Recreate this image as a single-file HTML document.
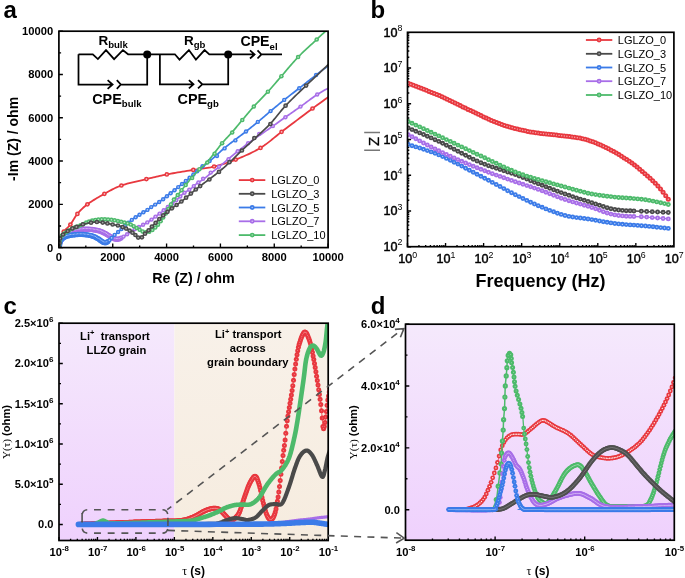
<!DOCTYPE html>
<html><head><meta charset="utf-8"><style>
html,body{margin:0;padding:0;background:#fff;width:685px;height:578px;overflow:hidden}
svg{display:block;will-change:transform}
text{font-family:"Liberation Sans",sans-serif}
</style></head><body><svg width="685" height="578" viewBox="0 0 685 578"><defs><clipPath id="clipA"><rect x="58.9" y="31.2" width="269.2" height="216.4"/></clipPath></defs><text x="3.60" y="17.80" font-family="Liberation Sans" font-size="24.00" font-weight="bold" text-anchor="start" >a</text><path d="M58.9 247.60 H62.9 M58.90 247.6 V243.6 M58.9 225.96 H61.1 M85.82 247.6 V245.4 M58.9 204.32 H62.9 M112.74 247.6 V243.6 M58.9 182.68 H61.1 M139.66 247.6 V245.4 M58.9 161.04 H62.9 M166.58 247.6 V243.6 M58.9 139.40 H61.1 M193.50 247.6 V245.4 M58.9 117.76 H62.9 M220.42 247.6 V243.6 M58.9 96.12 H61.1 M247.34 247.6 V245.4 M58.9 74.48 H62.9 M274.26 247.6 V243.6 M58.9 52.84 H61.1 M301.18 247.6 V245.4 M58.9 31.20 H62.9 M328.10 247.6 V243.6" stroke="#000" stroke-width="1.35" fill="none"/><text x="53.20" y="251.50" font-family="Liberation Sans" font-size="11.20" font-weight="bold" text-anchor="end" >0</text><text x="58.90" y="261.40" font-family="Liberation Sans" font-size="11.20" font-weight="bold" text-anchor="middle" >0</text><text x="53.20" y="208.22" font-family="Liberation Sans" font-size="11.20" font-weight="bold" text-anchor="end" >2000</text><text x="112.74" y="261.40" font-family="Liberation Sans" font-size="11.20" font-weight="bold" text-anchor="middle" >2000</text><text x="53.20" y="164.94" font-family="Liberation Sans" font-size="11.20" font-weight="bold" text-anchor="end" >4000</text><text x="166.58" y="261.40" font-family="Liberation Sans" font-size="11.20" font-weight="bold" text-anchor="middle" >4000</text><text x="53.20" y="121.66" font-family="Liberation Sans" font-size="11.20" font-weight="bold" text-anchor="end" >6000</text><text x="220.42" y="261.40" font-family="Liberation Sans" font-size="11.20" font-weight="bold" text-anchor="middle" >6000</text><text x="53.20" y="78.38" font-family="Liberation Sans" font-size="11.20" font-weight="bold" text-anchor="end" >8000</text><text x="274.26" y="261.40" font-family="Liberation Sans" font-size="11.20" font-weight="bold" text-anchor="middle" >8000</text><text x="53.20" y="35.10" font-family="Liberation Sans" font-size="11.20" font-weight="bold" text-anchor="end" >10000</text><text x="328.10" y="261.40" font-family="Liberation Sans" font-size="11.20" font-weight="bold" text-anchor="middle" >10000</text><text x="193.50" y="283.20" font-family="Liberation Sans" font-size="14.30" font-weight="bold" text-anchor="middle" >Re (Z) / ohm</text><text transform="translate(18,138.9) rotate(-90)" font-family="Liberation Sans" font-size="14" font-weight="bold" text-anchor="middle">-Im (Z) / ohm</text><g clip-path="url(#clipA)"><path d="M59.30 246.80 L59.35 246.52 L59.40 246.16 L59.47 245.73 L59.54 245.26 L59.62 244.74 L59.71 244.20 L59.80 243.64 L59.89 243.07 L59.99 242.52 L60.09 241.98 L60.20 241.47 L60.30 241.00 L60.41 240.56 L60.52 240.14 L60.63 239.73 L60.74 239.32 L60.86 238.92 L60.99 238.53 L61.11 238.14 L61.24 237.76 L61.38 237.37 L61.52 236.98 L61.66 236.59 L61.80 236.20 L61.93 235.81 L62.05 235.44 L62.16 235.07 L62.26 234.71 L62.36 234.35 L62.48 233.99 L62.62 233.62 L62.77 233.23 L62.96 232.83 L63.19 232.42 L63.47 231.97 L63.80 231.50 L64.19 231.01 L64.63 230.51 L65.12 230.00 L65.64 229.47 L66.20 228.93 L66.79 228.37 L67.39 227.79 L68.00 227.19 L68.61 226.56 L69.22 225.90 L69.82 225.22 L70.40 224.50 L70.96 223.74 L71.51 222.93 L72.05 222.08 L72.59 221.20 L73.14 220.29 L73.69 219.36 L74.25 218.43 L74.83 217.49 L75.43 216.56 L76.06 215.65 L76.71 214.76 L77.40 213.90 L78.11 213.07 L78.81 212.25 L79.53 211.45 L80.25 210.66 L81.00 209.87 L81.78 209.09 L82.59 208.31 L83.44 207.53 L84.34 206.74 L85.29 205.94 L86.31 205.13 L87.40 204.30 L88.57 203.45 L89.83 202.58 L91.16 201.69 L92.55 200.79 L93.99 199.88 L95.46 198.97 L96.96 198.06 L98.47 197.17 L99.99 196.29 L101.49 195.43 L102.96 194.60 L104.40 193.80 L105.79 193.03 L107.14 192.27 L108.46 191.53 L109.77 190.80 L111.08 190.09 L112.40 189.39 L113.75 188.71 L115.14 188.04 L116.59 187.39 L118.10 186.75 L119.70 186.12 L121.40 185.50 L123.22 184.89 L125.16 184.30 L127.20 183.73 L129.31 183.16 L131.48 182.61 L133.69 182.07 L135.90 181.55 L138.11 181.04 L140.29 180.54 L142.41 180.05 L144.45 179.57 L146.40 179.10 L148.24 178.65 L150.00 178.22 L151.68 177.80 L153.31 177.40 L154.92 177.01 L156.51 176.63 L158.10 176.26 L159.72 175.89 L161.38 175.52 L163.10 175.15 L164.90 174.78 L166.80 174.40 L168.81 174.01 L170.93 173.63 L173.13 173.24 L175.39 172.84 L177.70 172.46 L180.03 172.07 L182.35 171.69 L184.66 171.31 L186.93 170.94 L189.14 170.58 L191.27 170.24 L193.30 169.90 L195.23 169.59 L197.09 169.31 L198.88 169.05 L200.63 168.81 L202.33 168.58 L204.01 168.35 L205.67 168.11 L207.32 167.85 L208.98 167.57 L210.65 167.26 L212.36 166.90 L214.10 166.50 L215.86 166.06 L217.62 165.61 L219.37 165.13 L221.12 164.64 L222.88 164.12 L224.65 163.57 L226.43 162.99 L228.23 162.39 L230.06 161.74 L231.91 161.07 L233.79 160.35 L235.70 159.60 L237.67 158.81 L239.69 157.98 L241.76 157.12 L243.87 156.22 L245.99 155.29 L248.13 154.32 L250.27 153.33 L252.39 152.30 L254.49 151.25 L256.54 150.16 L258.55 149.04 L260.50 147.90 L262.36 146.74 L264.12 145.55 L265.81 144.35 L267.44 143.13 L269.06 141.87 L270.67 140.58 L272.30 139.24 L273.98 137.86 L275.72 136.43 L277.56 134.95 L279.51 133.41 L281.60 131.80 L283.86 130.09 L286.29 128.24 L288.86 126.30 L291.52 124.28 L294.26 122.21 L297.03 120.11 L299.80 118.02 L302.53 115.96 L305.21 113.95 L307.78 112.02 L310.22 110.19 L312.50 108.50 L314.69 106.89 L316.88 105.29 L319.04 103.71 L321.16 102.18 L323.21 100.70 L325.18 99.29 L327.04 97.96 L328.77 96.73 L330.36 95.60 L331.77 94.60 L332.99 93.72 L334.00 93.00" stroke="#e8383f" stroke-width="1.8" fill="none"/><g fill="#e8383f"><circle cx="59.3" cy="246.8" r="2.35"/><circle cx="60.3" cy="241.0" r="2.35"/><circle cx="61.8" cy="236.2" r="2.35"/><circle cx="63.8" cy="231.5" r="2.35"/><circle cx="70.4" cy="224.5" r="2.35"/><circle cx="77.4" cy="213.9" r="2.35"/><circle cx="87.4" cy="204.3" r="2.35"/><circle cx="104.4" cy="193.8" r="2.35"/><circle cx="121.4" cy="185.5" r="2.35"/><circle cx="146.4" cy="179.1" r="2.35"/><circle cx="166.8" cy="174.4" r="2.35"/><circle cx="193.3" cy="169.9" r="2.35"/><circle cx="214.1" cy="166.5" r="2.35"/><circle cx="235.7" cy="159.6" r="2.35"/><circle cx="260.5" cy="147.9" r="2.35"/><circle cx="281.6" cy="131.8" r="2.35"/><circle cx="312.5" cy="108.5" r="2.35"/></g><g fill="#f8c3c5"><circle cx="59.3" cy="246.8" r="0.85"/><circle cx="60.3" cy="241.0" r="0.85"/><circle cx="61.8" cy="236.2" r="0.85"/><circle cx="63.8" cy="231.5" r="0.85"/><circle cx="70.4" cy="224.5" r="0.85"/><circle cx="77.4" cy="213.9" r="0.85"/><circle cx="87.4" cy="204.3" r="0.85"/><circle cx="104.4" cy="193.8" r="0.85"/><circle cx="121.4" cy="185.5" r="0.85"/><circle cx="146.4" cy="179.1" r="0.85"/><circle cx="166.8" cy="174.4" r="0.85"/><circle cx="193.3" cy="169.9" r="0.85"/><circle cx="214.1" cy="166.5" r="0.85"/><circle cx="235.7" cy="159.6" r="0.85"/><circle cx="260.5" cy="147.9" r="0.85"/><circle cx="281.6" cy="131.8" r="0.85"/><circle cx="312.5" cy="108.5" r="0.85"/></g><g clip-path="url(#clipA)"><path d="M59.20 247.00 L59.23 246.76 L59.27 246.44 L59.32 246.08 L59.36 245.67 L59.42 245.22 L59.48 244.75 L59.54 244.27 L59.61 243.78 L59.70 243.30 L59.79 242.83 L59.89 242.40 L60.00 242.00 L60.12 241.63 L60.25 241.27 L60.38 240.92 L60.52 240.57 L60.67 240.24 L60.83 239.91 L61.00 239.58 L61.18 239.26 L61.37 238.94 L61.57 238.63 L61.78 238.31 L62.00 238.00 L62.24 237.69 L62.48 237.38 L62.75 237.07 L63.02 236.76 L63.30 236.46 L63.59 236.16 L63.89 235.86 L64.20 235.57 L64.52 235.29 L64.84 235.02 L65.17 234.76 L65.50 234.50 L65.84 234.25 L66.17 234.02 L66.52 233.79 L66.87 233.56 L67.23 233.35 L67.59 233.14 L67.97 232.93 L68.35 232.74 L68.75 232.55 L69.15 232.36 L69.57 232.18 L70.00 232.00 L70.45 231.83 L70.91 231.66 L71.39 231.50 L71.89 231.34 L72.39 231.19 L72.91 231.05 L73.42 230.91 L73.94 230.78 L74.46 230.65 L74.98 230.53 L75.50 230.41 L76.00 230.30 L76.50 230.19 L77.00 230.10 L77.50 230.00 L78.00 229.91 L78.50 229.83 L79.00 229.76 L79.50 229.68 L80.00 229.62 L80.50 229.56 L81.00 229.50 L81.50 229.45 L82.00 229.40 L82.50 229.36 L83.00 229.32 L83.50 229.28 L84.00 229.25 L84.50 229.23 L85.00 229.21 L85.50 229.19 L86.00 229.18 L86.50 229.18 L87.00 229.18 L87.50 229.19 L88.00 229.20 L88.50 229.22 L89.00 229.24 L89.50 229.28 L90.00 229.31 L90.50 229.35 L91.00 229.40 L91.50 229.45 L92.00 229.51 L92.50 229.57 L93.00 229.64 L93.50 229.72 L94.00 229.80 L94.50 229.89 L95.01 229.98 L95.52 230.08 L96.04 230.18 L96.55 230.29 L97.06 230.40 L97.57 230.52 L98.07 230.64 L98.57 230.78 L99.06 230.91 L99.54 231.05 L100.00 231.20 L100.45 231.35 L100.90 231.52 L101.33 231.68 L101.76 231.86 L102.18 232.04 L102.59 232.22 L103.00 232.41 L103.41 232.61 L103.81 232.80 L104.21 233.00 L104.60 233.20 L105.00 233.40 L105.40 233.60 L105.79 233.81 L106.18 234.03 L106.57 234.25 L106.96 234.47 L107.34 234.69 L107.72 234.92 L108.09 235.14 L108.46 235.36 L108.81 235.58 L109.16 235.79 L109.50 236.00 L109.83 236.21 L110.14 236.42 L110.45 236.63 L110.74 236.84 L111.03 237.05 L111.31 237.26 L111.59 237.46 L111.87 237.65 L112.15 237.83 L112.43 238.00 L112.71 238.16 L113.00 238.30 L113.29 238.43 L113.58 238.55 L113.88 238.66 L114.17 238.76 L114.46 238.85 L114.75 238.93 L115.04 239.00 L115.33 239.06 L115.62 239.11 L115.92 239.15 L116.21 239.18 L116.50 239.20 L116.78 239.21 L117.05 239.22 L117.31 239.23 L117.57 239.23 L117.82 239.21 L118.08 239.19 L118.35 239.15 L118.63 239.09 L118.94 239.00 L119.26 238.90 L119.61 238.76 L120.00 238.60 L120.42 238.40 L120.89 238.17 L121.38 237.90 L121.89 237.60 L122.43 237.29 L122.97 236.96 L123.53 236.61 L124.09 236.26 L124.64 235.91 L125.18 235.56 L125.70 235.23 L126.20 234.90 L126.68 234.58 L127.16 234.25 L127.63 233.92 L128.09 233.59 L128.55 233.25 L129.00 232.91 L129.45 232.58 L129.90 232.25 L130.35 231.92 L130.80 231.61 L131.25 231.30 L131.70 231.00 L132.15 230.71 L132.60 230.44 L133.04 230.17 L133.47 229.91 L133.91 229.66 L134.35 229.41 L134.79 229.16 L135.24 228.91 L135.69 228.66 L136.15 228.41 L136.62 228.16 L137.10 227.90 L137.59 227.64 L138.10 227.38 L138.61 227.12 L139.14 226.86 L139.67 226.60 L140.20 226.34 L140.74 226.08 L141.27 225.81 L141.81 225.54 L142.35 225.27 L142.88 224.99 L143.40 224.70 L143.92 224.40 L144.45 224.10 L144.98 223.79 L145.50 223.48 L146.03 223.16 L146.56 222.84 L147.08 222.52 L147.60 222.20 L148.11 221.87 L148.61 221.55 L149.11 221.22 L149.60 220.90 L150.08 220.58 L150.54 220.27 L150.99 219.95 L151.43 219.64 L151.86 219.32 L152.29 219.01 L152.73 218.69 L153.16 218.36 L153.61 218.03 L154.06 217.70 L154.52 217.35 L155.00 217.00 L155.50 216.64 L156.01 216.26 L156.53 215.87 L157.07 215.48 L157.61 215.08 L158.15 214.68 L158.69 214.28 L159.23 213.87 L159.77 213.47 L160.29 213.08 L160.80 212.68 L161.30 212.30 L161.78 211.92 L162.25 211.55 L162.71 211.17 L163.16 210.80 L163.61 210.44 L164.05 210.07 L164.49 209.70 L164.93 209.34 L165.36 208.98 L165.80 208.62 L166.25 208.26 L166.70 207.90 L167.16 207.54 L167.61 207.19 L168.07 206.85 L168.53 206.50 L168.99 206.16 L169.45 205.82 L169.91 205.48 L170.37 205.13 L170.83 204.78 L171.29 204.43 L171.74 204.07 L172.20 203.70 L172.65 203.33 L173.10 202.96 L173.54 202.58 L173.98 202.21 L174.42 201.83 L174.86 201.44 L175.30 201.05 L175.74 200.66 L176.20 200.26 L176.65 199.85 L177.12 199.43 L177.60 199.00 L178.09 198.56 L178.58 198.10 L179.07 197.62 L179.57 197.14 L180.08 196.65 L180.59 196.15 L181.11 195.65 L181.64 195.16 L182.17 194.68 L182.71 194.20 L183.25 193.74 L183.80 193.30 L184.37 192.87 L184.95 192.46 L185.55 192.05 L186.16 191.66 L186.78 191.27 L187.40 190.89 L188.02 190.51 L188.63 190.13 L189.22 189.75 L189.80 189.37 L190.36 188.99 L190.90 188.60 L191.40 188.21 L191.88 187.82 L192.33 187.42 L192.76 187.03 L193.18 186.64 L193.60 186.25 L194.02 185.86 L194.44 185.47 L194.87 185.07 L195.32 184.68 L195.80 184.29 L196.30 183.90 L196.83 183.51 L197.38 183.13 L197.95 182.76 L198.53 182.38 L199.12 182.01 L199.72 181.63 L200.33 181.25 L200.94 180.86 L201.56 180.47 L202.17 180.06 L202.79 179.64 L203.40 179.20 L204.01 178.75 L204.61 178.28 L205.22 177.81 L205.83 177.32 L206.44 176.83 L207.05 176.32 L207.67 175.82 L208.30 175.30 L208.93 174.78 L209.58 174.26 L210.23 173.73 L210.90 173.20 L211.58 172.67 L212.28 172.13 L212.99 171.59 L213.71 171.04 L214.44 170.49 L215.17 169.94 L215.91 169.38 L216.66 168.81 L217.40 168.24 L218.14 167.67 L218.87 167.09 L219.60 166.50 L220.32 165.91 L221.05 165.31 L221.77 164.70 L222.49 164.09 L223.20 163.47 L223.92 162.85 L224.65 162.23 L225.37 161.60 L226.10 160.97 L226.83 160.35 L227.56 159.72 L228.30 159.10 L229.04 158.48 L229.78 157.86 L230.51 157.25 L231.24 156.63 L231.98 156.02 L232.72 155.40 L233.47 154.78 L234.23 154.16 L235.00 153.53 L235.79 152.89 L236.58 152.25 L237.40 151.60 L238.23 150.94 L239.07 150.28 L239.92 149.61 L240.79 148.94 L241.66 148.26 L242.54 147.57 L243.44 146.89 L244.35 146.20 L245.27 145.50 L246.20 144.80 L247.14 144.10 L248.10 143.40 L249.07 142.69 L250.07 141.98 L251.08 141.26 L252.11 140.53 L253.15 139.81 L254.19 139.07 L255.25 138.34 L256.30 137.61 L257.36 136.88 L258.41 136.15 L259.46 135.42 L260.50 134.70 L261.53 133.98 L262.57 133.26 L263.60 132.55 L264.63 131.84 L265.66 131.12 L266.69 130.41 L267.73 129.70 L268.76 128.99 L269.79 128.27 L270.83 127.55 L271.86 126.83 L272.90 126.10 L273.93 125.37 L274.95 124.65 L275.96 123.94 L276.96 123.22 L277.97 122.50 L278.98 121.77 L280.00 121.04 L281.04 120.30 L282.09 119.55 L283.17 118.79 L284.27 118.00 L285.40 117.20 L286.56 116.38 L287.75 115.55 L288.95 114.70 L290.18 113.85 L291.43 112.98 L292.69 112.10 L293.96 111.21 L295.25 110.31 L296.55 109.40 L297.86 108.47 L299.18 107.54 L300.50 106.60 L301.85 105.63 L303.24 104.61 L304.65 103.57 L306.09 102.50 L307.54 101.42 L308.99 100.34 L310.44 99.28 L311.86 98.23 L313.26 97.22 L314.62 96.26 L315.94 95.35 L317.20 94.50 L318.44 93.70 L319.71 92.92 L320.97 92.17 L322.23 91.44 L323.46 90.75 L324.64 90.09 L325.77 89.48 L326.83 88.91 L327.79 88.40 L328.65 87.94 L329.39 87.54 L330.00 87.20" stroke="#a86ee8" stroke-width="1.70" fill="none" stroke-linejoin="round"/><g fill="#a86ee8"><circle cx="59.2" cy="247.0" r="2.70"/><circle cx="59.4" cy="245.6" r="2.70"/><circle cx="59.5" cy="244.2" r="2.70"/><circle cx="59.8" cy="242.8" r="2.70"/><circle cx="60.2" cy="241.5" r="2.70"/><circle cx="60.7" cy="240.2" r="2.70"/><circle cx="61.4" cy="239.0" r="2.70"/><circle cx="62.1" cy="237.8" r="2.70"/><circle cx="63.0" cy="236.7" r="2.70"/><circle cx="64.0" cy="235.7" r="2.70"/><circle cx="65.1" cy="234.8" r="2.70"/><circle cx="66.2" cy="234.0" r="2.70"/><circle cx="67.4" cy="233.3" r="2.70"/><circle cx="68.6" cy="232.6" r="2.70"/><circle cx="69.9" cy="232.0" r="2.70"/><circle cx="71.2" cy="231.6" r="2.70"/><circle cx="72.6" cy="231.1" r="2.70"/><circle cx="73.9" cy="230.8" r="2.70"/><circle cx="75.3" cy="230.5" r="2.70"/><circle cx="76.7" cy="230.2" r="2.70"/><circle cx="78.0" cy="229.9" r="2.70"/><circle cx="79.4" cy="229.7" r="2.70"/><circle cx="80.8" cy="229.5" r="2.70"/><circle cx="82.2" cy="229.4" r="2.70"/><circle cx="83.6" cy="229.3" r="2.70"/><circle cx="85.0" cy="229.2" r="2.70"/><circle cx="86.4" cy="229.2" r="2.70"/><circle cx="87.8" cy="229.2" r="2.70"/><circle cx="89.2" cy="229.3" r="2.70"/><circle cx="90.6" cy="229.4" r="2.70"/><circle cx="92.0" cy="229.5" r="2.70"/><circle cx="93.4" cy="229.7" r="2.70"/><circle cx="94.7" cy="229.9" r="2.70"/><circle cx="96.1" cy="230.2" r="2.70"/><circle cx="97.5" cy="230.5" r="2.70"/><circle cx="98.8" cy="230.8" r="2.70"/><circle cx="100.2" cy="231.3" r="2.70"/><circle cx="101.5" cy="231.7" r="2.70"/><circle cx="102.8" cy="232.3" r="2.70"/><circle cx="104.0" cy="232.9" r="2.70"/><circle cx="105.3" cy="233.5" r="2.70"/><circle cx="106.5" cy="234.2" r="2.70"/><circle cx="107.7" cy="234.9" r="2.70"/><circle cx="108.9" cy="235.6" r="2.70"/><circle cx="110.1" cy="236.4" r="2.70"/><circle cx="111.2" cy="237.2" r="2.70"/><circle cx="112.4" cy="238.0" r="2.70"/><circle cx="113.7" cy="238.6" r="2.70"/><circle cx="115.0" cy="239.0" r="2.70"/><circle cx="116.4" cy="239.2" r="2.70"/><circle cx="117.8" cy="239.2" r="2.70"/><circle cx="119.2" cy="238.9" r="2.70"/><circle cx="121.0" cy="238.1" r="2.70"/></g><g fill="#e0ccf6"><circle cx="59.2" cy="246.3" r="0.50"/><circle cx="59.4" cy="244.9" r="0.50"/><circle cx="59.5" cy="243.5" r="0.50"/><circle cx="59.8" cy="242.1" r="0.50"/><circle cx="60.2" cy="240.8" r="0.50"/><circle cx="60.7" cy="239.5" r="0.50"/><circle cx="61.4" cy="238.3" r="0.50"/><circle cx="62.1" cy="237.1" r="0.50"/><circle cx="63.0" cy="236.0" r="0.50"/><circle cx="64.0" cy="235.0" r="0.50"/><circle cx="65.1" cy="234.1" r="0.50"/><circle cx="66.2" cy="233.3" r="0.50"/><circle cx="67.4" cy="232.6" r="0.50"/><circle cx="68.6" cy="231.9" r="0.50"/><circle cx="69.9" cy="231.3" r="0.50"/><circle cx="71.2" cy="230.9" r="0.50"/><circle cx="72.6" cy="230.4" r="0.50"/><circle cx="73.9" cy="230.1" r="0.50"/><circle cx="75.3" cy="229.8" r="0.50"/><circle cx="76.7" cy="229.5" r="0.50"/><circle cx="78.0" cy="229.2" r="0.50"/><circle cx="79.4" cy="229.0" r="0.50"/><circle cx="80.8" cy="228.8" r="0.50"/><circle cx="82.2" cy="228.7" r="0.50"/><circle cx="83.6" cy="228.6" r="0.50"/><circle cx="85.0" cy="228.5" r="0.50"/><circle cx="86.4" cy="228.5" r="0.50"/><circle cx="87.8" cy="228.5" r="0.50"/><circle cx="89.2" cy="228.6" r="0.50"/><circle cx="90.6" cy="228.7" r="0.50"/><circle cx="92.0" cy="228.8" r="0.50"/><circle cx="93.4" cy="229.0" r="0.50"/><circle cx="94.7" cy="229.2" r="0.50"/><circle cx="96.1" cy="229.5" r="0.50"/><circle cx="97.5" cy="229.8" r="0.50"/><circle cx="98.8" cy="230.1" r="0.50"/><circle cx="100.2" cy="230.6" r="0.50"/><circle cx="101.5" cy="231.0" r="0.50"/><circle cx="102.8" cy="231.6" r="0.50"/><circle cx="104.0" cy="232.2" r="0.50"/><circle cx="105.3" cy="232.8" r="0.50"/><circle cx="106.5" cy="233.5" r="0.50"/><circle cx="107.7" cy="234.2" r="0.50"/><circle cx="108.9" cy="234.9" r="0.50"/><circle cx="110.1" cy="235.7" r="0.50"/><circle cx="111.2" cy="236.5" r="0.50"/><circle cx="112.4" cy="237.3" r="0.50"/><circle cx="113.7" cy="237.9" r="0.50"/><circle cx="115.0" cy="238.3" r="0.50"/><circle cx="116.4" cy="238.5" r="0.50"/><circle cx="117.8" cy="238.5" r="0.50"/><circle cx="119.2" cy="238.2" r="0.50"/><circle cx="121.0" cy="237.4" r="0.50"/></g><g fill="#a86ee8"><circle cx="123.5" cy="236.6" r="2.20"/><circle cx="127.1" cy="234.3" r="2.20"/><circle cx="130.8" cy="231.6" r="2.20"/><circle cx="134.7" cy="229.2" r="2.20"/><circle cx="138.9" cy="227.0" r="2.20"/><circle cx="143.1" cy="224.8" r="2.20"/><circle cx="147.3" cy="222.4" r="2.20"/><circle cx="151.5" cy="219.6" r="2.20"/><circle cx="155.5" cy="216.6" r="2.20"/><circle cx="159.6" cy="213.6" r="2.20"/><circle cx="163.7" cy="210.3" r="2.20"/><circle cx="167.8" cy="207.0" r="2.20"/><circle cx="172.1" cy="203.8" r="2.20"/><circle cx="176.2" cy="200.2" r="2.20"/><circle cx="180.3" cy="196.5" r="2.20"/><circle cx="184.5" cy="192.8" r="2.20"/><circle cx="189.3" cy="189.7" r="2.20"/><circle cx="193.8" cy="186.1" r="2.20"/><circle cx="198.4" cy="182.5" r="2.20"/><circle cx="203.1" cy="178.8" r="2.20"/><circle cx="210.7" cy="172.6" r="2.20"/><circle cx="219.0" cy="166.7" r="2.20"/><circle cx="228.5" cy="159.2" r="2.20"/><circle cx="237.7" cy="151.2" r="2.20"/><circle cx="248.1" cy="143.2" r="2.20"/><circle cx="259.2" cy="133.9" r="2.20"/><circle cx="272.9" cy="126.1" r="2.20"/><circle cx="285.4" cy="117.2" r="2.20"/><circle cx="300.5" cy="106.6" r="2.20"/><circle cx="317.2" cy="94.5" r="2.20"/></g><g fill="#e0ccf6"><circle cx="123.5" cy="236.6" r="0.80"/><circle cx="127.1" cy="234.3" r="0.80"/><circle cx="130.8" cy="231.6" r="0.80"/><circle cx="134.7" cy="229.2" r="0.80"/><circle cx="138.9" cy="227.0" r="0.80"/><circle cx="143.1" cy="224.8" r="0.80"/><circle cx="147.3" cy="222.4" r="0.80"/><circle cx="151.5" cy="219.6" r="0.80"/><circle cx="155.5" cy="216.6" r="0.80"/><circle cx="159.6" cy="213.6" r="0.80"/><circle cx="163.7" cy="210.3" r="0.80"/><circle cx="167.8" cy="207.0" r="0.80"/><circle cx="172.1" cy="203.8" r="0.80"/><circle cx="176.2" cy="200.2" r="0.80"/><circle cx="180.3" cy="196.5" r="0.80"/><circle cx="184.5" cy="192.8" r="0.80"/><circle cx="189.3" cy="189.7" r="0.80"/><circle cx="193.8" cy="186.1" r="0.80"/><circle cx="198.4" cy="182.5" r="0.80"/><circle cx="203.1" cy="178.8" r="0.80"/><circle cx="210.7" cy="172.6" r="0.80"/><circle cx="219.0" cy="166.7" r="0.80"/><circle cx="228.5" cy="159.2" r="0.80"/><circle cx="237.7" cy="151.2" r="0.80"/><circle cx="248.1" cy="143.2" r="0.80"/><circle cx="259.2" cy="133.9" r="0.80"/><circle cx="272.9" cy="126.1" r="0.80"/><circle cx="285.4" cy="117.2" r="0.80"/><circle cx="300.5" cy="106.6" r="0.80"/><circle cx="317.2" cy="94.5" r="0.80"/></g></g><g clip-path="url(#clipA)"><path d="M59.20 247.00 L59.23 246.81 L59.25 246.56 L59.28 246.27 L59.31 245.94 L59.35 245.59 L59.39 245.22 L59.44 244.83 L59.50 244.44 L59.56 244.06 L59.63 243.68 L59.71 243.33 L59.80 243.00 L59.90 242.69 L60.00 242.37 L60.12 242.06 L60.24 241.75 L60.36 241.45 L60.50 241.14 L60.64 240.85 L60.80 240.56 L60.96 240.28 L61.13 240.01 L61.31 239.75 L61.50 239.50 L61.70 239.26 L61.91 239.04 L62.12 238.82 L62.35 238.62 L62.58 238.42 L62.83 238.23 L63.08 238.05 L63.34 237.87 L63.61 237.70 L63.90 237.53 L64.19 237.36 L64.50 237.20 L64.82 237.04 L65.15 236.88 L65.48 236.73 L65.83 236.59 L66.19 236.45 L66.56 236.31 L66.94 236.18 L67.33 236.06 L67.73 235.93 L68.15 235.82 L68.57 235.71 L69.00 235.60 L69.45 235.50 L69.91 235.40 L70.38 235.31 L70.86 235.23 L71.36 235.14 L71.86 235.07 L72.37 235.00 L72.89 234.93 L73.42 234.87 L73.94 234.81 L74.47 234.75 L75.00 234.70 L75.54 234.65 L76.08 234.60 L76.64 234.56 L77.20 234.52 L77.76 234.49 L78.33 234.46 L78.90 234.43 L79.47 234.41 L80.04 234.40 L80.60 234.39 L81.15 234.39 L81.70 234.40 L82.24 234.42 L82.78 234.44 L83.31 234.46 L83.84 234.50 L84.37 234.54 L84.89 234.58 L85.42 234.63 L85.94 234.69 L86.46 234.76 L86.97 234.83 L87.49 234.91 L88.00 235.00 L88.52 235.10 L89.03 235.20 L89.56 235.31 L90.08 235.43 L90.60 235.56 L91.11 235.69 L91.62 235.83 L92.12 235.97 L92.61 236.12 L93.09 236.28 L93.55 236.44 L94.00 236.60 L94.43 236.77 L94.85 236.95 L95.25 237.14 L95.65 237.34 L96.03 237.54 L96.41 237.74 L96.77 237.95 L97.13 238.16 L97.48 238.37 L97.83 238.58 L98.16 238.79 L98.50 239.00 L98.83 239.21 L99.15 239.42 L99.46 239.65 L99.76 239.87 L100.05 240.10 L100.34 240.32 L100.63 240.54 L100.91 240.75 L101.18 240.96 L101.46 241.15 L101.73 241.33 L102.00 241.50 L102.27 241.66 L102.53 241.82 L102.79 241.97 L103.04 242.11 L103.30 242.25 L103.54 242.38 L103.79 242.50 L104.03 242.60 L104.28 242.68 L104.52 242.74 L104.76 242.78 L105.00 242.80 L105.24 242.79 L105.47 242.77 L105.70 242.72 L105.93 242.66 L106.16 242.57 L106.39 242.48 L106.62 242.36 L106.84 242.23 L107.08 242.09 L107.31 241.94 L107.55 241.77 L107.80 241.60 L108.05 241.41 L108.30 241.20 L108.55 240.98 L108.81 240.74 L109.06 240.48 L109.32 240.22 L109.59 239.94 L109.86 239.66 L110.13 239.38 L110.42 239.08 L110.70 238.79 L111.00 238.50 L111.30 238.20 L111.61 237.90 L111.92 237.59 L112.24 237.27 L112.56 236.95 L112.89 236.62 L113.22 236.29 L113.56 235.95 L113.91 235.61 L114.27 235.28 L114.63 234.94 L115.00 234.60 L115.38 234.27 L115.76 233.94 L116.15 233.61 L116.55 233.28 L116.95 232.95 L117.36 232.62 L117.78 232.28 L118.21 231.93 L118.64 231.57 L119.09 231.20 L119.54 230.81 L120.00 230.40 L120.48 229.97 L120.98 229.51 L121.50 229.02 L122.03 228.52 L122.57 228.01 L123.12 227.49 L123.66 226.97 L124.20 226.46 L124.73 225.96 L125.24 225.48 L125.73 225.03 L126.20 224.60 L126.64 224.20 L127.07 223.82 L127.48 223.46 L127.88 223.11 L128.26 222.77 L128.64 222.44 L129.02 222.13 L129.39 221.81 L129.76 221.51 L130.13 221.21 L130.51 220.90 L130.90 220.60 L131.29 220.30 L131.68 220.01 L132.06 219.73 L132.44 219.46 L132.82 219.19 L133.21 218.92 L133.59 218.65 L133.98 218.39 L134.38 218.12 L134.78 217.85 L135.18 217.58 L135.60 217.30 L136.02 217.02 L136.45 216.73 L136.88 216.45 L137.31 216.16 L137.75 215.87 L138.20 215.58 L138.65 215.29 L139.11 215.00 L139.57 214.70 L140.04 214.40 L140.52 214.10 L141.00 213.80 L141.50 213.49 L142.02 213.18 L142.55 212.86 L143.10 212.54 L143.65 212.22 L144.20 211.89 L144.75 211.57 L145.29 211.25 L145.82 210.93 L146.34 210.61 L146.83 210.30 L147.30 210.00 L147.74 209.70 L148.17 209.40 L148.58 209.10 L148.97 208.81 L149.36 208.51 L149.73 208.22 L150.10 207.94 L150.46 207.66 L150.82 207.38 L151.18 207.12 L151.54 206.85 L151.90 206.60 L152.26 206.36 L152.62 206.13 L152.97 205.91 L153.31 205.69 L153.65 205.49 L153.99 205.28 L154.33 205.08 L154.68 204.87 L155.02 204.67 L155.38 204.45 L155.73 204.23 L156.10 204.00 L156.48 203.76 L156.86 203.52 L157.25 203.27 L157.64 203.01 L158.04 202.76 L158.44 202.50 L158.84 202.24 L159.24 201.97 L159.63 201.71 L160.03 201.44 L160.42 201.17 L160.80 200.90 L161.18 200.63 L161.55 200.35 L161.92 200.07 L162.29 199.79 L162.66 199.50 L163.03 199.22 L163.39 198.93 L163.75 198.64 L164.11 198.36 L164.48 198.07 L164.84 197.78 L165.20 197.50 L165.56 197.22 L165.91 196.94 L166.27 196.66 L166.61 196.39 L166.96 196.11 L167.31 195.83 L167.66 195.55 L168.02 195.27 L168.38 194.99 L168.74 194.70 L169.12 194.40 L169.50 194.10 L169.89 193.79 L170.30 193.48 L170.71 193.16 L171.13 192.84 L171.55 192.52 L171.97 192.19 L172.40 191.86 L172.83 191.53 L173.25 191.19 L173.68 190.86 L174.09 190.53 L174.50 190.20 L174.90 189.87 L175.30 189.53 L175.70 189.20 L176.09 188.86 L176.48 188.52 L176.88 188.18 L177.26 187.84 L177.65 187.51 L178.04 187.17 L178.43 186.84 L178.81 186.52 L179.20 186.20 L179.59 185.89 L179.97 185.58 L180.36 185.27 L180.75 184.97 L181.13 184.67 L181.52 184.37 L181.90 184.08 L182.29 183.79 L182.67 183.49 L183.05 183.20 L183.42 182.90 L183.80 182.60 L184.17 182.30 L184.55 182.00 L184.92 181.70 L185.29 181.40 L185.66 181.10 L186.03 180.80 L186.39 180.50 L186.76 180.20 L187.12 179.90 L187.48 179.60 L187.84 179.30 L188.20 179.00 L188.56 178.70 L188.92 178.40 L189.27 178.10 L189.63 177.79 L189.98 177.49 L190.33 177.19 L190.68 176.89 L191.03 176.59 L191.38 176.29 L191.72 175.99 L192.06 175.69 L192.40 175.40 L192.71 175.13 L192.99 174.88 L193.24 174.66 L193.47 174.44 L193.70 174.23 L193.94 174.01 L194.21 173.77 L194.51 173.50 L194.85 173.20 L195.26 172.86 L195.74 172.46 L196.30 172.00 L196.96 171.47 L197.71 170.87 L198.54 170.22 L199.43 169.52 L200.36 168.79 L201.33 168.03 L202.32 167.26 L203.31 166.48 L204.29 165.70 L205.24 164.94 L206.15 164.20 L207.00 163.50 L207.81 162.82 L208.61 162.14 L209.39 161.47 L210.16 160.80 L210.92 160.13 L211.67 159.47 L212.41 158.81 L213.14 158.16 L213.86 157.51 L214.58 156.87 L215.29 156.23 L216.00 155.60 L216.69 154.98 L217.36 154.37 L218.01 153.77 L218.65 153.19 L219.28 152.60 L219.91 152.02 L220.54 151.44 L221.19 150.85 L221.85 150.25 L222.53 149.65 L223.25 149.03 L224.00 148.40 L224.79 147.75 L225.60 147.09 L226.44 146.42 L227.29 145.75 L228.17 145.06 L229.06 144.38 L229.96 143.68 L230.86 142.99 L231.77 142.29 L232.69 141.59 L233.60 140.89 L234.50 140.20 L235.40 139.51 L236.30 138.83 L237.20 138.15 L238.11 137.47 L239.02 136.80 L239.93 136.11 L240.85 135.42 L241.78 134.73 L242.72 134.02 L243.67 133.29 L244.63 132.56 L245.60 131.80 L246.59 131.02 L247.59 130.23 L248.60 129.43 L249.63 128.61 L250.66 127.78 L251.71 126.94 L252.75 126.10 L253.80 125.24 L254.86 124.39 L255.91 123.53 L256.96 122.66 L258.00 121.80 L259.04 120.93 L260.08 120.06 L261.11 119.19 L262.15 118.30 L263.19 117.42 L264.23 116.53 L265.27 115.63 L266.32 114.73 L267.38 113.83 L268.44 112.92 L269.51 112.01 L270.60 111.10 L271.69 110.19 L272.79 109.27 L273.90 108.35 L275.01 107.42 L276.12 106.49 L277.25 105.56 L278.38 104.63 L279.53 103.69 L280.68 102.75 L281.84 101.80 L283.01 100.85 L284.20 99.90 L285.39 98.95 L286.60 98.00 L287.81 97.05 L289.03 96.09 L290.25 95.14 L291.49 94.18 L292.74 93.21 L294.01 92.23 L295.28 91.24 L296.57 90.24 L297.88 89.23 L299.20 88.20 L300.55 87.14 L301.94 86.06 L303.36 84.94 L304.80 83.81 L306.26 82.67 L307.72 81.52 L309.17 80.38 L310.62 79.26 L312.04 78.15 L313.43 77.06 L314.79 76.01 L316.10 75.00 L317.41 74.00 L318.75 72.97 L320.11 71.94 L321.47 70.91 L322.81 69.90 L324.11 68.92 L325.35 67.99 L326.51 67.12 L327.57 66.32 L328.52 65.61 L329.34 65.00 L330.00 64.50" stroke="#3b7be8" stroke-width="1.70" fill="none" stroke-linejoin="round"/><g fill="#3b7be8"><circle cx="59.2" cy="247.0" r="2.70"/><circle cx="59.4" cy="245.6" r="2.70"/><circle cx="59.5" cy="244.2" r="2.70"/><circle cx="59.8" cy="242.9" r="2.70"/><circle cx="60.3" cy="241.5" r="2.70"/><circle cx="61.0" cy="240.3" r="2.70"/><circle cx="61.8" cy="239.2" r="2.70"/><circle cx="62.8" cy="238.2" r="2.70"/><circle cx="64.0" cy="237.5" r="2.70"/><circle cx="65.2" cy="236.8" r="2.70"/><circle cx="66.5" cy="236.3" r="2.70"/><circle cx="67.9" cy="235.9" r="2.70"/><circle cx="69.2" cy="235.5" r="2.70"/><circle cx="70.6" cy="235.3" r="2.70"/><circle cx="72.0" cy="235.1" r="2.70"/><circle cx="73.4" cy="234.9" r="2.70"/><circle cx="74.8" cy="234.7" r="2.70"/><circle cx="76.2" cy="234.6" r="2.70"/><circle cx="77.6" cy="234.5" r="2.70"/><circle cx="79.0" cy="234.4" r="2.70"/><circle cx="80.4" cy="234.4" r="2.70"/><circle cx="81.8" cy="234.4" r="2.70"/><circle cx="83.2" cy="234.5" r="2.70"/><circle cx="84.6" cy="234.6" r="2.70"/><circle cx="85.9" cy="234.7" r="2.70"/><circle cx="87.3" cy="234.9" r="2.70"/><circle cx="88.7" cy="235.1" r="2.70"/><circle cx="90.1" cy="235.4" r="2.70"/><circle cx="91.4" cy="235.8" r="2.70"/><circle cx="92.8" cy="236.2" r="2.70"/><circle cx="94.1" cy="236.6" r="2.70"/><circle cx="95.4" cy="237.2" r="2.70"/><circle cx="96.6" cy="237.9" r="2.70"/><circle cx="97.8" cy="238.6" r="2.70"/><circle cx="99.0" cy="239.3" r="2.70"/><circle cx="100.1" cy="240.2" r="2.70"/><circle cx="101.2" cy="241.0" r="2.70"/><circle cx="102.4" cy="241.8" r="2.70"/><circle cx="103.6" cy="242.4" r="2.70"/><circle cx="105.0" cy="242.8" r="2.70"/><circle cx="106.3" cy="242.5" r="2.70"/><circle cx="107.7" cy="241.7" r="2.70"/></g><g fill="#bad0f6"><circle cx="59.2" cy="246.3" r="0.50"/><circle cx="59.4" cy="244.9" r="0.50"/><circle cx="59.5" cy="243.5" r="0.50"/><circle cx="59.8" cy="242.2" r="0.50"/><circle cx="60.3" cy="240.8" r="0.50"/><circle cx="61.0" cy="239.6" r="0.50"/><circle cx="61.8" cy="238.5" r="0.50"/><circle cx="62.8" cy="237.5" r="0.50"/><circle cx="64.0" cy="236.8" r="0.50"/><circle cx="65.2" cy="236.1" r="0.50"/><circle cx="66.5" cy="235.6" r="0.50"/><circle cx="67.9" cy="235.2" r="0.50"/><circle cx="69.2" cy="234.8" r="0.50"/><circle cx="70.6" cy="234.6" r="0.50"/><circle cx="72.0" cy="234.4" r="0.50"/><circle cx="73.4" cy="234.2" r="0.50"/><circle cx="74.8" cy="234.0" r="0.50"/><circle cx="76.2" cy="233.9" r="0.50"/><circle cx="77.6" cy="233.8" r="0.50"/><circle cx="79.0" cy="233.7" r="0.50"/><circle cx="80.4" cy="233.7" r="0.50"/><circle cx="81.8" cy="233.7" r="0.50"/><circle cx="83.2" cy="233.8" r="0.50"/><circle cx="84.6" cy="233.9" r="0.50"/><circle cx="85.9" cy="234.0" r="0.50"/><circle cx="87.3" cy="234.2" r="0.50"/><circle cx="88.7" cy="234.4" r="0.50"/><circle cx="90.1" cy="234.7" r="0.50"/><circle cx="91.4" cy="235.1" r="0.50"/><circle cx="92.8" cy="235.5" r="0.50"/><circle cx="94.1" cy="235.9" r="0.50"/><circle cx="95.4" cy="236.5" r="0.50"/><circle cx="96.6" cy="237.2" r="0.50"/><circle cx="97.8" cy="237.9" r="0.50"/><circle cx="99.0" cy="238.6" r="0.50"/><circle cx="100.1" cy="239.5" r="0.50"/><circle cx="101.2" cy="240.3" r="0.50"/><circle cx="102.4" cy="241.1" r="0.50"/><circle cx="103.6" cy="241.7" r="0.50"/><circle cx="105.0" cy="242.1" r="0.50"/><circle cx="106.3" cy="241.8" r="0.50"/><circle cx="107.7" cy="241.0" r="0.50"/></g><g fill="#3b7be8"><circle cx="109.4" cy="240.2" r="2.20"/><circle cx="111.6" cy="237.9" r="2.20"/><circle cx="114.6" cy="234.9" r="2.20"/><circle cx="118.1" cy="232.0" r="2.20"/><circle cx="121.5" cy="229.0" r="2.20"/><circle cx="124.8" cy="225.9" r="2.20"/><circle cx="128.2" cy="222.8" r="2.20"/><circle cx="131.8" cy="219.9" r="2.20"/><circle cx="135.6" cy="217.3" r="2.20"/><circle cx="139.5" cy="214.8" r="2.20"/><circle cx="143.4" cy="212.3" r="2.20"/><circle cx="147.4" cy="209.9" r="2.20"/><circle cx="151.2" cy="207.1" r="2.20"/><circle cx="155.2" cy="204.6" r="2.20"/><circle cx="159.2" cy="202.0" r="2.20"/><circle cx="163.1" cy="199.2" r="2.20"/><circle cx="166.9" cy="196.2" r="2.20"/><circle cx="170.6" cy="193.2" r="2.20"/><circle cx="174.5" cy="190.2" r="2.20"/><circle cx="178.2" cy="187.1" r="2.20"/><circle cx="182.0" cy="184.0" r="2.20"/><circle cx="185.8" cy="180.9" r="2.20"/><circle cx="189.6" cy="177.8" r="2.20"/><circle cx="193.4" cy="174.5" r="2.20"/><circle cx="197.2" cy="171.3" r="2.20"/><circle cx="202.5" cy="166.2" r="2.20"/><circle cx="209.6" cy="161.0" r="2.20"/><circle cx="217.0" cy="156.0" r="2.20"/><circle cx="224.6" cy="148.4" r="2.20"/><circle cx="235.4" cy="140.4" r="2.20"/><circle cx="246.0" cy="131.5" r="2.20"/><circle cx="257.8" cy="121.9" r="2.20"/><circle cx="270.6" cy="111.1" r="2.20"/><circle cx="284.2" cy="99.9" r="2.20"/><circle cx="299.2" cy="88.2" r="2.20"/><circle cx="316.1" cy="75.0" r="2.20"/></g><g fill="#bad0f6"><circle cx="109.4" cy="240.2" r="0.80"/><circle cx="111.6" cy="237.9" r="0.80"/><circle cx="114.6" cy="234.9" r="0.80"/><circle cx="118.1" cy="232.0" r="0.80"/><circle cx="121.5" cy="229.0" r="0.80"/><circle cx="124.8" cy="225.9" r="0.80"/><circle cx="128.2" cy="222.8" r="0.80"/><circle cx="131.8" cy="219.9" r="0.80"/><circle cx="135.6" cy="217.3" r="0.80"/><circle cx="139.5" cy="214.8" r="0.80"/><circle cx="143.4" cy="212.3" r="0.80"/><circle cx="147.4" cy="209.9" r="0.80"/><circle cx="151.2" cy="207.1" r="0.80"/><circle cx="155.2" cy="204.6" r="0.80"/><circle cx="159.2" cy="202.0" r="0.80"/><circle cx="163.1" cy="199.2" r="0.80"/><circle cx="166.9" cy="196.2" r="0.80"/><circle cx="170.6" cy="193.2" r="0.80"/><circle cx="174.5" cy="190.2" r="0.80"/><circle cx="178.2" cy="187.1" r="0.80"/><circle cx="182.0" cy="184.0" r="0.80"/><circle cx="185.8" cy="180.9" r="0.80"/><circle cx="189.6" cy="177.8" r="0.80"/><circle cx="193.4" cy="174.5" r="0.80"/><circle cx="197.2" cy="171.3" r="0.80"/><circle cx="202.5" cy="166.2" r="0.80"/><circle cx="209.6" cy="161.0" r="0.80"/><circle cx="217.0" cy="156.0" r="0.80"/><circle cx="224.6" cy="148.4" r="0.80"/><circle cx="235.4" cy="140.4" r="0.80"/><circle cx="246.0" cy="131.5" r="0.80"/><circle cx="257.8" cy="121.9" r="0.80"/><circle cx="270.6" cy="111.1" r="0.80"/><circle cx="284.2" cy="99.9" r="0.80"/><circle cx="299.2" cy="88.2" r="0.80"/><circle cx="316.1" cy="75.0" r="0.80"/></g></g><g clip-path="url(#clipA)"><path d="M59.20 247.00 L59.21 246.81 L59.23 246.57 L59.25 246.29 L59.27 245.98 L59.29 245.64 L59.31 245.28 L59.34 244.90 L59.37 244.51 L59.40 244.12 L59.43 243.74 L59.46 243.36 L59.50 243.00 L59.53 242.65 L59.56 242.29 L59.57 241.92 L59.59 241.55 L59.61 241.17 L59.64 240.80 L59.67 240.43 L59.72 240.05 L59.78 239.68 L59.86 239.31 L59.97 238.95 L60.10 238.60 L60.26 238.25 L60.43 237.90 L60.62 237.56 L60.83 237.21 L61.05 236.87 L61.29 236.54 L61.55 236.20 L61.81 235.87 L62.09 235.55 L62.39 235.23 L62.69 234.91 L63.00 234.60 L63.33 234.29 L63.68 233.99 L64.05 233.69 L64.43 233.39 L64.83 233.10 L65.24 232.81 L65.65 232.53 L66.07 232.25 L66.48 231.98 L66.90 231.71 L67.30 231.45 L67.70 231.20 L68.09 230.95 L68.49 230.71 L68.89 230.47 L69.29 230.24 L69.69 230.01 L70.09 229.79 L70.49 229.57 L70.89 229.36 L71.27 229.16 L71.66 228.97 L72.03 228.78 L72.40 228.60 L72.75 228.43 L73.09 228.28 L73.41 228.15 L73.73 228.02 L74.04 227.90 L74.34 227.79 L74.66 227.67 L74.97 227.56 L75.30 227.43 L75.65 227.30 L76.01 227.16 L76.40 227.00 L76.81 226.83 L77.25 226.65 L77.70 226.46 L78.17 226.26 L78.65 226.06 L79.14 225.85 L79.63 225.64 L80.12 225.43 L80.60 225.22 L81.08 225.01 L81.55 224.80 L82.00 224.60 L82.43 224.40 L82.86 224.19 L83.27 223.99 L83.67 223.78 L84.08 223.57 L84.47 223.36 L84.88 223.16 L85.28 222.96 L85.69 222.76 L86.12 222.57 L86.55 222.38 L87.00 222.20 L87.46 222.03 L87.93 221.86 L88.41 221.69 L88.89 221.53 L89.38 221.37 L89.88 221.21 L90.38 221.06 L90.89 220.92 L91.41 220.78 L91.93 220.65 L92.46 220.52 L93.00 220.40 L93.55 220.29 L94.11 220.18 L94.68 220.07 L95.26 219.97 L95.85 219.88 L96.44 219.79 L97.03 219.71 L97.63 219.63 L98.23 219.56 L98.82 219.50 L99.41 219.45 L100.00 219.40 L100.58 219.36 L101.17 219.33 L101.75 219.31 L102.33 219.30 L102.92 219.29 L103.50 219.29 L104.08 219.29 L104.67 219.30 L105.25 219.32 L105.83 219.34 L106.42 219.37 L107.00 219.40 L107.58 219.44 L108.16 219.48 L108.74 219.52 L109.31 219.57 L109.89 219.63 L110.46 219.69 L111.04 219.76 L111.62 219.84 L112.21 219.92 L112.80 220.01 L113.40 220.10 L114.00 220.20 L114.62 220.31 L115.26 220.44 L115.91 220.57 L116.57 220.71 L117.24 220.86 L117.90 221.02 L118.56 221.17 L119.21 221.33 L119.84 221.48 L120.45 221.63 L121.04 221.77 L121.60 221.90 L122.13 222.02 L122.64 222.13 L123.12 222.24 L123.59 222.34 L124.04 222.44 L124.48 222.54 L124.91 222.64 L125.33 222.74 L125.75 222.84 L126.17 222.95 L126.58 223.07 L127.00 223.20 L127.42 223.33 L127.82 223.47 L128.22 223.61 L128.62 223.76 L129.01 223.90 L129.39 224.06 L129.78 224.21 L130.16 224.38 L130.54 224.55 L130.92 224.72 L131.31 224.91 L131.70 225.10 L132.09 225.30 L132.48 225.51 L132.86 225.73 L133.24 225.96 L133.62 226.19 L134.01 226.43 L134.39 226.67 L134.78 226.91 L135.18 227.16 L135.58 227.41 L135.98 227.65 L136.40 227.90 L136.83 228.15 L137.27 228.42 L137.72 228.70 L138.17 228.98 L138.64 229.26 L139.10 229.54 L139.56 229.82 L140.03 230.09 L140.48 230.34 L140.93 230.58 L141.37 230.80 L141.80 231.00 L142.22 231.18 L142.63 231.35 L143.03 231.52 L143.42 231.67 L143.81 231.81 L144.20 231.94 L144.58 232.05 L144.97 232.14 L145.35 232.21 L145.73 232.27 L146.11 232.30 L146.50 232.30 L146.88 232.28 L147.26 232.25 L147.64 232.19 L148.01 232.12 L148.38 232.03 L148.75 231.91 L149.12 231.78 L149.50 231.63 L149.89 231.45 L150.28 231.26 L150.69 231.04 L151.10 230.80 L151.53 230.54 L151.97 230.25 L152.41 229.94 L152.87 229.61 L153.33 229.26 L153.80 228.89 L154.27 228.50 L154.74 228.10 L155.21 227.67 L155.68 227.23 L156.14 226.77 L156.60 226.30 L157.05 225.81 L157.50 225.30 L157.95 224.77 L158.40 224.22 L158.85 223.65 L159.30 223.07 L159.75 222.47 L160.20 221.86 L160.65 221.24 L161.10 220.60 L161.55 219.95 L162.00 219.30 L162.46 218.63 L162.91 217.95 L163.37 217.24 L163.83 216.53 L164.29 215.80 L164.75 215.06 L165.21 214.31 L165.67 213.55 L166.13 212.79 L166.59 212.03 L167.04 211.26 L167.50 210.50 L167.96 209.72 L168.41 208.91 L168.87 208.09 L169.33 207.25 L169.79 206.40 L170.25 205.56 L170.70 204.73 L171.16 203.92 L171.60 203.13 L172.04 202.38 L172.47 201.66 L172.90 201.00 L173.32 200.39 L173.72 199.82 L174.12 199.29 L174.52 198.80 L174.91 198.33 L175.29 197.88 L175.68 197.44 L176.06 197.01 L176.44 196.58 L176.82 196.14 L177.21 195.68 L177.60 195.20 L177.99 194.71 L178.38 194.21 L178.78 193.71 L179.17 193.20 L179.56 192.70 L179.95 192.19 L180.34 191.69 L180.73 191.19 L181.12 190.68 L181.52 190.18 L181.91 189.69 L182.30 189.20 L182.69 188.71 L183.08 188.23 L183.48 187.76 L183.87 187.28 L184.26 186.81 L184.66 186.34 L185.05 185.87 L185.44 185.40 L185.83 184.92 L186.22 184.45 L186.61 183.98 L187.00 183.50 L187.38 183.03 L187.74 182.57 L188.08 182.11 L188.42 181.66 L188.76 181.21 L189.11 180.76 L189.46 180.29 L189.83 179.81 L190.23 179.32 L190.65 178.81 L191.10 178.27 L191.60 177.70 L192.14 177.10 L192.71 176.46 L193.32 175.80 L193.96 175.12 L194.62 174.42 L195.30 173.71 L195.99 172.99 L196.68 172.27 L197.38 171.56 L198.06 170.85 L198.74 170.17 L199.40 169.50 L200.05 168.85 L200.71 168.22 L201.37 167.60 L202.03 166.99 L202.70 166.38 L203.36 165.77 L204.01 165.17 L204.67 164.56 L205.31 163.94 L205.95 163.31 L206.58 162.66 L207.20 162.00 L207.80 161.33 L208.38 160.65 L208.95 159.98 L209.51 159.29 L210.06 158.60 L210.61 157.90 L211.16 157.19 L211.72 156.46 L212.29 155.72 L212.87 154.97 L213.48 154.19 L214.10 153.40 L214.74 152.58 L215.40 151.73 L216.07 150.87 L216.75 149.98 L217.44 149.08 L218.14 148.16 L218.85 147.24 L219.56 146.32 L220.29 145.40 L221.02 144.49 L221.76 143.59 L222.50 142.70 L223.25 141.83 L224.01 140.97 L224.78 140.13 L225.55 139.29 L226.33 138.45 L227.12 137.61 L227.92 136.76 L228.73 135.90 L229.54 135.03 L230.35 134.15 L231.17 133.24 L232.00 132.30 L232.83 131.34 L233.67 130.36 L234.51 129.37 L235.36 128.36 L236.21 127.34 L237.07 126.30 L237.94 125.25 L238.81 124.20 L239.69 123.13 L240.59 122.06 L241.49 120.98 L242.40 119.90 L243.32 118.81 L244.24 117.71 L245.16 116.61 L246.09 115.49 L247.03 114.37 L247.98 113.24 L248.94 112.10 L249.92 110.95 L250.91 109.80 L251.92 108.64 L252.95 107.47 L254.00 106.30 L255.08 105.12 L256.19 103.93 L257.32 102.74 L258.48 101.54 L259.65 100.33 L260.83 99.12 L262.02 97.90 L263.21 96.67 L264.40 95.44 L265.58 94.20 L266.75 92.95 L267.90 91.70 L269.03 90.45 L270.14 89.21 L271.23 87.97 L272.31 86.73 L273.39 85.49 L274.48 84.23 L275.57 82.96 L276.68 81.67 L277.81 80.35 L278.97 79.00 L280.16 77.62 L281.40 76.20 L282.67 74.73 L283.98 73.21 L285.31 71.64 L286.66 70.04 L288.04 68.42 L289.43 66.78 L290.84 65.13 L292.27 63.49 L293.72 61.85 L295.17 60.24 L296.63 58.65 L298.10 57.10 L299.60 55.56 L301.15 54.02 L302.74 52.48 L304.36 50.93 L305.98 49.40 L307.61 47.89 L309.23 46.40 L310.82 44.93 L312.38 43.51 L313.88 42.12 L315.33 40.78 L316.70 39.50 L318.04 38.24 L319.38 36.98 L320.71 35.72 L322.02 34.49 L323.29 33.30 L324.51 32.15 L325.67 31.06 L326.75 30.05 L327.73 29.13 L328.61 28.30 L329.37 27.59 L330.00 27.00" stroke="#4dba6b" stroke-width="1.70" fill="none" stroke-linejoin="round"/><g fill="#4dba6b"><circle cx="59.2" cy="247.0" r="2.27"/><circle cx="59.4" cy="244.0" r="2.27"/><circle cx="59.6" cy="241.0" r="2.27"/><circle cx="60.3" cy="238.1" r="2.27"/><circle cx="62.0" cy="235.6" r="2.27"/><circle cx="64.2" cy="233.6" r="2.27"/><circle cx="66.7" cy="231.8" r="2.27"/><circle cx="69.3" cy="230.2" r="2.27"/><circle cx="72.0" cy="228.8" r="2.27"/><circle cx="74.8" cy="227.6" r="2.27"/><circle cx="77.7" cy="226.5" r="2.27"/><circle cx="80.5" cy="225.3" r="2.27"/><circle cx="83.4" cy="223.9" r="2.27"/><circle cx="86.2" cy="222.5" r="2.27"/><circle cx="89.1" cy="221.5" r="2.27"/><circle cx="92.2" cy="220.6" r="2.27"/><circle cx="95.3" cy="220.0" r="2.27"/><circle cx="98.4" cy="219.5" r="2.27"/><circle cx="101.7" cy="219.3" r="2.27"/><circle cx="104.9" cy="219.3" r="2.27"/><circle cx="108.1" cy="219.5" r="2.27"/><circle cx="111.4" cy="219.8" r="2.27"/><circle cx="114.6" cy="220.3" r="2.27"/><circle cx="117.9" cy="221.0" r="2.27"/><circle cx="121.1" cy="221.8" r="2.27"/><circle cx="124.4" cy="222.5" r="2.27"/><circle cx="127.6" cy="223.4" r="2.27"/><circle cx="130.7" cy="224.6" r="2.27"/><circle cx="133.7" cy="226.2" r="2.27"/><circle cx="136.6" cy="228.0" r="2.27"/><circle cx="139.6" cy="229.8" r="2.27"/><circle cx="142.6" cy="231.4" r="2.27"/><circle cx="145.9" cy="232.3" r="2.27"/><circle cx="149.3" cy="231.7" r="2.27"/><circle cx="152.4" cy="230.0" r="2.27"/><circle cx="155.3" cy="227.6" r="2.27"/><circle cx="158.0" cy="224.7" r="2.27"/><circle cx="160.6" cy="221.3" r="2.27"/><circle cx="163.2" cy="217.5" r="2.27"/><circle cx="165.8" cy="213.4" r="2.27"/><circle cx="168.3" cy="209.0" r="2.27"/><circle cx="170.9" cy="204.4" r="2.27"/><circle cx="173.9" cy="199.6" r="2.27"/><circle cx="177.7" cy="195.1" r="2.27"/><circle cx="181.5" cy="190.2" r="2.27"/><circle cx="185.7" cy="185.1" r="2.27"/><circle cx="192.1" cy="178.1" r="2.27"/><circle cx="199.4" cy="169.2" r="2.27"/><circle cx="207.3" cy="162.5" r="2.27"/><circle cx="214.6" cy="153.7" r="2.27"/><circle cx="222.1" cy="143.2" r="2.27"/><circle cx="232.2" cy="132.5" r="2.27"/><circle cx="242.3" cy="120.1" r="2.27"/><circle cx="253.8" cy="106.5" r="2.27"/><circle cx="267.9" cy="91.7" r="2.27"/><circle cx="281.4" cy="76.2" r="2.27"/><circle cx="298.1" cy="57.1" r="2.27"/><circle cx="316.7" cy="39.5" r="2.27"/></g><g fill="#c0e6cb"><circle cx="59.2" cy="247.0" r="0.83"/><circle cx="59.4" cy="244.0" r="0.83"/><circle cx="59.6" cy="241.0" r="0.83"/><circle cx="60.3" cy="238.1" r="0.83"/><circle cx="62.0" cy="235.6" r="0.83"/><circle cx="64.2" cy="233.6" r="0.83"/><circle cx="66.7" cy="231.8" r="0.83"/><circle cx="69.3" cy="230.2" r="0.83"/><circle cx="72.0" cy="228.8" r="0.83"/><circle cx="74.8" cy="227.6" r="0.83"/><circle cx="77.7" cy="226.5" r="0.83"/><circle cx="80.5" cy="225.3" r="0.83"/><circle cx="83.4" cy="223.9" r="0.83"/><circle cx="86.2" cy="222.5" r="0.83"/><circle cx="89.1" cy="221.5" r="0.83"/><circle cx="92.2" cy="220.6" r="0.83"/><circle cx="95.3" cy="220.0" r="0.83"/><circle cx="98.4" cy="219.5" r="0.83"/><circle cx="101.7" cy="219.3" r="0.83"/><circle cx="104.9" cy="219.3" r="0.83"/><circle cx="108.1" cy="219.5" r="0.83"/><circle cx="111.4" cy="219.8" r="0.83"/><circle cx="114.6" cy="220.3" r="0.83"/><circle cx="117.9" cy="221.0" r="0.83"/><circle cx="121.1" cy="221.8" r="0.83"/><circle cx="124.4" cy="222.5" r="0.83"/><circle cx="127.6" cy="223.4" r="0.83"/><circle cx="130.7" cy="224.6" r="0.83"/><circle cx="133.7" cy="226.2" r="0.83"/><circle cx="136.6" cy="228.0" r="0.83"/><circle cx="139.6" cy="229.8" r="0.83"/><circle cx="142.6" cy="231.4" r="0.83"/><circle cx="145.9" cy="232.3" r="0.83"/><circle cx="149.3" cy="231.7" r="0.83"/><circle cx="152.4" cy="230.0" r="0.83"/><circle cx="155.3" cy="227.6" r="0.83"/><circle cx="158.0" cy="224.7" r="0.83"/><circle cx="160.6" cy="221.3" r="0.83"/><circle cx="163.2" cy="217.5" r="0.83"/><circle cx="165.8" cy="213.4" r="0.83"/><circle cx="168.3" cy="209.0" r="0.83"/><circle cx="170.9" cy="204.4" r="0.83"/><circle cx="173.9" cy="199.6" r="0.83"/><circle cx="177.7" cy="195.1" r="0.83"/><circle cx="181.5" cy="190.2" r="0.83"/><circle cx="185.7" cy="185.1" r="0.83"/><circle cx="192.1" cy="178.1" r="0.83"/><circle cx="199.4" cy="169.2" r="0.83"/><circle cx="207.3" cy="162.5" r="0.83"/><circle cx="214.6" cy="153.7" r="0.83"/><circle cx="222.1" cy="143.2" r="0.83"/><circle cx="232.2" cy="132.5" r="0.83"/><circle cx="242.3" cy="120.1" r="0.83"/><circle cx="253.8" cy="106.5" r="0.83"/><circle cx="267.9" cy="91.7" r="0.83"/><circle cx="281.4" cy="76.2" r="0.83"/><circle cx="298.1" cy="57.1" r="0.83"/><circle cx="316.7" cy="39.5" r="0.83"/></g></g><g clip-path="url(#clipA)"><path d="M59.20 247.00 L59.21 246.81 L59.23 246.57 L59.25 246.29 L59.27 245.98 L59.29 245.64 L59.31 245.28 L59.34 244.90 L59.37 244.52 L59.40 244.13 L59.43 243.74 L59.46 243.36 L59.50 243.00 L59.53 242.64 L59.56 242.27 L59.57 241.90 L59.59 241.52 L59.61 241.14 L59.64 240.75 L59.67 240.36 L59.72 239.98 L59.78 239.60 L59.86 239.23 L59.97 238.86 L60.10 238.50 L60.26 238.15 L60.43 237.80 L60.62 237.45 L60.83 237.11 L61.05 236.77 L61.29 236.44 L61.55 236.11 L61.81 235.78 L62.09 235.45 L62.39 235.13 L62.69 234.81 L63.00 234.50 L63.33 234.19 L63.68 233.88 L64.05 233.57 L64.43 233.26 L64.83 232.96 L65.24 232.66 L65.65 232.37 L66.07 232.08 L66.48 231.80 L66.90 231.53 L67.30 231.26 L67.70 231.00 L68.09 230.75 L68.49 230.50 L68.89 230.26 L69.29 230.03 L69.69 229.80 L70.09 229.57 L70.49 229.36 L70.89 229.15 L71.27 228.95 L71.66 228.76 L72.03 228.58 L72.40 228.40 L72.75 228.24 L73.08 228.10 L73.39 227.97 L73.69 227.86 L73.99 227.75 L74.29 227.65 L74.59 227.55 L74.91 227.44 L75.24 227.33 L75.60 227.20 L75.98 227.06 L76.40 226.90 L76.85 226.72 L77.32 226.52 L77.81 226.30 L78.32 226.08 L78.85 225.84 L79.39 225.61 L79.95 225.37 L80.52 225.13 L81.10 224.91 L81.70 224.69 L82.29 224.49 L82.90 224.30 L83.53 224.13 L84.18 223.97 L84.86 223.81 L85.56 223.66 L86.27 223.52 L86.99 223.38 L87.70 223.25 L88.40 223.13 L89.09 223.01 L89.76 222.90 L90.40 222.80 L91.00 222.70 L91.57 222.61 L92.11 222.52 L92.63 222.43 L93.13 222.35 L93.62 222.28 L94.09 222.21 L94.56 222.15 L95.02 222.10 L95.48 222.06 L95.95 222.03 L96.42 222.01 L96.90 222.00 L97.39 222.00 L97.89 222.02 L98.38 222.05 L98.88 222.10 L99.38 222.15 L99.88 222.21 L100.37 222.27 L100.85 222.34 L101.33 222.41 L101.80 222.47 L102.26 222.54 L102.70 222.60 L103.13 222.66 L103.54 222.72 L103.94 222.78 L104.33 222.84 L104.71 222.90 L105.09 222.97 L105.46 223.04 L105.84 223.10 L106.22 223.17 L106.60 223.25 L106.99 223.32 L107.40 223.40 L107.82 223.48 L108.24 223.57 L108.66 223.66 L109.09 223.75 L109.53 223.84 L109.96 223.94 L110.40 224.03 L110.84 224.13 L111.28 224.23 L111.72 224.32 L112.16 224.41 L112.60 224.50 L113.04 224.58 L113.48 224.67 L113.93 224.74 L114.38 224.82 L114.83 224.89 L115.28 224.97 L115.73 225.05 L116.17 225.13 L116.61 225.21 L117.05 225.30 L117.48 225.40 L117.90 225.50 L118.32 225.61 L118.73 225.73 L119.15 225.86 L119.56 225.99 L119.96 226.13 L120.36 226.27 L120.76 226.41 L121.14 226.55 L121.52 226.69 L121.89 226.83 L122.25 226.97 L122.60 227.10 L122.93 227.23 L123.25 227.35 L123.56 227.47 L123.86 227.59 L124.14 227.71 L124.42 227.82 L124.70 227.94 L124.98 228.07 L125.25 228.19 L125.53 228.32 L125.81 228.46 L126.10 228.60 L126.39 228.75 L126.69 228.90 L126.99 229.06 L127.29 229.23 L127.59 229.39 L127.89 229.56 L128.18 229.73 L128.48 229.91 L128.77 230.08 L129.05 230.26 L129.33 230.43 L129.60 230.60 L129.86 230.77 L130.12 230.94 L130.37 231.11 L130.61 231.29 L130.85 231.46 L131.09 231.63 L131.32 231.81 L131.56 231.98 L131.79 232.16 L132.02 232.34 L132.26 232.52 L132.50 232.70 L132.74 232.88 L132.98 233.07 L133.23 233.25 L133.47 233.44 L133.71 233.63 L133.96 233.82 L134.20 234.01 L134.44 234.20 L134.68 234.40 L134.92 234.60 L135.16 234.80 L135.40 235.00 L135.64 235.21 L135.87 235.45 L136.10 235.69 L136.32 235.94 L136.55 236.19 L136.77 236.44 L137.00 236.69 L137.23 236.91 L137.47 237.13 L137.71 237.31 L137.95 237.47 L138.20 237.60 L138.46 237.70 L138.73 237.78 L139.02 237.84 L139.31 237.89 L139.60 237.92 L139.89 237.93 L140.18 237.92 L140.47 237.89 L140.75 237.84 L141.01 237.78 L141.27 237.70 L141.50 237.60 L141.71 237.48 L141.89 237.33 L142.06 237.17 L142.20 236.98 L142.34 236.77 L142.48 236.55 L142.62 236.31 L142.77 236.07 L142.94 235.81 L143.13 235.54 L143.35 235.27 L143.60 235.00 L143.89 234.72 L144.21 234.42 L144.55 234.11 L144.91 233.79 L145.30 233.46 L145.69 233.12 L146.09 232.77 L146.49 232.42 L146.88 232.07 L147.27 231.71 L147.64 231.36 L148.00 231.00 L148.34 230.64 L148.67 230.28 L148.99 229.91 L149.31 229.54 L149.62 229.17 L149.93 228.79 L150.24 228.41 L150.56 228.03 L150.88 227.65 L151.21 227.27 L151.55 226.88 L151.90 226.50 L152.27 226.11 L152.64 225.72 L153.03 225.33 L153.43 224.93 L153.83 224.54 L154.23 224.14 L154.64 223.74 L155.04 223.34 L155.44 222.95 L155.84 222.56 L156.22 222.18 L156.60 221.80 L156.96 221.43 L157.32 221.06 L157.66 220.70 L158.00 220.34 L158.34 219.99 L158.68 219.63 L159.01 219.28 L159.35 218.93 L159.70 218.57 L160.05 218.22 L160.42 217.86 L160.80 217.50 L161.19 217.14 L161.59 216.77 L162.00 216.41 L162.42 216.04 L162.84 215.67 L163.27 215.31 L163.70 214.94 L164.14 214.57 L164.58 214.20 L165.02 213.83 L165.46 213.47 L165.90 213.10 L166.34 212.73 L166.79 212.37 L167.23 212.00 L167.68 211.63 L168.13 211.27 L168.58 210.90 L169.04 210.53 L169.50 210.17 L169.97 209.80 L170.44 209.43 L170.92 209.07 L171.40 208.70 L171.89 208.33 L172.39 207.97 L172.90 207.61 L173.41 207.24 L173.93 206.88 L174.46 206.52 L174.98 206.15 L175.51 205.79 L176.03 205.42 L176.56 205.05 L177.08 204.68 L177.60 204.30 L178.11 203.92 L178.61 203.56 L179.11 203.19 L179.61 202.83 L180.10 202.46 L180.60 202.09 L181.10 201.71 L181.61 201.32 L182.14 200.92 L182.67 200.50 L183.23 200.06 L183.80 199.60 L184.39 199.12 L185.00 198.61 L185.62 198.09 L186.25 197.56 L186.90 197.00 L187.55 196.44 L188.21 195.87 L188.88 195.30 L189.56 194.72 L190.24 194.15 L190.92 193.57 L191.60 193.00 L192.29 192.43 L192.98 191.85 L193.68 191.27 L194.39 190.69 L195.11 190.10 L195.82 189.51 L196.55 188.92 L197.27 188.33 L198.00 187.74 L198.73 187.15 L199.47 186.57 L200.20 186.00 L200.93 185.43 L201.67 184.88 L202.40 184.33 L203.14 183.78 L203.88 183.24 L204.62 182.69 L205.37 182.15 L206.12 181.60 L206.88 181.04 L207.64 180.47 L208.42 179.89 L209.20 179.30 L209.99 178.70 L210.79 178.09 L211.60 177.48 L212.41 176.86 L213.24 176.23 L214.06 175.60 L214.89 174.96 L215.73 174.31 L216.57 173.65 L217.41 172.98 L218.25 172.29 L219.10 171.60 L219.94 170.90 L220.79 170.19 L221.63 169.48 L222.47 168.76 L223.32 168.03 L224.18 167.29 L225.04 166.54 L225.90 165.77 L226.78 164.98 L227.67 164.18 L228.58 163.35 L229.50 162.50 L230.43 161.62 L231.38 160.72 L232.33 159.79 L233.30 158.85 L234.28 157.88 L235.26 156.91 L236.26 155.92 L237.27 154.92 L238.28 153.91 L239.31 152.91 L240.35 151.90 L241.40 150.90 L242.46 149.90 L243.52 148.91 L244.59 147.91 L245.67 146.92 L246.77 145.92 L247.87 144.91 L248.98 143.88 L250.11 142.85 L251.26 141.79 L252.42 140.72 L253.60 139.62 L254.80 138.50 L256.02 137.36 L257.28 136.20 L258.55 135.02 L259.85 133.83 L261.16 132.62 L262.49 131.39 L263.82 130.15 L265.15 128.88 L266.48 127.59 L267.80 126.29 L269.11 124.95 L270.40 123.60 L271.66 122.22 L272.90 120.82 L274.10 119.39 L275.30 117.94 L276.49 116.47 L277.69 114.97 L278.91 113.47 L280.16 111.94 L281.44 110.40 L282.76 108.85 L284.15 107.28 L285.60 105.70 L287.11 104.11 L288.67 102.51 L290.27 100.89 L291.91 99.26 L293.59 97.61 L295.31 95.94 L297.05 94.26 L298.82 92.57 L300.61 90.85 L302.43 89.12 L304.26 87.37 L306.10 85.60 L308.05 83.73 L310.16 81.72 L312.40 79.60 L314.70 77.41 L317.03 75.22 L319.33 73.04 L321.56 70.94 L323.68 68.95 L325.63 67.12 L327.36 65.49 L328.83 64.10 L330.00 63.00" stroke="#4a4a4a" stroke-width="1.70" fill="none" stroke-linejoin="round"/><g fill="#4a4a4a"><circle cx="59.2" cy="247.0" r="2.35"/><circle cx="59.5" cy="243.0" r="2.35"/><circle cx="60.1" cy="238.5" r="2.35"/><circle cx="63.0" cy="234.5" r="2.35"/><circle cx="67.7" cy="231.0" r="2.35"/><circle cx="72.4" cy="228.4" r="2.35"/><circle cx="76.4" cy="226.9" r="2.35"/><circle cx="82.9" cy="224.3" r="2.35"/><circle cx="91.0" cy="222.7" r="2.35"/><circle cx="96.9" cy="222.0" r="2.35"/><circle cx="102.7" cy="222.6" r="2.35"/><circle cx="107.4" cy="223.4" r="2.35"/><circle cx="112.6" cy="224.5" r="2.35"/><circle cx="117.9" cy="225.5" r="2.35"/><circle cx="122.6" cy="227.1" r="2.35"/><circle cx="126.1" cy="228.6" r="2.35"/><circle cx="129.6" cy="230.6" r="2.35"/><circle cx="132.5" cy="232.7" r="2.35"/><circle cx="135.4" cy="235.0" r="2.35"/><circle cx="138.2" cy="237.6" r="2.35"/><circle cx="141.9" cy="237.3" r="2.35"/><circle cx="145.0" cy="233.7" r="2.35"/><circle cx="148.6" cy="230.3" r="2.35"/><circle cx="151.9" cy="226.5" r="2.35"/><circle cx="155.6" cy="222.8" r="2.35"/><circle cx="159.3" cy="219.0" r="2.35"/><circle cx="163.2" cy="215.3" r="2.35"/><circle cx="167.5" cy="211.8" r="2.35"/><circle cx="171.9" cy="208.3" r="2.35"/><circle cx="176.6" cy="205.0" r="2.35"/><circle cx="181.4" cy="201.5" r="2.35"/><circle cx="186.1" cy="197.7" r="2.35"/><circle cx="190.9" cy="193.6" r="2.35"/><circle cx="195.8" cy="189.5" r="2.35"/><circle cx="200.2" cy="186.1" r="2.35"/><circle cx="209.4" cy="179.5" r="2.35"/><circle cx="219.0" cy="171.9" r="2.35"/><circle cx="229.4" cy="162.2" r="2.35"/><circle cx="241.9" cy="150.5" r="2.35"/><circle cx="254.3" cy="138.0" r="2.35"/><circle cx="270.4" cy="124.1" r="2.35"/><circle cx="285.6" cy="105.7" r="2.35"/><circle cx="306.1" cy="85.6" r="2.35"/></g><g fill="#a8a8a8"><circle cx="59.2" cy="247.0" r="0.85"/><circle cx="59.5" cy="243.0" r="0.85"/><circle cx="60.1" cy="238.5" r="0.85"/><circle cx="63.0" cy="234.5" r="0.85"/><circle cx="67.7" cy="231.0" r="0.85"/><circle cx="72.4" cy="228.4" r="0.85"/><circle cx="76.4" cy="226.9" r="0.85"/><circle cx="82.9" cy="224.3" r="0.85"/><circle cx="91.0" cy="222.7" r="0.85"/><circle cx="96.9" cy="222.0" r="0.85"/><circle cx="102.7" cy="222.6" r="0.85"/><circle cx="107.4" cy="223.4" r="0.85"/><circle cx="112.6" cy="224.5" r="0.85"/><circle cx="117.9" cy="225.5" r="0.85"/><circle cx="122.6" cy="227.1" r="0.85"/><circle cx="126.1" cy="228.6" r="0.85"/><circle cx="129.6" cy="230.6" r="0.85"/><circle cx="132.5" cy="232.7" r="0.85"/><circle cx="135.4" cy="235.0" r="0.85"/><circle cx="138.2" cy="237.6" r="0.85"/><circle cx="141.9" cy="237.3" r="0.85"/><circle cx="145.0" cy="233.7" r="0.85"/><circle cx="148.6" cy="230.3" r="0.85"/><circle cx="151.9" cy="226.5" r="0.85"/><circle cx="155.6" cy="222.8" r="0.85"/><circle cx="159.3" cy="219.0" r="0.85"/><circle cx="163.2" cy="215.3" r="0.85"/><circle cx="167.5" cy="211.8" r="0.85"/><circle cx="171.9" cy="208.3" r="0.85"/><circle cx="176.6" cy="205.0" r="0.85"/><circle cx="181.4" cy="201.5" r="0.85"/><circle cx="186.1" cy="197.7" r="0.85"/><circle cx="190.9" cy="193.6" r="0.85"/><circle cx="195.8" cy="189.5" r="0.85"/><circle cx="200.2" cy="186.1" r="0.85"/><circle cx="209.4" cy="179.5" r="0.85"/><circle cx="219.0" cy="171.9" r="0.85"/><circle cx="229.4" cy="162.2" r="0.85"/><circle cx="241.9" cy="150.5" r="0.85"/><circle cx="254.3" cy="138.0" r="0.85"/><circle cx="270.4" cy="124.1" r="0.85"/><circle cx="285.6" cy="105.7" r="0.85"/><circle cx="306.1" cy="85.6" r="0.85"/></g></g></g><rect x="58.9" y="31.2" width="269.2" height="216.4" fill="none" stroke="#000" stroke-width="1.7"/><path d="M78.5 54.3 H92.8 L97.9 59.1 L106 50.1 L114.1 59.1 L122.9 50.1 L128.1 54.3 H174.9 L179.5 59.6 L188.9 50.1 L195.9 59.6 L204.6 50.1 L209.3 54.3 H254.6 M78.5 54.3 V84.5 H112.6 M107.6 80.2 L112.6 84.5 L107.6 88.8 M116.8 80.2 L120.8 84.5 L116.8 88.8 M120.8 84.5 H147.2 V54.3 M159.9 54.3 V84.3 H193.5 M188.9 80.2 L193.5 84.3 L188.9 88.4 M198 80.2 L202.3 84.3 L198 88.4 M202.3 84.3 H228.2 V54.3 M250 50.3 L254.6 54.4 L250 58.5 M257.5 50.3 L261.4 54.4 L257.5 58.5 M261.4 54.4 H282" stroke="#000" stroke-width="1.75" fill="none" stroke-linejoin="miter"/><circle cx="147.2" cy="54.4" r="4" fill="#000"/><circle cx="228.2" cy="54.4" r="4" fill="#000"/><text x="98.4" y="44.6" font-family="Liberation Sans" font-weight="bold" font-size="13.5">R<tspan font-size="9.6" dy="3.2">bulk</tspan></text><text x="183.9" y="44.6" font-family="Liberation Sans" font-weight="bold" font-size="13.5">R<tspan font-size="9.6" dy="3.2">gb</tspan></text><text x="92.2" y="104.3" font-family="Liberation Sans" font-weight="bold" font-size="14.4">CPE<tspan font-size="9.6" dy="3.1">bulk</tspan></text><text x="177.5" y="104.3" font-family="Liberation Sans" font-weight="bold" font-size="14.4">CPE<tspan font-size="9.6" dy="3.1">gb</tspan></text><text x="240.4" y="46.4" font-family="Liberation Sans" font-weight="bold" font-size="14.2">CPE<tspan font-size="9.6" dy="3.3">el</tspan></text><path d="M238.8 180.1 H265.3" stroke="#e8383f" stroke-width="1.8"/><g fill="#e8383f"><circle cx="252.2" cy="180.1" r="2.45"/></g><g fill="#f5afb2"><circle cx="252.2" cy="180.1" r="0.75"/></g><text x="271.20" y="184.10" font-family="Liberation Sans" font-size="11.00" font-weight="normal" text-anchor="start" >LGLZO_0</text><path d="M238.8 193.8 H265.3" stroke="#4a4a4a" stroke-width="1.8"/><g fill="#4a4a4a"><circle cx="252.2" cy="193.8" r="2.45"/></g><g fill="#b6b6b6"><circle cx="252.2" cy="193.8" r="0.75"/></g><text x="271.20" y="197.80" font-family="Liberation Sans" font-size="11.00" font-weight="normal" text-anchor="start" >LGLZO_3</text><path d="M238.8 207.5 H265.3" stroke="#3b7be8" stroke-width="1.8"/><g fill="#3b7be8"><circle cx="252.2" cy="207.5" r="2.45"/></g><g fill="#b0caf5"><circle cx="252.2" cy="207.5" r="0.75"/></g><text x="271.20" y="211.50" font-family="Liberation Sans" font-size="11.00" font-weight="normal" text-anchor="start" >LGLZO_5</text><path d="M238.8 221.3 H265.3" stroke="#a86ee8" stroke-width="1.8"/><g fill="#a86ee8"><circle cx="252.2" cy="221.3" r="2.45"/></g><g fill="#dcc5f5"><circle cx="252.2" cy="221.3" r="0.75"/></g><text x="271.20" y="225.30" font-family="Liberation Sans" font-size="11.00" font-weight="normal" text-anchor="start" >LGLZO_7</text><path d="M238.8 235.1 H265.3" stroke="#4dba6b" stroke-width="1.8"/><g fill="#4dba6b"><circle cx="252.2" cy="235.1" r="2.45"/></g><g fill="#b7e3c3"><circle cx="252.2" cy="235.1" r="0.75"/></g><text x="271.20" y="239.10" font-family="Liberation Sans" font-size="11.00" font-weight="normal" text-anchor="start" >LGLZO_10</text><defs><clipPath id="clipB"><rect x="407.5" y="32.3" width="266.4" height="214.4"/></clipPath></defs><text x="370.60" y="18.20" font-family="Liberation Sans" font-size="24.00" font-weight="bold" text-anchor="start" >b</text><path d="M407.50 246.7 V243.1 M418.96 246.7 V244.9 M425.66 246.7 V244.9 M430.41 246.7 V244.9 M434.10 246.7 V244.9 M437.11 246.7 V244.9 M439.66 246.7 V244.9 M441.87 246.7 V244.9 M443.82 246.7 V244.9 M445.56 246.7 V243.1 M457.01 246.7 V244.9 M463.72 246.7 V244.9 M468.47 246.7 V244.9 M472.16 246.7 V244.9 M475.17 246.7 V244.9 M477.72 246.7 V244.9 M479.93 246.7 V244.9 M481.87 246.7 V244.9 M483.61 246.7 V243.1 M495.07 246.7 V244.9 M501.77 246.7 V244.9 M506.53 246.7 V244.9 M510.22 246.7 V244.9 M513.23 246.7 V244.9 M515.78 246.7 V244.9 M517.98 246.7 V244.9 M519.93 246.7 V244.9 M521.67 246.7 V243.1 M533.13 246.7 V244.9 M539.83 246.7 V244.9 M544.58 246.7 V244.9 M548.27 246.7 V244.9 M551.29 246.7 V244.9 M553.83 246.7 V244.9 M556.04 246.7 V244.9 M557.99 246.7 V244.9 M559.73 246.7 V243.1 M571.18 246.7 V244.9 M577.89 246.7 V244.9 M582.64 246.7 V244.9 M586.33 246.7 V244.9 M589.34 246.7 V244.9 M591.89 246.7 V244.9 M594.10 246.7 V244.9 M596.04 246.7 V244.9 M597.79 246.7 V243.1 M609.24 246.7 V244.9 M615.94 246.7 V244.9 M620.70 246.7 V244.9 M624.39 246.7 V244.9 M627.40 246.7 V244.9 M629.95 246.7 V244.9 M632.15 246.7 V244.9 M634.10 246.7 V244.9 M635.84 246.7 V243.1 M647.30 246.7 V244.9 M654.00 246.7 V244.9 M658.76 246.7 V244.9 M662.44 246.7 V244.9 M665.46 246.7 V244.9 M668.00 246.7 V244.9 M670.21 246.7 V244.9 M672.16 246.7 V244.9 M407.5 246.70 H411.1 M407.5 235.94 H409.3 M407.5 229.65 H409.3 M407.5 225.19 H409.3 M407.5 221.72 H409.3 M407.5 218.89 H409.3 M407.5 216.50 H409.3 M407.5 214.43 H409.3 M407.5 212.60 H409.3 M407.5 210.97 H411.1 M407.5 200.21 H409.3 M407.5 193.92 H409.3 M407.5 189.45 H409.3 M407.5 185.99 H409.3 M407.5 183.16 H409.3 M407.5 180.77 H409.3 M407.5 178.70 H409.3 M407.5 176.87 H409.3 M407.5 175.23 H411.1 M407.5 164.48 H409.3 M407.5 158.18 H409.3 M407.5 153.72 H409.3 M407.5 150.26 H409.3 M407.5 147.43 H409.3 M407.5 145.04 H409.3 M407.5 142.96 H409.3 M407.5 141.14 H409.3 M407.5 139.50 H411.1 M407.5 128.74 H409.3 M407.5 122.45 H409.3 M407.5 117.99 H409.3 M407.5 114.52 H409.3 M407.5 111.69 H409.3 M407.5 109.30 H409.3 M407.5 107.23 H409.3 M407.5 105.40 H409.3 M407.5 103.77 H411.1 M407.5 93.01 H409.3 M407.5 86.72 H409.3 M407.5 82.25 H409.3 M407.5 78.79 H409.3 M407.5 75.96 H409.3 M407.5 73.57 H409.3 M407.5 71.50 H409.3 M407.5 69.67 H409.3 M407.5 68.03 H411.1 M407.5 57.28 H409.3 M407.5 50.98 H409.3 M407.5 46.52 H409.3 M407.5 43.06 H409.3 M407.5 40.23 H409.3 M407.5 37.84 H409.3 M407.5 35.76 H409.3 M407.5 33.94 H409.3" stroke="#000" stroke-width="1.35" fill="none"/><text x="402.4" y="251.1" font-family="Liberation Sans" font-weight="normal" stroke="#000" stroke-width="0.45" font-size="12.6" text-anchor="end">10<tspan font-size="8.8" stroke-width="0" dy="-5.7">2</tspan></text><text x="402.4" y="215.4" font-family="Liberation Sans" font-weight="normal" stroke="#000" stroke-width="0.45" font-size="12.6" text-anchor="end">10<tspan font-size="8.8" stroke-width="0" dy="-5.7">3</tspan></text><text x="402.4" y="179.6" font-family="Liberation Sans" font-weight="normal" stroke="#000" stroke-width="0.45" font-size="12.6" text-anchor="end">10<tspan font-size="8.8" stroke-width="0" dy="-5.7">4</tspan></text><text x="402.4" y="143.9" font-family="Liberation Sans" font-weight="normal" stroke="#000" stroke-width="0.45" font-size="12.6" text-anchor="end">10<tspan font-size="8.8" stroke-width="0" dy="-5.7">5</tspan></text><text x="402.4" y="108.2" font-family="Liberation Sans" font-weight="normal" stroke="#000" stroke-width="0.45" font-size="12.6" text-anchor="end">10<tspan font-size="8.8" stroke-width="0" dy="-5.7">6</tspan></text><text x="402.4" y="72.4" font-family="Liberation Sans" font-weight="normal" stroke="#000" stroke-width="0.45" font-size="12.6" text-anchor="end">10<tspan font-size="8.8" stroke-width="0" dy="-5.7">7</tspan></text><text x="402.4" y="36.7" font-family="Liberation Sans" font-weight="normal" stroke="#000" stroke-width="0.45" font-size="12.6" text-anchor="end">10<tspan font-size="8.8" stroke-width="0" dy="-5.7">8</tspan></text><text x="407.8" y="263.4" font-family="Liberation Sans" font-weight="normal" stroke="#000" stroke-width="0.45" font-size="12.6" text-anchor="middle">10<tspan font-size="8.8" stroke-width="0" dy="-5.7">0</tspan></text><text x="445.9" y="263.4" font-family="Liberation Sans" font-weight="normal" stroke="#000" stroke-width="0.45" font-size="12.6" text-anchor="middle">10<tspan font-size="8.8" stroke-width="0" dy="-5.7">1</tspan></text><text x="483.9" y="263.4" font-family="Liberation Sans" font-weight="normal" stroke="#000" stroke-width="0.45" font-size="12.6" text-anchor="middle">10<tspan font-size="8.8" stroke-width="0" dy="-5.7">2</tspan></text><text x="522.0" y="263.4" font-family="Liberation Sans" font-weight="normal" stroke="#000" stroke-width="0.45" font-size="12.6" text-anchor="middle">10<tspan font-size="8.8" stroke-width="0" dy="-5.7">3</tspan></text><text x="560.0" y="263.4" font-family="Liberation Sans" font-weight="normal" stroke="#000" stroke-width="0.45" font-size="12.6" text-anchor="middle">10<tspan font-size="8.8" stroke-width="0" dy="-5.7">4</tspan></text><text x="598.1" y="263.4" font-family="Liberation Sans" font-weight="normal" stroke="#000" stroke-width="0.45" font-size="12.6" text-anchor="middle">10<tspan font-size="8.8" stroke-width="0" dy="-5.7">5</tspan></text><text x="636.1" y="263.4" font-family="Liberation Sans" font-weight="normal" stroke="#000" stroke-width="0.45" font-size="12.6" text-anchor="middle">10<tspan font-size="8.8" stroke-width="0" dy="-5.7">6</tspan></text><text x="674.2" y="263.4" font-family="Liberation Sans" font-weight="normal" stroke="#000" stroke-width="0.45" font-size="12.6" text-anchor="middle">10<tspan font-size="8.8" stroke-width="0" dy="-5.7">7</tspan></text><text x="540.60" y="286.60" font-family="Liberation Sans" font-size="18.00" font-weight="bold" text-anchor="middle" >Frequency (Hz)</text><text transform="translate(378.6,141.4) rotate(-90)" font-family="Liberation Sans" font-size="15" font-weight="normal" stroke="#000" stroke-width="0.3" text-anchor="middle">Z</text><path d="M364.2 132.6 H380 M364.2 150.2 H380" stroke="#777" stroke-width="1.5"/><g clip-path="url(#clipB)"><path d="M408.20 83.28 L410.80 84.29 L413.40 85.29 L416.00 86.29 L418.60 87.29 L421.20 88.29 L423.81 89.30 L426.41 90.32 L429.01 91.35 L431.61 92.40 L434.21 93.46 L436.81 94.54 L439.41 95.65 L442.01 96.79 L444.61 97.98 L447.21 99.20 L449.82 100.44 L452.42 101.71 L455.02 102.99 L457.62 104.28 L460.22 105.57 L462.82 106.85 L465.42 108.12 L468.02 109.37 L470.62 110.59 L473.22 111.83 L475.83 113.08 L478.43 114.34 L481.03 115.60 L483.63 116.85 L486.23 118.08 L488.83 119.29 L491.43 120.45 L494.03 121.57 L496.63 122.63 L499.23 123.62 L501.84 124.54 L504.44 125.41 L507.04 126.23 L509.64 127.01 L512.24 127.74 L514.84 128.43 L517.44 129.08 L520.04 129.70 L522.64 130.29 L525.25 130.84 L527.85 131.38 L530.45 131.88 L533.05 132.34 L535.65 132.75 L538.25 133.10 L540.85 133.42 L543.45 133.71 L546.05 133.98 L548.65 134.24 L551.25 134.50 L553.86 134.77 L556.46 135.06 L559.06 135.38 L561.66 135.72 L564.26 136.04 L566.86 136.34 L569.46 136.64 L572.06 136.96 L574.66 137.29 L577.26 137.68 L579.87 138.14 L582.47 138.68 L585.07 139.32 L587.67 140.07 L590.27 140.90 L592.87 141.82 L595.47 142.82 L598.07 143.89 L600.67 145.04 L603.27 146.24 L605.88 147.50 L608.48 148.80 L611.08 150.16 L613.68 151.59 L616.28 153.07 L618.88 154.61 L621.48 156.20 L624.08 157.85 L626.68 159.55 L629.28 161.31 L631.89 163.14 L634.49 165.08 L637.09 167.12 L639.69 169.23 L642.29 171.43 L644.89 173.67 L647.49 175.95 L650.09 178.27 L652.69 180.69 L655.29 183.26 L657.90 186.03 L660.50 189.00 L663.10 192.28 L665.70 195.73 L668.30 199.27" stroke="#e8383f" stroke-width="1.30" fill="none"/><g fill="#e8383f"><circle cx="408.2" cy="83.3" r="2.50"/><circle cx="410.8" cy="84.3" r="2.50"/><circle cx="413.4" cy="85.3" r="2.50"/><circle cx="416.0" cy="86.3" r="2.50"/><circle cx="418.6" cy="87.3" r="2.50"/><circle cx="421.2" cy="88.3" r="2.50"/><circle cx="423.8" cy="89.3" r="2.50"/><circle cx="426.4" cy="90.3" r="2.50"/><circle cx="429.0" cy="91.4" r="2.50"/><circle cx="431.6" cy="92.4" r="2.50"/><circle cx="434.2" cy="93.5" r="2.50"/><circle cx="436.8" cy="94.5" r="2.50"/><circle cx="439.4" cy="95.6" r="2.50"/><circle cx="442.0" cy="96.8" r="2.50"/><circle cx="444.6" cy="98.0" r="2.50"/><circle cx="447.2" cy="99.2" r="2.50"/><circle cx="449.8" cy="100.4" r="2.50"/><circle cx="452.4" cy="101.7" r="2.50"/><circle cx="455.0" cy="103.0" r="2.50"/><circle cx="457.6" cy="104.3" r="2.50"/><circle cx="460.2" cy="105.6" r="2.50"/><circle cx="462.8" cy="106.9" r="2.50"/><circle cx="465.4" cy="108.1" r="2.50"/><circle cx="468.0" cy="109.4" r="2.50"/><circle cx="470.6" cy="110.6" r="2.50"/><circle cx="473.2" cy="111.8" r="2.50"/><circle cx="475.8" cy="113.1" r="2.50"/><circle cx="478.4" cy="114.3" r="2.50"/><circle cx="481.0" cy="115.6" r="2.50"/><circle cx="483.6" cy="116.9" r="2.50"/><circle cx="486.2" cy="118.1" r="2.50"/><circle cx="488.8" cy="119.3" r="2.50"/><circle cx="491.4" cy="120.5" r="2.50"/><circle cx="494.0" cy="121.6" r="2.50"/><circle cx="496.6" cy="122.6" r="2.50"/><circle cx="499.2" cy="123.6" r="2.50"/><circle cx="501.8" cy="124.5" r="2.50"/><circle cx="504.4" cy="125.4" r="2.50"/><circle cx="507.0" cy="126.2" r="2.50"/><circle cx="509.6" cy="127.0" r="2.50"/><circle cx="512.2" cy="127.7" r="2.50"/><circle cx="514.8" cy="128.4" r="2.50"/><circle cx="517.4" cy="129.1" r="2.50"/><circle cx="520.0" cy="129.7" r="2.50"/><circle cx="522.6" cy="130.3" r="2.50"/><circle cx="525.2" cy="130.8" r="2.50"/><circle cx="527.8" cy="131.4" r="2.50"/><circle cx="530.4" cy="131.9" r="2.50"/><circle cx="533.0" cy="132.3" r="2.50"/><circle cx="535.6" cy="132.7" r="2.50"/><circle cx="538.2" cy="133.1" r="2.50"/><circle cx="540.9" cy="133.4" r="2.50"/><circle cx="543.5" cy="133.7" r="2.50"/><circle cx="546.1" cy="134.0" r="2.50"/><circle cx="548.7" cy="134.2" r="2.50"/><circle cx="551.3" cy="134.5" r="2.50"/><circle cx="553.9" cy="134.8" r="2.50"/><circle cx="556.5" cy="135.1" r="2.50"/><circle cx="559.1" cy="135.4" r="2.50"/><circle cx="561.7" cy="135.7" r="2.50"/><circle cx="564.3" cy="136.0" r="2.50"/><circle cx="566.9" cy="136.3" r="2.50"/><circle cx="569.5" cy="136.6" r="2.50"/><circle cx="572.1" cy="137.0" r="2.50"/><circle cx="574.7" cy="137.3" r="2.50"/><circle cx="577.3" cy="137.7" r="2.50"/><circle cx="579.9" cy="138.1" r="2.50"/><circle cx="582.5" cy="138.7" r="2.50"/><circle cx="585.1" cy="139.3" r="2.50"/><circle cx="587.7" cy="140.1" r="2.50"/><circle cx="590.3" cy="140.9" r="2.50"/><circle cx="592.9" cy="141.8" r="2.50"/><circle cx="595.5" cy="142.8" r="2.50"/><circle cx="598.1" cy="143.9" r="2.50"/><circle cx="600.7" cy="145.0" r="2.50"/><circle cx="603.3" cy="146.2" r="2.50"/><circle cx="605.9" cy="147.5" r="2.50"/><circle cx="608.5" cy="148.8" r="2.50"/><circle cx="611.1" cy="150.2" r="2.50"/><circle cx="613.7" cy="151.6" r="2.50"/><circle cx="616.3" cy="153.1" r="2.50"/><circle cx="618.9" cy="154.6" r="2.50"/><circle cx="621.5" cy="156.2" r="2.50"/><circle cx="624.1" cy="157.9" r="2.50"/><circle cx="626.7" cy="159.6" r="2.50"/><circle cx="629.3" cy="161.3" r="2.50"/><circle cx="631.9" cy="163.1" r="2.50"/><circle cx="634.5" cy="165.1" r="2.50"/><circle cx="637.1" cy="167.1" r="2.50"/><circle cx="639.7" cy="169.2" r="2.50"/><circle cx="642.3" cy="171.4" r="2.50"/><circle cx="644.9" cy="173.7" r="2.50"/><circle cx="647.5" cy="176.0" r="2.50"/><circle cx="650.1" cy="178.3" r="2.50"/><circle cx="652.7" cy="180.7" r="2.50"/><circle cx="655.3" cy="183.3" r="2.50"/><circle cx="657.9" cy="186.0" r="2.50"/><circle cx="660.5" cy="189.0" r="2.50"/><circle cx="663.1" cy="192.3" r="2.50"/><circle cx="665.7" cy="195.7" r="2.50"/><circle cx="668.3" cy="199.3" r="2.50"/></g><g fill="#f5afb2"><circle cx="408.2" cy="83.3" r="0.70"/><circle cx="410.8" cy="84.3" r="0.70"/><circle cx="413.4" cy="85.3" r="0.70"/><circle cx="416.0" cy="86.3" r="0.70"/><circle cx="418.6" cy="87.3" r="0.70"/><circle cx="421.2" cy="88.3" r="0.70"/><circle cx="423.8" cy="89.3" r="0.70"/><circle cx="426.4" cy="90.3" r="0.70"/><circle cx="429.0" cy="91.4" r="0.70"/><circle cx="431.6" cy="92.4" r="0.70"/><circle cx="434.2" cy="93.5" r="0.70"/><circle cx="436.8" cy="94.5" r="0.70"/><circle cx="439.4" cy="95.6" r="0.70"/><circle cx="442.0" cy="96.8" r="0.70"/><circle cx="444.6" cy="98.0" r="0.70"/><circle cx="447.2" cy="99.2" r="0.70"/><circle cx="449.8" cy="100.4" r="0.70"/><circle cx="452.4" cy="101.7" r="0.70"/><circle cx="455.0" cy="103.0" r="0.70"/><circle cx="457.6" cy="104.3" r="0.70"/><circle cx="460.2" cy="105.6" r="0.70"/><circle cx="462.8" cy="106.9" r="0.70"/><circle cx="465.4" cy="108.1" r="0.70"/><circle cx="468.0" cy="109.4" r="0.70"/><circle cx="470.6" cy="110.6" r="0.70"/><circle cx="473.2" cy="111.8" r="0.70"/><circle cx="475.8" cy="113.1" r="0.70"/><circle cx="478.4" cy="114.3" r="0.70"/><circle cx="481.0" cy="115.6" r="0.70"/><circle cx="483.6" cy="116.9" r="0.70"/><circle cx="486.2" cy="118.1" r="0.70"/><circle cx="488.8" cy="119.3" r="0.70"/><circle cx="491.4" cy="120.5" r="0.70"/><circle cx="494.0" cy="121.6" r="0.70"/><circle cx="496.6" cy="122.6" r="0.70"/><circle cx="499.2" cy="123.6" r="0.70"/><circle cx="501.8" cy="124.5" r="0.70"/><circle cx="504.4" cy="125.4" r="0.70"/><circle cx="507.0" cy="126.2" r="0.70"/><circle cx="509.6" cy="127.0" r="0.70"/><circle cx="512.2" cy="127.7" r="0.70"/><circle cx="514.8" cy="128.4" r="0.70"/><circle cx="517.4" cy="129.1" r="0.70"/><circle cx="520.0" cy="129.7" r="0.70"/><circle cx="522.6" cy="130.3" r="0.70"/><circle cx="525.2" cy="130.8" r="0.70"/><circle cx="527.8" cy="131.4" r="0.70"/><circle cx="530.4" cy="131.9" r="0.70"/><circle cx="533.0" cy="132.3" r="0.70"/><circle cx="535.6" cy="132.7" r="0.70"/><circle cx="538.2" cy="133.1" r="0.70"/><circle cx="540.9" cy="133.4" r="0.70"/><circle cx="543.5" cy="133.7" r="0.70"/><circle cx="546.1" cy="134.0" r="0.70"/><circle cx="548.7" cy="134.2" r="0.70"/><circle cx="551.3" cy="134.5" r="0.70"/><circle cx="553.9" cy="134.8" r="0.70"/><circle cx="556.5" cy="135.1" r="0.70"/><circle cx="559.1" cy="135.4" r="0.70"/><circle cx="561.7" cy="135.7" r="0.70"/><circle cx="564.3" cy="136.0" r="0.70"/><circle cx="566.9" cy="136.3" r="0.70"/><circle cx="569.5" cy="136.6" r="0.70"/><circle cx="572.1" cy="137.0" r="0.70"/><circle cx="574.7" cy="137.3" r="0.70"/><circle cx="577.3" cy="137.7" r="0.70"/><circle cx="579.9" cy="138.1" r="0.70"/><circle cx="582.5" cy="138.7" r="0.70"/><circle cx="585.1" cy="139.3" r="0.70"/><circle cx="587.7" cy="140.1" r="0.70"/><circle cx="590.3" cy="140.9" r="0.70"/><circle cx="592.9" cy="141.8" r="0.70"/><circle cx="595.5" cy="142.8" r="0.70"/><circle cx="598.1" cy="143.9" r="0.70"/><circle cx="600.7" cy="145.0" r="0.70"/><circle cx="603.3" cy="146.2" r="0.70"/><circle cx="605.9" cy="147.5" r="0.70"/><circle cx="608.5" cy="148.8" r="0.70"/><circle cx="611.1" cy="150.2" r="0.70"/><circle cx="613.7" cy="151.6" r="0.70"/><circle cx="616.3" cy="153.1" r="0.70"/><circle cx="618.9" cy="154.6" r="0.70"/><circle cx="621.5" cy="156.2" r="0.70"/><circle cx="624.1" cy="157.9" r="0.70"/><circle cx="626.7" cy="159.6" r="0.70"/><circle cx="629.3" cy="161.3" r="0.70"/><circle cx="631.9" cy="163.1" r="0.70"/><circle cx="634.5" cy="165.1" r="0.70"/><circle cx="637.1" cy="167.1" r="0.70"/><circle cx="639.7" cy="169.2" r="0.70"/><circle cx="642.3" cy="171.4" r="0.70"/><circle cx="644.9" cy="173.7" r="0.70"/><circle cx="647.5" cy="176.0" r="0.70"/><circle cx="650.1" cy="178.3" r="0.70"/><circle cx="652.7" cy="180.7" r="0.70"/><circle cx="655.3" cy="183.3" r="0.70"/><circle cx="657.9" cy="186.0" r="0.70"/><circle cx="660.5" cy="189.0" r="0.70"/><circle cx="663.1" cy="192.3" r="0.70"/><circle cx="665.7" cy="195.7" r="0.70"/><circle cx="668.3" cy="199.3" r="0.70"/></g></g><g clip-path="url(#clipB)"><path d="M408.20 127.99 L412.02 129.63 L415.85 131.26 L419.67 132.90 L423.50 134.55 L427.32 136.22 L431.15 137.92 L434.97 139.65 L438.80 141.43 L442.62 143.28 L446.45 145.22 L450.27 147.21 L454.10 149.23 L457.92 151.27 L461.75 153.29 L465.57 155.30 L469.40 157.26 L473.22 159.16 L477.05 160.98 L480.87 162.67 L484.70 164.23 L488.52 165.67 L492.35 167.03 L496.17 168.31 L500.00 169.54 L503.82 170.76 L507.65 171.98 L511.47 173.25 L515.30 174.61 L519.12 176.06 L522.95 177.56 L526.77 179.11 L530.60 180.69 L534.42 182.27 L538.25 183.81 L542.08 185.31 L545.90 186.81 L549.73 188.30 L553.55 189.77 L557.38 191.22 L561.20 192.64 L565.03 194.01 L568.85 195.33 L572.68 196.61 L576.50 197.86 L580.33 199.08 L584.15 200.28 L587.98 201.47 L591.80 202.67 L595.63 203.95 L599.45 205.27 L603.28 206.54 L607.10 207.69 L610.93 208.68 L614.75 209.45 L618.58 210.01 L622.40 210.39 L626.23 210.65 L630.05 210.84 L633.88 210.98 L641.30 211.23 L646.70 211.49 L652.20 211.78 L657.60 212.05 L663.10 212.30 L668.30 212.54" stroke="#4a4a4a" stroke-width="1.30" fill="none"/><g fill="#4a4a4a"><circle cx="408.2" cy="128.0" r="2.45"/><circle cx="412.0" cy="129.6" r="2.45"/><circle cx="415.8" cy="131.3" r="2.45"/><circle cx="419.7" cy="132.9" r="2.45"/><circle cx="423.5" cy="134.5" r="2.45"/><circle cx="427.3" cy="136.2" r="2.45"/><circle cx="431.1" cy="137.9" r="2.45"/><circle cx="435.0" cy="139.7" r="2.45"/><circle cx="438.8" cy="141.4" r="2.45"/><circle cx="442.6" cy="143.3" r="2.45"/><circle cx="446.4" cy="145.2" r="2.45"/><circle cx="450.3" cy="147.2" r="2.45"/><circle cx="454.1" cy="149.2" r="2.45"/><circle cx="457.9" cy="151.3" r="2.45"/><circle cx="461.7" cy="153.3" r="2.45"/><circle cx="465.6" cy="155.3" r="2.45"/><circle cx="469.4" cy="157.3" r="2.45"/><circle cx="473.2" cy="159.2" r="2.45"/><circle cx="477.0" cy="161.0" r="2.45"/><circle cx="480.9" cy="162.7" r="2.45"/><circle cx="484.7" cy="164.2" r="2.45"/><circle cx="488.5" cy="165.7" r="2.45"/><circle cx="492.3" cy="167.0" r="2.45"/><circle cx="496.2" cy="168.3" r="2.45"/><circle cx="500.0" cy="169.5" r="2.45"/><circle cx="503.8" cy="170.8" r="2.45"/><circle cx="507.6" cy="172.0" r="2.45"/><circle cx="511.5" cy="173.3" r="2.45"/><circle cx="515.3" cy="174.6" r="2.45"/><circle cx="519.1" cy="176.1" r="2.45"/><circle cx="522.9" cy="177.6" r="2.45"/><circle cx="526.8" cy="179.1" r="2.45"/><circle cx="530.6" cy="180.7" r="2.45"/><circle cx="534.4" cy="182.3" r="2.45"/><circle cx="538.2" cy="183.8" r="2.45"/><circle cx="542.1" cy="185.3" r="2.45"/><circle cx="545.9" cy="186.8" r="2.45"/><circle cx="549.7" cy="188.3" r="2.45"/><circle cx="553.6" cy="189.8" r="2.45"/><circle cx="557.4" cy="191.2" r="2.45"/><circle cx="561.2" cy="192.6" r="2.45"/><circle cx="565.0" cy="194.0" r="2.45"/><circle cx="568.9" cy="195.3" r="2.45"/><circle cx="572.7" cy="196.6" r="2.45"/><circle cx="576.5" cy="197.9" r="2.45"/><circle cx="580.3" cy="199.1" r="2.45"/><circle cx="584.2" cy="200.3" r="2.45"/><circle cx="588.0" cy="201.5" r="2.45"/><circle cx="591.8" cy="202.7" r="2.45"/><circle cx="595.6" cy="204.0" r="2.45"/><circle cx="599.5" cy="205.3" r="2.45"/><circle cx="603.3" cy="206.5" r="2.45"/><circle cx="607.1" cy="207.7" r="2.45"/><circle cx="610.9" cy="208.7" r="2.45"/><circle cx="614.8" cy="209.5" r="2.45"/><circle cx="618.6" cy="210.0" r="2.45"/><circle cx="622.4" cy="210.4" r="2.45"/><circle cx="626.2" cy="210.7" r="2.45"/><circle cx="630.1" cy="210.8" r="2.45"/><circle cx="633.9" cy="211.0" r="2.45"/><circle cx="641.3" cy="211.2" r="2.45"/><circle cx="646.7" cy="211.5" r="2.45"/><circle cx="652.2" cy="211.8" r="2.45"/><circle cx="657.6" cy="212.0" r="2.45"/><circle cx="663.1" cy="212.3" r="2.45"/><circle cx="668.3" cy="212.5" r="2.45"/></g><g fill="#c8c8c8"><circle cx="408.2" cy="128.0" r="0.65"/><circle cx="412.0" cy="129.6" r="0.65"/><circle cx="415.8" cy="131.3" r="0.65"/><circle cx="419.7" cy="132.9" r="0.65"/><circle cx="423.5" cy="134.5" r="0.65"/><circle cx="427.3" cy="136.2" r="0.65"/><circle cx="431.1" cy="137.9" r="0.65"/><circle cx="435.0" cy="139.7" r="0.65"/><circle cx="438.8" cy="141.4" r="0.65"/><circle cx="442.6" cy="143.3" r="0.65"/><circle cx="446.4" cy="145.2" r="0.65"/><circle cx="450.3" cy="147.2" r="0.65"/><circle cx="454.1" cy="149.2" r="0.65"/><circle cx="457.9" cy="151.3" r="0.65"/><circle cx="461.7" cy="153.3" r="0.65"/><circle cx="465.6" cy="155.3" r="0.65"/><circle cx="469.4" cy="157.3" r="0.65"/><circle cx="473.2" cy="159.2" r="0.65"/><circle cx="477.0" cy="161.0" r="0.65"/><circle cx="480.9" cy="162.7" r="0.65"/><circle cx="484.7" cy="164.2" r="0.65"/><circle cx="488.5" cy="165.7" r="0.65"/><circle cx="492.3" cy="167.0" r="0.65"/><circle cx="496.2" cy="168.3" r="0.65"/><circle cx="500.0" cy="169.5" r="0.65"/><circle cx="503.8" cy="170.8" r="0.65"/><circle cx="507.6" cy="172.0" r="0.65"/><circle cx="511.5" cy="173.3" r="0.65"/><circle cx="515.3" cy="174.6" r="0.65"/><circle cx="519.1" cy="176.1" r="0.65"/><circle cx="522.9" cy="177.6" r="0.65"/><circle cx="526.8" cy="179.1" r="0.65"/><circle cx="530.6" cy="180.7" r="0.65"/><circle cx="534.4" cy="182.3" r="0.65"/><circle cx="538.2" cy="183.8" r="0.65"/><circle cx="542.1" cy="185.3" r="0.65"/><circle cx="545.9" cy="186.8" r="0.65"/><circle cx="549.7" cy="188.3" r="0.65"/><circle cx="553.6" cy="189.8" r="0.65"/><circle cx="557.4" cy="191.2" r="0.65"/><circle cx="561.2" cy="192.6" r="0.65"/><circle cx="565.0" cy="194.0" r="0.65"/><circle cx="568.9" cy="195.3" r="0.65"/><circle cx="572.7" cy="196.6" r="0.65"/><circle cx="576.5" cy="197.9" r="0.65"/><circle cx="580.3" cy="199.1" r="0.65"/><circle cx="584.2" cy="200.3" r="0.65"/><circle cx="588.0" cy="201.5" r="0.65"/><circle cx="591.8" cy="202.7" r="0.65"/><circle cx="595.6" cy="204.0" r="0.65"/><circle cx="599.5" cy="205.3" r="0.65"/><circle cx="603.3" cy="206.5" r="0.65"/><circle cx="607.1" cy="207.7" r="0.65"/><circle cx="610.9" cy="208.7" r="0.65"/><circle cx="614.8" cy="209.5" r="0.65"/><circle cx="618.6" cy="210.0" r="0.65"/><circle cx="622.4" cy="210.4" r="0.65"/><circle cx="626.2" cy="210.7" r="0.65"/><circle cx="630.1" cy="210.8" r="0.65"/><circle cx="633.9" cy="211.0" r="0.65"/><circle cx="641.3" cy="211.2" r="0.65"/><circle cx="646.7" cy="211.5" r="0.65"/><circle cx="652.2" cy="211.8" r="0.65"/><circle cx="657.6" cy="212.0" r="0.65"/><circle cx="663.1" cy="212.3" r="0.65"/><circle cx="668.3" cy="212.5" r="0.65"/></g></g><g clip-path="url(#clipB)"><path d="M408.20 144.47 L412.02 145.68 L415.85 146.86 L419.67 148.05 L423.50 149.27 L427.32 150.55 L431.15 151.90 L434.97 153.34 L438.80 154.89 L442.62 156.58 L446.45 158.37 L450.27 160.24 L454.10 162.17 L457.92 164.14 L461.75 166.14 L465.57 168.16 L469.40 170.19 L473.22 172.23 L477.05 174.25 L480.87 176.26 L484.70 178.27 L488.52 180.32 L492.35 182.38 L496.17 184.45 L500.00 186.53 L503.82 188.60 L507.65 190.65 L511.47 192.68 L515.30 194.65 L519.12 196.60 L522.95 198.52 L526.77 200.40 L530.60 202.22 L534.42 203.98 L538.25 205.66 L542.08 207.27 L545.90 208.85 L549.73 210.39 L553.55 211.85 L557.38 213.20 L561.20 214.43 L565.03 215.51 L568.85 216.37 L572.68 217.04 L576.50 217.58 L580.33 218.04 L584.15 218.50 L587.98 219.00 L591.80 219.60 L595.63 220.27 L599.45 220.98 L603.28 221.68 L607.10 222.35 L610.93 222.95 L614.75 223.47 L618.58 223.90 L622.40 224.25 L626.23 224.57 L630.05 224.86 L633.88 225.13 L637.70 225.41 L641.53 225.70 L645.35 226.03 L649.18 226.40 L653.00 226.78 L656.83 227.17 L660.65 227.57 L664.48 227.97 L668.30 228.38" stroke="#3b7be8" stroke-width="1.30" fill="none"/><g fill="#3b7be8"><circle cx="408.2" cy="144.5" r="2.45"/><circle cx="412.0" cy="145.7" r="2.45"/><circle cx="415.8" cy="146.9" r="2.45"/><circle cx="419.7" cy="148.0" r="2.45"/><circle cx="423.5" cy="149.3" r="2.45"/><circle cx="427.3" cy="150.6" r="2.45"/><circle cx="431.1" cy="151.9" r="2.45"/><circle cx="435.0" cy="153.3" r="2.45"/><circle cx="438.8" cy="154.9" r="2.45"/><circle cx="442.6" cy="156.6" r="2.45"/><circle cx="446.4" cy="158.4" r="2.45"/><circle cx="450.3" cy="160.2" r="2.45"/><circle cx="454.1" cy="162.2" r="2.45"/><circle cx="457.9" cy="164.1" r="2.45"/><circle cx="461.7" cy="166.1" r="2.45"/><circle cx="465.6" cy="168.2" r="2.45"/><circle cx="469.4" cy="170.2" r="2.45"/><circle cx="473.2" cy="172.2" r="2.45"/><circle cx="477.0" cy="174.3" r="2.45"/><circle cx="480.9" cy="176.3" r="2.45"/><circle cx="484.7" cy="178.3" r="2.45"/><circle cx="488.5" cy="180.3" r="2.45"/><circle cx="492.3" cy="182.4" r="2.45"/><circle cx="496.2" cy="184.5" r="2.45"/><circle cx="500.0" cy="186.5" r="2.45"/><circle cx="503.8" cy="188.6" r="2.45"/><circle cx="507.6" cy="190.7" r="2.45"/><circle cx="511.5" cy="192.7" r="2.45"/><circle cx="515.3" cy="194.7" r="2.45"/><circle cx="519.1" cy="196.6" r="2.45"/><circle cx="522.9" cy="198.5" r="2.45"/><circle cx="526.8" cy="200.4" r="2.45"/><circle cx="530.6" cy="202.2" r="2.45"/><circle cx="534.4" cy="204.0" r="2.45"/><circle cx="538.2" cy="205.7" r="2.45"/><circle cx="542.1" cy="207.3" r="2.45"/><circle cx="545.9" cy="208.9" r="2.45"/><circle cx="549.7" cy="210.4" r="2.45"/><circle cx="553.6" cy="211.8" r="2.45"/><circle cx="557.4" cy="213.2" r="2.45"/><circle cx="561.2" cy="214.4" r="2.45"/><circle cx="565.0" cy="215.5" r="2.45"/><circle cx="568.9" cy="216.4" r="2.45"/><circle cx="572.7" cy="217.0" r="2.45"/><circle cx="576.5" cy="217.6" r="2.45"/><circle cx="580.3" cy="218.0" r="2.45"/><circle cx="584.2" cy="218.5" r="2.45"/><circle cx="588.0" cy="219.0" r="2.45"/><circle cx="591.8" cy="219.6" r="2.45"/><circle cx="595.6" cy="220.3" r="2.45"/><circle cx="599.5" cy="221.0" r="2.45"/><circle cx="603.3" cy="221.7" r="2.45"/><circle cx="607.1" cy="222.3" r="2.45"/><circle cx="610.9" cy="222.9" r="2.45"/><circle cx="614.8" cy="223.5" r="2.45"/><circle cx="618.6" cy="223.9" r="2.45"/><circle cx="622.4" cy="224.3" r="2.45"/><circle cx="626.2" cy="224.6" r="2.45"/><circle cx="630.1" cy="224.9" r="2.45"/><circle cx="633.9" cy="225.1" r="2.45"/><circle cx="637.7" cy="225.4" r="2.45"/><circle cx="641.5" cy="225.7" r="2.45"/><circle cx="645.4" cy="226.0" r="2.45"/><circle cx="649.2" cy="226.4" r="2.45"/><circle cx="653.0" cy="226.8" r="2.45"/><circle cx="656.8" cy="227.2" r="2.45"/><circle cx="660.7" cy="227.6" r="2.45"/><circle cx="664.5" cy="228.0" r="2.45"/><circle cx="668.3" cy="228.4" r="2.45"/></g><g fill="#c4d7f8"><circle cx="408.2" cy="144.5" r="0.65"/><circle cx="412.0" cy="145.7" r="0.65"/><circle cx="415.8" cy="146.9" r="0.65"/><circle cx="419.7" cy="148.0" r="0.65"/><circle cx="423.5" cy="149.3" r="0.65"/><circle cx="427.3" cy="150.6" r="0.65"/><circle cx="431.1" cy="151.9" r="0.65"/><circle cx="435.0" cy="153.3" r="0.65"/><circle cx="438.8" cy="154.9" r="0.65"/><circle cx="442.6" cy="156.6" r="0.65"/><circle cx="446.4" cy="158.4" r="0.65"/><circle cx="450.3" cy="160.2" r="0.65"/><circle cx="454.1" cy="162.2" r="0.65"/><circle cx="457.9" cy="164.1" r="0.65"/><circle cx="461.7" cy="166.1" r="0.65"/><circle cx="465.6" cy="168.2" r="0.65"/><circle cx="469.4" cy="170.2" r="0.65"/><circle cx="473.2" cy="172.2" r="0.65"/><circle cx="477.0" cy="174.3" r="0.65"/><circle cx="480.9" cy="176.3" r="0.65"/><circle cx="484.7" cy="178.3" r="0.65"/><circle cx="488.5" cy="180.3" r="0.65"/><circle cx="492.3" cy="182.4" r="0.65"/><circle cx="496.2" cy="184.5" r="0.65"/><circle cx="500.0" cy="186.5" r="0.65"/><circle cx="503.8" cy="188.6" r="0.65"/><circle cx="507.6" cy="190.7" r="0.65"/><circle cx="511.5" cy="192.7" r="0.65"/><circle cx="515.3" cy="194.7" r="0.65"/><circle cx="519.1" cy="196.6" r="0.65"/><circle cx="522.9" cy="198.5" r="0.65"/><circle cx="526.8" cy="200.4" r="0.65"/><circle cx="530.6" cy="202.2" r="0.65"/><circle cx="534.4" cy="204.0" r="0.65"/><circle cx="538.2" cy="205.7" r="0.65"/><circle cx="542.1" cy="207.3" r="0.65"/><circle cx="545.9" cy="208.9" r="0.65"/><circle cx="549.7" cy="210.4" r="0.65"/><circle cx="553.6" cy="211.8" r="0.65"/><circle cx="557.4" cy="213.2" r="0.65"/><circle cx="561.2" cy="214.4" r="0.65"/><circle cx="565.0" cy="215.5" r="0.65"/><circle cx="568.9" cy="216.4" r="0.65"/><circle cx="572.7" cy="217.0" r="0.65"/><circle cx="576.5" cy="217.6" r="0.65"/><circle cx="580.3" cy="218.0" r="0.65"/><circle cx="584.2" cy="218.5" r="0.65"/><circle cx="588.0" cy="219.0" r="0.65"/><circle cx="591.8" cy="219.6" r="0.65"/><circle cx="595.6" cy="220.3" r="0.65"/><circle cx="599.5" cy="221.0" r="0.65"/><circle cx="603.3" cy="221.7" r="0.65"/><circle cx="607.1" cy="222.3" r="0.65"/><circle cx="610.9" cy="222.9" r="0.65"/><circle cx="614.8" cy="223.5" r="0.65"/><circle cx="618.6" cy="223.9" r="0.65"/><circle cx="622.4" cy="224.3" r="0.65"/><circle cx="626.2" cy="224.6" r="0.65"/><circle cx="630.1" cy="224.9" r="0.65"/><circle cx="633.9" cy="225.1" r="0.65"/><circle cx="637.7" cy="225.4" r="0.65"/><circle cx="641.5" cy="225.7" r="0.65"/><circle cx="645.4" cy="226.0" r="0.65"/><circle cx="649.2" cy="226.4" r="0.65"/><circle cx="653.0" cy="226.8" r="0.65"/><circle cx="656.8" cy="227.2" r="0.65"/><circle cx="660.7" cy="227.6" r="0.65"/><circle cx="664.5" cy="228.0" r="0.65"/><circle cx="668.3" cy="228.4" r="0.65"/></g></g><g clip-path="url(#clipB)"><path d="M408.20 134.71 L412.02 136.76 L415.85 138.84 L419.67 140.92 L423.50 142.97 L427.32 145.00 L431.15 146.99 L434.97 148.93 L438.80 150.82 L442.62 152.64 L446.45 154.43 L450.27 156.19 L454.10 157.92 L457.92 159.63 L461.75 161.31 L465.57 162.97 L469.40 164.61 L473.22 166.22 L477.05 167.80 L480.87 169.35 L484.70 170.85 L488.52 172.30 L492.35 173.70 L496.17 175.08 L500.00 176.42 L503.82 177.75 L507.65 179.06 L511.47 180.38 L515.30 181.70 L519.12 183.02 L522.95 184.30 L526.77 185.55 L530.60 186.80 L534.42 188.07 L538.25 189.38 L542.08 190.76 L545.90 192.21 L549.73 193.71 L553.55 195.23 L557.38 196.72 L561.20 198.16 L565.03 199.51 L568.85 200.75 L572.68 201.90 L576.50 203.00 L580.33 204.08 L584.15 205.16 L587.98 206.28 L591.80 207.48 L595.63 208.83 L599.45 210.27 L603.28 211.68 L607.10 212.98 L610.93 214.09 L614.75 214.95 L618.58 215.54 L622.40 215.94 L626.23 216.20 L630.05 216.38 L633.88 216.52 L641.30 216.78 L646.70 217.13 L652.20 217.56 L657.60 218.00 L663.10 218.46 L668.30 218.90" stroke="#a86ee8" stroke-width="1.30" fill="none"/><g fill="#a86ee8"><circle cx="408.2" cy="134.7" r="2.45"/><circle cx="412.0" cy="136.8" r="2.45"/><circle cx="415.8" cy="138.8" r="2.45"/><circle cx="419.7" cy="140.9" r="2.45"/><circle cx="423.5" cy="143.0" r="2.45"/><circle cx="427.3" cy="145.0" r="2.45"/><circle cx="431.1" cy="147.0" r="2.45"/><circle cx="435.0" cy="148.9" r="2.45"/><circle cx="438.8" cy="150.8" r="2.45"/><circle cx="442.6" cy="152.6" r="2.45"/><circle cx="446.4" cy="154.4" r="2.45"/><circle cx="450.3" cy="156.2" r="2.45"/><circle cx="454.1" cy="157.9" r="2.45"/><circle cx="457.9" cy="159.6" r="2.45"/><circle cx="461.7" cy="161.3" r="2.45"/><circle cx="465.6" cy="163.0" r="2.45"/><circle cx="469.4" cy="164.6" r="2.45"/><circle cx="473.2" cy="166.2" r="2.45"/><circle cx="477.0" cy="167.8" r="2.45"/><circle cx="480.9" cy="169.3" r="2.45"/><circle cx="484.7" cy="170.8" r="2.45"/><circle cx="488.5" cy="172.3" r="2.45"/><circle cx="492.3" cy="173.7" r="2.45"/><circle cx="496.2" cy="175.1" r="2.45"/><circle cx="500.0" cy="176.4" r="2.45"/><circle cx="503.8" cy="177.7" r="2.45"/><circle cx="507.6" cy="179.1" r="2.45"/><circle cx="511.5" cy="180.4" r="2.45"/><circle cx="515.3" cy="181.7" r="2.45"/><circle cx="519.1" cy="183.0" r="2.45"/><circle cx="522.9" cy="184.3" r="2.45"/><circle cx="526.8" cy="185.6" r="2.45"/><circle cx="530.6" cy="186.8" r="2.45"/><circle cx="534.4" cy="188.1" r="2.45"/><circle cx="538.2" cy="189.4" r="2.45"/><circle cx="542.1" cy="190.8" r="2.45"/><circle cx="545.9" cy="192.2" r="2.45"/><circle cx="549.7" cy="193.7" r="2.45"/><circle cx="553.6" cy="195.2" r="2.45"/><circle cx="557.4" cy="196.7" r="2.45"/><circle cx="561.2" cy="198.2" r="2.45"/><circle cx="565.0" cy="199.5" r="2.45"/><circle cx="568.9" cy="200.7" r="2.45"/><circle cx="572.7" cy="201.9" r="2.45"/><circle cx="576.5" cy="203.0" r="2.45"/><circle cx="580.3" cy="204.1" r="2.45"/><circle cx="584.2" cy="205.2" r="2.45"/><circle cx="588.0" cy="206.3" r="2.45"/><circle cx="591.8" cy="207.5" r="2.45"/><circle cx="595.6" cy="208.8" r="2.45"/><circle cx="599.5" cy="210.3" r="2.45"/><circle cx="603.3" cy="211.7" r="2.45"/><circle cx="607.1" cy="213.0" r="2.45"/><circle cx="610.9" cy="214.1" r="2.45"/><circle cx="614.8" cy="214.9" r="2.45"/><circle cx="618.6" cy="215.5" r="2.45"/><circle cx="622.4" cy="215.9" r="2.45"/><circle cx="626.2" cy="216.2" r="2.45"/><circle cx="630.1" cy="216.4" r="2.45"/><circle cx="633.9" cy="216.5" r="2.45"/><circle cx="641.3" cy="216.8" r="2.45"/><circle cx="646.7" cy="217.1" r="2.45"/><circle cx="652.2" cy="217.6" r="2.45"/><circle cx="657.6" cy="218.0" r="2.45"/><circle cx="663.1" cy="218.5" r="2.45"/><circle cx="668.3" cy="218.9" r="2.45"/></g><g fill="#e4d3f8"><circle cx="408.2" cy="134.7" r="0.65"/><circle cx="412.0" cy="136.8" r="0.65"/><circle cx="415.8" cy="138.8" r="0.65"/><circle cx="419.7" cy="140.9" r="0.65"/><circle cx="423.5" cy="143.0" r="0.65"/><circle cx="427.3" cy="145.0" r="0.65"/><circle cx="431.1" cy="147.0" r="0.65"/><circle cx="435.0" cy="148.9" r="0.65"/><circle cx="438.8" cy="150.8" r="0.65"/><circle cx="442.6" cy="152.6" r="0.65"/><circle cx="446.4" cy="154.4" r="0.65"/><circle cx="450.3" cy="156.2" r="0.65"/><circle cx="454.1" cy="157.9" r="0.65"/><circle cx="457.9" cy="159.6" r="0.65"/><circle cx="461.7" cy="161.3" r="0.65"/><circle cx="465.6" cy="163.0" r="0.65"/><circle cx="469.4" cy="164.6" r="0.65"/><circle cx="473.2" cy="166.2" r="0.65"/><circle cx="477.0" cy="167.8" r="0.65"/><circle cx="480.9" cy="169.3" r="0.65"/><circle cx="484.7" cy="170.8" r="0.65"/><circle cx="488.5" cy="172.3" r="0.65"/><circle cx="492.3" cy="173.7" r="0.65"/><circle cx="496.2" cy="175.1" r="0.65"/><circle cx="500.0" cy="176.4" r="0.65"/><circle cx="503.8" cy="177.7" r="0.65"/><circle cx="507.6" cy="179.1" r="0.65"/><circle cx="511.5" cy="180.4" r="0.65"/><circle cx="515.3" cy="181.7" r="0.65"/><circle cx="519.1" cy="183.0" r="0.65"/><circle cx="522.9" cy="184.3" r="0.65"/><circle cx="526.8" cy="185.6" r="0.65"/><circle cx="530.6" cy="186.8" r="0.65"/><circle cx="534.4" cy="188.1" r="0.65"/><circle cx="538.2" cy="189.4" r="0.65"/><circle cx="542.1" cy="190.8" r="0.65"/><circle cx="545.9" cy="192.2" r="0.65"/><circle cx="549.7" cy="193.7" r="0.65"/><circle cx="553.6" cy="195.2" r="0.65"/><circle cx="557.4" cy="196.7" r="0.65"/><circle cx="561.2" cy="198.2" r="0.65"/><circle cx="565.0" cy="199.5" r="0.65"/><circle cx="568.9" cy="200.7" r="0.65"/><circle cx="572.7" cy="201.9" r="0.65"/><circle cx="576.5" cy="203.0" r="0.65"/><circle cx="580.3" cy="204.1" r="0.65"/><circle cx="584.2" cy="205.2" r="0.65"/><circle cx="588.0" cy="206.3" r="0.65"/><circle cx="591.8" cy="207.5" r="0.65"/><circle cx="595.6" cy="208.8" r="0.65"/><circle cx="599.5" cy="210.3" r="0.65"/><circle cx="603.3" cy="211.7" r="0.65"/><circle cx="607.1" cy="213.0" r="0.65"/><circle cx="610.9" cy="214.1" r="0.65"/><circle cx="614.8" cy="214.9" r="0.65"/><circle cx="618.6" cy="215.5" r="0.65"/><circle cx="622.4" cy="215.9" r="0.65"/><circle cx="626.2" cy="216.2" r="0.65"/><circle cx="630.1" cy="216.4" r="0.65"/><circle cx="633.9" cy="216.5" r="0.65"/><circle cx="641.3" cy="216.8" r="0.65"/><circle cx="646.7" cy="217.1" r="0.65"/><circle cx="652.2" cy="217.6" r="0.65"/><circle cx="657.6" cy="218.0" r="0.65"/><circle cx="663.1" cy="218.5" r="0.65"/><circle cx="668.3" cy="218.9" r="0.65"/></g></g><g clip-path="url(#clipB)"><path d="M408.20 121.49 L412.02 123.30 L415.85 125.10 L419.67 126.90 L423.50 128.70 L427.32 130.50 L431.15 132.31 L434.97 134.12 L438.80 135.93 L442.62 137.75 L446.45 139.58 L450.27 141.41 L454.10 143.24 L457.92 145.08 L461.75 146.91 L465.57 148.74 L469.40 150.57 L473.22 152.39 L477.05 154.21 L480.87 156.01 L484.70 157.83 L488.52 159.65 L492.35 161.48 L496.17 163.31 L500.00 165.12 L503.82 166.90 L507.65 168.64 L511.47 170.32 L515.30 171.92 L519.12 173.41 L522.95 174.79 L526.77 176.05 L530.60 177.23 L534.42 178.35 L538.25 179.47 L542.08 180.62 L545.90 181.74 L549.73 182.83 L553.55 183.89 L557.38 184.93 L561.20 185.97 L565.03 187.01 L568.85 188.07 L572.68 189.16 L576.50 190.24 L580.33 191.29 L584.15 192.28 L587.98 193.17 L591.80 193.95 L595.63 194.63 L599.45 195.22 L603.28 195.74 L607.10 196.21 L610.93 196.65 L614.75 197.07 L618.58 197.45 L622.40 197.76 L626.23 198.04 L630.05 198.30 L633.88 198.58 L637.70 198.89 L641.53 199.27 L645.35 199.75 L649.18 200.38 L653.00 201.10 L656.83 201.90 L660.65 202.76 L664.48 203.65 L668.30 204.54" stroke="#4dba6b" stroke-width="1.30" fill="none"/><g fill="#4dba6b"><circle cx="408.2" cy="121.5" r="2.45"/><circle cx="412.0" cy="123.3" r="2.45"/><circle cx="415.8" cy="125.1" r="2.45"/><circle cx="419.7" cy="126.9" r="2.45"/><circle cx="423.5" cy="128.7" r="2.45"/><circle cx="427.3" cy="130.5" r="2.45"/><circle cx="431.1" cy="132.3" r="2.45"/><circle cx="435.0" cy="134.1" r="2.45"/><circle cx="438.8" cy="135.9" r="2.45"/><circle cx="442.6" cy="137.7" r="2.45"/><circle cx="446.4" cy="139.6" r="2.45"/><circle cx="450.3" cy="141.4" r="2.45"/><circle cx="454.1" cy="143.2" r="2.45"/><circle cx="457.9" cy="145.1" r="2.45"/><circle cx="461.7" cy="146.9" r="2.45"/><circle cx="465.6" cy="148.7" r="2.45"/><circle cx="469.4" cy="150.6" r="2.45"/><circle cx="473.2" cy="152.4" r="2.45"/><circle cx="477.0" cy="154.2" r="2.45"/><circle cx="480.9" cy="156.0" r="2.45"/><circle cx="484.7" cy="157.8" r="2.45"/><circle cx="488.5" cy="159.7" r="2.45"/><circle cx="492.3" cy="161.5" r="2.45"/><circle cx="496.2" cy="163.3" r="2.45"/><circle cx="500.0" cy="165.1" r="2.45"/><circle cx="503.8" cy="166.9" r="2.45"/><circle cx="507.6" cy="168.6" r="2.45"/><circle cx="511.5" cy="170.3" r="2.45"/><circle cx="515.3" cy="171.9" r="2.45"/><circle cx="519.1" cy="173.4" r="2.45"/><circle cx="522.9" cy="174.8" r="2.45"/><circle cx="526.8" cy="176.1" r="2.45"/><circle cx="530.6" cy="177.2" r="2.45"/><circle cx="534.4" cy="178.4" r="2.45"/><circle cx="538.2" cy="179.5" r="2.45"/><circle cx="542.1" cy="180.6" r="2.45"/><circle cx="545.9" cy="181.7" r="2.45"/><circle cx="549.7" cy="182.8" r="2.45"/><circle cx="553.6" cy="183.9" r="2.45"/><circle cx="557.4" cy="184.9" r="2.45"/><circle cx="561.2" cy="186.0" r="2.45"/><circle cx="565.0" cy="187.0" r="2.45"/><circle cx="568.9" cy="188.1" r="2.45"/><circle cx="572.7" cy="189.2" r="2.45"/><circle cx="576.5" cy="190.2" r="2.45"/><circle cx="580.3" cy="191.3" r="2.45"/><circle cx="584.2" cy="192.3" r="2.45"/><circle cx="588.0" cy="193.2" r="2.45"/><circle cx="591.8" cy="194.0" r="2.45"/><circle cx="595.6" cy="194.6" r="2.45"/><circle cx="599.5" cy="195.2" r="2.45"/><circle cx="603.3" cy="195.7" r="2.45"/><circle cx="607.1" cy="196.2" r="2.45"/><circle cx="610.9" cy="196.6" r="2.45"/><circle cx="614.8" cy="197.1" r="2.45"/><circle cx="618.6" cy="197.5" r="2.45"/><circle cx="622.4" cy="197.8" r="2.45"/><circle cx="626.2" cy="198.0" r="2.45"/><circle cx="630.1" cy="198.3" r="2.45"/><circle cx="633.9" cy="198.6" r="2.45"/><circle cx="637.7" cy="198.9" r="2.45"/><circle cx="641.5" cy="199.3" r="2.45"/><circle cx="645.4" cy="199.8" r="2.45"/><circle cx="649.2" cy="200.4" r="2.45"/><circle cx="653.0" cy="201.1" r="2.45"/><circle cx="656.8" cy="201.9" r="2.45"/><circle cx="660.7" cy="202.8" r="2.45"/><circle cx="664.5" cy="203.6" r="2.45"/><circle cx="668.3" cy="204.5" r="2.45"/></g><g fill="#c9ead2"><circle cx="408.2" cy="121.5" r="0.65"/><circle cx="412.0" cy="123.3" r="0.65"/><circle cx="415.8" cy="125.1" r="0.65"/><circle cx="419.7" cy="126.9" r="0.65"/><circle cx="423.5" cy="128.7" r="0.65"/><circle cx="427.3" cy="130.5" r="0.65"/><circle cx="431.1" cy="132.3" r="0.65"/><circle cx="435.0" cy="134.1" r="0.65"/><circle cx="438.8" cy="135.9" r="0.65"/><circle cx="442.6" cy="137.7" r="0.65"/><circle cx="446.4" cy="139.6" r="0.65"/><circle cx="450.3" cy="141.4" r="0.65"/><circle cx="454.1" cy="143.2" r="0.65"/><circle cx="457.9" cy="145.1" r="0.65"/><circle cx="461.7" cy="146.9" r="0.65"/><circle cx="465.6" cy="148.7" r="0.65"/><circle cx="469.4" cy="150.6" r="0.65"/><circle cx="473.2" cy="152.4" r="0.65"/><circle cx="477.0" cy="154.2" r="0.65"/><circle cx="480.9" cy="156.0" r="0.65"/><circle cx="484.7" cy="157.8" r="0.65"/><circle cx="488.5" cy="159.7" r="0.65"/><circle cx="492.3" cy="161.5" r="0.65"/><circle cx="496.2" cy="163.3" r="0.65"/><circle cx="500.0" cy="165.1" r="0.65"/><circle cx="503.8" cy="166.9" r="0.65"/><circle cx="507.6" cy="168.6" r="0.65"/><circle cx="511.5" cy="170.3" r="0.65"/><circle cx="515.3" cy="171.9" r="0.65"/><circle cx="519.1" cy="173.4" r="0.65"/><circle cx="522.9" cy="174.8" r="0.65"/><circle cx="526.8" cy="176.1" r="0.65"/><circle cx="530.6" cy="177.2" r="0.65"/><circle cx="534.4" cy="178.4" r="0.65"/><circle cx="538.2" cy="179.5" r="0.65"/><circle cx="542.1" cy="180.6" r="0.65"/><circle cx="545.9" cy="181.7" r="0.65"/><circle cx="549.7" cy="182.8" r="0.65"/><circle cx="553.6" cy="183.9" r="0.65"/><circle cx="557.4" cy="184.9" r="0.65"/><circle cx="561.2" cy="186.0" r="0.65"/><circle cx="565.0" cy="187.0" r="0.65"/><circle cx="568.9" cy="188.1" r="0.65"/><circle cx="572.7" cy="189.2" r="0.65"/><circle cx="576.5" cy="190.2" r="0.65"/><circle cx="580.3" cy="191.3" r="0.65"/><circle cx="584.2" cy="192.3" r="0.65"/><circle cx="588.0" cy="193.2" r="0.65"/><circle cx="591.8" cy="194.0" r="0.65"/><circle cx="595.6" cy="194.6" r="0.65"/><circle cx="599.5" cy="195.2" r="0.65"/><circle cx="603.3" cy="195.7" r="0.65"/><circle cx="607.1" cy="196.2" r="0.65"/><circle cx="610.9" cy="196.6" r="0.65"/><circle cx="614.8" cy="197.1" r="0.65"/><circle cx="618.6" cy="197.5" r="0.65"/><circle cx="622.4" cy="197.8" r="0.65"/><circle cx="626.2" cy="198.0" r="0.65"/><circle cx="630.1" cy="198.3" r="0.65"/><circle cx="633.9" cy="198.6" r="0.65"/><circle cx="637.7" cy="198.9" r="0.65"/><circle cx="641.5" cy="199.3" r="0.65"/><circle cx="645.4" cy="199.8" r="0.65"/><circle cx="649.2" cy="200.4" r="0.65"/><circle cx="653.0" cy="201.1" r="0.65"/><circle cx="656.8" cy="201.9" r="0.65"/><circle cx="660.7" cy="202.8" r="0.65"/><circle cx="664.5" cy="203.6" r="0.65"/><circle cx="668.3" cy="204.5" r="0.65"/></g></g><rect x="407.5" y="32.3" width="266.4" height="214.4" fill="none" stroke="#000" stroke-width="1.7"/><path d="M585.9 40.0 H612.3" stroke="#e8383f" stroke-width="1.8"/><g fill="#e8383f"><circle cx="599.1" cy="40.0" r="2.45"/></g><g fill="#f5afb2"><circle cx="599.1" cy="40.0" r="0.75"/></g><text x="617.80" y="44.00" font-family="Liberation Sans" font-size="11.00" font-weight="normal" text-anchor="start" >LGLZO_0</text><path d="M585.9 53.8 H612.3" stroke="#4a4a4a" stroke-width="1.8"/><g fill="#4a4a4a"><circle cx="599.1" cy="53.8" r="2.45"/></g><g fill="#b6b6b6"><circle cx="599.1" cy="53.8" r="0.75"/></g><text x="617.80" y="57.80" font-family="Liberation Sans" font-size="11.00" font-weight="normal" text-anchor="start" >LGLZO_3</text><path d="M585.9 67.5 H612.3" stroke="#3b7be8" stroke-width="1.8"/><g fill="#3b7be8"><circle cx="599.1" cy="67.5" r="2.45"/></g><g fill="#b0caf5"><circle cx="599.1" cy="67.5" r="0.75"/></g><text x="617.80" y="71.50" font-family="Liberation Sans" font-size="11.00" font-weight="normal" text-anchor="start" >LGLZO_5</text><path d="M585.9 81.2 H612.3" stroke="#a86ee8" stroke-width="1.8"/><g fill="#a86ee8"><circle cx="599.1" cy="81.2" r="2.45"/></g><g fill="#dcc5f5"><circle cx="599.1" cy="81.2" r="0.75"/></g><text x="617.80" y="85.20" font-family="Liberation Sans" font-size="11.00" font-weight="normal" text-anchor="start" >LGLZO_7</text><path d="M585.9 95.0 H612.3" stroke="#4dba6b" stroke-width="1.8"/><g fill="#4dba6b"><circle cx="599.1" cy="95.0" r="2.45"/></g><g fill="#b7e3c3"><circle cx="599.1" cy="95.0" r="0.75"/></g><text x="617.80" y="99.00" font-family="Liberation Sans" font-size="11.00" font-weight="normal" text-anchor="start" >LGLZO_10</text><defs><linearGradient id="lav" x1="0" y1="0" x2="0" y2="1"><stop offset="0" stop-color="#f5e9fc"/><stop offset="1" stop-color="#efd1fd"/></linearGradient><linearGradient id="bei" x1="0" y1="0" x2="0" y2="1"><stop offset="0" stop-color="#f8f1e9"/><stop offset="1" stop-color="#f6ecdf"/></linearGradient><clipPath id="clipC"><rect x="59.0" y="323.2" width="269.2" height="217.3"/></clipPath><clipPath id="clipD"><rect x="405.5" y="324.2" width="268.8" height="216"/></clipPath></defs><rect x="59.0" y="323.2" width="115.4" height="217.3" fill="url(#lav)"/><rect x="174.4" y="323.2" width="153.8" height="217.3" fill="url(#bei)"/><text x="3.40" y="313.60" font-family="Liberation Sans" font-size="24.00" font-weight="bold" text-anchor="start" >c</text><path d="M59.00 540.5 V536.9 M70.58 540.5 V538.7 M77.35 540.5 V538.7 M82.15 540.5 V538.7 M85.88 540.5 V538.7 M88.93 540.5 V538.7 M91.50 540.5 V538.7 M93.73 540.5 V538.7 M95.70 540.5 V538.7 M97.46 540.5 V536.9 M109.03 540.5 V538.7 M115.81 540.5 V538.7 M120.61 540.5 V538.7 M124.34 540.5 V538.7 M127.38 540.5 V538.7 M129.96 540.5 V538.7 M132.19 540.5 V538.7 M134.15 540.5 V538.7 M135.91 540.5 V536.9 M147.49 540.5 V538.7 M154.26 540.5 V538.7 M159.07 540.5 V538.7 M162.79 540.5 V538.7 M165.84 540.5 V538.7 M168.41 540.5 V538.7 M170.64 540.5 V538.7 M172.61 540.5 V538.7 M174.37 540.5 V536.9 M185.95 540.5 V538.7 M192.72 540.5 V538.7 M197.52 540.5 V538.7 M201.25 540.5 V538.7 M204.30 540.5 V538.7 M206.87 540.5 V538.7 M209.10 540.5 V538.7 M211.07 540.5 V538.7 M212.83 540.5 V536.9 M224.41 540.5 V538.7 M231.18 540.5 V538.7 M235.98 540.5 V538.7 M239.71 540.5 V538.7 M242.75 540.5 V538.7 M245.33 540.5 V538.7 M247.56 540.5 V538.7 M249.53 540.5 V538.7 M251.29 540.5 V536.9 M262.86 540.5 V538.7 M269.63 540.5 V538.7 M274.44 540.5 V538.7 M278.17 540.5 V538.7 M281.21 540.5 V538.7 M283.79 540.5 V538.7 M286.02 540.5 V538.7 M287.98 540.5 V538.7 M289.74 540.5 V536.9 M301.32 540.5 V538.7 M308.09 540.5 V538.7 M312.90 540.5 V538.7 M316.62 540.5 V538.7 M319.67 540.5 V538.7 M322.24 540.5 V538.7 M324.47 540.5 V538.7 M326.44 540.5 V538.7 M59.0 524.50 H62.8 M59.0 504.37 H61.0 M59.0 484.24 H62.8 M59.0 464.11 H61.0 M59.0 443.98 H62.8 M59.0 423.85 H61.0 M59.0 403.72 H62.8 M59.0 383.59 H61.0 M59.0 363.46 H62.8 M59.0 343.33 H61.0 M59.0 323.20 H62.8" stroke="#000" stroke-width="1.35" fill="none"/><text x="53.40" y="528.30" font-family="Liberation Sans" font-size="11.10" font-weight="bold" text-anchor="end" >0.0</text><text x="53.4" y="488.0" font-family="Liberation Sans" font-weight="bold" font-size="11.1" text-anchor="end">5.0×10<tspan font-size="8.0" dy="-5.0">5</tspan></text><text x="53.4" y="447.8" font-family="Liberation Sans" font-weight="bold" font-size="11.1" text-anchor="end">1.0×10<tspan font-size="8.0" dy="-5.0">6</tspan></text><text x="53.4" y="407.5" font-family="Liberation Sans" font-weight="bold" font-size="11.1" text-anchor="end">1.5×10<tspan font-size="8.0" dy="-5.0">6</tspan></text><text x="53.4" y="367.3" font-family="Liberation Sans" font-weight="bold" font-size="11.1" text-anchor="end">2.0×10<tspan font-size="8.0" dy="-5.0">6</tspan></text><text x="53.4" y="327.0" font-family="Liberation Sans" font-weight="bold" font-size="11.1" text-anchor="end">2.5×10<tspan font-size="8.0" dy="-5.0">6</tspan></text><text x="59.2" y="555.6" font-family="Liberation Sans" font-weight="bold" font-size="11.2" text-anchor="middle">10<tspan font-size="7.8" dy="-5.0">-8</tspan></text><text x="97.7" y="555.6" font-family="Liberation Sans" font-weight="bold" font-size="11.2" text-anchor="middle">10<tspan font-size="7.8" dy="-5.0">-7</tspan></text><text x="136.1" y="555.6" font-family="Liberation Sans" font-weight="bold" font-size="11.2" text-anchor="middle">10<tspan font-size="7.8" dy="-5.0">-6</tspan></text><text x="174.6" y="555.6" font-family="Liberation Sans" font-weight="bold" font-size="11.2" text-anchor="middle">10<tspan font-size="7.8" dy="-5.0">-5</tspan></text><text x="213.0" y="555.6" font-family="Liberation Sans" font-weight="bold" font-size="11.2" text-anchor="middle">10<tspan font-size="7.8" dy="-5.0">-4</tspan></text><text x="251.5" y="555.6" font-family="Liberation Sans" font-weight="bold" font-size="11.2" text-anchor="middle">10<tspan font-size="7.8" dy="-5.0">-3</tspan></text><text x="289.9" y="555.6" font-family="Liberation Sans" font-weight="bold" font-size="11.2" text-anchor="middle">10<tspan font-size="7.8" dy="-5.0">-2</tspan></text><text x="328.4" y="555.6" font-family="Liberation Sans" font-weight="bold" font-size="11.2" text-anchor="middle">10<tspan font-size="7.8" dy="-5.0">-1</tspan></text><text x="193.6" y="574.5" font-family="Liberation Sans" font-weight="bold" font-size="12" text-anchor="middle"><tspan font-family="Liberation Serif" font-weight="normal">τ</tspan> (s)</text><text transform="translate(10.3,432.0) rotate(-90)" font-family="Liberation Sans" font-weight="bold" font-size="11.2" text-anchor="middle"><tspan font-family="Liberation Serif" font-weight="normal">Υ(τ)</tspan> (ohm)</text><text x="80.1" y="339.5" font-family="Liberation Sans" font-weight="bold" font-size="11.2">Li<tspan font-size="7.5" dy="-4.5">+</tspan><tspan dy="4.5" xml:space="preserve">  transport</tspan></text><text x="116.40" y="353.50" font-family="Liberation Sans" font-size="11.20" font-weight="bold" text-anchor="middle" >LLZO grain</text><text x="215" y="338.2" font-family="Liberation Sans" font-weight="bold" font-size="11.2">Li<tspan font-size="7.5" dy="-4.5">+</tspan><tspan dy="4.5"> transport</tspan></text><text x="247.70" y="351.80" font-family="Liberation Sans" font-size="11.20" font-weight="bold" text-anchor="middle" >across</text><text x="247.80" y="365.60" font-family="Liberation Sans" font-size="11.20" font-weight="bold" text-anchor="middle" >grain boundary</text><g clip-path="url(#clipC)"><path d="M80.00 524.30 L80.26 524.29 L80.55 524.28 L80.86 524.27 L81.19 524.25 L81.54 524.24 L81.92 524.22 L82.31 524.21 L82.72 524.19 L83.15 524.17 L83.59 524.16 L84.05 524.14 L84.53 524.12 L85.02 524.10 L85.52 524.08 L86.04 524.06 L86.56 524.04 L87.09 524.02 L87.64 523.99 L88.19 523.97 L88.75 523.95 L89.32 523.93 L89.89 523.90 L90.46 523.88 L91.04 523.86 L91.62 523.84 L92.20 523.81 L92.79 523.79 L93.37 523.77 L93.95 523.74 L94.53 523.72 L95.11 523.70 L95.68 523.67 L96.25 523.65 L96.81 523.63 L97.36 523.61 L97.91 523.58 L98.45 523.56 L98.98 523.54 L99.49 523.52 L100.00 523.50 L100.50 523.48 L101.00 523.46 L101.50 523.44 L102.00 523.42 L102.50 523.40 L103.00 523.38 L103.50 523.36 L104.00 523.34 L104.50 523.32 L105.00 523.30 L105.50 523.28 L106.00 523.26 L106.50 523.24 L107.00 523.22 L107.50 523.20 L108.00 523.18 L108.50 523.16 L109.00 523.14 L109.50 523.12 L110.00 523.10 L110.50 523.08 L111.00 523.06 L111.50 523.04 L112.00 523.02 L112.50 523.00 L113.00 522.98 L113.50 522.96 L114.00 522.94 L114.50 522.92 L115.00 522.90 L115.50 522.88 L116.00 522.86 L116.50 522.84 L117.00 522.82 L117.50 522.80 L118.00 522.78 L118.50 522.76 L119.00 522.74 L119.50 522.72 L120.00 522.70 L120.50 522.68 L121.00 522.66 L121.50 522.64 L122.00 522.62 L122.50 522.60 L123.00 522.58 L123.50 522.56 L124.00 522.54 L124.50 522.52 L125.00 522.50 L125.50 522.48 L126.00 522.46 L126.50 522.44 L127.00 522.42 L127.50 522.40 L128.00 522.38 L128.50 522.35 L129.00 522.33 L129.50 522.31 L130.00 522.29 L130.50 522.27 L131.00 522.25 L131.50 522.23 L132.00 522.21 L132.50 522.19 L133.00 522.17 L133.50 522.15 L134.00 522.13 L134.50 522.11 L135.00 522.09 L135.50 522.07 L136.00 522.05 L136.50 522.03 L137.00 522.01 L137.50 522.00 L138.00 521.98 L138.50 521.96 L139.00 521.94 L139.50 521.92 L140.00 521.90 L140.50 521.88 L141.01 521.86 L141.51 521.84 L142.02 521.82 L142.53 521.80 L143.05 521.78 L143.56 521.77 L144.08 521.75 L144.60 521.73 L145.12 521.71 L145.64 521.69 L146.16 521.67 L146.68 521.65 L147.20 521.63 L147.72 521.61 L148.24 521.59 L148.76 521.57 L149.28 521.55 L149.80 521.53 L150.31 521.51 L150.83 521.49 L151.34 521.48 L151.85 521.46 L152.36 521.44 L152.87 521.42 L153.37 521.40 L153.87 521.39 L154.37 521.37 L154.86 521.35 L155.35 521.34 L155.84 521.32 L156.32 521.31 L156.80 521.29 L157.27 521.28 L157.74 521.26 L158.20 521.25 L158.66 521.24 L159.11 521.22 L159.56 521.21 L160.00 521.20 L160.44 521.19 L160.87 521.18 L161.30 521.17 L161.72 521.17 L162.14 521.16 L162.56 521.15 L162.97 521.15 L163.38 521.15 L163.79 521.14 L164.20 521.14 L164.60 521.14 L164.99 521.14 L165.39 521.14 L165.78 521.14 L166.17 521.14 L166.55 521.14 L166.93 521.14 L167.31 521.14 L167.69 521.14 L168.06 521.14 L168.43 521.14 L168.80 521.14 L169.17 521.14 L169.53 521.14 L169.89 521.14 L170.24 521.14 L170.60 521.14 L170.95 521.13 L171.30 521.13 L171.65 521.12 L171.99 521.12 L172.34 521.11 L172.68 521.10 L173.01 521.09 L173.35 521.08 L173.68 521.07 L174.02 521.05 L174.35 521.04 L174.67 521.02 L175.00 521.00 L175.32 520.98 L175.64 520.96 L175.96 520.94 L176.27 520.92 L176.58 520.90 L176.88 520.88 L177.18 520.86 L177.48 520.84 L177.77 520.81 L178.06 520.79 L178.35 520.77 L178.63 520.74 L178.92 520.72 L179.20 520.69 L179.48 520.67 L179.75 520.64 L180.02 520.61 L180.29 520.59 L180.56 520.56 L180.83 520.52 L181.10 520.49 L181.36 520.46 L181.62 520.43 L181.89 520.39 L182.15 520.35 L182.41 520.32 L182.66 520.28 L182.92 520.23 L183.18 520.19 L183.44 520.15 L183.69 520.10 L183.95 520.05 L184.20 520.00 L184.46 519.95 L184.71 519.90 L184.97 519.84 L185.23 519.79 L185.48 519.73 L185.74 519.66 L186.00 519.60 L186.26 519.53 L186.52 519.47 L186.77 519.40 L187.03 519.32 L187.28 519.25 L187.53 519.17 L187.78 519.09 L188.03 519.01 L188.28 518.93 L188.53 518.85 L188.78 518.76 L189.02 518.67 L189.27 518.59 L189.52 518.50 L189.76 518.40 L190.00 518.31 L190.24 518.22 L190.49 518.12 L190.73 518.02 L190.97 517.92 L191.21 517.83 L191.45 517.73 L191.69 517.62 L191.93 517.52 L192.16 517.42 L192.40 517.31 L192.64 517.21 L192.88 517.10 L193.11 517.00 L193.35 516.89 L193.58 516.78 L193.82 516.68 L194.05 516.57 L194.29 516.46 L194.53 516.35 L194.76 516.24 L195.00 516.13 L195.23 516.02 L195.47 515.91 L195.70 515.80 L195.93 515.69 L196.17 515.57 L196.40 515.46 L196.64 515.34 L196.87 515.22 L197.10 515.09 L197.33 514.97 L197.56 514.84 L197.79 514.71 L198.02 514.58 L198.25 514.45 L198.48 514.31 L198.71 514.18 L198.94 514.04 L199.17 513.91 L199.39 513.77 L199.62 513.63 L199.85 513.50 L200.07 513.36 L200.30 513.22 L200.53 513.09 L200.75 512.95 L200.98 512.82 L201.20 512.68 L201.43 512.55 L201.65 512.42 L201.88 512.29 L202.10 512.16 L202.33 512.03 L202.55 511.91 L202.78 511.79 L203.00 511.67 L203.23 511.55 L203.45 511.43 L203.68 511.32 L203.90 511.21 L204.13 511.10 L204.35 511.00 L204.58 510.90 L204.80 510.80 L205.03 510.71 L205.25 510.61 L205.48 510.52 L205.71 510.42 L205.94 510.33 L206.18 510.24 L206.41 510.15 L206.64 510.06 L206.88 509.97 L207.11 509.89 L207.35 509.80 L207.58 509.72 L207.82 509.63 L208.05 509.55 L208.29 509.47 L208.52 509.40 L208.76 509.32 L208.99 509.24 L209.22 509.17 L209.46 509.10 L209.69 509.03 L209.92 508.96 L210.15 508.90 L210.37 508.84 L210.60 508.78 L210.82 508.72 L211.04 508.66 L211.26 508.61 L211.48 508.56 L211.70 508.51 L211.91 508.47 L212.12 508.43 L212.33 508.39 L212.53 508.35 L212.74 508.32 L212.94 508.29 L213.13 508.26 L213.33 508.24 L213.51 508.22 L213.70 508.20 L213.88 508.19 L214.06 508.18 L214.24 508.17 L214.41 508.16 L214.58 508.16 L214.75 508.16 L214.91 508.17 L215.08 508.17 L215.24 508.18 L215.39 508.19 L215.55 508.21 L215.70 508.22 L215.85 508.24 L216.00 508.26 L216.15 508.29 L216.30 508.31 L216.44 508.34 L216.58 508.37 L216.72 508.41 L216.86 508.44 L217.00 508.48 L217.14 508.52 L217.27 508.57 L217.41 508.61 L217.54 508.66 L217.67 508.71 L217.81 508.76 L217.94 508.81 L218.07 508.87 L218.20 508.92 L218.33 508.98 L218.46 509.04 L218.59 509.11 L218.72 509.17 L218.85 509.24 L218.98 509.31 L219.11 509.38 L219.24 509.45 L219.37 509.52 L219.50 509.60 L219.63 509.68 L219.76 509.76 L219.89 509.85 L220.02 509.94 L220.14 510.03 L220.27 510.13 L220.39 510.23 L220.52 510.34 L220.64 510.44 L220.76 510.55 L220.88 510.66 L221.00 510.78 L221.12 510.90 L221.24 511.02 L221.36 511.14 L221.48 511.26 L221.60 511.39 L221.71 511.51 L221.83 511.64 L221.94 511.77 L222.06 511.90 L222.17 512.03 L222.29 512.16 L222.40 512.29 L222.52 512.42 L222.63 512.55 L222.74 512.68 L222.85 512.82 L222.97 512.95 L223.08 513.08 L223.19 513.20 L223.30 513.33 L223.42 513.46 L223.53 513.59 L223.64 513.71 L223.75 513.83 L223.86 513.95 L223.98 514.07 L224.09 514.19 L224.20 514.30 L224.31 514.41 L224.42 514.53 L224.54 514.64 L224.65 514.76 L224.76 514.88 L224.87 515.00 L224.99 515.12 L225.10 515.24 L225.21 515.36 L225.32 515.48 L225.43 515.60 L225.54 515.72 L225.66 515.84 L225.77 515.96 L225.88 516.08 L225.99 516.20 L226.10 516.32 L226.21 516.43 L226.32 516.55 L226.42 516.67 L226.53 516.78 L226.64 516.90 L226.75 517.01 L226.86 517.12 L226.96 517.23 L227.07 517.34 L227.18 517.45 L227.28 517.55 L227.39 517.65 L227.49 517.75 L227.59 517.85 L227.70 517.94 L227.80 518.04 L227.90 518.13 L228.00 518.21 L228.10 518.30 L228.20 518.38 L228.30 518.46 L228.40 518.53 L228.50 518.60 L228.60 518.67 L228.69 518.73 L228.79 518.80 L228.89 518.86 L228.98 518.91 L229.08 518.97 L229.17 519.02 L229.27 519.08 L229.36 519.13 L229.45 519.17 L229.55 519.22 L229.64 519.26 L229.73 519.31 L229.82 519.34 L229.92 519.38 L230.01 519.42 L230.10 519.45 L230.19 519.48 L230.27 519.52 L230.36 519.54 L230.45 519.57 L230.54 519.60 L230.62 519.62 L230.71 519.64 L230.80 519.66 L230.88 519.68 L230.97 519.70 L231.05 519.71 L231.13 519.73 L231.21 519.74 L231.30 519.75 L231.38 519.76 L231.46 519.77 L231.54 519.78 L231.62 519.79 L231.69 519.79 L231.77 519.80 L231.85 519.80 L231.92 519.80 L232.00 519.80 L232.07 519.80 L232.14 519.80 L232.21 519.80 L232.28 519.80 L232.34 519.80 L232.41 519.80 L232.47 519.80 L232.53 519.79 L232.58 519.79 L232.64 519.79 L232.70 519.78 L232.75 519.77 L232.80 519.77 L232.86 519.76 L232.91 519.75 L232.96 519.73 L233.01 519.72 L233.06 519.70 L233.12 519.68 L233.17 519.66 L233.22 519.64 L233.27 519.61 L233.33 519.59 L233.38 519.56 L233.44 519.52 L233.49 519.49 L233.55 519.45 L233.61 519.40 L233.67 519.36 L233.74 519.31 L233.80 519.25 L233.87 519.20 L233.94 519.14 L234.01 519.07 L234.08 519.01 L234.16 518.93 L234.24 518.86 L234.32 518.78 L234.41 518.69 L234.50 518.60 L234.59 518.51 L234.69 518.41 L234.79 518.32 L234.89 518.22 L234.99 518.12 L235.09 518.02 L235.20 517.92 L235.31 517.82 L235.42 517.71 L235.53 517.60 L235.65 517.49 L235.76 517.38 L235.88 517.26 L236.00 517.14 L236.12 517.02 L236.24 516.89 L236.37 516.76 L236.49 516.63 L236.62 516.49 L236.74 516.35 L236.87 516.20 L237.00 516.05 L237.13 515.90 L237.26 515.74 L237.38 515.57 L237.51 515.40 L237.64 515.23 L237.77 515.05 L237.90 514.86 L238.03 514.67 L238.16 514.47 L238.29 514.27 L238.42 514.06 L238.55 513.84 L238.67 513.62 L238.80 513.39 L238.93 513.15 L239.05 512.91 L239.18 512.66 L239.30 512.40 L239.42 512.13 L239.55 511.85 L239.67 511.56 L239.79 511.26 L239.92 510.95 L240.04 510.63 L240.16 510.30 L240.29 509.96 L240.41 509.62 L240.54 509.27 L240.66 508.91 L240.79 508.54 L240.91 508.17 L241.04 507.79 L241.16 507.41 L241.29 507.02 L241.42 506.63 L241.54 506.24 L241.67 505.84 L241.79 505.44 L241.92 505.03 L242.05 504.63 L242.17 504.22 L242.30 503.82 L242.42 503.41 L242.55 503.00 L242.68 502.60 L242.80 502.19 L242.93 501.79 L243.05 501.39 L243.18 500.99 L243.30 500.60 L243.43 500.20 L243.55 499.82 L243.68 499.43 L243.80 499.05 L243.93 498.68 L244.05 498.31 L244.18 497.95 L244.30 497.60 L244.42 497.25 L244.55 496.90 L244.67 496.55 L244.79 496.19 L244.91 495.84 L245.03 495.49 L245.15 495.13 L245.27 494.78 L245.39 494.42 L245.51 494.07 L245.63 493.72 L245.75 493.36 L245.87 493.01 L245.99 492.66 L246.11 492.31 L246.22 491.96 L246.34 491.62 L246.46 491.27 L246.58 490.93 L246.70 490.59 L246.82 490.25 L246.94 489.91 L247.06 489.58 L247.18 489.24 L247.30 488.91 L247.42 488.59 L247.54 488.26 L247.67 487.94 L247.79 487.62 L247.91 487.31 L248.04 487.00 L248.16 486.69 L248.29 486.39 L248.42 486.09 L248.55 485.80 L248.67 485.51 L248.80 485.23 L248.93 484.95 L249.07 484.67 L249.20 484.40 L249.33 484.13 L249.47 483.86 L249.61 483.58 L249.75 483.30 L249.89 483.02 L250.04 482.74 L250.18 482.46 L250.33 482.18 L250.48 481.90 L250.63 481.61 L250.78 481.33 L250.93 481.06 L251.08 480.78 L251.23 480.51 L251.38 480.24 L251.54 479.97 L251.69 479.71 L251.84 479.46 L252.00 479.21 L252.15 478.96 L252.30 478.73 L252.46 478.50 L252.61 478.27 L252.76 478.06 L252.91 477.85 L253.06 477.66 L253.21 477.47 L253.36 477.30 L253.50 477.13 L253.65 476.98 L253.79 476.84 L253.93 476.71 L254.07 476.60 L254.21 476.49 L254.35 476.41 L254.48 476.33 L254.62 476.28 L254.75 476.23 L254.87 476.21 L255.00 476.20 L255.12 476.21 L255.24 476.23 L255.36 476.27 L255.48 476.33 L255.60 476.40 L255.71 476.48 L255.83 476.57 L255.94 476.68 L256.05 476.81 L256.16 476.94 L256.27 477.09 L256.38 477.25 L256.49 477.42 L256.59 477.59 L256.70 477.78 L256.80 477.98 L256.90 478.19 L257.01 478.41 L257.11 478.63 L257.21 478.86 L257.31 479.10 L257.40 479.35 L257.50 479.60 L257.60 479.86 L257.70 480.12 L257.79 480.39 L257.89 480.66 L257.98 480.94 L258.08 481.22 L258.17 481.50 L258.26 481.79 L258.36 482.08 L258.45 482.36 L258.54 482.66 L258.64 482.95 L258.73 483.24 L258.82 483.53 L258.92 483.82 L259.01 484.11 L259.10 484.40 L259.19 484.69 L259.28 484.99 L259.37 485.30 L259.46 485.61 L259.55 485.93 L259.63 486.26 L259.72 486.60 L259.80 486.94 L259.88 487.28 L259.96 487.64 L260.04 487.99 L260.12 488.35 L260.20 488.72 L260.28 489.09 L260.36 489.47 L260.44 489.84 L260.52 490.23 L260.59 490.61 L260.67 491.00 L260.75 491.39 L260.83 491.78 L260.91 492.17 L260.98 492.57 L261.06 492.96 L261.14 493.36 L261.22 493.76 L261.30 494.15 L261.38 494.55 L261.46 494.95 L261.54 495.35 L261.62 495.74 L261.70 496.13 L261.78 496.53 L261.87 496.92 L261.95 497.30 L262.04 497.69 L262.13 498.07 L262.22 498.45 L262.31 498.83 L262.40 499.20 L262.49 499.57 L262.59 499.95 L262.68 500.33 L262.78 500.72 L262.87 501.11 L262.97 501.51 L263.07 501.91 L263.17 502.31 L263.27 502.71 L263.37 503.12 L263.47 503.52 L263.57 503.93 L263.67 504.34 L263.78 504.75 L263.88 505.16 L263.98 505.57 L264.09 505.97 L264.19 506.38 L264.30 506.78 L264.40 507.18 L264.51 507.58 L264.61 507.97 L264.72 508.36 L264.82 508.75 L264.93 509.13 L265.03 509.51 L265.14 509.88 L265.24 510.24 L265.35 510.60 L265.46 510.95 L265.56 511.30 L265.67 511.64 L265.77 511.96 L265.88 512.28 L265.98 512.60 L266.09 512.90 L266.19 513.19 L266.29 513.47 L266.40 513.74 L266.50 514.00 L266.60 514.25 L266.70 514.50 L266.81 514.74 L266.91 514.98 L267.01 515.21 L267.12 515.43 L267.22 515.66 L267.32 515.87 L267.42 516.08 L267.52 516.29 L267.63 516.49 L267.73 516.68 L267.83 516.87 L267.94 517.05 L268.04 517.23 L268.14 517.40 L268.24 517.56 L268.35 517.72 L268.45 517.87 L268.55 518.02 L268.65 518.16 L268.75 518.29 L268.86 518.42 L268.96 518.54 L269.06 518.65 L269.17 518.76 L269.27 518.86 L269.37 518.95 L269.47 519.04 L269.58 519.12 L269.68 519.19 L269.78 519.25 L269.88 519.31 L269.99 519.36 L270.09 519.40 L270.19 519.44 L270.29 519.46 L270.40 519.48 L270.50 519.50 L270.60 519.50 L270.70 519.50 L270.81 519.49 L270.91 519.47 L271.01 519.44 L271.12 519.41 L271.22 519.38 L271.33 519.33 L271.43 519.28 L271.54 519.22 L271.64 519.15 L271.75 519.08 L271.86 519.00 L271.96 518.92 L272.07 518.82 L272.17 518.72 L272.28 518.62 L272.38 518.50 L272.49 518.38 L272.59 518.25 L272.70 518.12 L272.80 517.98 L272.91 517.83 L273.01 517.67 L273.12 517.51 L273.22 517.34 L273.32 517.17 L273.43 516.99 L273.53 516.80 L273.63 516.60 L273.73 516.40 L273.83 516.19 L273.93 515.97 L274.03 515.75 L274.13 515.52 L274.23 515.28 L274.32 515.04 L274.42 514.79 L274.51 514.53 L274.61 514.27 L274.70 514.00 L274.79 513.72 L274.88 513.43 L274.98 513.13 L275.07 512.82 L275.16 512.49 L275.25 512.16 L275.34 511.82 L275.42 511.47 L275.51 511.11 L275.60 510.75 L275.69 510.37 L275.77 509.99 L275.86 509.60 L275.95 509.20 L276.03 508.80 L276.12 508.39 L276.20 507.97 L276.28 507.55 L276.37 507.12 L276.45 506.69 L276.53 506.26 L276.61 505.82 L276.70 505.37 L276.78 504.93 L276.86 504.48 L276.94 504.03 L277.02 503.57 L277.09 503.11 L277.17 502.65 L277.25 502.19 L277.33 501.73 L277.40 501.27 L277.48 500.81 L277.56 500.35 L277.63 499.89 L277.71 499.43 L277.78 498.97 L277.85 498.51 L277.93 498.05 L278.00 497.60 L278.07 497.15 L278.14 496.69 L278.21 496.23 L278.28 495.76 L278.35 495.30 L278.42 494.83 L278.49 494.36 L278.55 493.88 L278.62 493.41 L278.68 492.93 L278.75 492.44 L278.81 491.96 L278.88 491.47 L278.94 490.99 L279.00 490.49 L279.06 490.00 L279.12 489.51 L279.19 489.01 L279.25 488.51 L279.31 488.01 L279.37 487.51 L279.43 487.01 L279.49 486.50 L279.55 486.00 L279.60 485.49 L279.66 484.98 L279.72 484.47 L279.78 483.96 L279.84 483.45 L279.90 482.94 L279.96 482.43 L280.02 481.92 L280.08 481.40 L280.14 480.89 L280.20 480.37 L280.26 479.86 L280.32 479.35 L280.38 478.83 L280.44 478.32 L280.50 477.80 L280.56 477.28 L280.62 476.76 L280.68 476.23 L280.74 475.70 L280.81 475.17 L280.87 474.63 L280.93 474.09 L280.99 473.54 L281.05 473.00 L281.11 472.45 L281.17 471.89 L281.23 471.34 L281.29 470.79 L281.36 470.23 L281.42 469.67 L281.48 469.12 L281.54 468.56 L281.60 468.00 L281.66 467.44 L281.72 466.89 L281.78 466.33 L281.84 465.78 L281.90 465.23 L281.96 464.68 L282.02 464.13 L282.08 463.58 L282.14 463.04 L282.20 462.50 L282.26 461.97 L282.32 461.44 L282.38 460.91 L282.43 460.39 L282.49 459.87 L282.55 459.35 L282.61 458.85 L282.67 458.34 L282.73 457.85 L282.78 457.36 L282.84 456.88 L282.90 456.40 L282.96 455.93 L283.01 455.47 L283.07 455.02 L283.13 454.57 L283.18 454.14 L283.24 453.70 L283.30 453.28 L283.35 452.86 L283.41 452.44 L283.46 452.03 L283.52 451.63 L283.57 451.23 L283.63 450.83 L283.68 450.43 L283.74 450.04 L283.79 449.65 L283.85 449.27 L283.90 448.88 L283.96 448.50 L284.01 448.11 L284.07 447.73 L284.12 447.35 L284.18 446.96 L284.23 446.58 L284.28 446.19 L284.34 445.81 L284.39 445.42 L284.45 445.03 L284.50 444.63 L284.55 444.24 L284.61 443.84 L284.66 443.43 L284.72 443.02 L284.77 442.61 L284.83 442.19 L284.88 441.76 L284.94 441.33 L284.99 440.90 L285.05 440.45 L285.10 440.00 L285.15 439.55 L285.21 439.09 L285.26 438.64 L285.31 438.19 L285.36 437.75 L285.40 437.30 L285.45 436.85 L285.50 436.40 L285.54 435.96 L285.58 435.51 L285.63 435.06 L285.67 434.60 L285.72 434.15 L285.76 433.70 L285.80 433.24 L285.85 432.78 L285.89 432.31 L285.93 431.85 L285.98 431.38 L286.03 430.90 L286.07 430.42 L286.12 429.94 L286.17 429.45 L286.22 428.95 L286.27 428.45 L286.32 427.94 L286.38 427.43 L286.43 426.91 L286.49 426.38 L286.55 425.84 L286.62 425.30 L286.68 424.75 L286.75 424.19 L286.82 423.62 L286.89 423.04 L286.97 422.45 L287.05 421.86 L287.13 421.25 L287.21 420.63 L287.30 420.00 L287.39 419.36 L287.49 418.70 L287.59 418.02 L287.69 417.34 L287.80 416.63 L287.91 415.92 L288.03 415.19 L288.15 414.45 L288.27 413.70 L288.39 412.94 L288.52 412.18 L288.64 411.40 L288.77 410.61 L288.91 409.82 L289.04 409.03 L289.18 408.22 L289.31 407.41 L289.45 406.60 L289.59 405.79 L289.73 404.97 L289.86 404.15 L290.00 403.33 L290.14 402.51 L290.28 401.69 L290.42 400.87 L290.56 400.05 L290.69 399.23 L290.83 398.42 L290.96 397.61 L291.10 396.81 L291.23 396.01 L291.36 395.22 L291.48 394.43 L291.61 393.66 L291.73 392.89 L291.85 392.13 L291.97 391.38 L292.08 390.64 L292.19 389.92 L292.30 389.20 L292.40 388.49 L292.51 387.79 L292.61 387.08 L292.70 386.38 L292.80 385.68 L292.90 384.98 L292.99 384.29 L293.08 383.60 L293.17 382.91 L293.26 382.22 L293.35 381.54 L293.43 380.86 L293.52 380.18 L293.60 379.50 L293.69 378.83 L293.77 378.16 L293.85 377.50 L293.93 376.83 L294.01 376.17 L294.09 375.52 L294.17 374.87 L294.25 374.22 L294.33 373.58 L294.41 372.94 L294.49 372.30 L294.57 371.67 L294.64 371.04 L294.72 370.42 L294.80 369.80 L294.88 369.18 L294.96 368.57 L295.04 367.97 L295.12 367.37 L295.20 366.77 L295.28 366.18 L295.36 365.59 L295.45 365.01 L295.53 364.44 L295.61 363.87 L295.70 363.30 L295.79 362.74 L295.87 362.18 L295.95 361.63 L296.04 361.08 L296.12 360.54 L296.20 360.00 L296.28 359.46 L296.36 358.93 L296.44 358.41 L296.52 357.88 L296.60 357.36 L296.68 356.85 L296.76 356.34 L296.84 355.83 L296.92 355.33 L297.00 354.83 L297.08 354.34 L297.16 353.85 L297.24 353.37 L297.32 352.89 L297.40 352.41 L297.48 351.94 L297.57 351.47 L297.65 351.01 L297.74 350.55 L297.82 350.10 L297.91 349.65 L298.00 349.20 L298.09 348.76 L298.18 348.32 L298.28 347.89 L298.37 347.46 L298.47 347.04 L298.57 346.62 L298.67 346.21 L298.77 345.80 L298.87 345.39 L298.98 344.99 L299.09 344.59 L299.20 344.20 L299.31 343.81 L299.43 343.41 L299.55 343.01 L299.67 342.61 L299.80 342.21 L299.92 341.81 L300.05 341.40 L300.18 341.00 L300.31 340.60 L300.45 340.20 L300.58 339.80 L300.72 339.40 L300.86 339.01 L301.00 338.62 L301.14 338.24 L301.28 337.86 L301.43 337.49 L301.57 337.12 L301.72 336.76 L301.86 336.41 L302.01 336.07 L302.15 335.74 L302.30 335.42 L302.45 335.11 L302.59 334.81 L302.74 334.52 L302.89 334.24 L303.03 333.98 L303.18 333.73 L303.32 333.50 L303.46 333.28 L303.61 333.08 L303.75 332.89 L303.89 332.72 L304.03 332.57 L304.17 332.44 L304.30 332.32 L304.44 332.23 L304.57 332.15 L304.70 332.10 L304.83 332.07 L304.96 332.06 L305.09 332.06 L305.22 332.09 L305.35 332.13 L305.48 332.20 L305.61 332.28 L305.73 332.37 L305.86 332.49 L305.99 332.61 L306.12 332.76 L306.25 332.91 L306.37 333.08 L306.50 333.27 L306.63 333.47 L306.75 333.67 L306.88 333.89 L307.00 334.13 L307.13 334.37 L307.25 334.62 L307.37 334.88 L307.50 335.15 L307.62 335.43 L307.74 335.71 L307.86 336.00 L307.98 336.30 L308.10 336.60 L308.22 336.91 L308.34 337.22 L308.46 337.54 L308.58 337.86 L308.69 338.18 L308.81 338.51 L308.92 338.84 L309.04 339.16 L309.15 339.49 L309.27 339.82 L309.38 340.15 L309.49 340.48 L309.60 340.80 L309.71 341.13 L309.82 341.46 L309.92 341.80 L310.03 342.15 L310.14 342.51 L310.24 342.87 L310.34 343.24 L310.45 343.61 L310.55 343.99 L310.65 344.38 L310.75 344.77 L310.85 345.17 L310.95 345.57 L311.04 345.98 L311.14 346.39 L311.24 346.81 L311.33 347.23 L311.43 347.66 L311.52 348.09 L311.62 348.53 L311.71 348.97 L311.81 349.42 L311.90 349.87 L312.00 350.32 L312.09 350.78 L312.18 351.24 L312.28 351.71 L312.37 352.18 L312.46 352.65 L312.56 353.12 L312.65 353.60 L312.74 354.08 L312.84 354.56 L312.93 355.05 L313.02 355.53 L313.12 356.02 L313.21 356.51 L313.31 357.01 L313.40 357.50 L313.50 358.00 L313.60 358.50 L313.69 359.01 L313.79 359.52 L313.89 360.04 L313.98 360.57 L314.08 361.10 L314.18 361.64 L314.27 362.18 L314.37 362.72 L314.47 363.28 L314.57 363.83 L314.66 364.39 L314.76 364.95 L314.86 365.52 L314.95 366.09 L315.05 366.66 L315.15 367.24 L315.24 367.81 L315.34 368.39 L315.44 368.97 L315.53 369.56 L315.63 370.14 L315.73 370.73 L315.82 371.32 L315.92 371.90 L316.01 372.49 L316.11 373.08 L316.20 373.66 L316.29 374.25 L316.39 374.84 L316.48 375.42 L316.57 376.01 L316.67 376.59 L316.76 377.17 L316.85 377.75 L316.94 378.32 L317.03 378.90 L317.12 379.47 L317.21 380.04 L317.30 380.60 L317.39 381.16 L317.48 381.73 L317.57 382.31 L317.66 382.88 L317.75 383.46 L317.84 384.04 L317.93 384.63 L318.02 385.21 L318.11 385.80 L318.20 386.39 L318.29 386.98 L318.38 387.57 L318.47 388.16 L318.56 388.75 L318.65 389.34 L318.74 389.93 L318.83 390.52 L318.91 391.11 L319.00 391.69 L319.09 392.28 L319.17 392.86 L319.26 393.43 L319.34 394.01 L319.43 394.58 L319.51 395.15 L319.59 395.72 L319.67 396.28 L319.75 396.83 L319.83 397.38 L319.91 397.93 L319.98 398.46 L320.06 399.00 L320.13 399.52 L320.20 400.04 L320.27 400.56 L320.34 401.06 L320.41 401.56 L320.47 402.05 L320.54 402.53 L320.60 403.00 L320.66 403.46 L320.72 403.92 L320.78 404.37 L320.83 404.82 L320.89 405.26 L320.94 405.69 L320.99 406.12 L321.04 406.55 L321.09 406.96 L321.13 407.38 L321.18 407.78 L321.22 408.19 L321.27 408.58 L321.31 408.98 L321.35 409.36 L321.39 409.75 L321.43 410.13 L321.47 410.50 L321.51 410.88 L321.54 411.24 L321.58 411.61 L321.62 411.97 L321.65 412.33 L321.68 412.68 L321.72 413.03 L321.75 413.38 L321.79 413.72 L321.82 414.06 L321.85 414.40 L321.88 414.74 L321.91 415.07 L321.95 415.41 L321.98 415.74 L322.01 416.06 L322.04 416.39 L322.07 416.72 L322.10 417.04 L322.14 417.36 L322.17 417.68 L322.20 418.00 L322.23 418.32 L322.26 418.64 L322.29 418.97 L322.32 419.30 L322.35 419.62 L322.38 419.95 L322.41 420.28 L322.43 420.61 L322.46 420.94 L322.48 421.27 L322.51 421.60 L322.53 421.92 L322.56 422.24 L322.58 422.57 L322.60 422.88 L322.62 423.20 L322.65 423.51 L322.67 423.81 L322.69 424.11 L322.71 424.41 L322.73 424.70 L322.76 424.98 L322.78 425.25 L322.80 425.52 L322.82 425.79 L322.84 426.04 L322.87 426.28 L322.89 426.52 L322.91 426.75 L322.94 426.96 L322.96 427.17 L322.98 427.37 L323.01 427.55 L323.03 427.73 L323.06 427.89 L323.09 428.04 L323.11 428.17 L323.14 428.30 L323.17 428.41 L323.20 428.50 L323.23 428.58 L323.26 428.65 L323.29 428.71 L323.32 428.76 L323.35 428.79 L323.39 428.81 L323.42 428.83 L323.45 428.83 L323.48 428.83 L323.52 428.81 L323.55 428.78 L323.58 428.75 L323.62 428.70 L323.65 428.65 L323.69 428.59 L323.72 428.52 L323.76 428.44 L323.79 428.35 L323.83 428.26 L323.86 428.16 L323.90 428.05 L323.93 427.93 L323.97 427.81 L324.01 427.68 L324.04 427.55 L324.08 427.41 L324.12 427.27 L324.15 427.12 L324.19 426.96 L324.23 426.80 L324.26 426.64 L324.30 426.47 L324.34 426.30 L324.38 426.12 L324.41 425.94 L324.45 425.76 L324.49 425.57 L324.53 425.38 L324.56 425.19 L324.60 425.00 L324.64 424.80 L324.68 424.59 L324.71 424.38 L324.75 424.15 L324.79 423.91 L324.83 423.67 L324.87 423.42 L324.91 423.16 L324.95 422.89 L324.99 422.62 L325.03 422.34 L325.07 422.06 L325.11 421.76 L325.15 421.47 L325.19 421.17 L325.23 420.86 L325.27 420.55 L325.31 420.23 L325.35 419.92 L325.39 419.59 L325.43 419.27 L325.47 418.94 L325.51 418.61 L325.55 418.28 L325.59 417.95 L325.63 417.61 L325.67 417.28 L325.71 416.94 L325.75 416.61 L325.80 416.27 L325.84 415.93 L325.88 415.60 L325.92 415.27 L325.96 414.94 L326.00 414.61 L326.04 414.28 L326.08 413.95 L326.12 413.63 L326.16 413.31 L326.20 413.00 L326.24 412.69 L326.28 412.37 L326.32 412.05 L326.36 411.74 L326.40 411.42 L326.43 411.09 L326.47 410.77 L326.51 410.45 L326.55 410.12 L326.59 409.80 L326.62 409.47 L326.66 409.14 L326.70 408.81 L326.74 408.48 L326.77 408.15 L326.81 407.82 L326.85 407.49 L326.89 407.16 L326.92 406.83 L326.96 406.50 L327.00 406.17 L327.04 405.84 L327.08 405.51 L327.12 405.18 L327.16 404.85 L327.20 404.52 L327.24 404.19 L327.28 403.86 L327.32 403.53 L327.36 403.20 L327.40 402.88 L327.44 402.55 L327.48 402.23 L327.53 401.91 L327.57 401.58 L327.62 401.26 L327.66 400.95 L327.71 400.63 L327.75 400.31 L327.80 400.00 L327.85 399.68 L327.90 399.36 L327.95 399.04 L328.01 398.71 L328.06 398.37 L328.12 398.03 L328.18 397.69 L328.24 397.34 L328.30 397.00 L328.36 396.65 L328.42 396.30 L328.49 395.95 L328.55 395.60 L328.61 395.25 L328.68 394.90 L328.74 394.55 L328.81 394.21 L328.87 393.86 L328.94 393.52 L329.00 393.19 L329.06 392.86 L329.13 392.53 L329.19 392.20 L329.25 391.89 L329.31 391.58 L329.37 391.27 L329.43 390.98 L329.48 390.69 L329.54 390.41 L329.59 390.13 L329.64 389.87 L329.69 389.62 L329.74 389.37 L329.78 389.14 L329.83 388.92 L329.87 388.71 L329.90 388.51 L329.94 388.33 L329.97 388.16 L330.00 388.00" stroke="#e8383f" stroke-width="1.00" fill="none" stroke-linecap="round" stroke-linejoin="round"/><g fill="#e8383f"><circle cx="80.0" cy="524.3" r="2.50"/><circle cx="80.7" cy="524.3" r="2.50"/><circle cx="81.4" cy="524.2" r="2.50"/><circle cx="82.1" cy="524.2" r="2.50"/><circle cx="82.8" cy="524.2" r="2.50"/><circle cx="83.5" cy="524.2" r="2.50"/><circle cx="84.2" cy="524.1" r="2.50"/><circle cx="84.9" cy="524.1" r="2.50"/><circle cx="85.6" cy="524.1" r="2.50"/><circle cx="86.3" cy="524.0" r="2.50"/><circle cx="87.0" cy="524.0" r="2.50"/><circle cx="87.7" cy="524.0" r="2.50"/><circle cx="88.4" cy="524.0" r="2.50"/><circle cx="89.1" cy="523.9" r="2.50"/><circle cx="89.8" cy="523.9" r="2.50"/><circle cx="90.5" cy="523.9" r="2.50"/><circle cx="91.2" cy="523.9" r="2.50"/><circle cx="91.9" cy="523.8" r="2.50"/><circle cx="92.6" cy="523.8" r="2.50"/><circle cx="93.3" cy="523.8" r="2.50"/><circle cx="94.0" cy="523.7" r="2.50"/><circle cx="94.7" cy="523.7" r="2.50"/><circle cx="95.4" cy="523.7" r="2.50"/><circle cx="96.1" cy="523.7" r="2.50"/><circle cx="96.8" cy="523.6" r="2.50"/><circle cx="97.5" cy="523.6" r="2.50"/><circle cx="98.2" cy="523.6" r="2.50"/><circle cx="98.9" cy="523.5" r="2.50"/><circle cx="99.6" cy="523.5" r="2.50"/><circle cx="100.3" cy="523.5" r="2.50"/><circle cx="101.0" cy="523.5" r="2.50"/><circle cx="101.7" cy="523.4" r="2.50"/><circle cx="102.4" cy="523.4" r="2.50"/><circle cx="103.1" cy="523.4" r="2.50"/><circle cx="103.8" cy="523.3" r="2.50"/><circle cx="104.5" cy="523.3" r="2.50"/><circle cx="105.2" cy="523.3" r="2.50"/><circle cx="105.9" cy="523.3" r="2.50"/><circle cx="106.6" cy="523.2" r="2.50"/><circle cx="107.3" cy="523.2" r="2.50"/><circle cx="108.0" cy="523.2" r="2.50"/><circle cx="108.7" cy="523.2" r="2.50"/><circle cx="109.4" cy="523.1" r="2.50"/><circle cx="110.1" cy="523.1" r="2.50"/><circle cx="110.8" cy="523.1" r="2.50"/><circle cx="111.5" cy="523.0" r="2.50"/><circle cx="112.2" cy="523.0" r="2.50"/><circle cx="112.9" cy="523.0" r="2.50"/><circle cx="113.6" cy="523.0" r="2.50"/><circle cx="114.3" cy="522.9" r="2.50"/><circle cx="115.0" cy="522.9" r="2.50"/><circle cx="115.7" cy="522.9" r="2.50"/><circle cx="116.4" cy="522.8" r="2.50"/><circle cx="117.1" cy="522.8" r="2.50"/><circle cx="117.8" cy="522.8" r="2.50"/><circle cx="118.5" cy="522.8" r="2.50"/><circle cx="119.2" cy="522.7" r="2.50"/><circle cx="119.9" cy="522.7" r="2.50"/><circle cx="120.6" cy="522.7" r="2.50"/><circle cx="121.3" cy="522.6" r="2.50"/><circle cx="122.0" cy="522.6" r="2.50"/><circle cx="122.7" cy="522.6" r="2.50"/><circle cx="123.4" cy="522.6" r="2.50"/><circle cx="124.1" cy="522.5" r="2.50"/><circle cx="124.8" cy="522.5" r="2.50"/><circle cx="125.5" cy="522.5" r="2.50"/><circle cx="126.2" cy="522.4" r="2.50"/><circle cx="126.9" cy="522.4" r="2.50"/><circle cx="127.6" cy="522.4" r="2.50"/><circle cx="128.3" cy="522.4" r="2.50"/><circle cx="129.0" cy="522.3" r="2.50"/><circle cx="129.7" cy="522.3" r="2.50"/><circle cx="130.4" cy="522.3" r="2.50"/><circle cx="131.1" cy="522.2" r="2.50"/><circle cx="131.8" cy="522.2" r="2.50"/><circle cx="132.5" cy="522.2" r="2.50"/><circle cx="133.2" cy="522.2" r="2.50"/><circle cx="133.9" cy="522.1" r="2.50"/><circle cx="134.6" cy="522.1" r="2.50"/><circle cx="135.3" cy="522.1" r="2.50"/><circle cx="136.0" cy="522.1" r="2.50"/><circle cx="136.7" cy="522.0" r="2.50"/><circle cx="137.4" cy="522.0" r="2.50"/><circle cx="138.1" cy="522.0" r="2.50"/><circle cx="138.8" cy="521.9" r="2.50"/><circle cx="139.5" cy="521.9" r="2.50"/><circle cx="140.2" cy="521.9" r="2.50"/><circle cx="140.9" cy="521.9" r="2.50"/><circle cx="141.6" cy="521.8" r="2.50"/><circle cx="142.3" cy="521.8" r="2.50"/><circle cx="143.0" cy="521.8" r="2.50"/><circle cx="143.7" cy="521.8" r="2.50"/><circle cx="144.4" cy="521.7" r="2.50"/><circle cx="145.1" cy="521.7" r="2.50"/><circle cx="145.8" cy="521.7" r="2.50"/><circle cx="146.5" cy="521.7" r="2.50"/><circle cx="147.2" cy="521.6" r="2.50"/><circle cx="147.9" cy="521.6" r="2.50"/><circle cx="148.6" cy="521.6" r="2.50"/><circle cx="149.3" cy="521.5" r="2.50"/><circle cx="150.0" cy="521.5" r="2.50"/><circle cx="150.7" cy="521.5" r="2.50"/><circle cx="151.4" cy="521.5" r="2.50"/><circle cx="152.1" cy="521.4" r="2.50"/><circle cx="152.8" cy="521.4" r="2.50"/><circle cx="153.5" cy="521.4" r="2.50"/><circle cx="154.2" cy="521.4" r="2.50"/><circle cx="154.9" cy="521.4" r="2.50"/><circle cx="155.6" cy="521.3" r="2.50"/><circle cx="156.3" cy="521.3" r="2.50"/><circle cx="157.0" cy="521.3" r="2.50"/><circle cx="157.7" cy="521.3" r="2.50"/><circle cx="158.4" cy="521.2" r="2.50"/><circle cx="159.1" cy="521.2" r="2.50"/><circle cx="159.8" cy="521.2" r="2.50"/><circle cx="160.5" cy="521.2" r="2.50"/><circle cx="161.2" cy="521.2" r="2.50"/><circle cx="161.9" cy="521.2" r="2.50"/><circle cx="162.6" cy="521.2" r="2.50"/><circle cx="163.3" cy="521.1" r="2.50"/><circle cx="164.0" cy="521.1" r="2.50"/><circle cx="164.7" cy="521.1" r="2.50"/><circle cx="165.4" cy="521.1" r="2.50"/><circle cx="166.1" cy="521.1" r="2.50"/><circle cx="166.8" cy="521.1" r="2.50"/><circle cx="167.5" cy="521.1" r="2.50"/><circle cx="168.2" cy="521.1" r="2.50"/><circle cx="168.9" cy="521.1" r="2.50"/><circle cx="169.6" cy="521.1" r="2.50"/><circle cx="170.3" cy="521.1" r="2.50"/><circle cx="171.0" cy="521.1" r="2.50"/><circle cx="171.7" cy="521.1" r="2.50"/><circle cx="172.4" cy="521.1" r="2.50"/><circle cx="173.1" cy="521.1" r="2.50"/><circle cx="173.8" cy="521.1" r="2.50"/><circle cx="174.5" cy="521.0" r="2.50"/><circle cx="175.2" cy="521.0" r="2.50"/><circle cx="175.9" cy="520.9" r="2.50"/><circle cx="176.6" cy="520.9" r="2.50"/><circle cx="177.3" cy="520.8" r="2.50"/><circle cx="178.0" cy="520.8" r="2.50"/><circle cx="178.7" cy="520.7" r="2.50"/><circle cx="179.4" cy="520.7" r="2.50"/><circle cx="180.1" cy="520.6" r="2.50"/><circle cx="180.8" cy="520.5" r="2.50"/><circle cx="181.5" cy="520.4" r="2.50"/><circle cx="182.2" cy="520.3" r="2.50"/><circle cx="182.9" cy="520.2" r="2.50"/><circle cx="183.6" cy="520.1" r="2.50"/><circle cx="184.3" cy="520.0" r="2.50"/><circle cx="185.0" cy="519.8" r="2.50"/><circle cx="185.7" cy="519.7" r="2.50"/><circle cx="186.4" cy="519.5" r="2.50"/><circle cx="187.1" cy="519.3" r="2.50"/><circle cx="187.8" cy="519.1" r="2.50"/><circle cx="188.5" cy="518.9" r="2.50"/><circle cx="189.2" cy="518.6" r="2.50"/><circle cx="189.9" cy="518.3" r="2.50"/><circle cx="190.6" cy="518.1" r="2.50"/><circle cx="191.3" cy="517.8" r="2.50"/><circle cx="192.0" cy="517.5" r="2.50"/><circle cx="192.7" cy="517.2" r="2.50"/><circle cx="193.4" cy="516.9" r="2.50"/><circle cx="194.1" cy="516.5" r="2.50"/><circle cx="194.8" cy="516.2" r="2.50"/><circle cx="195.5" cy="515.9" r="2.50"/><circle cx="196.2" cy="515.6" r="2.50"/><circle cx="196.9" cy="515.2" r="2.50"/><circle cx="197.6" cy="514.8" r="2.50"/><circle cx="198.3" cy="514.4" r="2.50"/><circle cx="199.0" cy="514.0" r="2.50"/><circle cx="199.7" cy="513.6" r="2.50"/><circle cx="200.4" cy="513.2" r="2.50"/><circle cx="201.1" cy="512.7" r="2.50"/><circle cx="201.8" cy="512.3" r="2.50"/><circle cx="202.5" cy="511.9" r="2.50"/><circle cx="203.2" cy="511.6" r="2.50"/><circle cx="203.9" cy="511.2" r="2.50"/><circle cx="204.6" cy="510.9" r="2.50"/><circle cx="205.3" cy="510.6" r="2.50"/><circle cx="206.0" cy="510.3" r="2.50"/><circle cx="206.7" cy="510.0" r="2.50"/><circle cx="207.4" cy="509.8" r="2.50"/><circle cx="208.1" cy="509.5" r="2.50"/><circle cx="208.8" cy="509.3" r="2.50"/><circle cx="209.5" cy="509.1" r="2.50"/><circle cx="210.2" cy="508.9" r="2.50"/><circle cx="210.9" cy="508.7" r="2.50"/><circle cx="211.6" cy="508.5" r="2.50"/><circle cx="212.3" cy="508.4" r="2.50"/><circle cx="213.0" cy="508.3" r="2.50"/><circle cx="213.7" cy="508.2" r="2.50"/><circle cx="214.4" cy="508.2" r="2.50"/><circle cx="215.1" cy="508.2" r="2.50"/><circle cx="215.8" cy="508.2" r="2.50"/><circle cx="216.5" cy="508.4" r="2.50"/><circle cx="217.2" cy="508.5" r="2.50"/><circle cx="217.9" cy="508.8" r="2.50"/><circle cx="218.6" cy="509.1" r="2.50"/><circle cx="219.3" cy="509.5" r="2.50"/><circle cx="220.0" cy="509.9" r="2.50"/><circle cx="220.7" cy="510.5" r="2.50"/><circle cx="221.4" cy="511.2" r="2.50"/><circle cx="222.1" cy="511.9" r="2.50"/><circle cx="222.8" cy="512.8" r="2.50"/><circle cx="223.5" cy="513.6" r="2.50"/><circle cx="224.2" cy="514.3" r="2.50"/><circle cx="224.9" cy="515.0" r="2.50"/><circle cx="225.6" cy="515.8" r="2.50"/><circle cx="226.3" cy="516.5" r="2.50"/><circle cx="227.0" cy="517.3" r="2.50"/><circle cx="227.7" cy="517.9" r="2.50"/><circle cx="228.4" cy="518.5" r="2.50"/><circle cx="229.1" cy="519.0" r="2.50"/><circle cx="229.8" cy="519.3" r="2.50"/><circle cx="230.5" cy="519.6" r="2.50"/><circle cx="231.2" cy="519.7" r="2.50"/><circle cx="231.9" cy="519.8" r="2.50"/><circle cx="232.6" cy="519.8" r="2.50"/><circle cx="233.3" cy="519.6" r="2.50"/><circle cx="234.0" cy="519.1" r="2.50"/><circle cx="234.7" cy="518.4" r="2.50"/><circle cx="235.4" cy="517.7" r="2.50"/><circle cx="236.1" cy="517.0" r="2.50"/><circle cx="236.8" cy="516.3" r="2.50"/><circle cx="237.5" cy="515.4" r="2.50"/><circle cx="238.2" cy="514.4" r="2.50"/><circle cx="238.9" cy="513.2" r="2.50"/><circle cx="239.6" cy="511.7" r="2.50"/><circle cx="240.3" cy="509.9" r="2.50"/><circle cx="241.0" cy="507.9" r="2.50"/><circle cx="241.7" cy="505.7" r="2.50"/><circle cx="242.4" cy="503.5" r="2.50"/><circle cx="243.1" cy="501.2" r="2.50"/><circle cx="243.8" cy="499.1" r="2.50"/><circle cx="244.5" cy="497.0" r="2.50"/><circle cx="245.2" cy="495.0" r="2.50"/><circle cx="245.9" cy="492.9" r="2.50"/><circle cx="246.6" cy="490.9" r="2.50"/><circle cx="247.3" cy="488.9" r="2.50"/><circle cx="248.0" cy="487.1" r="2.50"/><circle cx="248.7" cy="485.5" r="2.50"/><circle cx="249.4" cy="484.0" r="2.50"/><circle cx="250.1" cy="482.6" r="2.50"/><circle cx="250.8" cy="481.3" r="2.50"/><circle cx="251.5" cy="480.0" r="2.50"/><circle cx="252.2" cy="478.9" r="2.50"/><circle cx="252.9" cy="477.9" r="2.50"/><circle cx="253.6" cy="477.0" r="2.50"/><circle cx="254.3" cy="476.4" r="2.50"/><circle cx="255.0" cy="476.2" r="2.50"/><circle cx="255.7" cy="476.5" r="2.50"/><circle cx="256.4" cy="477.3" r="2.50"/><circle cx="257.1" cy="478.6" r="2.50"/><circle cx="257.8" cy="480.4" r="2.50"/><circle cx="258.5" cy="482.5" r="2.50"/><circle cx="259.2" cy="484.7" r="2.50"/><circle cx="259.9" cy="487.4" r="2.50"/><circle cx="260.6" cy="490.6" r="2.50"/><circle cx="261.3" cy="494.2" r="2.50"/><circle cx="262.0" cy="497.5" r="2.50"/><circle cx="262.7" cy="500.4" r="2.50"/><circle cx="263.4" cy="503.2" r="2.50"/><circle cx="264.1" cy="506.0" r="2.50"/><circle cx="264.8" cy="508.7" r="2.50"/><circle cx="265.5" cy="511.1" r="2.50"/><circle cx="266.2" cy="513.2" r="2.50"/><circle cx="266.9" cy="515.0" r="2.50"/><circle cx="267.6" cy="516.4" r="2.50"/><circle cx="268.3" cy="517.7" r="2.50"/><circle cx="269.0" cy="518.6" r="2.50"/><circle cx="269.7" cy="519.2" r="2.50"/><circle cx="270.4" cy="519.5" r="2.50"/><circle cx="271.1" cy="519.4" r="2.50"/><circle cx="271.8" cy="519.0" r="2.50"/><circle cx="272.5" cy="518.4" r="2.50"/><circle cx="273.2" cy="517.4" r="2.50"/><circle cx="273.9" cy="516.0" r="2.50"/><circle cx="274.6" cy="514.3" r="2.50"/><circle cx="275.3" cy="512.0" r="2.50"/><circle cx="276.0" cy="508.9" r="2.50"/><circle cx="276.7" cy="505.3" r="2.50"/><circle cx="277.4" cy="501.3" r="2.50"/><circle cx="278.1" cy="497.0" r="2.50"/><circle cx="278.8" cy="492.1" r="2.50"/><circle cx="279.5" cy="486.4" r="2.50"/><circle cx="280.2" cy="480.4" r="2.50"/><circle cx="280.9" cy="474.3" r="2.50"/><circle cx="281.6" cy="468.0" r="2.50"/><circle cx="282.3" cy="461.6" r="2.50"/><circle cx="283.0" cy="455.6" r="2.50"/><circle cx="283.7" cy="450.3" r="2.50"/><circle cx="284.4" cy="445.4" r="2.50"/><circle cx="285.1" cy="440.0" r="2.50"/><circle cx="285.8" cy="433.3" r="2.50"/><circle cx="286.5" cy="426.3" r="2.50"/><circle cx="287.2" cy="420.7" r="2.50"/><circle cx="287.9" cy="416.0" r="2.50"/><circle cx="288.6" cy="411.7" r="2.50"/><circle cx="289.3" cy="407.5" r="2.50"/><circle cx="290.0" cy="403.3" r="2.50"/><circle cx="290.7" cy="399.2" r="2.50"/><circle cx="291.4" cy="395.0" r="2.50"/><circle cx="292.1" cy="390.5" r="2.50"/><circle cx="292.8" cy="385.7" r="2.50"/><circle cx="293.5" cy="380.3" r="2.50"/><circle cx="294.2" cy="374.6" r="2.50"/><circle cx="294.9" cy="369.0" r="2.50"/><circle cx="295.6" cy="364.0" r="2.50"/><circle cx="296.3" cy="359.3" r="2.50"/><circle cx="297.0" cy="354.8" r="2.50"/><circle cx="297.7" cy="350.7" r="2.50"/><circle cx="298.4" cy="347.3" r="2.50"/><circle cx="299.1" cy="344.6" r="2.50"/><circle cx="299.8" cy="342.2" r="2.50"/><circle cx="300.5" cy="340.0" r="2.50"/><circle cx="301.2" cy="338.1" r="2.50"/><circle cx="301.9" cy="336.3" r="2.50"/><circle cx="302.6" cy="334.8" r="2.50"/><circle cx="303.3" cy="333.5" r="2.50"/><circle cx="304.0" cy="332.6" r="2.50"/><circle cx="304.7" cy="332.1" r="2.50"/><circle cx="305.4" cy="332.2" r="2.50"/><circle cx="306.1" cy="332.7" r="2.50"/><circle cx="306.8" cy="333.8" r="2.50"/><circle cx="307.5" cy="335.2" r="2.50"/><circle cx="308.2" cy="336.9" r="2.50"/><circle cx="308.9" cy="338.8" r="2.50"/><circle cx="309.6" cy="340.8" r="2.50"/><circle cx="310.3" cy="343.1" r="2.50"/><circle cx="311.0" cy="345.8" r="2.50"/><circle cx="311.7" cy="348.9" r="2.50"/><circle cx="312.4" cy="352.3" r="2.50"/><circle cx="313.1" cy="355.9" r="2.50"/><circle cx="313.8" cy="359.6" r="2.50"/><circle cx="314.5" cy="363.5" r="2.50"/><circle cx="315.2" cy="367.5" r="2.50"/><circle cx="315.9" cy="371.8" r="2.50"/><circle cx="316.6" cy="376.2" r="2.50"/><circle cx="317.3" cy="380.6" r="2.50"/><circle cx="318.0" cy="385.1" r="2.50"/><circle cx="318.7" cy="389.7" r="2.50"/><circle cx="319.4" cy="394.4" r="2.50"/><circle cx="320.1" cy="399.3" r="2.50"/><circle cx="320.8" cy="404.6" r="2.50"/><circle cx="321.5" cy="410.8" r="2.50"/><circle cx="322.2" cy="418.0" r="2.50"/><circle cx="322.9" cy="426.6" r="2.50"/><circle cx="323.6" cy="428.7" r="2.50"/><circle cx="324.3" cy="426.5" r="2.50"/><circle cx="325.0" cy="422.5" r="2.50"/><circle cx="325.7" cy="417.1" r="2.50"/><circle cx="326.4" cy="411.4" r="2.50"/><circle cx="327.1" cy="405.3" r="2.50"/><circle cx="327.8" cy="400.0" r="2.50"/><circle cx="328.5" cy="395.9" r="2.50"/><circle cx="329.2" cy="392.1" r="2.50"/><circle cx="329.9" cy="388.5" r="2.50"/></g><g fill="#fde4e5"><circle cx="80.0" cy="524.3" r="0.35"/><circle cx="80.7" cy="524.3" r="0.35"/><circle cx="81.4" cy="524.2" r="0.35"/><circle cx="82.1" cy="524.2" r="0.35"/><circle cx="82.8" cy="524.2" r="0.35"/><circle cx="83.5" cy="524.2" r="0.35"/><circle cx="84.2" cy="524.1" r="0.35"/><circle cx="84.9" cy="524.1" r="0.35"/><circle cx="85.6" cy="524.1" r="0.35"/><circle cx="86.3" cy="524.0" r="0.35"/><circle cx="87.0" cy="524.0" r="0.35"/><circle cx="87.7" cy="524.0" r="0.35"/><circle cx="88.4" cy="524.0" r="0.35"/><circle cx="89.1" cy="523.9" r="0.35"/><circle cx="89.8" cy="523.9" r="0.35"/><circle cx="90.5" cy="523.9" r="0.35"/><circle cx="91.2" cy="523.9" r="0.35"/><circle cx="91.9" cy="523.8" r="0.35"/><circle cx="92.6" cy="523.8" r="0.35"/><circle cx="93.3" cy="523.8" r="0.35"/><circle cx="94.0" cy="523.7" r="0.35"/><circle cx="94.7" cy="523.7" r="0.35"/><circle cx="95.4" cy="523.7" r="0.35"/><circle cx="96.1" cy="523.7" r="0.35"/><circle cx="96.8" cy="523.6" r="0.35"/><circle cx="97.5" cy="523.6" r="0.35"/><circle cx="98.2" cy="523.6" r="0.35"/><circle cx="98.9" cy="523.5" r="0.35"/><circle cx="99.6" cy="523.5" r="0.35"/><circle cx="100.3" cy="523.5" r="0.35"/><circle cx="101.0" cy="523.5" r="0.35"/><circle cx="101.7" cy="523.4" r="0.35"/><circle cx="102.4" cy="523.4" r="0.35"/><circle cx="103.1" cy="523.4" r="0.35"/><circle cx="103.8" cy="523.3" r="0.35"/><circle cx="104.5" cy="523.3" r="0.35"/><circle cx="105.2" cy="523.3" r="0.35"/><circle cx="105.9" cy="523.3" r="0.35"/><circle cx="106.6" cy="523.2" r="0.35"/><circle cx="107.3" cy="523.2" r="0.35"/><circle cx="108.0" cy="523.2" r="0.35"/><circle cx="108.7" cy="523.2" r="0.35"/><circle cx="109.4" cy="523.1" r="0.35"/><circle cx="110.1" cy="523.1" r="0.35"/><circle cx="110.8" cy="523.1" r="0.35"/><circle cx="111.5" cy="523.0" r="0.35"/><circle cx="112.2" cy="523.0" r="0.35"/><circle cx="112.9" cy="523.0" r="0.35"/><circle cx="113.6" cy="523.0" r="0.35"/><circle cx="114.3" cy="522.9" r="0.35"/><circle cx="115.0" cy="522.9" r="0.35"/><circle cx="115.7" cy="522.9" r="0.35"/><circle cx="116.4" cy="522.8" r="0.35"/><circle cx="117.1" cy="522.8" r="0.35"/><circle cx="117.8" cy="522.8" r="0.35"/><circle cx="118.5" cy="522.8" r="0.35"/><circle cx="119.2" cy="522.7" r="0.35"/><circle cx="119.9" cy="522.7" r="0.35"/><circle cx="120.6" cy="522.7" r="0.35"/><circle cx="121.3" cy="522.6" r="0.35"/><circle cx="122.0" cy="522.6" r="0.35"/><circle cx="122.7" cy="522.6" r="0.35"/><circle cx="123.4" cy="522.6" r="0.35"/><circle cx="124.1" cy="522.5" r="0.35"/><circle cx="124.8" cy="522.5" r="0.35"/><circle cx="125.5" cy="522.5" r="0.35"/><circle cx="126.2" cy="522.4" r="0.35"/><circle cx="126.9" cy="522.4" r="0.35"/><circle cx="127.6" cy="522.4" r="0.35"/><circle cx="128.3" cy="522.4" r="0.35"/><circle cx="129.0" cy="522.3" r="0.35"/><circle cx="129.7" cy="522.3" r="0.35"/><circle cx="130.4" cy="522.3" r="0.35"/><circle cx="131.1" cy="522.2" r="0.35"/><circle cx="131.8" cy="522.2" r="0.35"/><circle cx="132.5" cy="522.2" r="0.35"/><circle cx="133.2" cy="522.2" r="0.35"/><circle cx="133.9" cy="522.1" r="0.35"/><circle cx="134.6" cy="522.1" r="0.35"/><circle cx="135.3" cy="522.1" r="0.35"/><circle cx="136.0" cy="522.1" r="0.35"/><circle cx="136.7" cy="522.0" r="0.35"/><circle cx="137.4" cy="522.0" r="0.35"/><circle cx="138.1" cy="522.0" r="0.35"/><circle cx="138.8" cy="521.9" r="0.35"/><circle cx="139.5" cy="521.9" r="0.35"/><circle cx="140.2" cy="521.9" r="0.35"/><circle cx="140.9" cy="521.9" r="0.35"/><circle cx="141.6" cy="521.8" r="0.35"/><circle cx="142.3" cy="521.8" r="0.35"/><circle cx="143.0" cy="521.8" r="0.35"/><circle cx="143.7" cy="521.8" r="0.35"/><circle cx="144.4" cy="521.7" r="0.35"/><circle cx="145.1" cy="521.7" r="0.35"/><circle cx="145.8" cy="521.7" r="0.35"/><circle cx="146.5" cy="521.7" r="0.35"/><circle cx="147.2" cy="521.6" r="0.35"/><circle cx="147.9" cy="521.6" r="0.35"/><circle cx="148.6" cy="521.6" r="0.35"/><circle cx="149.3" cy="521.5" r="0.35"/><circle cx="150.0" cy="521.5" r="0.35"/><circle cx="150.7" cy="521.5" r="0.35"/><circle cx="151.4" cy="521.5" r="0.35"/><circle cx="152.1" cy="521.4" r="0.35"/><circle cx="152.8" cy="521.4" r="0.35"/><circle cx="153.5" cy="521.4" r="0.35"/><circle cx="154.2" cy="521.4" r="0.35"/><circle cx="154.9" cy="521.4" r="0.35"/><circle cx="155.6" cy="521.3" r="0.35"/><circle cx="156.3" cy="521.3" r="0.35"/><circle cx="157.0" cy="521.3" r="0.35"/><circle cx="157.7" cy="521.3" r="0.35"/><circle cx="158.4" cy="521.2" r="0.35"/><circle cx="159.1" cy="521.2" r="0.35"/><circle cx="159.8" cy="521.2" r="0.35"/><circle cx="160.5" cy="521.2" r="0.35"/><circle cx="161.2" cy="521.2" r="0.35"/><circle cx="161.9" cy="521.2" r="0.35"/><circle cx="162.6" cy="521.2" r="0.35"/><circle cx="163.3" cy="521.1" r="0.35"/><circle cx="164.0" cy="521.1" r="0.35"/><circle cx="164.7" cy="521.1" r="0.35"/><circle cx="165.4" cy="521.1" r="0.35"/><circle cx="166.1" cy="521.1" r="0.35"/><circle cx="166.8" cy="521.1" r="0.35"/><circle cx="167.5" cy="521.1" r="0.35"/><circle cx="168.2" cy="521.1" r="0.35"/><circle cx="168.9" cy="521.1" r="0.35"/><circle cx="169.6" cy="521.1" r="0.35"/><circle cx="170.3" cy="521.1" r="0.35"/><circle cx="171.0" cy="521.1" r="0.35"/><circle cx="171.7" cy="521.1" r="0.35"/><circle cx="172.4" cy="521.1" r="0.35"/><circle cx="173.1" cy="521.1" r="0.35"/><circle cx="173.8" cy="521.1" r="0.35"/><circle cx="174.5" cy="521.0" r="0.35"/><circle cx="175.2" cy="521.0" r="0.35"/><circle cx="175.9" cy="520.9" r="0.35"/><circle cx="176.6" cy="520.9" r="0.35"/><circle cx="177.3" cy="520.8" r="0.35"/><circle cx="178.0" cy="520.8" r="0.35"/><circle cx="178.7" cy="520.7" r="0.35"/><circle cx="179.4" cy="520.7" r="0.35"/><circle cx="180.1" cy="520.6" r="0.35"/><circle cx="180.8" cy="520.5" r="0.35"/><circle cx="181.5" cy="520.4" r="0.35"/><circle cx="182.2" cy="520.3" r="0.35"/><circle cx="182.9" cy="520.2" r="0.35"/><circle cx="183.6" cy="520.1" r="0.35"/><circle cx="184.3" cy="520.0" r="0.35"/><circle cx="185.0" cy="519.8" r="0.35"/><circle cx="185.7" cy="519.7" r="0.35"/><circle cx="186.4" cy="519.5" r="0.35"/><circle cx="187.1" cy="519.3" r="0.35"/><circle cx="187.8" cy="519.1" r="0.35"/><circle cx="188.5" cy="518.9" r="0.35"/><circle cx="189.2" cy="518.6" r="0.35"/><circle cx="189.9" cy="518.3" r="0.35"/><circle cx="190.6" cy="518.1" r="0.35"/><circle cx="191.3" cy="517.8" r="0.35"/><circle cx="192.0" cy="517.5" r="0.35"/><circle cx="192.7" cy="517.2" r="0.35"/><circle cx="193.4" cy="516.9" r="0.35"/><circle cx="194.1" cy="516.5" r="0.35"/><circle cx="194.8" cy="516.2" r="0.35"/><circle cx="195.5" cy="515.9" r="0.35"/><circle cx="196.2" cy="515.6" r="0.35"/><circle cx="196.9" cy="515.2" r="0.35"/><circle cx="197.6" cy="514.8" r="0.35"/><circle cx="198.3" cy="514.4" r="0.35"/><circle cx="199.0" cy="514.0" r="0.35"/><circle cx="199.7" cy="513.6" r="0.35"/><circle cx="200.4" cy="513.2" r="0.35"/><circle cx="201.1" cy="512.7" r="0.35"/><circle cx="201.8" cy="512.3" r="0.35"/><circle cx="202.5" cy="511.9" r="0.35"/><circle cx="203.2" cy="511.6" r="0.35"/><circle cx="203.9" cy="511.2" r="0.35"/><circle cx="204.6" cy="510.9" r="0.35"/><circle cx="205.3" cy="510.6" r="0.35"/><circle cx="206.0" cy="510.3" r="0.35"/><circle cx="206.7" cy="510.0" r="0.35"/><circle cx="207.4" cy="509.8" r="0.35"/><circle cx="208.1" cy="509.5" r="0.35"/><circle cx="208.8" cy="509.3" r="0.35"/><circle cx="209.5" cy="509.1" r="0.35"/><circle cx="210.2" cy="508.9" r="0.35"/><circle cx="210.9" cy="508.7" r="0.35"/><circle cx="211.6" cy="508.5" r="0.35"/><circle cx="212.3" cy="508.4" r="0.35"/><circle cx="213.0" cy="508.3" r="0.35"/><circle cx="213.7" cy="508.2" r="0.35"/><circle cx="214.4" cy="508.2" r="0.35"/><circle cx="215.1" cy="508.2" r="0.35"/><circle cx="215.8" cy="508.2" r="0.35"/><circle cx="216.5" cy="508.4" r="0.35"/><circle cx="217.2" cy="508.5" r="0.35"/><circle cx="217.9" cy="508.8" r="0.35"/><circle cx="218.6" cy="509.1" r="0.35"/><circle cx="219.3" cy="509.5" r="0.35"/><circle cx="220.0" cy="509.9" r="0.35"/><circle cx="220.7" cy="510.5" r="0.35"/><circle cx="221.4" cy="511.2" r="0.35"/><circle cx="222.1" cy="511.9" r="0.35"/><circle cx="222.8" cy="512.8" r="0.35"/><circle cx="223.5" cy="513.6" r="0.35"/><circle cx="224.2" cy="514.3" r="0.35"/><circle cx="224.9" cy="515.0" r="0.35"/><circle cx="225.6" cy="515.8" r="0.35"/><circle cx="226.3" cy="516.5" r="0.35"/><circle cx="227.0" cy="517.3" r="0.35"/><circle cx="227.7" cy="517.9" r="0.35"/><circle cx="228.4" cy="518.5" r="0.35"/><circle cx="229.1" cy="519.0" r="0.35"/><circle cx="229.8" cy="519.3" r="0.35"/><circle cx="230.5" cy="519.6" r="0.35"/><circle cx="231.2" cy="519.7" r="0.35"/><circle cx="231.9" cy="519.8" r="0.35"/><circle cx="232.6" cy="519.8" r="0.35"/><circle cx="233.3" cy="519.6" r="0.35"/><circle cx="234.0" cy="519.1" r="0.35"/><circle cx="234.7" cy="518.4" r="0.35"/><circle cx="235.4" cy="517.7" r="0.35"/><circle cx="236.1" cy="517.0" r="0.35"/><circle cx="236.8" cy="516.3" r="0.35"/><circle cx="237.5" cy="515.4" r="0.35"/><circle cx="238.2" cy="514.4" r="0.35"/><circle cx="238.9" cy="513.2" r="0.35"/><circle cx="239.6" cy="511.7" r="0.35"/><circle cx="240.3" cy="509.9" r="0.35"/><circle cx="241.0" cy="507.9" r="0.35"/><circle cx="241.7" cy="505.7" r="0.35"/><circle cx="242.4" cy="503.5" r="0.35"/><circle cx="243.1" cy="501.2" r="0.35"/><circle cx="243.8" cy="499.1" r="0.35"/><circle cx="244.5" cy="497.0" r="0.35"/><circle cx="245.2" cy="495.0" r="0.35"/><circle cx="245.9" cy="492.9" r="0.35"/><circle cx="246.6" cy="490.9" r="0.35"/><circle cx="247.3" cy="488.9" r="0.35"/><circle cx="248.0" cy="487.1" r="0.35"/><circle cx="248.7" cy="485.5" r="0.35"/><circle cx="249.4" cy="484.0" r="0.35"/><circle cx="250.1" cy="482.6" r="0.35"/><circle cx="250.8" cy="481.3" r="0.35"/><circle cx="251.5" cy="480.0" r="0.35"/><circle cx="252.2" cy="478.9" r="0.35"/><circle cx="252.9" cy="477.9" r="0.35"/><circle cx="253.6" cy="477.0" r="0.35"/><circle cx="254.3" cy="476.4" r="0.35"/><circle cx="255.0" cy="476.2" r="0.35"/><circle cx="255.7" cy="476.5" r="0.35"/><circle cx="256.4" cy="477.3" r="0.35"/><circle cx="257.1" cy="478.6" r="0.35"/><circle cx="257.8" cy="480.4" r="0.35"/><circle cx="258.5" cy="482.5" r="0.35"/><circle cx="259.2" cy="484.7" r="0.35"/><circle cx="259.9" cy="487.4" r="0.35"/><circle cx="260.6" cy="490.6" r="0.35"/><circle cx="261.3" cy="494.2" r="0.35"/><circle cx="262.0" cy="497.5" r="0.35"/><circle cx="262.7" cy="500.4" r="0.35"/><circle cx="263.4" cy="503.2" r="0.35"/><circle cx="264.1" cy="506.0" r="0.35"/><circle cx="264.8" cy="508.7" r="0.35"/><circle cx="265.5" cy="511.1" r="0.35"/><circle cx="266.2" cy="513.2" r="0.35"/><circle cx="266.9" cy="515.0" r="0.35"/><circle cx="267.6" cy="516.4" r="0.35"/><circle cx="268.3" cy="517.7" r="0.35"/><circle cx="269.0" cy="518.6" r="0.35"/><circle cx="269.7" cy="519.2" r="0.35"/><circle cx="270.4" cy="519.5" r="0.35"/><circle cx="271.1" cy="519.4" r="0.35"/><circle cx="271.8" cy="519.0" r="0.35"/><circle cx="272.5" cy="518.4" r="0.35"/><circle cx="273.2" cy="517.4" r="0.35"/><circle cx="273.9" cy="516.0" r="0.35"/><circle cx="274.6" cy="514.3" r="0.35"/><circle cx="275.3" cy="512.0" r="0.35"/><circle cx="276.0" cy="508.9" r="0.35"/><circle cx="276.7" cy="505.3" r="0.35"/><circle cx="277.4" cy="501.3" r="0.35"/><circle cx="278.1" cy="497.0" r="0.35"/><circle cx="278.8" cy="492.1" r="0.35"/><circle cx="279.5" cy="486.4" r="0.35"/><circle cx="280.2" cy="480.4" r="0.35"/><circle cx="280.9" cy="474.3" r="0.35"/><circle cx="281.6" cy="468.0" r="0.35"/><circle cx="282.3" cy="461.6" r="0.35"/><circle cx="283.0" cy="455.6" r="0.35"/><circle cx="283.7" cy="450.3" r="0.35"/><circle cx="284.4" cy="445.4" r="0.35"/><circle cx="285.1" cy="440.0" r="0.35"/><circle cx="285.8" cy="433.3" r="0.35"/><circle cx="286.5" cy="426.3" r="0.35"/><circle cx="287.2" cy="420.7" r="0.35"/><circle cx="287.9" cy="416.0" r="0.35"/><circle cx="288.6" cy="411.7" r="0.35"/><circle cx="289.3" cy="407.5" r="0.35"/><circle cx="290.0" cy="403.3" r="0.35"/><circle cx="290.7" cy="399.2" r="0.35"/><circle cx="291.4" cy="395.0" r="0.35"/><circle cx="292.1" cy="390.5" r="0.35"/><circle cx="292.8" cy="385.7" r="0.35"/><circle cx="293.5" cy="380.3" r="0.35"/><circle cx="294.2" cy="374.6" r="0.35"/><circle cx="294.9" cy="369.0" r="0.35"/><circle cx="295.6" cy="364.0" r="0.35"/><circle cx="296.3" cy="359.3" r="0.35"/><circle cx="297.0" cy="354.8" r="0.35"/><circle cx="297.7" cy="350.7" r="0.35"/><circle cx="298.4" cy="347.3" r="0.35"/><circle cx="299.1" cy="344.6" r="0.35"/><circle cx="299.8" cy="342.2" r="0.35"/><circle cx="300.5" cy="340.0" r="0.35"/><circle cx="301.2" cy="338.1" r="0.35"/><circle cx="301.9" cy="336.3" r="0.35"/><circle cx="302.6" cy="334.8" r="0.35"/><circle cx="303.3" cy="333.5" r="0.35"/><circle cx="304.0" cy="332.6" r="0.35"/><circle cx="304.7" cy="332.1" r="0.35"/><circle cx="305.4" cy="332.2" r="0.35"/><circle cx="306.1" cy="332.7" r="0.35"/><circle cx="306.8" cy="333.8" r="0.35"/><circle cx="307.5" cy="335.2" r="0.35"/><circle cx="308.2" cy="336.9" r="0.35"/><circle cx="308.9" cy="338.8" r="0.35"/><circle cx="309.6" cy="340.8" r="0.35"/><circle cx="310.3" cy="343.1" r="0.35"/><circle cx="311.0" cy="345.8" r="0.35"/><circle cx="311.7" cy="348.9" r="0.35"/><circle cx="312.4" cy="352.3" r="0.35"/><circle cx="313.1" cy="355.9" r="0.35"/><circle cx="313.8" cy="359.6" r="0.35"/><circle cx="314.5" cy="363.5" r="0.35"/><circle cx="315.2" cy="367.5" r="0.35"/><circle cx="315.9" cy="371.8" r="0.35"/><circle cx="316.6" cy="376.2" r="0.35"/><circle cx="317.3" cy="380.6" r="0.35"/><circle cx="318.0" cy="385.1" r="0.35"/><circle cx="318.7" cy="389.7" r="0.35"/><circle cx="319.4" cy="394.4" r="0.35"/><circle cx="320.1" cy="399.3" r="0.35"/><circle cx="320.8" cy="404.6" r="0.35"/><circle cx="321.5" cy="410.8" r="0.35"/><circle cx="322.2" cy="418.0" r="0.35"/><circle cx="322.9" cy="426.6" r="0.35"/><circle cx="323.6" cy="428.7" r="0.35"/><circle cx="324.3" cy="426.5" r="0.35"/><circle cx="325.0" cy="422.5" r="0.35"/><circle cx="325.7" cy="417.1" r="0.35"/><circle cx="326.4" cy="411.4" r="0.35"/><circle cx="327.1" cy="405.3" r="0.35"/><circle cx="327.8" cy="400.0" r="0.35"/><circle cx="328.5" cy="395.9" r="0.35"/><circle cx="329.2" cy="392.1" r="0.35"/><circle cx="329.9" cy="388.5" r="0.35"/></g></g><g clip-path="url(#clipC)"><path d="M100.00 524.40 L103.85 524.39 L108.73 524.37 L114.50 524.36 L121.02 524.34 L128.15 524.32 L135.73 524.30 L143.62 524.27 L151.69 524.25 L159.78 524.22 L167.75 524.20 L175.46 524.17 L182.76 524.14 L189.51 524.11 L195.56 524.07 L200.77 524.04 L205.00 524.00 L208.35 523.96 L211.06 523.93 L213.20 523.90 L214.84 523.88 L216.02 523.85 L216.83 523.82 L217.32 523.79 L217.56 523.75 L217.61 523.71 L217.53 523.66 L217.40 523.61 L217.26 523.55 L217.19 523.48 L217.24 523.40 L217.49 523.31 L218.00 523.20 L218.64 523.08 L219.24 522.94 L219.80 522.79 L220.34 522.63 L220.85 522.45 L221.34 522.27 L221.82 522.08 L222.28 521.89 L222.73 521.69 L223.18 521.49 L223.63 521.30 L224.08 521.10 L224.54 520.92 L225.01 520.73 L225.50 520.56 L226.00 520.40 L226.52 520.24 L227.05 520.08 L227.58 519.91 L228.11 519.74 L228.65 519.57 L229.19 519.40 L229.74 519.23 L230.28 519.07 L230.82 518.92 L231.36 518.78 L231.90 518.65 L232.43 518.52 L232.96 518.42 L233.48 518.33 L234.00 518.25 L234.50 518.20 L235.00 518.17 L235.50 518.16 L235.99 518.16 L236.48 518.18 L236.97 518.22 L237.45 518.27 L237.93 518.33 L238.41 518.40 L238.88 518.47 L239.34 518.55 L239.80 518.63 L240.25 518.72 L240.70 518.79 L241.14 518.87 L241.57 518.94 L242.00 519.00 L242.41 519.06 L242.81 519.14 L243.19 519.23 L243.56 519.32 L243.93 519.42 L244.28 519.52 L244.63 519.62 L244.98 519.72 L245.33 519.81 L245.68 519.89 L246.04 519.95 L246.41 520.01 L246.79 520.04 L247.17 520.05 L247.58 520.04 L248.00 520.00 L248.44 519.94 L248.90 519.87 L249.37 519.78 L249.85 519.68 L250.34 519.56 L250.85 519.43 L251.35 519.28 L251.86 519.12 L252.37 518.95 L252.88 518.76 L253.39 518.56 L253.89 518.34 L254.39 518.10 L254.87 517.85 L255.34 517.58 L255.80 517.30 L256.25 516.99 L256.68 516.66 L257.11 516.29 L257.54 515.90 L257.95 515.50 L258.37 515.07 L258.78 514.63 L259.18 514.19 L259.58 513.74 L259.99 513.28 L260.39 512.83 L260.79 512.38 L261.19 511.94 L261.59 511.51 L261.99 511.09 L262.40 510.70 L262.81 510.31 L263.22 509.91 L263.62 509.51 L264.03 509.10 L264.44 508.69 L264.84 508.29 L265.25 507.89 L265.65 507.49 L266.05 507.11 L266.46 506.75 L266.86 506.40 L267.27 506.07 L267.68 505.76 L268.08 505.48 L268.49 505.22 L268.90 505.00 L269.31 504.81 L269.72 504.66 L270.13 504.53 L270.54 504.44 L270.96 504.36 L271.37 504.31 L271.78 504.27 L272.19 504.24 L272.61 504.23 L273.02 504.22 L273.43 504.21 L273.85 504.21 L274.26 504.19 L274.67 504.17 L275.09 504.14 L275.50 504.10 L275.91 504.07 L276.32 504.10 L276.74 504.16 L277.15 504.24 L277.56 504.34 L277.98 504.44 L278.39 504.54 L278.80 504.62 L279.21 504.67 L279.62 504.68 L280.04 504.64 L280.45 504.54 L280.86 504.36 L281.28 504.11 L281.69 503.76 L282.10 503.30 L282.51 502.74 L282.93 502.09 L283.34 501.35 L283.76 500.54 L284.17 499.66 L284.59 498.71 L285.00 497.72 L285.42 496.68 L285.83 495.61 L286.25 494.50 L286.66 493.37 L287.07 492.24 L287.48 491.09 L287.89 489.95 L288.30 488.81 L288.70 487.70 L289.10 486.57 L289.51 485.38 L289.92 484.15 L290.33 482.88 L290.73 481.59 L291.14 480.27 L291.55 478.95 L291.95 477.62 L292.35 476.31 L292.75 475.00 L293.14 473.73 L293.52 472.48 L293.90 471.28 L294.28 470.12 L294.64 469.03 L295.00 468.00 L295.35 467.03 L295.68 466.09 L296.00 465.18 L296.31 464.31 L296.61 463.46 L296.91 462.65 L297.20 461.87 L297.49 461.11 L297.79 460.39 L298.08 459.69 L298.38 459.01 L298.68 458.36 L298.99 457.74 L299.32 457.14 L299.65 456.56 L300.00 456.00 L300.36 455.46 L300.74 454.93 L301.12 454.42 L301.52 453.93 L301.92 453.47 L302.33 453.02 L302.75 452.61 L303.16 452.22 L303.58 451.86 L304.00 451.54 L304.41 451.26 L304.82 451.02 L305.23 450.82 L305.63 450.66 L306.02 450.56 L306.40 450.50 L306.77 450.50 L307.14 450.55 L307.51 450.65 L307.87 450.79 L308.23 450.98 L308.58 451.21 L308.94 451.48 L309.29 451.78 L309.63 452.11 L309.98 452.47 L310.32 452.85 L310.66 453.25 L311.00 453.67 L311.33 454.11 L311.67 454.55 L312.00 455.00 L312.33 455.47 L312.65 455.97 L312.97 456.51 L313.29 457.07 L313.60 457.66 L313.91 458.27 L314.22 458.90 L314.52 459.54 L314.83 460.20 L315.14 460.88 L315.44 461.56 L315.75 462.24 L316.06 462.94 L316.37 463.63 L316.68 464.32 L317.00 465.00 L317.32 465.72 L317.66 466.52 L318.00 467.37 L318.34 468.26 L318.69 469.18 L319.04 470.11 L319.39 471.04 L319.74 471.95 L320.08 472.83 L320.42 473.66 L320.75 474.43 L321.06 475.12 L321.37 475.71 L321.66 476.20 L321.94 476.57 L322.20 476.80 L322.44 476.90 L322.67 476.88 L322.88 476.75 L323.08 476.53 L323.26 476.22 L323.44 475.84 L323.61 475.39 L323.77 474.89 L323.92 474.34 L324.08 473.75 L324.23 473.13 L324.38 472.50 L324.53 471.86 L324.68 471.23 L324.84 470.60 L325.00 470.00 L325.16 469.39 L325.33 468.72 L325.49 468.01 L325.65 467.27 L325.80 466.50 L325.96 465.71 L326.11 464.89 L326.27 464.07 L326.42 463.25 L326.58 462.44 L326.73 461.63 L326.88 460.84 L327.04 460.08 L327.19 459.34 L327.34 458.65 L327.50 458.00 L327.66 457.38 L327.83 456.75 L328.00 456.14 L328.18 455.53 L328.37 454.94 L328.55 454.36 L328.73 453.79 L328.91 453.25 L329.08 452.73 L329.25 452.24 L329.40 451.77 L329.55 451.34 L329.69 450.95 L329.81 450.59 L329.91 450.27 L330.00 450.00" stroke="#4a4a4a" stroke-width="4.20" fill="none" stroke-linecap="round" stroke-linejoin="round"/></g><g clip-path="url(#clipC)"><path d="M95.00 524.00 L95.16 523.93 L95.35 523.84 L95.58 523.74 L95.83 523.63 L96.11 523.50 L96.40 523.37 L96.71 523.23 L97.03 523.09 L97.36 522.94 L97.69 522.79 L98.02 522.65 L98.34 522.50 L98.65 522.37 L98.95 522.23 L99.24 522.11 L99.50 522.00 L99.75 521.89 L99.99 521.78 L100.22 521.66 L100.45 521.54 L100.67 521.42 L100.89 521.31 L101.10 521.20 L101.31 521.09 L101.52 520.99 L101.73 520.89 L101.94 520.81 L102.15 520.74 L102.36 520.68 L102.57 520.64 L102.78 520.61 L103.00 520.60 L103.22 520.61 L103.43 520.64 L103.64 520.69 L103.85 520.76 L104.06 520.83 L104.27 520.92 L104.48 521.02 L104.69 521.13 L104.90 521.24 L105.11 521.36 L105.33 521.48 L105.55 521.59 L105.78 521.70 L106.01 521.81 L106.25 521.91 L106.50 522.00 L106.73 522.09 L106.92 522.18 L107.07 522.27 L107.21 522.37 L107.35 522.47 L107.48 522.57 L107.62 522.66 L107.78 522.76 L107.97 522.85 L108.21 522.93 L108.49 523.02 L108.83 523.09 L109.24 523.16 L109.74 523.21 L110.32 523.26 L111.00 523.30 L111.77 523.33 L112.61 523.34 L113.51 523.35 L114.47 523.35 L115.50 523.35 L116.58 523.34 L117.72 523.32 L118.91 523.29 L120.15 523.27 L121.43 523.23 L122.76 523.20 L124.14 523.16 L125.55 523.12 L127.00 523.08 L128.48 523.04 L130.00 523.00 L131.57 522.96 L133.22 522.91 L134.94 522.86 L136.73 522.80 L138.56 522.75 L140.44 522.69 L142.36 522.62 L144.31 522.56 L146.28 522.49 L148.27 522.42 L150.26 522.35 L152.24 522.28 L154.22 522.21 L156.17 522.14 L158.10 522.07 L160.00 522.00 L161.92 521.93 L163.92 521.86 L165.97 521.79 L168.07 521.71 L170.19 521.64 L172.32 521.56 L174.43 521.49 L176.52 521.41 L178.56 521.34 L180.53 521.26 L182.42 521.18 L184.21 521.10 L185.88 521.03 L187.41 520.95 L188.79 520.88 L190.00 520.80 L191.01 520.73 L191.84 520.66 L192.50 520.60 L193.02 520.55 L193.41 520.49 L193.70 520.44 L193.91 520.38 L194.06 520.32 L194.17 520.26 L194.26 520.20 L194.37 520.12 L194.49 520.04 L194.67 519.95 L194.91 519.85 L195.25 519.73 L195.70 519.60 L196.24 519.45 L196.83 519.29 L197.47 519.11 L198.14 518.91 L198.85 518.71 L199.57 518.50 L200.31 518.28 L201.06 518.06 L201.80 517.83 L202.54 517.61 L203.27 517.39 L203.97 517.17 L204.64 516.96 L205.27 516.76 L205.86 516.57 L206.40 516.40 L206.89 516.24 L207.33 516.09 L207.74 515.96 L208.11 515.83 L208.46 515.70 L208.79 515.58 L209.10 515.47 L209.39 515.36 L209.69 515.24 L209.98 515.13 L210.27 515.01 L210.58 514.88 L210.90 514.75 L211.24 514.61 L211.60 514.46 L212.00 514.30 L212.42 514.13 L212.86 513.95 L213.32 513.76 L213.79 513.56 L214.26 513.36 L214.75 513.15 L215.25 512.94 L215.74 512.73 L216.24 512.52 L216.74 512.30 L217.24 512.08 L217.73 511.86 L218.21 511.64 L218.69 511.43 L219.15 511.21 L219.60 511.00 L220.03 510.79 L220.45 510.57 L220.85 510.36 L221.24 510.14 L221.63 509.92 L222.00 509.70 L222.38 509.48 L222.76 509.26 L223.14 509.04 L223.52 508.82 L223.91 508.61 L224.32 508.40 L224.74 508.19 L225.17 507.99 L225.62 507.79 L226.10 507.60 L226.60 507.41 L227.12 507.22 L227.66 507.03 L228.22 506.84 L228.80 506.65 L229.38 506.47 L229.97 506.29 L230.57 506.11 L231.17 505.94 L231.77 505.78 L232.36 505.62 L232.96 505.48 L233.54 505.34 L234.11 505.21 L234.66 505.10 L235.20 505.00 L235.72 504.91 L236.24 504.85 L236.74 504.79 L237.24 504.75 L237.73 504.72 L238.22 504.69 L238.70 504.68 L239.17 504.67 L239.65 504.66 L240.12 504.66 L240.60 504.66 L241.07 504.66 L241.55 504.65 L242.03 504.64 L242.51 504.62 L243.00 504.60 L243.49 504.58 L243.98 504.58 L244.47 504.60 L244.96 504.62 L245.45 504.65 L245.94 504.68 L246.43 504.71 L246.93 504.73 L247.42 504.74 L247.91 504.73 L248.41 504.70 L248.90 504.65 L249.40 504.57 L249.90 504.45 L250.40 504.30 L250.90 504.10 L251.40 503.87 L251.91 503.62 L252.42 503.35 L252.93 503.05 L253.44 502.74 L253.95 502.40 L254.47 502.03 L254.98 501.64 L255.50 501.23 L256.01 500.79 L256.53 500.33 L257.04 499.84 L257.56 499.32 L258.07 498.77 L258.59 498.20 L259.10 497.60 L259.61 496.95 L260.12 496.25 L260.64 495.49 L261.15 494.69 L261.66 493.86 L262.18 493.00 L262.69 492.11 L263.20 491.21 L263.71 490.31 L264.23 489.40 L264.74 488.51 L265.25 487.62 L265.76 486.77 L266.28 485.94 L266.79 485.15 L267.30 484.40 L267.82 483.68 L268.34 482.97 L268.86 482.27 L269.39 481.58 L269.92 480.89 L270.45 480.23 L270.97 479.57 L271.50 478.93 L272.02 478.31 L272.54 477.70 L273.06 477.11 L273.56 476.55 L274.06 476.00 L274.55 475.48 L275.03 474.98 L275.50 474.50 L275.96 474.07 L276.40 473.69 L276.83 473.37 L277.26 473.08 L277.67 472.82 L278.08 472.59 L278.49 472.37 L278.89 472.15 L279.28 471.93 L279.68 471.70 L280.08 471.45 L280.47 471.17 L280.87 470.86 L281.28 470.49 L281.68 470.08 L282.10 469.60 L282.52 469.07 L282.95 468.52 L283.39 467.95 L283.83 467.34 L284.27 466.72 L284.72 466.06 L285.16 465.38 L285.61 464.68 L286.05 463.94 L286.48 463.19 L286.91 462.40 L287.33 461.59 L287.74 460.76 L288.14 459.90 L288.53 459.01 L288.90 458.10 L289.26 457.15 L289.61 456.17 L289.95 455.14 L290.28 454.08 L290.61 452.99 L290.92 451.88 L291.23 450.74 L291.54 449.58 L291.83 448.41 L292.13 447.22 L292.41 446.02 L292.70 444.81 L292.98 443.61 L293.25 442.40 L293.53 441.20 L293.80 440.00 L294.06 438.84 L294.31 437.72 L294.55 436.64 L294.78 435.59 L295.00 434.54 L295.22 433.49 L295.43 432.43 L295.64 431.33 L295.86 430.20 L296.08 429.00 L296.30 427.75 L296.54 426.41 L296.78 424.98 L297.04 423.44 L297.31 421.79 L297.60 420.00 L297.91 418.04 L298.25 415.88 L298.61 413.55 L298.98 411.08 L299.37 408.50 L299.76 405.83 L300.17 403.10 L300.57 400.35 L300.97 397.59 L301.36 394.87 L301.75 392.19 L302.12 389.60 L302.48 387.11 L302.81 384.77 L303.12 382.59 L303.40 380.60 L303.65 378.77 L303.88 377.05 L304.09 375.41 L304.27 373.87 L304.45 372.41 L304.60 371.02 L304.75 369.70 L304.89 368.44 L305.03 367.24 L305.17 366.09 L305.30 364.97 L305.44 363.90 L305.59 362.85 L305.75 361.82 L305.91 360.81 L306.10 359.80 L306.30 358.82 L306.50 357.88 L306.71 356.97 L306.92 356.11 L307.14 355.29 L307.36 354.50 L307.58 353.75 L307.81 353.03 L308.03 352.35 L308.26 351.70 L308.49 351.09 L308.71 350.51 L308.94 349.96 L309.16 349.45 L309.38 348.96 L309.60 348.50 L309.82 348.08 L310.03 347.70 L310.24 347.35 L310.45 347.05 L310.67 346.78 L310.88 346.54 L311.09 346.34 L311.30 346.16 L311.51 346.02 L311.72 345.89 L311.93 345.80 L312.15 345.72 L312.36 345.66 L312.57 345.63 L312.78 345.61 L313.00 345.60 L313.21 345.61 L313.43 345.66 L313.64 345.73 L313.85 345.82 L314.06 345.94 L314.27 346.08 L314.48 346.25 L314.69 346.43 L314.91 346.64 L315.12 346.86 L315.34 347.10 L315.57 347.35 L315.79 347.62 L316.02 347.90 L316.26 348.20 L316.50 348.50 L316.75 348.84 L317.01 349.25 L317.28 349.71 L317.56 350.21 L317.84 350.74 L318.12 351.29 L318.41 351.84 L318.70 352.40 L318.99 352.94 L319.27 353.46 L319.55 353.95 L319.82 354.39 L320.08 354.78 L320.33 355.10 L320.57 355.34 L320.80 355.50 L321.01 355.58 L321.22 355.61 L321.41 355.59 L321.60 355.52 L321.78 355.40 L321.96 355.24 L322.12 355.05 L322.29 354.81 L322.45 354.55 L322.60 354.25 L322.75 353.93 L322.90 353.58 L323.05 353.21 L323.20 352.82 L323.35 352.42 L323.50 352.00 L323.65 351.56 L323.80 351.08 L323.94 350.57 L324.08 350.03 L324.22 349.47 L324.36 348.87 L324.50 348.25 L324.63 347.61 L324.76 346.95 L324.89 346.28 L325.02 345.59 L325.14 344.88 L325.26 344.17 L325.38 343.45 L325.49 342.73 L325.60 342.00 L325.71 341.26 L325.81 340.50 L325.90 339.72 L326.00 338.92 L326.09 338.10 L326.17 337.27 L326.26 336.43 L326.34 335.58 L326.42 334.72 L326.50 333.86 L326.58 333.00 L326.66 332.13 L326.74 331.27 L326.83 330.40 L326.91 329.55 L327.00 328.70 L327.09 327.83 L327.19 326.91 L327.30 325.96 L327.40 324.98 L327.51 323.99 L327.62 322.99 L327.73 322.00 L327.84 321.02 L327.94 320.07 L328.04 319.15 L328.14 318.28 L328.23 317.47 L328.31 316.73 L328.38 316.06 L328.45 315.48 L328.50 315.00" stroke="#4dba6b" stroke-width="4.60" fill="none" stroke-linecap="round" stroke-linejoin="round"/></g><g clip-path="url(#clipC)"><path d="M262.00 524.00 L262.64 523.95 L263.41 523.90 L264.30 523.83 L265.30 523.76 L266.40 523.69 L267.56 523.60 L268.79 523.52 L270.06 523.42 L271.36 523.33 L272.68 523.23 L273.99 523.13 L275.29 523.02 L276.55 522.92 L277.77 522.81 L278.92 522.71 L280.00 522.60 L281.02 522.49 L282.02 522.38 L283.00 522.26 L283.96 522.13 L284.91 522.01 L285.84 521.88 L286.77 521.74 L287.69 521.61 L288.60 521.48 L289.51 521.35 L290.41 521.22 L291.32 521.09 L292.23 520.96 L293.15 520.83 L294.07 520.72 L295.00 520.60 L295.95 520.49 L296.91 520.38 L297.88 520.27 L298.87 520.17 L299.86 520.06 L300.84 519.96 L301.83 519.86 L302.81 519.76 L303.78 519.66 L304.74 519.57 L305.68 519.47 L306.60 519.38 L307.50 519.28 L308.36 519.19 L309.20 519.09 L310.00 519.00 L310.76 518.91 L311.49 518.81 L312.18 518.72 L312.85 518.63 L313.49 518.53 L314.12 518.44 L314.72 518.35 L315.31 518.26 L315.89 518.17 L316.47 518.09 L317.04 518.00 L317.62 517.92 L318.20 517.83 L318.78 517.75 L319.38 517.68 L320.00 517.60 L320.64 517.52 L321.32 517.45 L322.02 517.37 L322.73 517.30 L323.46 517.22 L324.19 517.15 L324.91 517.08 L325.62 517.01 L326.32 516.95 L326.98 516.88 L327.61 516.83 L328.20 516.77 L328.74 516.72 L329.23 516.67 L329.65 516.63 L330.00 516.60" stroke="#a86ee8" stroke-width="3.20" fill="none" stroke-linecap="round" stroke-linejoin="round"/></g><g clip-path="url(#clipC)"><path d="M78.40 524.40 L80.86 524.40 L83.73 524.40 L86.99 524.40 L90.60 524.40 L94.53 524.41 L98.76 524.41 L103.24 524.41 L107.95 524.41 L112.85 524.41 L117.92 524.41 L123.12 524.41 L128.43 524.41 L133.79 524.41 L139.20 524.41 L144.61 524.41 L150.00 524.40 L155.60 524.39 L161.62 524.39 L167.99 524.38 L174.64 524.37 L181.50 524.37 L188.50 524.36 L195.55 524.35 L202.60 524.34 L209.57 524.33 L216.38 524.31 L222.97 524.30 L229.26 524.28 L235.18 524.27 L240.66 524.25 L245.62 524.22 L250.00 524.20 L253.82 524.17 L257.17 524.15 L260.10 524.12 L262.66 524.09 L264.88 524.06 L266.82 524.02 L268.51 523.99 L270.00 523.95 L271.34 523.91 L272.56 523.87 L273.71 523.83 L274.84 523.79 L275.99 523.74 L277.21 523.70 L278.53 523.65 L280.00 523.60 L281.54 523.55 L283.03 523.49 L284.48 523.43 L285.89 523.36 L287.26 523.30 L288.58 523.23 L289.87 523.16 L291.12 523.09 L292.34 523.02 L293.53 522.95 L294.68 522.88 L295.80 522.82 L296.89 522.76 L297.95 522.70 L298.99 522.65 L300.00 522.60 L300.98 522.56 L301.91 522.51 L302.80 522.47 L303.66 522.43 L304.48 522.38 L305.26 522.34 L306.02 522.31 L306.75 522.28 L307.46 522.25 L308.14 522.22 L308.81 522.20 L309.47 522.19 L310.11 522.18 L310.75 522.18 L311.37 522.19 L312.00 522.20 L312.61 522.22 L313.19 522.26 L313.74 522.30 L314.28 522.35 L314.79 522.40 L315.28 522.46 L315.77 522.53 L316.24 522.60 L316.70 522.67 L317.16 522.75 L317.62 522.83 L318.08 522.90 L318.54 522.98 L319.02 523.06 L319.50 523.13 L320.00 523.20 L320.52 523.27 L321.07 523.35 L321.64 523.43 L322.23 523.51 L322.82 523.60 L323.42 523.69 L324.02 523.78 L324.60 523.86 L325.17 523.95 L325.72 524.03 L326.24 524.11 L326.72 524.18 L327.17 524.25 L327.57 524.31 L327.91 524.36 L328.20 524.40" stroke="#3b7be8" stroke-width="5.60" fill="none" stroke-linecap="round" stroke-linejoin="round"/></g><rect x="59.0" y="323.2" width="269.2" height="217.3" fill="none" stroke="#000" stroke-width="1.7"/><rect x="405.5" y="324.2" width="268.8" height="216.0" fill="url(#lav)"/><text x="370.80" y="314.20" font-family="Liberation Sans" font-size="24.00" font-weight="bold" text-anchor="start" >d</text><path d="M405.50 540.2 V536.6 M432.47 540.2 V538.4 M448.25 540.2 V538.4 M459.44 540.2 V538.4 M468.13 540.2 V538.4 M475.22 540.2 V538.4 M481.22 540.2 V538.4 M486.42 540.2 V538.4 M491.00 540.2 V538.4 M495.10 540.2 V536.6 M522.07 540.2 V538.4 M537.85 540.2 V538.4 M549.04 540.2 V538.4 M557.73 540.2 V538.4 M564.82 540.2 V538.4 M570.82 540.2 V538.4 M576.02 540.2 V538.4 M580.60 540.2 V538.4 M584.70 540.2 V536.6 M611.67 540.2 V538.4 M627.45 540.2 V538.4 M638.64 540.2 V538.4 M647.33 540.2 V538.4 M654.42 540.2 V538.4 M660.42 540.2 V538.4 M665.62 540.2 V538.4 M670.20 540.2 V538.4 M405.5 509.70 H409.3 M405.5 478.78 H407.5 M405.5 447.86 H409.3 M405.5 416.94 H407.5 M405.5 386.02 H409.3 M405.5 355.10 H407.5 M405.5 324.18 H409.3" stroke="#000" stroke-width="1.35" fill="none"/><text x="399.80" y="513.50" font-family="Liberation Sans" font-size="11.10" font-weight="bold" text-anchor="end" >0.0</text><text x="399.8" y="451.7" font-family="Liberation Sans" font-weight="bold" font-size="11.1" text-anchor="end">2.0×10<tspan font-size="8.0" dy="-5.0">4</tspan></text><text x="399.8" y="389.8" font-family="Liberation Sans" font-weight="bold" font-size="11.1" text-anchor="end">4.0×10<tspan font-size="8.0" dy="-5.0">4</tspan></text><text x="399.8" y="328.0" font-family="Liberation Sans" font-weight="bold" font-size="11.1" text-anchor="end">6.0×10<tspan font-size="8.0" dy="-5.0">4</tspan></text><text x="405.7" y="555.6" font-family="Liberation Sans" font-weight="bold" font-size="11.2" text-anchor="middle">10<tspan font-size="7.8" dy="-5.0">-8</tspan></text><text x="495.3" y="555.6" font-family="Liberation Sans" font-weight="bold" font-size="11.2" text-anchor="middle">10<tspan font-size="7.8" dy="-5.0">-7</tspan></text><text x="584.9" y="555.6" font-family="Liberation Sans" font-weight="bold" font-size="11.2" text-anchor="middle">10<tspan font-size="7.8" dy="-5.0">-6</tspan></text><text x="674.5" y="555.6" font-family="Liberation Sans" font-weight="bold" font-size="11.2" text-anchor="middle">10<tspan font-size="7.8" dy="-5.0">-5</tspan></text><text x="538" y="574.5" font-family="Liberation Sans" font-weight="bold" font-size="12" text-anchor="middle"><tspan font-family="Liberation Serif" font-weight="normal">τ</tspan> (s)</text><text transform="translate(357.4,432.3) rotate(-90)" font-family="Liberation Sans" font-weight="bold" font-size="11.2" text-anchor="middle"><tspan font-family="Liberation Serif" font-weight="normal">Υ(τ)</tspan> (ohm)</text><g clip-path="url(#clipD)"><path d="M465.50 509.60 L465.68 509.54 L465.87 509.48 L466.09 509.41 L466.33 509.34 L466.59 509.27 L466.86 509.19 L467.15 509.11 L467.46 509.02 L467.78 508.93 L468.11 508.84 L468.45 508.74 L468.81 508.64 L469.17 508.54 L469.53 508.43 L469.91 508.32 L470.28 508.20 L470.66 508.08 L471.05 507.96 L471.43 507.83 L471.81 507.70 L472.19 507.57 L472.57 507.43 L472.94 507.29 L473.30 507.15 L473.66 507.00 L474.01 506.84 L474.35 506.69 L474.68 506.53 L475.00 506.37 L475.30 506.20 L475.59 506.03 L475.89 505.86 L476.18 505.68 L476.47 505.51 L476.75 505.33 L477.04 505.15 L477.32 504.96 L477.60 504.77 L477.88 504.58 L478.16 504.39 L478.43 504.19 L478.71 503.98 L478.98 503.78 L479.25 503.57 L479.51 503.35 L479.78 503.13 L480.04 502.91 L480.30 502.68 L480.55 502.44 L480.81 502.20 L481.06 501.96 L481.31 501.71 L481.55 501.45 L481.80 501.19 L482.04 500.93 L482.28 500.65 L482.51 500.38 L482.74 500.09 L482.97 499.80 L483.20 499.50 L483.42 499.19 L483.64 498.88 L483.86 498.55 L484.07 498.22 L484.28 497.88 L484.48 497.54 L484.69 497.18 L484.88 496.82 L485.08 496.46 L485.27 496.09 L485.47 495.71 L485.65 495.33 L485.84 494.94 L486.02 494.55 L486.21 494.16 L486.39 493.76 L486.57 493.36 L486.74 492.96 L486.92 492.55 L487.09 492.15 L487.27 491.74 L487.44 491.33 L487.61 490.93 L487.78 490.52 L487.95 490.11 L488.12 489.71 L488.29 489.30 L488.46 488.90 L488.63 488.50 L488.80 488.10 L488.97 487.70 L489.14 487.31 L489.30 486.91 L489.46 486.51 L489.63 486.11 L489.79 485.71 L489.95 485.31 L490.10 484.91 L490.26 484.51 L490.41 484.11 L490.57 483.71 L490.72 483.30 L490.87 482.90 L491.02 482.49 L491.18 482.08 L491.32 481.67 L491.47 481.26 L491.62 480.84 L491.77 480.43 L491.92 480.01 L492.07 479.59 L492.21 479.17 L492.36 478.74 L492.51 478.32 L492.66 477.89 L492.80 477.46 L492.95 477.02 L493.10 476.58 L493.25 476.14 L493.40 475.70 L493.55 475.25 L493.70 474.80 L493.85 474.34 L494.01 473.87 L494.16 473.40 L494.31 472.93 L494.47 472.45 L494.62 471.97 L494.77 471.49 L494.93 471.00 L495.08 470.52 L495.23 470.03 L495.38 469.53 L495.54 469.04 L495.69 468.55 L495.84 468.06 L495.99 467.57 L496.14 467.07 L496.28 466.58 L496.43 466.10 L496.57 465.61 L496.72 465.13 L496.86 464.65 L497.00 464.17 L497.14 463.70 L497.27 463.23 L497.41 462.76 L497.54 462.30 L497.67 461.85 L497.80 461.40 L497.92 460.96 L498.05 460.51 L498.16 460.07 L498.28 459.63 L498.39 459.19 L498.49 458.75 L498.60 458.32 L498.70 457.88 L498.80 457.45 L498.90 457.02 L499.00 456.59 L499.09 456.16 L499.19 455.74 L499.29 455.32 L499.38 454.90 L499.48 454.48 L499.57 454.07 L499.67 453.66 L499.77 453.25 L499.87 452.85 L499.97 452.45 L500.07 452.05 L500.18 451.65 L500.28 451.26 L500.39 450.88 L500.51 450.49 L500.62 450.11 L500.75 449.74 L500.87 449.37 L501.00 449.00 L501.13 448.64 L501.27 448.27 L501.40 447.91 L501.54 447.55 L501.68 447.19 L501.83 446.84 L501.97 446.48 L502.12 446.13 L502.27 445.79 L502.42 445.44 L502.57 445.10 L502.72 444.76 L502.88 444.43 L503.04 444.10 L503.19 443.77 L503.35 443.45 L503.51 443.13 L503.68 442.82 L503.84 442.51 L504.00 442.20 L504.17 441.91 L504.34 441.61 L504.50 441.33 L504.67 441.05 L504.84 440.77 L505.01 440.50 L505.18 440.24 L505.35 439.99 L505.53 439.74 L505.70 439.50 L505.87 439.27 L506.05 439.04 L506.22 438.82 L506.40 438.60 L506.58 438.39 L506.76 438.19 L506.94 437.99 L507.12 437.80 L507.31 437.61 L507.49 437.43 L507.67 437.25 L507.86 437.08 L508.05 436.91 L508.24 436.75 L508.42 436.59 L508.62 436.44 L508.81 436.30 L509.00 436.15 L509.19 436.02 L509.39 435.89 L509.58 435.76 L509.78 435.63 L509.98 435.52 L510.18 435.40 L510.38 435.29 L510.58 435.18 L510.79 435.08 L510.99 434.98 L511.19 434.89 L511.40 434.80 L511.61 434.72 L511.82 434.64 L512.03 434.57 L512.25 434.51 L512.47 434.46 L512.69 434.41 L512.92 434.37 L513.14 434.33 L513.37 434.30 L513.60 434.27 L513.83 434.25 L514.06 434.24 L514.29 434.22 L514.52 434.21 L514.75 434.21 L514.98 434.20 L515.21 434.20 L515.44 434.20 L515.67 434.20 L515.90 434.20 L516.13 434.21 L516.36 434.21 L516.58 434.21 L516.81 434.22 L517.03 434.22 L517.25 434.22 L517.47 434.22 L517.68 434.21 L517.89 434.21 L518.10 434.20 L518.30 434.19 L518.51 434.19 L518.70 434.20 L518.90 434.21 L519.09 434.23 L519.27 434.25 L519.46 434.28 L519.64 434.31 L519.82 434.34 L520.00 434.37 L520.18 434.40 L520.36 434.43 L520.54 434.46 L520.72 434.49 L520.89 434.52 L521.07 434.54 L521.25 434.56 L521.43 434.58 L521.61 434.59 L521.80 434.60 L521.98 434.60 L522.17 434.59 L522.36 434.58 L522.55 434.56 L522.75 434.52 L522.95 434.48 L523.16 434.43 L523.37 434.36 L523.58 434.29 L523.80 434.20 L524.02 434.10 L524.25 433.99 L524.48 433.86 L524.72 433.73 L524.96 433.59 L525.20 433.43 L525.44 433.27 L525.69 433.10 L525.94 432.93 L526.19 432.74 L526.45 432.55 L526.70 432.36 L526.96 432.16 L527.22 431.95 L527.48 431.74 L527.74 431.53 L528.01 431.32 L528.27 431.10 L528.53 430.88 L528.80 430.66 L529.06 430.43 L529.32 430.21 L529.59 429.99 L529.85 429.77 L530.11 429.55 L530.37 429.33 L530.63 429.12 L530.89 428.91 L531.15 428.70 L531.40 428.50 L531.65 428.30 L531.91 428.09 L532.17 427.87 L532.43 427.65 L532.69 427.43 L532.96 427.20 L533.22 426.97 L533.48 426.74 L533.75 426.51 L534.01 426.27 L534.28 426.03 L534.55 425.80 L534.81 425.56 L535.07 425.33 L535.34 425.09 L535.60 424.86 L535.86 424.63 L536.12 424.41 L536.38 424.19 L536.63 423.97 L536.88 423.76 L537.13 423.56 L537.38 423.36 L537.62 423.17 L537.86 422.98 L538.10 422.81 L538.33 422.64 L538.56 422.48 L538.78 422.34 L539.00 422.20 L539.21 422.07 L539.41 421.94 L539.60 421.81 L539.79 421.69 L539.96 421.57 L540.13 421.45 L540.29 421.34 L540.45 421.23 L540.60 421.12 L540.75 421.02 L540.89 420.92 L541.04 420.83 L541.18 420.75 L541.33 420.67 L541.48 420.60 L541.62 420.54 L541.77 420.48 L541.93 420.43 L542.09 420.39 L542.25 420.36 L542.42 420.34 L542.60 420.32 L542.79 420.32 L542.98 420.33 L543.19 420.34 L543.41 420.37 L543.63 420.41 L543.88 420.46 L544.13 420.52 L544.40 420.60 L544.68 420.69 L544.97 420.80 L545.28 420.92 L545.59 421.06 L545.91 421.21 L546.24 421.38 L546.58 421.56 L546.92 421.75 L547.28 421.95 L547.64 422.17 L548.00 422.39 L548.38 422.62 L548.75 422.85 L549.14 423.10 L549.52 423.34 L549.92 423.60 L550.31 423.85 L550.71 424.11 L551.11 424.37 L551.52 424.63 L551.93 424.89 L552.33 425.16 L552.74 425.41 L553.15 425.67 L553.56 425.92 L553.97 426.17 L554.38 426.41 L554.79 426.65 L555.20 426.88 L555.60 427.10 L556.01 427.31 L556.41 427.52 L556.83 427.73 L557.24 427.93 L557.66 428.12 L558.08 428.32 L558.51 428.51 L558.94 428.70 L559.37 428.89 L559.80 429.07 L560.23 429.26 L560.67 429.45 L561.11 429.64 L561.55 429.83 L561.99 430.03 L562.43 430.22 L562.87 430.42 L563.31 430.63 L563.76 430.83 L564.20 431.05 L564.64 431.27 L565.09 431.49 L565.53 431.73 L565.97 431.97 L566.41 432.22 L566.85 432.47 L567.29 432.74 L567.73 433.02 L568.17 433.30 L568.60 433.60 L569.03 433.91 L569.47 434.23 L569.91 434.57 L570.35 434.92 L570.80 435.28 L571.24 435.65 L571.69 436.03 L572.13 436.41 L572.58 436.81 L573.03 437.21 L573.48 437.62 L573.92 438.03 L574.37 438.45 L574.82 438.87 L575.26 439.29 L575.71 439.71 L576.15 440.13 L576.59 440.56 L577.02 440.98 L577.46 441.40 L577.89 441.82 L578.32 442.23 L578.74 442.64 L579.17 443.04 L579.58 443.44 L580.00 443.83 L580.41 444.21 L580.81 444.58 L581.21 444.95 L581.60 445.30 L581.99 445.65 L582.37 446.00 L582.76 446.34 L583.14 446.69 L583.51 447.04 L583.88 447.39 L584.26 447.73 L584.62 448.07 L584.99 448.42 L585.35 448.76 L585.71 449.09 L586.06 449.42 L586.42 449.75 L586.77 450.08 L587.11 450.40 L587.46 450.72 L587.80 451.03 L588.14 451.33 L588.47 451.63 L588.81 451.92 L589.14 452.21 L589.47 452.49 L589.79 452.76 L590.12 453.02 L590.44 453.27 L590.75 453.52 L591.07 453.75 L591.38 453.98 L591.69 454.19 L592.00 454.40 L592.30 454.59 L592.60 454.78 L592.89 454.95 L593.17 455.11 L593.44 455.26 L593.72 455.41 L593.98 455.54 L594.24 455.67 L594.50 455.79 L594.76 455.90 L595.01 456.00 L595.26 456.10 L595.51 456.19 L595.75 456.28 L596.00 456.36 L596.25 456.43 L596.49 456.51 L596.74 456.57 L596.99 456.64 L597.24 456.70 L597.50 456.76 L597.76 456.82 L598.02 456.88 L598.28 456.94 L598.56 457.00 L598.83 457.06 L599.11 457.11 L599.40 457.17 L599.70 457.24 L600.00 457.30 L600.31 457.36 L600.62 457.43 L600.94 457.49 L601.27 457.56 L601.59 457.62 L601.93 457.68 L602.26 457.74 L602.60 457.80 L602.94 457.85 L603.29 457.91 L603.64 457.96 L603.99 458.01 L604.34 458.06 L604.69 458.10 L605.05 458.14 L605.41 458.18 L605.77 458.22 L606.12 458.25 L606.48 458.28 L606.84 458.30 L607.20 458.32 L607.56 458.34 L607.92 458.35 L608.28 458.36 L608.64 458.36 L608.99 458.36 L609.35 458.35 L609.70 458.34 L610.05 458.32 L610.40 458.30 L610.75 458.27 L611.09 458.24 L611.44 458.20 L611.79 458.16 L612.13 458.11 L612.48 458.06 L612.83 458.01 L613.17 457.95 L613.52 457.89 L613.87 457.83 L614.21 457.76 L614.56 457.68 L614.91 457.60 L615.25 457.52 L615.60 457.44 L615.95 457.35 L616.29 457.25 L616.64 457.16 L616.99 457.06 L617.33 456.95 L617.68 456.84 L618.03 456.73 L618.37 456.61 L618.72 456.50 L619.07 456.37 L619.41 456.24 L619.76 456.11 L620.11 455.98 L620.45 455.84 L620.80 455.70 L621.15 455.55 L621.50 455.40 L621.85 455.24 L622.20 455.08 L622.55 454.91 L622.91 454.73 L623.26 454.55 L623.62 454.37 L623.98 454.18 L624.33 453.99 L624.69 453.79 L625.05 453.59 L625.40 453.39 L625.76 453.18 L626.11 452.97 L626.47 452.76 L626.82 452.55 L627.17 452.34 L627.52 452.12 L627.87 451.90 L628.21 451.68 L628.56 451.46 L628.90 451.24 L629.24 451.02 L629.57 450.80 L629.90 450.58 L630.23 450.36 L630.56 450.14 L630.88 449.92 L631.20 449.70 L631.52 449.48 L631.83 449.27 L632.14 449.05 L632.45 448.83 L632.76 448.61 L633.06 448.39 L633.36 448.17 L633.66 447.95 L633.96 447.72 L634.26 447.50 L634.55 447.27 L634.85 447.05 L635.14 446.82 L635.43 446.59 L635.71 446.36 L636.00 446.13 L636.28 445.90 L636.56 445.66 L636.84 445.43 L637.12 445.19 L637.39 444.95 L637.67 444.71 L637.94 444.46 L638.21 444.22 L638.48 443.97 L638.75 443.72 L639.01 443.47 L639.28 443.22 L639.54 442.96 L639.80 442.70 L640.06 442.44 L640.31 442.18 L640.57 441.91 L640.81 441.65 L641.06 441.38 L641.30 441.11 L641.55 440.84 L641.78 440.57 L642.02 440.29 L642.26 440.02 L642.49 439.74 L642.72 439.46 L642.95 439.18 L643.18 438.90 L643.41 438.61 L643.63 438.33 L643.86 438.04 L644.08 437.75 L644.31 437.45 L644.53 437.16 L644.76 436.86 L644.98 436.56 L645.21 436.26 L645.43 435.96 L645.66 435.66 L645.88 435.35 L646.11 435.04 L646.34 434.73 L646.57 434.42 L646.80 434.10 L647.03 433.78 L647.26 433.46 L647.49 433.14 L647.73 432.82 L647.96 432.49 L648.19 432.16 L648.42 431.83 L648.65 431.50 L648.88 431.17 L649.11 430.83 L649.34 430.49 L649.57 430.15 L649.80 429.81 L650.03 429.46 L650.26 429.12 L650.49 428.77 L650.72 428.42 L650.94 428.07 L651.17 427.71 L651.40 427.36 L651.63 427.00 L651.86 426.64 L652.09 426.28 L652.32 425.92 L652.55 425.55 L652.78 425.19 L653.01 424.82 L653.24 424.45 L653.47 424.07 L653.70 423.70 L653.93 423.32 L654.16 422.95 L654.39 422.57 L654.62 422.19 L654.85 421.80 L655.08 421.42 L655.31 421.03 L655.54 420.64 L655.77 420.25 L656.00 419.86 L656.23 419.46 L656.46 419.07 L656.69 418.67 L656.92 418.27 L657.15 417.87 L657.38 417.46 L657.61 417.06 L657.84 416.65 L658.07 416.24 L658.30 415.83 L658.53 415.42 L658.76 415.00 L658.99 414.58 L659.22 414.16 L659.45 413.74 L659.68 413.32 L659.91 412.89 L660.14 412.46 L660.37 412.03 L660.60 411.60 L660.83 411.16 L661.06 410.72 L661.30 410.28 L661.53 409.83 L661.77 409.38 L662.01 408.92 L662.25 408.46 L662.48 408.00 L662.72 407.53 L662.96 407.07 L663.20 406.60 L663.44 406.13 L663.68 405.65 L663.92 405.18 L664.16 404.71 L664.39 404.23 L664.63 403.76 L664.86 403.28 L665.10 402.81 L665.33 402.33 L665.55 401.86 L665.78 401.39 L666.01 400.92 L666.23 400.45 L666.45 399.99 L666.67 399.52 L666.88 399.06 L667.09 398.60 L667.30 398.15 L667.50 397.70 L667.70 397.25 L667.90 396.81 L668.09 396.36 L668.29 395.92 L668.48 395.48 L668.66 395.04 L668.85 394.60 L669.03 394.16 L669.21 393.72 L669.39 393.29 L669.57 392.85 L669.75 392.42 L669.92 391.99 L670.09 391.56 L670.26 391.12 L670.43 390.69 L670.60 390.26 L670.77 389.84 L670.93 389.41 L671.10 388.98 L671.26 388.55 L671.42 388.12 L671.58 387.69 L671.74 387.27 L671.91 386.84 L672.06 386.41 L672.22 385.98 L672.38 385.56 L672.54 385.13 L672.70 384.70 L672.86 384.27 L673.02 383.82 L673.19 383.36 L673.35 382.89 L673.52 382.42 L673.69 381.94 L673.85 381.45 L674.02 380.96 L674.19 380.47 L674.36 379.97 L674.53 379.48 L674.69 378.99 L674.85 378.50 L675.02 378.02 L675.18 377.54 L675.33 377.07 L675.48 376.60 L675.63 376.15 L675.78 375.71 L675.92 375.28 L676.05 374.87 L676.19 374.47 L676.31 374.09 L676.43 373.72 L676.54 373.38 L676.65 373.06 L676.75 372.75 L676.84 372.48 L676.92 372.23 L677.00 372.00" stroke="#e8383f" stroke-width="1.00" fill="none" stroke-linecap="round" stroke-linejoin="round"/><g fill="#e8383f"><circle cx="465.5" cy="509.6" r="2.40"/><circle cx="467.1" cy="509.1" r="2.40"/><circle cx="468.7" cy="508.7" r="2.40"/><circle cx="470.3" cy="508.2" r="2.40"/><circle cx="471.9" cy="507.7" r="2.40"/><circle cx="473.5" cy="507.1" r="2.40"/><circle cx="475.1" cy="506.3" r="2.40"/><circle cx="476.7" cy="505.4" r="2.40"/><circle cx="478.3" cy="504.3" r="2.40"/><circle cx="479.9" cy="503.0" r="2.40"/><circle cx="481.5" cy="501.5" r="2.40"/><circle cx="483.1" cy="499.6" r="2.40"/><circle cx="484.7" cy="497.2" r="2.40"/><circle cx="486.3" cy="493.9" r="2.40"/><circle cx="487.9" cy="490.2" r="2.40"/><circle cx="489.5" cy="486.4" r="2.40"/><circle cx="491.1" cy="482.3" r="2.40"/><circle cx="492.7" cy="477.8" r="2.40"/><circle cx="494.3" cy="473.0" r="2.40"/><circle cx="495.9" cy="467.9" r="2.40"/><circle cx="497.5" cy="462.4" r="2.40"/><circle cx="499.1" cy="456.1" r="2.40"/><circle cx="500.7" cy="449.9" r="2.40"/><circle cx="502.3" cy="445.7" r="2.40"/><circle cx="503.9" cy="442.4" r="2.40"/><circle cx="505.5" cy="439.8" r="2.40"/><circle cx="507.1" cy="437.8" r="2.40"/><circle cx="508.7" cy="436.4" r="2.40"/><circle cx="510.3" cy="435.3" r="2.40"/><circle cx="511.9" cy="434.6" r="2.40"/><circle cx="513.5" cy="434.3" r="2.40"/><circle cx="515.1" cy="434.2" r="2.40"/><circle cx="516.7" cy="434.2" r="2.40"/><circle cx="518.3" cy="434.2" r="2.40"/><circle cx="519.9" cy="434.3" r="2.40"/><circle cx="521.5" cy="434.6" r="2.40"/><circle cx="523.1" cy="434.4" r="2.40"/><circle cx="524.7" cy="433.7" r="2.40"/><circle cx="526.3" cy="432.7" r="2.40"/><circle cx="527.9" cy="431.4" r="2.40"/><circle cx="529.5" cy="430.1" r="2.40"/><circle cx="531.1" cy="428.7" r="2.40"/><circle cx="532.7" cy="427.4" r="2.40"/><circle cx="534.3" cy="426.0" r="2.40"/><circle cx="535.9" cy="424.6" r="2.40"/><circle cx="537.5" cy="423.3" r="2.40"/><circle cx="539.1" cy="422.1" r="2.40"/><circle cx="540.7" cy="421.1" r="2.40"/><circle cx="542.3" cy="420.4" r="2.40"/><circle cx="543.9" cy="420.5" r="2.40"/><circle cx="545.5" cy="421.0" r="2.40"/><circle cx="547.1" cy="421.9" r="2.40"/><circle cx="548.7" cy="422.8" r="2.40"/><circle cx="550.3" cy="423.8" r="2.40"/><circle cx="551.9" cy="424.9" r="2.40"/><circle cx="553.5" cy="425.9" r="2.40"/><circle cx="555.1" cy="426.8" r="2.40"/><circle cx="556.7" cy="427.7" r="2.40"/><circle cx="558.3" cy="428.4" r="2.40"/><circle cx="559.9" cy="429.1" r="2.40"/><circle cx="561.5" cy="429.8" r="2.40"/><circle cx="563.1" cy="430.5" r="2.40"/><circle cx="564.7" cy="431.3" r="2.40"/><circle cx="566.3" cy="432.2" r="2.40"/><circle cx="567.9" cy="433.1" r="2.40"/><circle cx="569.5" cy="434.3" r="2.40"/><circle cx="571.1" cy="435.5" r="2.40"/><circle cx="572.7" cy="436.9" r="2.40"/><circle cx="574.3" cy="438.4" r="2.40"/><circle cx="575.9" cy="439.9" r="2.40"/><circle cx="577.5" cy="441.4" r="2.40"/><circle cx="579.1" cy="443.0" r="2.40"/><circle cx="580.7" cy="444.5" r="2.40"/><circle cx="582.3" cy="445.9" r="2.40"/><circle cx="583.9" cy="447.4" r="2.40"/><circle cx="585.5" cy="448.9" r="2.40"/><circle cx="587.1" cy="450.4" r="2.40"/><circle cx="588.7" cy="451.8" r="2.40"/><circle cx="590.3" cy="453.2" r="2.40"/><circle cx="591.9" cy="454.3" r="2.40"/><circle cx="593.5" cy="455.3" r="2.40"/><circle cx="595.1" cy="456.0" r="2.40"/><circle cx="596.7" cy="456.6" r="2.40"/><circle cx="598.3" cy="456.9" r="2.40"/><circle cx="599.9" cy="457.3" r="2.40"/><circle cx="601.5" cy="457.6" r="2.40"/><circle cx="603.1" cy="457.9" r="2.40"/><circle cx="604.7" cy="458.1" r="2.40"/><circle cx="606.3" cy="458.3" r="2.40"/><circle cx="607.9" cy="458.4" r="2.40"/><circle cx="609.5" cy="458.3" r="2.40"/><circle cx="611.1" cy="458.2" r="2.40"/><circle cx="612.7" cy="458.0" r="2.40"/><circle cx="614.3" cy="457.7" r="2.40"/><circle cx="615.9" cy="457.4" r="2.40"/><circle cx="617.5" cy="456.9" r="2.40"/><circle cx="619.1" cy="456.4" r="2.40"/><circle cx="620.7" cy="455.7" r="2.40"/><circle cx="622.3" cy="455.0" r="2.40"/><circle cx="623.9" cy="454.2" r="2.40"/><circle cx="625.5" cy="453.3" r="2.40"/><circle cx="627.1" cy="452.4" r="2.40"/><circle cx="628.7" cy="451.4" r="2.40"/><circle cx="630.3" cy="450.3" r="2.40"/><circle cx="631.9" cy="449.2" r="2.40"/><circle cx="633.5" cy="448.1" r="2.40"/><circle cx="635.1" cy="446.9" r="2.40"/><circle cx="636.7" cy="445.5" r="2.40"/><circle cx="638.3" cy="444.1" r="2.40"/><circle cx="639.9" cy="442.6" r="2.40"/><circle cx="641.5" cy="440.9" r="2.40"/><circle cx="643.1" cy="439.0" r="2.40"/><circle cx="644.7" cy="436.9" r="2.40"/><circle cx="646.3" cy="434.8" r="2.40"/><circle cx="647.9" cy="432.6" r="2.40"/><circle cx="649.5" cy="430.3" r="2.40"/><circle cx="651.1" cy="427.8" r="2.40"/><circle cx="652.7" cy="425.3" r="2.40"/><circle cx="654.3" cy="422.7" r="2.40"/><circle cx="655.9" cy="420.0" r="2.40"/><circle cx="657.5" cy="417.3" r="2.40"/><circle cx="659.1" cy="414.4" r="2.40"/><circle cx="660.7" cy="411.4" r="2.40"/><circle cx="662.3" cy="408.4" r="2.40"/><circle cx="663.9" cy="405.2" r="2.40"/><circle cx="665.5" cy="402.0" r="2.40"/><circle cx="667.1" cy="398.6" r="2.40"/><circle cx="668.7" cy="395.0" r="2.40"/><circle cx="670.3" cy="391.0" r="2.40"/><circle cx="671.9" cy="386.9" r="2.40"/><circle cx="673.5" cy="382.5" r="2.40"/><circle cx="675.1" cy="377.8" r="2.40"/><circle cx="676.7" cy="372.9" r="2.40"/></g><g fill="#fdeaea"><circle cx="465.5" cy="509.6" r="0.70"/><circle cx="467.1" cy="509.1" r="0.70"/><circle cx="468.7" cy="508.7" r="0.70"/><circle cx="470.3" cy="508.2" r="0.70"/><circle cx="471.9" cy="507.7" r="0.70"/><circle cx="473.5" cy="507.1" r="0.70"/><circle cx="475.1" cy="506.3" r="0.70"/><circle cx="476.7" cy="505.4" r="0.70"/><circle cx="478.3" cy="504.3" r="0.70"/><circle cx="479.9" cy="503.0" r="0.70"/><circle cx="481.5" cy="501.5" r="0.70"/><circle cx="483.1" cy="499.6" r="0.70"/><circle cx="484.7" cy="497.2" r="0.70"/><circle cx="486.3" cy="493.9" r="0.70"/><circle cx="487.9" cy="490.2" r="0.70"/><circle cx="489.5" cy="486.4" r="0.70"/><circle cx="491.1" cy="482.3" r="0.70"/><circle cx="492.7" cy="477.8" r="0.70"/><circle cx="494.3" cy="473.0" r="0.70"/><circle cx="495.9" cy="467.9" r="0.70"/><circle cx="497.5" cy="462.4" r="0.70"/><circle cx="499.1" cy="456.1" r="0.70"/><circle cx="500.7" cy="449.9" r="0.70"/><circle cx="502.3" cy="445.7" r="0.70"/><circle cx="503.9" cy="442.4" r="0.70"/><circle cx="505.5" cy="439.8" r="0.70"/><circle cx="507.1" cy="437.8" r="0.70"/><circle cx="508.7" cy="436.4" r="0.70"/><circle cx="510.3" cy="435.3" r="0.70"/><circle cx="511.9" cy="434.6" r="0.70"/><circle cx="513.5" cy="434.3" r="0.70"/><circle cx="515.1" cy="434.2" r="0.70"/><circle cx="516.7" cy="434.2" r="0.70"/><circle cx="518.3" cy="434.2" r="0.70"/><circle cx="519.9" cy="434.3" r="0.70"/><circle cx="521.5" cy="434.6" r="0.70"/><circle cx="523.1" cy="434.4" r="0.70"/><circle cx="524.7" cy="433.7" r="0.70"/><circle cx="526.3" cy="432.7" r="0.70"/><circle cx="527.9" cy="431.4" r="0.70"/><circle cx="529.5" cy="430.1" r="0.70"/><circle cx="531.1" cy="428.7" r="0.70"/><circle cx="532.7" cy="427.4" r="0.70"/><circle cx="534.3" cy="426.0" r="0.70"/><circle cx="535.9" cy="424.6" r="0.70"/><circle cx="537.5" cy="423.3" r="0.70"/><circle cx="539.1" cy="422.1" r="0.70"/><circle cx="540.7" cy="421.1" r="0.70"/><circle cx="542.3" cy="420.4" r="0.70"/><circle cx="543.9" cy="420.5" r="0.70"/><circle cx="545.5" cy="421.0" r="0.70"/><circle cx="547.1" cy="421.9" r="0.70"/><circle cx="548.7" cy="422.8" r="0.70"/><circle cx="550.3" cy="423.8" r="0.70"/><circle cx="551.9" cy="424.9" r="0.70"/><circle cx="553.5" cy="425.9" r="0.70"/><circle cx="555.1" cy="426.8" r="0.70"/><circle cx="556.7" cy="427.7" r="0.70"/><circle cx="558.3" cy="428.4" r="0.70"/><circle cx="559.9" cy="429.1" r="0.70"/><circle cx="561.5" cy="429.8" r="0.70"/><circle cx="563.1" cy="430.5" r="0.70"/><circle cx="564.7" cy="431.3" r="0.70"/><circle cx="566.3" cy="432.2" r="0.70"/><circle cx="567.9" cy="433.1" r="0.70"/><circle cx="569.5" cy="434.3" r="0.70"/><circle cx="571.1" cy="435.5" r="0.70"/><circle cx="572.7" cy="436.9" r="0.70"/><circle cx="574.3" cy="438.4" r="0.70"/><circle cx="575.9" cy="439.9" r="0.70"/><circle cx="577.5" cy="441.4" r="0.70"/><circle cx="579.1" cy="443.0" r="0.70"/><circle cx="580.7" cy="444.5" r="0.70"/><circle cx="582.3" cy="445.9" r="0.70"/><circle cx="583.9" cy="447.4" r="0.70"/><circle cx="585.5" cy="448.9" r="0.70"/><circle cx="587.1" cy="450.4" r="0.70"/><circle cx="588.7" cy="451.8" r="0.70"/><circle cx="590.3" cy="453.2" r="0.70"/><circle cx="591.9" cy="454.3" r="0.70"/><circle cx="593.5" cy="455.3" r="0.70"/><circle cx="595.1" cy="456.0" r="0.70"/><circle cx="596.7" cy="456.6" r="0.70"/><circle cx="598.3" cy="456.9" r="0.70"/><circle cx="599.9" cy="457.3" r="0.70"/><circle cx="601.5" cy="457.6" r="0.70"/><circle cx="603.1" cy="457.9" r="0.70"/><circle cx="604.7" cy="458.1" r="0.70"/><circle cx="606.3" cy="458.3" r="0.70"/><circle cx="607.9" cy="458.4" r="0.70"/><circle cx="609.5" cy="458.3" r="0.70"/><circle cx="611.1" cy="458.2" r="0.70"/><circle cx="612.7" cy="458.0" r="0.70"/><circle cx="614.3" cy="457.7" r="0.70"/><circle cx="615.9" cy="457.4" r="0.70"/><circle cx="617.5" cy="456.9" r="0.70"/><circle cx="619.1" cy="456.4" r="0.70"/><circle cx="620.7" cy="455.7" r="0.70"/><circle cx="622.3" cy="455.0" r="0.70"/><circle cx="623.9" cy="454.2" r="0.70"/><circle cx="625.5" cy="453.3" r="0.70"/><circle cx="627.1" cy="452.4" r="0.70"/><circle cx="628.7" cy="451.4" r="0.70"/><circle cx="630.3" cy="450.3" r="0.70"/><circle cx="631.9" cy="449.2" r="0.70"/><circle cx="633.5" cy="448.1" r="0.70"/><circle cx="635.1" cy="446.9" r="0.70"/><circle cx="636.7" cy="445.5" r="0.70"/><circle cx="638.3" cy="444.1" r="0.70"/><circle cx="639.9" cy="442.6" r="0.70"/><circle cx="641.5" cy="440.9" r="0.70"/><circle cx="643.1" cy="439.0" r="0.70"/><circle cx="644.7" cy="436.9" r="0.70"/><circle cx="646.3" cy="434.8" r="0.70"/><circle cx="647.9" cy="432.6" r="0.70"/><circle cx="649.5" cy="430.3" r="0.70"/><circle cx="651.1" cy="427.8" r="0.70"/><circle cx="652.7" cy="425.3" r="0.70"/><circle cx="654.3" cy="422.7" r="0.70"/><circle cx="655.9" cy="420.0" r="0.70"/><circle cx="657.5" cy="417.3" r="0.70"/><circle cx="659.1" cy="414.4" r="0.70"/><circle cx="660.7" cy="411.4" r="0.70"/><circle cx="662.3" cy="408.4" r="0.70"/><circle cx="663.9" cy="405.2" r="0.70"/><circle cx="665.5" cy="402.0" r="0.70"/><circle cx="667.1" cy="398.6" r="0.70"/><circle cx="668.7" cy="395.0" r="0.70"/><circle cx="670.3" cy="391.0" r="0.70"/><circle cx="671.9" cy="386.9" r="0.70"/><circle cx="673.5" cy="382.5" r="0.70"/><circle cx="675.1" cy="377.8" r="0.70"/><circle cx="676.7" cy="372.9" r="0.70"/></g></g><g clip-path="url(#clipD)"><path d="M492.40 509.60 L492.54 509.25 L492.71 508.84 L492.92 508.38 L493.15 507.86 L493.40 507.30 L493.66 506.69 L493.94 506.05 L494.23 505.38 L494.52 504.68 L494.81 503.97 L495.10 503.23 L495.37 502.49 L495.64 501.74 L495.88 500.98 L496.10 500.24 L496.30 499.50 L496.47 498.76 L496.63 497.99 L496.78 497.20 L496.92 496.40 L497.05 495.58 L497.17 494.75 L497.28 493.90 L497.39 493.05 L497.49 492.19 L497.59 491.33 L497.69 490.46 L497.79 489.60 L497.88 488.74 L497.99 487.88 L498.09 487.04 L498.20 486.20 L498.31 485.36 L498.42 484.51 L498.54 483.64 L498.65 482.77 L498.76 481.90 L498.87 481.02 L498.98 480.14 L499.09 479.27 L499.19 478.41 L499.30 477.57 L499.41 476.73 L499.51 475.92 L499.61 475.12 L499.71 474.35 L499.81 473.61 L499.90 472.90 L499.99 472.23 L500.09 471.59 L500.18 470.99 L500.27 470.41 L500.37 469.86 L500.46 469.33 L500.54 468.81 L500.63 468.31 L500.72 467.80 L500.80 467.30 L500.87 466.79 L500.95 466.27 L501.02 465.74 L501.08 465.18 L501.14 464.61 L501.20 464.00 L501.25 463.37 L501.29 462.73 L501.32 462.08 L501.35 461.42 L501.38 460.75 L501.40 460.07 L501.42 459.39 L501.43 458.69 L501.45 457.99 L501.46 457.29 L501.48 456.58 L501.49 455.87 L501.51 455.15 L501.54 454.44 L501.57 453.72 L501.60 453.00 L501.64 452.28 L501.68 451.54 L501.73 450.80 L501.77 450.05 L501.82 449.29 L501.87 448.53 L501.92 447.77 L501.98 447.00 L502.03 446.23 L502.08 445.47 L502.14 444.71 L502.19 443.95 L502.24 443.20 L502.30 442.46 L502.35 441.72 L502.40 441.00 L502.45 440.28 L502.50 439.57 L502.56 438.87 L502.61 438.16 L502.66 437.47 L502.72 436.77 L502.77 436.08 L502.82 435.39 L502.88 434.71 L502.93 434.03 L502.98 433.35 L503.03 432.68 L503.07 432.00 L503.12 431.33 L503.16 430.67 L503.20 430.00 L503.24 429.34 L503.27 428.68 L503.29 428.04 L503.32 427.39 L503.34 426.76 L503.36 426.12 L503.38 425.49 L503.39 424.86 L503.41 424.22 L503.43 423.59 L503.45 422.95 L503.47 422.31 L503.50 421.67 L503.53 421.02 L503.56 420.36 L503.60 419.70 L503.64 419.03 L503.69 418.35 L503.74 417.68 L503.80 416.99 L503.86 416.31 L503.92 415.62 L503.99 414.93 L504.05 414.23 L504.11 413.53 L504.18 412.83 L504.24 412.13 L504.30 411.43 L504.36 410.72 L504.41 410.02 L504.46 409.31 L504.50 408.60 L504.54 407.89 L504.57 407.17 L504.61 406.45 L504.64 405.72 L504.66 405.00 L504.69 404.26 L504.71 403.53 L504.73 402.80 L504.75 402.07 L504.77 401.34 L504.79 400.60 L504.81 399.88 L504.83 399.15 L504.85 398.43 L504.88 397.71 L504.90 397.00 L504.92 396.29 L504.95 395.58 L504.97 394.87 L504.99 394.16 L505.01 393.46 L505.03 392.75 L505.05 392.05 L505.07 391.35 L505.09 390.65 L505.11 389.96 L505.14 389.27 L505.16 388.59 L505.19 387.91 L505.23 387.23 L505.26 386.56 L505.30 385.90 L505.34 385.24 L505.39 384.59 L505.44 383.93 L505.49 383.28 L505.55 382.63 L505.61 381.99 L505.67 381.35 L505.73 380.72 L505.79 380.09 L505.86 379.47 L505.92 378.86 L505.98 378.25 L506.04 377.65 L506.09 377.06 L506.15 376.47 L506.20 375.90 L506.25 375.34 L506.30 374.78 L506.35 374.23 L506.40 373.69 L506.44 373.16 L506.49 372.64 L506.54 372.12 L506.58 371.61 L506.63 371.10 L506.67 370.60 L506.71 370.11 L506.75 369.62 L506.79 369.13 L506.83 368.65 L506.86 368.17 L506.90 367.70 L506.93 367.23 L506.96 366.77 L506.99 366.30 L507.01 365.85 L507.03 365.40 L507.05 364.95 L507.07 364.51 L507.09 364.07 L507.11 363.64 L507.13 363.22 L507.15 362.80 L507.17 362.39 L507.20 361.98 L507.23 361.58 L507.26 361.19 L507.30 360.80 L507.34 360.42 L507.39 360.03 L507.43 359.65 L507.48 359.26 L507.53 358.89 L507.58 358.52 L507.64 358.15 L507.69 357.79 L507.75 357.45 L507.81 357.11 L507.87 356.79 L507.94 356.48 L508.00 356.18 L508.06 355.90 L508.13 355.64 L508.20 355.40 L508.27 355.18 L508.35 354.97 L508.44 354.79 L508.53 354.61 L508.62 354.46 L508.72 354.31 L508.81 354.18 L508.91 354.06 L509.00 353.95 L509.09 353.85 L509.18 353.76 L509.26 353.68 L509.33 353.60 L509.40 353.53 L509.45 353.46 L509.50 353.40" stroke="#4dba6b" stroke-width="1.5" fill="none"/><g fill="#4dba6b"><circle cx="492.4" cy="509.6" r="2.60"/><circle cx="496.3" cy="499.5" r="2.60"/><circle cx="498.2" cy="486.2" r="2.60"/><circle cx="499.9" cy="472.9" r="2.60"/><circle cx="501.2" cy="464.0" r="2.60"/><circle cx="501.6" cy="453.0" r="2.60"/><circle cx="502.4" cy="441.0" r="2.60"/><circle cx="503.2" cy="430.0" r="2.60"/><circle cx="503.6" cy="419.7" r="2.60"/><circle cx="504.5" cy="408.6" r="2.60"/><circle cx="504.9" cy="397.0" r="2.60"/><circle cx="505.3" cy="385.9" r="2.60"/><circle cx="506.2" cy="375.9" r="2.60"/><circle cx="506.9" cy="367.7" r="2.60"/><circle cx="507.3" cy="360.8" r="2.60"/><circle cx="508.2" cy="355.4" r="2.60"/><circle cx="509.5" cy="353.4" r="2.60"/></g><g fill="#f0faf3"><circle cx="492.4" cy="509.6" r="0.40"/><circle cx="496.3" cy="499.5" r="0.40"/><circle cx="498.2" cy="486.2" r="0.40"/><circle cx="499.9" cy="472.9" r="0.40"/><circle cx="501.2" cy="464.0" r="0.40"/><circle cx="501.6" cy="453.0" r="0.40"/><circle cx="502.4" cy="441.0" r="0.40"/><circle cx="503.2" cy="430.0" r="0.40"/><circle cx="503.6" cy="419.7" r="0.40"/><circle cx="504.5" cy="408.6" r="0.40"/><circle cx="504.9" cy="397.0" r="0.40"/><circle cx="505.3" cy="385.9" r="0.40"/><circle cx="506.2" cy="375.9" r="0.40"/><circle cx="506.9" cy="367.7" r="0.40"/><circle cx="507.3" cy="360.8" r="0.40"/><circle cx="508.2" cy="355.4" r="0.40"/><circle cx="509.5" cy="353.4" r="0.40"/></g></g><g clip-path="url(#clipD)"><path d="M509.50 353.40 L509.52 353.42 L509.55 353.44 L509.58 353.47 L509.62 353.49 L509.65 353.52 L509.69 353.54 L509.73 353.57 L509.78 353.60 L509.82 353.63 L509.87 353.66 L509.92 353.70 L509.97 353.73 L510.02 353.77 L510.07 353.80 L510.12 353.84 L510.18 353.89 L510.23 353.93 L510.28 353.97 L510.33 354.02 L510.39 354.07 L510.44 354.12 L510.48 354.18 L510.53 354.23 L510.58 354.29 L510.62 354.35 L510.66 354.42 L510.70 354.48 L510.74 354.55 L510.77 354.62 L510.80 354.70 L510.83 354.78 L510.85 354.86 L510.88 354.94 L510.90 355.03 L510.92 355.12 L510.94 355.21 L510.96 355.31 L510.98 355.41 L510.99 355.51 L511.01 355.61 L511.02 355.71 L511.03 355.82 L511.05 355.93 L511.06 356.04 L511.07 356.15 L511.08 356.26 L511.09 356.38 L511.10 356.50 L511.11 356.62 L511.11 356.74 L511.12 356.86 L511.13 356.98 L511.14 357.11 L511.15 357.23 L511.16 357.36 L511.16 357.48 L511.17 357.61 L511.18 357.74 L511.19 357.87 L511.20 358.00 L511.21 358.13 L511.22 358.26 L511.22 358.40 L511.23 358.53 L511.23 358.67 L511.24 358.81 L511.24 358.95 L511.24 359.10 L511.24 359.24 L511.24 359.39 L511.24 359.53 L511.24 359.68 L511.24 359.83 L511.24 359.98 L511.24 360.13 L511.25 360.28 L511.25 360.44 L511.25 360.59 L511.25 360.75 L511.26 360.90 L511.27 361.06 L511.27 361.22 L511.28 361.38 L511.29 361.54 L511.31 361.70 L511.32 361.86 L511.34 362.02 L511.36 362.18 L511.38 362.34 L511.40 362.50 L511.43 362.66 L511.46 362.83 L511.49 362.99 L511.52 363.16 L511.56 363.33 L511.60 363.50 L511.64 363.67 L511.68 363.85 L511.73 364.02 L511.77 364.20 L511.82 364.37 L511.87 364.55 L511.92 364.73 L511.97 364.90 L512.02 365.08 L512.07 365.26 L512.12 365.44 L512.17 365.62 L512.22 365.79 L512.27 365.97 L512.32 366.15 L512.37 366.32 L512.41 366.50 L512.46 366.67 L512.51 366.85 L512.55 367.02 L512.59 367.19 L512.63 367.36 L512.67 367.53 L512.70 367.70 L512.73 367.87 L512.76 368.03 L512.79 368.20 L512.82 368.36 L512.85 368.52 L512.88 368.68 L512.91 368.84 L512.93 369.00 L512.96 369.16 L512.98 369.32 L513.01 369.48 L513.03 369.64 L513.05 369.80 L513.07 369.95 L513.09 370.11 L513.11 370.27 L513.14 370.43 L513.16 370.58 L513.18 370.74 L513.20 370.90 L513.22 371.06 L513.24 371.22 L513.26 371.37 L513.28 371.53 L513.30 371.69 L513.32 371.85 L513.34 372.01 L513.36 372.18 L513.38 372.34 L513.40 372.50 L513.42 372.66 L513.44 372.83 L513.46 372.99 L513.49 373.16 L513.51 373.33 L513.53 373.50 L513.55 373.66 L513.57 373.83 L513.59 374.00 L513.61 374.17 L513.64 374.34 L513.66 374.51 L513.68 374.68 L513.70 374.85 L513.72 375.02 L513.74 375.19 L513.76 375.36 L513.78 375.53 L513.80 375.69 L513.82 375.86 L513.84 376.03 L513.86 376.20 L513.88 376.36 L513.89 376.53 L513.91 376.69 L513.93 376.86 L513.95 377.02 L513.97 377.18 L513.98 377.34 L514.00 377.50 L514.02 377.66 L514.03 377.81 L514.05 377.97 L514.06 378.12 L514.08 378.28 L514.09 378.43 L514.10 378.58 L514.12 378.73 L514.13 378.88 L514.14 379.03 L514.16 379.18 L514.17 379.33 L514.18 379.48 L514.19 379.63 L514.21 379.78 L514.22 379.92 L514.23 380.07 L514.24 380.22 L514.25 380.36 L514.27 380.51 L514.28 380.66 L514.29 380.81 L514.30 380.95 L514.32 381.10 L514.33 381.25 L514.34 381.40 L514.36 381.55 L514.37 381.70 L514.39 381.85 L514.40 382.00 L514.41 382.15 L514.43 382.30 L514.44 382.45 L514.46 382.60 L514.47 382.75 L514.48 382.90 L514.50 383.05 L514.51 383.20 L514.52 383.35 L514.54 383.50 L514.55 383.65 L514.56 383.80 L514.58 383.95 L514.59 384.11 L514.61 384.26 L514.62 384.41 L514.64 384.56 L514.65 384.71 L514.67 384.86 L514.69 385.02 L514.70 385.17 L514.72 385.33 L514.74 385.48 L514.76 385.64 L514.78 385.80 L514.80 385.96 L514.83 386.12 L514.85 386.28 L514.87 386.44 L514.90 386.60 L514.93 386.76 L514.96 386.93 L514.98 387.10 L515.02 387.27 L515.05 387.45 L515.08 387.62 L515.11 387.80 L515.15 387.98 L515.18 388.16 L515.21 388.34 L515.25 388.52 L515.29 388.70 L515.32 388.89 L515.36 389.07 L515.40 389.25 L515.44 389.43 L515.48 389.61 L515.52 389.79 L515.56 389.97 L515.60 390.15 L515.64 390.32 L515.68 390.50 L515.72 390.67 L515.76 390.84 L515.80 391.01 L515.84 391.17 L515.88 391.33 L515.92 391.49 L515.96 391.65 L516.00 391.80 L516.04 391.95 L516.08 392.09 L516.12 392.24 L516.16 392.38 L516.21 392.51 L516.25 392.65 L516.29 392.78 L516.33 392.91 L516.38 393.04 L516.42 393.17 L516.46 393.29 L516.51 393.42 L516.55 393.54 L516.59 393.66 L516.64 393.78 L516.68 393.90 L516.73 394.02 L516.77 394.14 L516.81 394.26 L516.86 394.38 L516.90 394.50 L516.95 394.62 L516.99 394.74 L517.04 394.86 L517.08 394.98 L517.13 395.10 L517.17 395.22 L517.21 395.35 L517.26 395.47 L517.30 395.60 L517.34 395.73 L517.39 395.86 L517.43 395.98 L517.47 396.11 L517.52 396.24 L517.56 396.36 L517.60 396.49 L517.65 396.61 L517.69 396.74 L517.73 396.87 L517.78 396.99 L517.82 397.12 L517.86 397.25 L517.91 397.37 L517.95 397.50 L517.99 397.63 L518.04 397.76 L518.08 397.88 L518.12 398.01 L518.17 398.14 L518.21 398.28 L518.25 398.41 L518.30 398.54 L518.34 398.67 L518.38 398.81 L518.43 398.94 L518.47 399.08 L518.51 399.22 L518.56 399.36 L518.60 399.50 L518.64 399.64 L518.69 399.79 L518.73 399.93 L518.77 400.08 L518.82 400.23 L518.86 400.38 L518.90 400.53 L518.95 400.68 L518.99 400.83 L519.03 400.99 L519.08 401.14 L519.12 401.29 L519.16 401.45 L519.21 401.61 L519.25 401.76 L519.29 401.92 L519.34 402.08 L519.38 402.23 L519.42 402.39 L519.47 402.55 L519.51 402.71 L519.55 402.86 L519.60 403.02 L519.64 403.18 L519.68 403.33 L519.73 403.49 L519.77 403.64 L519.81 403.79 L519.86 403.95 L519.90 404.10 L519.94 404.25 L519.99 404.40 L520.03 404.56 L520.08 404.71 L520.12 404.86 L520.16 405.02 L520.21 405.17 L520.25 405.32 L520.30 405.48 L520.34 405.63 L520.39 405.78 L520.43 405.94 L520.48 406.09 L520.52 406.24 L520.57 406.39 L520.61 406.55 L520.66 406.70 L520.70 406.85 L520.75 407.00 L520.79 407.15 L520.83 407.30 L520.87 407.45 L520.92 407.59 L520.96 407.74 L521.00 407.89 L521.04 408.03 L521.08 408.17 L521.12 408.32 L521.16 408.46 L521.20 408.60 L521.24 408.74 L521.28 408.87 L521.31 409.01 L521.35 409.14 L521.39 409.27 L521.42 409.39 L521.46 409.52 L521.50 409.64 L521.53 409.76 L521.57 409.89 L521.60 410.01 L521.64 410.13 L521.67 410.25 L521.70 410.37 L521.74 410.49 L521.77 410.61 L521.80 410.73 L521.84 410.85 L521.87 410.98 L521.90 411.10 L521.93 411.23 L521.96 411.36 L521.99 411.49 L522.02 411.63 L522.05 411.76 L522.08 411.90 L522.11 412.05 L522.14 412.19 L522.17 412.35 L522.20 412.50 L522.23 412.66 L522.25 412.81 L522.28 412.96 L522.31 413.11 L522.33 413.26 L522.36 413.41 L522.38 413.56 L522.40 413.71 L522.43 413.86 L522.45 414.01 L522.47 414.16 L522.49 414.32 L522.51 414.48 L522.53 414.64 L522.56 414.81 L522.58 414.98 L522.60 415.15 L522.62 415.33 L522.64 415.51 L522.66 415.70 L522.68 415.90 L522.71 416.10 L522.73 416.31 L522.75 416.52 L522.78 416.75 L522.80 416.98 L522.82 417.22 L522.85 417.47 L522.87 417.73 L522.90 418.00 L522.93 418.28 L522.95 418.58 L522.98 418.88 L523.01 419.20 L523.03 419.53 L523.06 419.86 L523.08 420.21 L523.11 420.57 L523.14 420.93 L523.16 421.30 L523.19 421.67 L523.22 422.05 L523.24 422.44 L523.27 422.83 L523.30 423.22 L523.33 423.61 L523.36 424.01 L523.39 424.41 L523.42 424.81 L523.45 425.20 L523.48 425.60 L523.51 425.99 L523.54 426.39 L523.58 426.78 L523.61 427.16 L523.65 427.54 L523.68 427.92 L523.72 428.28 L523.76 428.65 L523.80 429.00 L523.84 429.35 L523.88 429.70 L523.93 430.04 L523.97 430.39 L524.02 430.73 L524.06 431.08 L524.11 431.42 L524.16 431.76 L524.21 432.10 L524.26 432.44 L524.31 432.78 L524.36 433.12 L524.41 433.45 L524.47 433.79 L524.52 434.12 L524.57 434.45 L524.63 434.78 L524.68 435.11 L524.73 435.44 L524.79 435.77 L524.84 436.10 L524.89 436.42 L524.94 436.75 L525.00 437.07 L525.05 437.40 L525.10 437.72 L525.15 438.04 L525.20 438.36 L525.25 438.68 L525.30 439.00 L525.35 439.31 L525.40 439.62 L525.44 439.92 L525.49 440.21 L525.53 440.50 L525.58 440.78 L525.62 441.06 L525.67 441.33 L525.71 441.60 L525.76 441.87 L525.80 442.14 L525.84 442.41 L525.89 442.68 L525.93 442.95 L525.98 443.22 L526.02 443.50 L526.06 443.78 L526.11 444.06 L526.15 444.35 L526.20 444.65 L526.25 444.95 L526.29 445.26 L526.34 445.58 L526.39 445.90 L526.44 446.24 L526.49 446.59 L526.54 446.95 L526.59 447.32 L526.65 447.70 L526.70 448.10 L526.76 448.51 L526.81 448.94 L526.87 449.37 L526.92 449.82 L526.98 450.28 L527.03 450.75 L527.09 451.23 L527.15 451.71 L527.20 452.21 L527.26 452.71 L527.32 453.22 L527.38 453.74 L527.44 454.26 L527.50 454.78 L527.56 455.31 L527.62 455.85 L527.69 456.38 L527.75 456.92 L527.82 457.46 L527.88 458.00 L527.95 458.54 L528.02 459.08 L528.08 459.62 L528.15 460.16 L528.23 460.69 L528.30 461.22 L528.37 461.75 L528.45 462.27 L528.52 462.79 L528.60 463.30 L528.68 463.81 L528.76 464.32 L528.84 464.83 L528.92 465.35 L529.00 465.87 L529.09 466.39 L529.17 466.90 L529.26 467.42 L529.34 467.95 L529.43 468.47 L529.52 468.99 L529.61 469.51 L529.70 470.03 L529.79 470.55 L529.88 471.07 L529.97 471.59 L530.07 472.10 L530.16 472.62 L530.26 473.13 L530.36 473.64 L530.46 474.15 L530.56 474.66 L530.66 475.17 L530.76 475.67 L530.87 476.16 L530.97 476.66 L531.08 477.15 L531.18 477.64 L531.29 478.12 L531.40 478.60 L531.51 479.08 L531.62 479.56 L531.74 480.04 L531.86 480.52 L531.98 481.00 L532.10 481.48 L532.22 481.96 L532.34 482.44 L532.47 482.92 L532.59 483.39 L532.72 483.87 L532.85 484.34 L532.98 484.81 L533.11 485.27 L533.24 485.73 L533.37 486.19 L533.50 486.64 L533.63 487.09 L533.76 487.53 L533.90 487.96 L534.03 488.39 L534.16 488.81 L534.29 489.23 L534.42 489.64 L534.56 490.04 L534.69 490.43 L534.82 490.81 L534.94 491.18 L535.07 491.55 L535.20 491.90 L535.33 492.24 L535.45 492.58 L535.57 492.91 L535.70 493.23 L535.82 493.54 L535.94 493.85 L536.06 494.15 L536.18 494.44 L536.30 494.72 L536.42 495.00 L536.54 495.27 L536.66 495.54 L536.78 495.80 L536.90 496.05 L537.03 496.30 L537.15 496.54 L537.27 496.78 L537.39 497.01 L537.52 497.24 L537.64 497.47 L537.77 497.69 L537.90 497.90 L538.03 498.11 L538.16 498.32 L538.30 498.52 L538.43 498.73 L538.57 498.92 L538.71 499.12 L538.85 499.31 L539.00 499.50 L539.15 499.69 L539.30 499.87 L539.46 500.05 L539.61 500.22 L539.78 500.39 L539.94 500.56 L540.11 500.72 L540.27 500.88 L540.44 501.04 L540.61 501.19 L540.79 501.33 L540.96 501.47 L541.14 501.61 L541.31 501.74 L541.49 501.87 L541.66 501.99 L541.84 502.11 L542.01 502.22 L542.19 502.33 L542.36 502.44 L542.54 502.54 L542.71 502.63 L542.88 502.72 L543.04 502.80 L543.21 502.88 L543.37 502.96 L543.54 503.03 L543.69 503.09 L543.85 503.15 L544.00 503.20 L544.15 503.25 L544.29 503.31 L544.42 503.36 L544.55 503.42 L544.68 503.47 L544.80 503.53 L544.92 503.58 L545.03 503.64 L545.15 503.69 L545.26 503.73 L545.37 503.77 L545.48 503.80 L545.59 503.83 L545.70 503.85 L545.81 503.86 L545.93 503.87 L546.04 503.86 L546.16 503.84 L546.28 503.81 L546.41 503.77 L546.54 503.72 L546.67 503.65 L546.81 503.56 L546.96 503.47 L547.11 503.35 L547.27 503.22 L547.44 503.07 L547.62 502.90 L547.80 502.71 L548.00 502.50 L548.20 502.27 L548.41 502.02 L548.63 501.75 L548.85 501.47 L549.08 501.16 L549.31 500.84 L549.55 500.51 L549.79 500.16 L550.04 499.79 L550.30 499.41 L550.55 499.02 L550.82 498.61 L551.08 498.20 L551.35 497.77 L551.62 497.33 L551.90 496.88 L552.18 496.43 L552.46 495.96 L552.75 495.49 L553.04 495.01 L553.33 494.53 L553.62 494.04 L553.91 493.54 L554.21 493.04 L554.50 492.54 L554.80 492.03 L555.10 491.53 L555.40 491.02 L555.70 490.51 L556.00 490.00 L556.30 489.48 L556.61 488.94 L556.91 488.37 L557.22 487.79 L557.53 487.19 L557.84 486.58 L558.16 485.95 L558.48 485.31 L558.80 484.66 L559.12 484.01 L559.45 483.34 L559.77 482.68 L560.10 482.01 L560.44 481.34 L560.77 480.67 L561.10 480.00 L561.44 479.34 L561.78 478.69 L562.12 478.04 L562.47 477.40 L562.81 476.78 L563.16 476.17 L563.51 475.57 L563.86 475.00 L564.21 474.44 L564.57 473.90 L564.92 473.39 L565.28 472.90 L565.64 472.43 L566.00 472.00 L566.37 471.58 L566.74 471.18 L567.12 470.78 L567.51 470.39 L567.90 470.01 L568.30 469.64 L568.71 469.28 L569.11 468.93 L569.52 468.59 L569.94 468.27 L570.35 467.95 L570.77 467.65 L571.19 467.36 L571.60 467.09 L572.02 466.83 L572.43 466.58 L572.85 466.34 L573.26 466.12 L573.66 465.92 L574.06 465.73 L574.46 465.56 L574.85 465.41 L575.24 465.27 L575.61 465.15 L575.98 465.04 L576.35 464.96 L576.70 464.89 L577.04 464.84 L577.38 464.81 L577.70 464.80 L578.01 464.81 L578.32 464.85 L578.61 464.91 L578.90 465.00 L579.17 465.11 L579.45 465.24 L579.71 465.39 L579.97 465.55 L580.22 465.74 L580.47 465.94 L580.71 466.16 L580.95 466.40 L581.19 466.65 L581.42 466.91 L581.64 467.18 L581.87 467.47 L582.09 467.76 L582.31 468.06 L582.53 468.37 L582.75 468.69 L582.97 469.01 L583.19 469.34 L583.41 469.67 L583.63 470.00 L583.85 470.34 L584.08 470.67 L584.30 471.01 L584.53 471.34 L584.76 471.67 L585.00 472.00 L585.24 472.33 L585.47 472.67 L585.71 473.02 L585.94 473.38 L586.17 473.75 L586.40 474.13 L586.63 474.51 L586.86 474.90 L587.09 475.30 L587.32 475.71 L587.55 476.12 L587.77 476.53 L588.00 476.95 L588.23 477.38 L588.46 477.81 L588.68 478.24 L588.91 478.67 L589.14 479.11 L589.37 479.54 L589.60 479.98 L589.84 480.42 L590.07 480.86 L590.30 481.30 L590.54 481.73 L590.78 482.17 L591.02 482.60 L591.26 483.03 L591.50 483.46 L591.75 483.88 L592.00 484.30 L592.25 484.72 L592.51 485.14 L592.76 485.57 L593.02 486.00 L593.28 486.44 L593.54 486.88 L593.81 487.32 L594.07 487.76 L594.34 488.21 L594.61 488.66 L594.88 489.10 L595.15 489.55 L595.42 489.99 L595.70 490.44 L595.97 490.88 L596.24 491.32 L596.51 491.76 L596.79 492.20 L597.06 492.63 L597.33 493.06 L597.61 493.48 L597.88 493.90 L598.15 494.31 L598.42 494.72 L598.68 495.12 L598.95 495.51 L599.22 495.89 L599.48 496.27 L599.74 496.64 L600.00 497.00 L600.26 497.35 L600.50 497.71 L600.75 498.06 L600.99 498.41 L601.22 498.76 L601.45 499.11 L601.68 499.45 L601.91 499.79 L602.13 500.13 L602.35 500.46 L602.57 500.79 L602.80 501.11 L603.02 501.43 L603.24 501.74 L603.47 502.04 L603.70 502.34 L603.93 502.63 L604.16 502.92 L604.40 503.19 L604.65 503.46 L604.90 503.72 L605.15 503.97 L605.42 504.21 L605.69 504.44 L605.97 504.67 L606.25 504.88 L606.55 505.07 L606.86 505.26 L607.17 505.44 L607.50 505.60 L607.83 505.75 L608.16 505.88 L608.50 506.00 L608.83 506.10 L609.16 506.20 L609.50 506.27 L609.84 506.34 L610.18 506.40 L610.52 506.44 L610.87 506.48 L611.23 506.51 L611.59 506.52 L611.96 506.54 L612.34 506.54 L612.73 506.54 L613.12 506.54 L613.52 506.53 L613.94 506.52 L614.37 506.50 L614.80 506.49 L615.25 506.47 L615.72 506.45 L616.20 506.44 L616.69 506.42 L617.20 506.41 L617.72 506.40 L618.27 506.39 L618.83 506.39 L619.40 506.39 L620.00 506.40 L620.63 506.41 L621.30 506.43 L622.01 506.45 L622.75 506.48 L623.52 506.51 L624.33 506.54 L625.16 506.57 L626.01 506.60 L626.88 506.63 L627.76 506.66 L628.66 506.69 L629.57 506.72 L630.48 506.75 L631.40 506.77 L632.32 506.79 L633.23 506.81 L634.14 506.82 L635.04 506.83 L635.92 506.83 L636.79 506.83 L637.64 506.81 L638.47 506.79 L639.27 506.77 L640.04 506.73 L640.79 506.69 L641.49 506.63 L642.16 506.57 L642.79 506.49 L643.37 506.40 L643.90 506.30 L644.39 506.19 L644.84 506.08 L645.27 505.96 L645.65 505.84 L646.01 505.72 L646.34 505.59 L646.65 505.45 L646.93 505.31 L647.19 505.16 L647.42 505.01 L647.64 504.85 L647.84 504.68 L648.02 504.50 L648.19 504.32 L648.35 504.13 L648.50 503.92 L648.64 503.71 L648.77 503.49 L648.90 503.27 L649.02 503.03 L649.15 502.78 L649.27 502.52 L649.40 502.24 L649.53 501.96 L649.66 501.67 L649.81 501.36 L649.96 501.04 L650.13 500.71 L650.31 500.36 L650.50 500.00 L650.70 499.63 L650.89 499.25 L651.09 498.87 L651.27 498.48 L651.46 498.08 L651.64 497.67 L651.82 497.25 L652.00 496.82 L652.17 496.39 L652.35 495.94 L652.52 495.48 L652.69 495.02 L652.86 494.54 L653.04 494.05 L653.21 493.54 L653.38 493.03 L653.55 492.50 L653.72 491.96 L653.90 491.41 L654.07 490.84 L654.25 490.25 L654.43 489.66 L654.62 489.04 L654.80 488.42 L654.99 487.77 L655.19 487.11 L655.38 486.43 L655.58 485.74 L655.79 485.03 L656.00 484.30 L656.22 483.54 L656.44 482.74 L656.66 481.90 L656.90 481.02 L657.13 480.11 L657.37 479.18 L657.61 478.21 L657.86 477.22 L658.11 476.21 L658.36 475.19 L658.61 474.15 L658.87 473.10 L659.12 472.04 L659.38 470.97 L659.64 469.91 L659.89 468.84 L660.15 467.78 L660.41 466.72 L660.66 465.68 L660.92 464.64 L661.17 463.63 L661.42 462.63 L661.67 461.66 L661.91 460.70 L662.16 459.78 L662.39 458.89 L662.63 458.03 L662.86 457.22 L663.08 456.44 L663.30 455.70 L663.52 455.00 L663.73 454.32 L663.94 453.67 L664.15 453.04 L664.35 452.43 L664.55 451.85 L664.75 451.28 L664.95 450.73 L665.15 450.20 L665.34 449.69 L665.54 449.19 L665.73 448.71 L665.92 448.24 L666.11 447.79 L666.29 447.34 L666.48 446.91 L666.66 446.49 L666.85 446.08 L667.03 445.67 L667.21 445.28 L667.39 444.89 L667.57 444.50 L667.75 444.12 L667.93 443.74 L668.11 443.37 L668.29 443.00 L668.47 442.62 L668.64 442.25 L668.82 441.88 L669.00 441.50 L669.18 441.13 L669.36 440.76 L669.54 440.40 L669.72 440.05 L669.90 439.70 L670.08 439.36 L670.26 439.03 L670.44 438.71 L670.61 438.39 L670.79 438.08 L670.97 437.77 L671.15 437.47 L671.32 437.18 L671.50 436.89 L671.67 436.61 L671.84 436.34 L672.01 436.07 L672.18 435.80 L672.34 435.54 L672.51 435.29 L672.67 435.04 L672.83 434.80 L672.99 434.56 L673.14 434.32 L673.29 434.09 L673.44 433.86 L673.58 433.64 L673.73 433.42 L673.86 433.21 L674.00 433.00 L674.13 432.79 L674.26 432.59 L674.39 432.40 L674.52 432.21 L674.65 432.03 L674.78 431.85 L674.90 431.67 L675.02 431.51 L675.14 431.34 L675.26 431.19 L675.37 431.03 L675.49 430.88 L675.60 430.74 L675.71 430.60 L675.81 430.47 L675.92 430.34 L676.02 430.22 L676.11 430.10 L676.21 429.98 L676.30 429.87 L676.38 429.76 L676.47 429.66 L676.55 429.57 L676.62 429.47 L676.70 429.38 L676.77 429.30 L676.83 429.22 L676.89 429.14 L676.95 429.07 L677.00 429.00" stroke="#4dba6b" stroke-width="1.3" fill="none"/><g fill="#4dba6b"><circle cx="510.8" cy="354.7" r="2.50"/><circle cx="511.3" cy="358.6" r="2.50"/><circle cx="511.6" cy="362.8" r="2.50"/><circle cx="512.6" cy="367.4" r="2.50"/><circle cx="513.4" cy="372.2" r="2.50"/><circle cx="514.0" cy="377.0" r="2.50"/><circle cx="514.5" cy="381.7" r="2.50"/><circle cx="515.1" cy="386.3" r="2.50"/><circle cx="516.1" cy="390.9" r="2.50"/><circle cx="517.3" cy="395.2" r="2.50"/><circle cx="518.6" cy="399.5" r="2.50"/><circle cx="519.9" cy="403.9" r="2.50"/><circle cx="521.0" cy="408.2" r="2.50"/><circle cx="521.9" cy="412.4" r="2.50"/><circle cx="522.6" cy="416.6" r="2.50"/></g><g fill="#f0faf3"><circle cx="510.8" cy="354.7" r="0.40"/><circle cx="511.3" cy="358.6" r="0.40"/><circle cx="511.6" cy="362.8" r="0.40"/><circle cx="512.6" cy="367.4" r="0.40"/><circle cx="513.4" cy="372.2" r="0.40"/><circle cx="514.0" cy="377.0" r="0.40"/><circle cx="514.5" cy="381.7" r="0.40"/><circle cx="515.1" cy="386.3" r="0.40"/><circle cx="516.1" cy="390.9" r="0.40"/><circle cx="517.3" cy="395.2" r="0.40"/><circle cx="518.6" cy="399.5" r="0.40"/><circle cx="519.9" cy="403.9" r="0.40"/><circle cx="521.0" cy="408.2" r="0.40"/><circle cx="521.9" cy="412.4" r="0.40"/><circle cx="522.6" cy="416.6" r="0.40"/></g><g fill="#4dba6b"><circle cx="523.7" cy="428.1" r="2.45"/><circle cx="524.5" cy="434.0" r="2.45"/><circle cx="525.3" cy="439.0" r="2.45"/><circle cx="526.1" cy="444.0" r="2.45"/><circle cx="526.9" cy="449.6" r="2.45"/><circle cx="527.7" cy="456.5" r="2.45"/><circle cx="528.5" cy="462.6" r="2.45"/><circle cx="529.3" cy="467.7" r="2.45"/><circle cx="530.1" cy="472.3" r="2.45"/><circle cx="530.9" cy="476.3" r="2.45"/><circle cx="531.7" cy="479.9" r="2.45"/><circle cx="532.5" cy="483.0" r="2.45"/><circle cx="533.3" cy="485.9" r="2.45"/><circle cx="534.1" cy="488.6" r="2.45"/><circle cx="534.9" cy="491.1" r="2.45"/><circle cx="535.7" cy="493.2" r="2.45"/><circle cx="536.5" cy="495.2" r="2.45"/><circle cx="537.3" cy="496.8" r="2.45"/><circle cx="538.1" cy="498.2" r="2.45"/><circle cx="538.9" cy="499.4" r="2.45"/><circle cx="539.7" cy="500.3" r="2.45"/><circle cx="540.5" cy="501.1" r="2.45"/><circle cx="541.3" cy="501.7" r="2.45"/><circle cx="542.1" cy="502.3" r="2.45"/><circle cx="542.9" cy="502.7" r="2.45"/><circle cx="543.7" cy="503.1" r="2.45"/><circle cx="544.5" cy="503.4" r="2.45"/><circle cx="545.3" cy="503.7" r="2.45"/><circle cx="546.1" cy="503.8" r="2.45"/><circle cx="546.9" cy="503.5" r="2.45"/><circle cx="547.7" cy="502.8" r="2.45"/><circle cx="548.5" cy="501.9" r="2.45"/><circle cx="549.3" cy="500.9" r="2.45"/><circle cx="550.1" cy="499.7" r="2.45"/><circle cx="550.9" cy="498.5" r="2.45"/><circle cx="551.7" cy="497.2" r="2.45"/><circle cx="552.5" cy="495.9" r="2.45"/><circle cx="553.3" cy="494.6" r="2.45"/><circle cx="554.1" cy="493.2" r="2.45"/><circle cx="554.9" cy="491.9" r="2.45"/><circle cx="555.7" cy="490.5" r="2.45"/><circle cx="556.5" cy="489.1" r="2.45"/><circle cx="557.3" cy="487.6" r="2.45"/><circle cx="558.1" cy="486.1" r="2.45"/><circle cx="558.9" cy="484.5" r="2.45"/><circle cx="559.7" cy="482.8" r="2.45"/><circle cx="560.5" cy="481.2" r="2.45"/><circle cx="561.3" cy="479.6" r="2.45"/><circle cx="562.1" cy="478.1" r="2.45"/><circle cx="562.9" cy="476.6" r="2.45"/><circle cx="563.7" cy="475.3" r="2.45"/><circle cx="564.5" cy="474.0" r="2.45"/><circle cx="565.3" cy="472.9" r="2.45"/><circle cx="566.1" cy="471.9" r="2.45"/><circle cx="566.9" cy="471.0" r="2.45"/><circle cx="567.7" cy="470.2" r="2.45"/><circle cx="568.5" cy="469.5" r="2.45"/><circle cx="569.3" cy="468.8" r="2.45"/><circle cx="570.1" cy="468.1" r="2.45"/><circle cx="570.9" cy="467.6" r="2.45"/><circle cx="571.7" cy="467.0" r="2.45"/><circle cx="572.5" cy="466.5" r="2.45"/><circle cx="573.3" cy="466.1" r="2.45"/><circle cx="574.1" cy="465.7" r="2.45"/><circle cx="574.9" cy="465.4" r="2.45"/><circle cx="575.7" cy="465.1" r="2.45"/><circle cx="576.5" cy="464.9" r="2.45"/><circle cx="577.3" cy="464.8" r="2.45"/><circle cx="578.1" cy="464.8" r="2.45"/><circle cx="578.9" cy="465.0" r="2.45"/><circle cx="579.7" cy="465.4" r="2.45"/><circle cx="580.5" cy="466.0" r="2.45"/><circle cx="581.3" cy="466.8" r="2.45"/><circle cx="582.1" cy="467.8" r="2.45"/><circle cx="582.9" cy="468.9" r="2.45"/><circle cx="583.7" cy="470.1" r="2.45"/><circle cx="584.5" cy="471.3" r="2.45"/><circle cx="585.3" cy="472.4" r="2.45"/><circle cx="586.1" cy="473.6" r="2.45"/><circle cx="586.9" cy="475.0" r="2.45"/><circle cx="587.7" cy="476.4" r="2.45"/><circle cx="588.5" cy="477.9" r="2.45"/><circle cx="589.3" cy="479.4" r="2.45"/><circle cx="590.1" cy="480.9" r="2.45"/><circle cx="590.9" cy="482.4" r="2.45"/><circle cx="591.7" cy="483.8" r="2.45"/><circle cx="592.5" cy="485.1" r="2.45"/><circle cx="593.3" cy="486.5" r="2.45"/><circle cx="594.1" cy="487.8" r="2.45"/><circle cx="594.9" cy="489.1" r="2.45"/><circle cx="595.7" cy="490.4" r="2.45"/><circle cx="596.5" cy="491.7" r="2.45"/><circle cx="597.3" cy="493.0" r="2.45"/><circle cx="598.1" cy="494.2" r="2.45"/><circle cx="598.9" cy="495.4" r="2.45"/><circle cx="599.7" cy="496.6" r="2.45"/><circle cx="600.5" cy="497.7" r="2.45"/><circle cx="601.3" cy="498.9" r="2.45"/><circle cx="602.1" cy="500.1" r="2.45"/><circle cx="602.9" cy="501.3" r="2.45"/><circle cx="603.7" cy="502.3" r="2.45"/><circle cx="604.5" cy="503.3" r="2.45"/><circle cx="605.3" cy="504.1" r="2.45"/><circle cx="606.1" cy="504.8" r="2.45"/><circle cx="606.9" cy="505.3" r="2.45"/><circle cx="607.7" cy="505.7" r="2.45"/><circle cx="608.5" cy="506.0" r="2.45"/><circle cx="609.3" cy="506.2" r="2.45"/><circle cx="610.1" cy="506.4" r="2.45"/><circle cx="610.9" cy="506.5" r="2.45"/><circle cx="611.7" cy="506.5" r="2.45"/><circle cx="612.5" cy="506.5" r="2.45"/><circle cx="613.3" cy="506.5" r="2.45"/><circle cx="614.1" cy="506.5" r="2.45"/><circle cx="614.9" cy="506.5" r="2.45"/><circle cx="615.7" cy="506.5" r="2.45"/><circle cx="616.5" cy="506.4" r="2.45"/><circle cx="617.3" cy="506.4" r="2.45"/><circle cx="618.1" cy="506.4" r="2.45"/><circle cx="618.9" cy="506.4" r="2.45"/><circle cx="619.7" cy="506.4" r="2.45"/><circle cx="620.5" cy="506.4" r="2.45"/><circle cx="621.3" cy="506.4" r="2.45"/><circle cx="622.1" cy="506.5" r="2.45"/><circle cx="622.9" cy="506.5" r="2.45"/><circle cx="623.7" cy="506.5" r="2.45"/><circle cx="624.5" cy="506.5" r="2.45"/><circle cx="625.3" cy="506.6" r="2.45"/><circle cx="626.1" cy="506.6" r="2.45"/><circle cx="626.9" cy="506.6" r="2.45"/><circle cx="627.7" cy="506.7" r="2.45"/><circle cx="628.5" cy="506.7" r="2.45"/><circle cx="629.3" cy="506.7" r="2.45"/><circle cx="630.1" cy="506.7" r="2.45"/><circle cx="630.9" cy="506.8" r="2.45"/><circle cx="631.7" cy="506.8" r="2.45"/><circle cx="632.5" cy="506.8" r="2.45"/><circle cx="633.3" cy="506.8" r="2.45"/><circle cx="634.1" cy="506.8" r="2.45"/><circle cx="634.9" cy="506.8" r="2.45"/><circle cx="635.7" cy="506.8" r="2.45"/><circle cx="636.5" cy="506.8" r="2.45"/><circle cx="637.3" cy="506.8" r="2.45"/><circle cx="638.1" cy="506.8" r="2.45"/><circle cx="638.9" cy="506.8" r="2.45"/><circle cx="639.7" cy="506.7" r="2.45"/><circle cx="640.5" cy="506.7" r="2.45"/><circle cx="641.3" cy="506.6" r="2.45"/><circle cx="642.1" cy="506.6" r="2.45"/><circle cx="642.9" cy="506.5" r="2.45"/><circle cx="643.7" cy="506.3" r="2.45"/><circle cx="644.5" cy="506.2" r="2.45"/><circle cx="645.3" cy="506.0" r="2.45"/><circle cx="646.1" cy="505.7" r="2.45"/><circle cx="646.9" cy="505.3" r="2.45"/><circle cx="647.7" cy="504.8" r="2.45"/><circle cx="648.5" cy="503.9" r="2.45"/><circle cx="649.3" cy="502.5" r="2.45"/><circle cx="650.1" cy="500.8" r="2.45"/><circle cx="650.9" cy="499.2" r="2.45"/><circle cx="651.7" cy="497.5" r="2.45"/><circle cx="652.5" cy="495.5" r="2.45"/><circle cx="653.3" cy="493.3" r="2.45"/><circle cx="654.1" cy="490.8" r="2.45"/><circle cx="654.9" cy="488.1" r="2.45"/><circle cx="655.7" cy="485.3" r="2.45"/><circle cx="656.5" cy="482.5" r="2.45"/><circle cx="657.3" cy="479.5" r="2.45"/><circle cx="658.1" cy="476.2" r="2.45"/><circle cx="658.9" cy="473.0" r="2.45"/><circle cx="659.7" cy="469.6" r="2.45"/><circle cx="660.5" cy="466.3" r="2.45"/><circle cx="661.3" cy="463.1" r="2.45"/><circle cx="662.1" cy="460.0" r="2.45"/><circle cx="662.9" cy="457.1" r="2.45"/><circle cx="663.7" cy="454.4" r="2.45"/><circle cx="664.5" cy="452.0" r="2.45"/><circle cx="665.3" cy="449.8" r="2.45"/><circle cx="666.1" cy="447.8" r="2.45"/><circle cx="666.9" cy="446.0" r="2.45"/><circle cx="667.7" cy="444.2" r="2.45"/><circle cx="668.5" cy="442.6" r="2.45"/><circle cx="669.3" cy="440.9" r="2.45"/><circle cx="670.1" cy="439.3" r="2.45"/><circle cx="670.9" cy="437.9" r="2.45"/><circle cx="671.7" cy="436.6" r="2.45"/><circle cx="672.5" cy="435.3" r="2.45"/><circle cx="673.3" cy="434.1" r="2.45"/><circle cx="674.1" cy="432.8" r="2.45"/><circle cx="674.9" cy="431.7" r="2.45"/><circle cx="675.7" cy="430.6" r="2.45"/><circle cx="676.5" cy="429.6" r="2.45"/></g><g fill="#d3efdb"><circle cx="523.7" cy="428.1" r="0.45"/><circle cx="524.5" cy="434.0" r="0.45"/><circle cx="525.3" cy="439.0" r="0.45"/><circle cx="526.1" cy="444.0" r="0.45"/><circle cx="526.9" cy="449.6" r="0.45"/><circle cx="527.7" cy="456.5" r="0.45"/><circle cx="528.5" cy="462.6" r="0.45"/><circle cx="529.3" cy="467.7" r="0.45"/><circle cx="530.1" cy="472.3" r="0.45"/><circle cx="530.9" cy="476.3" r="0.45"/><circle cx="531.7" cy="479.9" r="0.45"/><circle cx="532.5" cy="483.0" r="0.45"/><circle cx="533.3" cy="485.9" r="0.45"/><circle cx="534.1" cy="488.6" r="0.45"/><circle cx="534.9" cy="491.1" r="0.45"/><circle cx="535.7" cy="493.2" r="0.45"/><circle cx="536.5" cy="495.2" r="0.45"/><circle cx="537.3" cy="496.8" r="0.45"/><circle cx="538.1" cy="498.2" r="0.45"/><circle cx="538.9" cy="499.4" r="0.45"/><circle cx="539.7" cy="500.3" r="0.45"/><circle cx="540.5" cy="501.1" r="0.45"/><circle cx="541.3" cy="501.7" r="0.45"/><circle cx="542.1" cy="502.3" r="0.45"/><circle cx="542.9" cy="502.7" r="0.45"/><circle cx="543.7" cy="503.1" r="0.45"/><circle cx="544.5" cy="503.4" r="0.45"/><circle cx="545.3" cy="503.7" r="0.45"/><circle cx="546.1" cy="503.8" r="0.45"/><circle cx="546.9" cy="503.5" r="0.45"/><circle cx="547.7" cy="502.8" r="0.45"/><circle cx="548.5" cy="501.9" r="0.45"/><circle cx="549.3" cy="500.9" r="0.45"/><circle cx="550.1" cy="499.7" r="0.45"/><circle cx="550.9" cy="498.5" r="0.45"/><circle cx="551.7" cy="497.2" r="0.45"/><circle cx="552.5" cy="495.9" r="0.45"/><circle cx="553.3" cy="494.6" r="0.45"/><circle cx="554.1" cy="493.2" r="0.45"/><circle cx="554.9" cy="491.9" r="0.45"/><circle cx="555.7" cy="490.5" r="0.45"/><circle cx="556.5" cy="489.1" r="0.45"/><circle cx="557.3" cy="487.6" r="0.45"/><circle cx="558.1" cy="486.1" r="0.45"/><circle cx="558.9" cy="484.5" r="0.45"/><circle cx="559.7" cy="482.8" r="0.45"/><circle cx="560.5" cy="481.2" r="0.45"/><circle cx="561.3" cy="479.6" r="0.45"/><circle cx="562.1" cy="478.1" r="0.45"/><circle cx="562.9" cy="476.6" r="0.45"/><circle cx="563.7" cy="475.3" r="0.45"/><circle cx="564.5" cy="474.0" r="0.45"/><circle cx="565.3" cy="472.9" r="0.45"/><circle cx="566.1" cy="471.9" r="0.45"/><circle cx="566.9" cy="471.0" r="0.45"/><circle cx="567.7" cy="470.2" r="0.45"/><circle cx="568.5" cy="469.5" r="0.45"/><circle cx="569.3" cy="468.8" r="0.45"/><circle cx="570.1" cy="468.1" r="0.45"/><circle cx="570.9" cy="467.6" r="0.45"/><circle cx="571.7" cy="467.0" r="0.45"/><circle cx="572.5" cy="466.5" r="0.45"/><circle cx="573.3" cy="466.1" r="0.45"/><circle cx="574.1" cy="465.7" r="0.45"/><circle cx="574.9" cy="465.4" r="0.45"/><circle cx="575.7" cy="465.1" r="0.45"/><circle cx="576.5" cy="464.9" r="0.45"/><circle cx="577.3" cy="464.8" r="0.45"/><circle cx="578.1" cy="464.8" r="0.45"/><circle cx="578.9" cy="465.0" r="0.45"/><circle cx="579.7" cy="465.4" r="0.45"/><circle cx="580.5" cy="466.0" r="0.45"/><circle cx="581.3" cy="466.8" r="0.45"/><circle cx="582.1" cy="467.8" r="0.45"/><circle cx="582.9" cy="468.9" r="0.45"/><circle cx="583.7" cy="470.1" r="0.45"/><circle cx="584.5" cy="471.3" r="0.45"/><circle cx="585.3" cy="472.4" r="0.45"/><circle cx="586.1" cy="473.6" r="0.45"/><circle cx="586.9" cy="475.0" r="0.45"/><circle cx="587.7" cy="476.4" r="0.45"/><circle cx="588.5" cy="477.9" r="0.45"/><circle cx="589.3" cy="479.4" r="0.45"/><circle cx="590.1" cy="480.9" r="0.45"/><circle cx="590.9" cy="482.4" r="0.45"/><circle cx="591.7" cy="483.8" r="0.45"/><circle cx="592.5" cy="485.1" r="0.45"/><circle cx="593.3" cy="486.5" r="0.45"/><circle cx="594.1" cy="487.8" r="0.45"/><circle cx="594.9" cy="489.1" r="0.45"/><circle cx="595.7" cy="490.4" r="0.45"/><circle cx="596.5" cy="491.7" r="0.45"/><circle cx="597.3" cy="493.0" r="0.45"/><circle cx="598.1" cy="494.2" r="0.45"/><circle cx="598.9" cy="495.4" r="0.45"/><circle cx="599.7" cy="496.6" r="0.45"/><circle cx="600.5" cy="497.7" r="0.45"/><circle cx="601.3" cy="498.9" r="0.45"/><circle cx="602.1" cy="500.1" r="0.45"/><circle cx="602.9" cy="501.3" r="0.45"/><circle cx="603.7" cy="502.3" r="0.45"/><circle cx="604.5" cy="503.3" r="0.45"/><circle cx="605.3" cy="504.1" r="0.45"/><circle cx="606.1" cy="504.8" r="0.45"/><circle cx="606.9" cy="505.3" r="0.45"/><circle cx="607.7" cy="505.7" r="0.45"/><circle cx="608.5" cy="506.0" r="0.45"/><circle cx="609.3" cy="506.2" r="0.45"/><circle cx="610.1" cy="506.4" r="0.45"/><circle cx="610.9" cy="506.5" r="0.45"/><circle cx="611.7" cy="506.5" r="0.45"/><circle cx="612.5" cy="506.5" r="0.45"/><circle cx="613.3" cy="506.5" r="0.45"/><circle cx="614.1" cy="506.5" r="0.45"/><circle cx="614.9" cy="506.5" r="0.45"/><circle cx="615.7" cy="506.5" r="0.45"/><circle cx="616.5" cy="506.4" r="0.45"/><circle cx="617.3" cy="506.4" r="0.45"/><circle cx="618.1" cy="506.4" r="0.45"/><circle cx="618.9" cy="506.4" r="0.45"/><circle cx="619.7" cy="506.4" r="0.45"/><circle cx="620.5" cy="506.4" r="0.45"/><circle cx="621.3" cy="506.4" r="0.45"/><circle cx="622.1" cy="506.5" r="0.45"/><circle cx="622.9" cy="506.5" r="0.45"/><circle cx="623.7" cy="506.5" r="0.45"/><circle cx="624.5" cy="506.5" r="0.45"/><circle cx="625.3" cy="506.6" r="0.45"/><circle cx="626.1" cy="506.6" r="0.45"/><circle cx="626.9" cy="506.6" r="0.45"/><circle cx="627.7" cy="506.7" r="0.45"/><circle cx="628.5" cy="506.7" r="0.45"/><circle cx="629.3" cy="506.7" r="0.45"/><circle cx="630.1" cy="506.7" r="0.45"/><circle cx="630.9" cy="506.8" r="0.45"/><circle cx="631.7" cy="506.8" r="0.45"/><circle cx="632.5" cy="506.8" r="0.45"/><circle cx="633.3" cy="506.8" r="0.45"/><circle cx="634.1" cy="506.8" r="0.45"/><circle cx="634.9" cy="506.8" r="0.45"/><circle cx="635.7" cy="506.8" r="0.45"/><circle cx="636.5" cy="506.8" r="0.45"/><circle cx="637.3" cy="506.8" r="0.45"/><circle cx="638.1" cy="506.8" r="0.45"/><circle cx="638.9" cy="506.8" r="0.45"/><circle cx="639.7" cy="506.7" r="0.45"/><circle cx="640.5" cy="506.7" r="0.45"/><circle cx="641.3" cy="506.6" r="0.45"/><circle cx="642.1" cy="506.6" r="0.45"/><circle cx="642.9" cy="506.5" r="0.45"/><circle cx="643.7" cy="506.3" r="0.45"/><circle cx="644.5" cy="506.2" r="0.45"/><circle cx="645.3" cy="506.0" r="0.45"/><circle cx="646.1" cy="505.7" r="0.45"/><circle cx="646.9" cy="505.3" r="0.45"/><circle cx="647.7" cy="504.8" r="0.45"/><circle cx="648.5" cy="503.9" r="0.45"/><circle cx="649.3" cy="502.5" r="0.45"/><circle cx="650.1" cy="500.8" r="0.45"/><circle cx="650.9" cy="499.2" r="0.45"/><circle cx="651.7" cy="497.5" r="0.45"/><circle cx="652.5" cy="495.5" r="0.45"/><circle cx="653.3" cy="493.3" r="0.45"/><circle cx="654.1" cy="490.8" r="0.45"/><circle cx="654.9" cy="488.1" r="0.45"/><circle cx="655.7" cy="485.3" r="0.45"/><circle cx="656.5" cy="482.5" r="0.45"/><circle cx="657.3" cy="479.5" r="0.45"/><circle cx="658.1" cy="476.2" r="0.45"/><circle cx="658.9" cy="473.0" r="0.45"/><circle cx="659.7" cy="469.6" r="0.45"/><circle cx="660.5" cy="466.3" r="0.45"/><circle cx="661.3" cy="463.1" r="0.45"/><circle cx="662.1" cy="460.0" r="0.45"/><circle cx="662.9" cy="457.1" r="0.45"/><circle cx="663.7" cy="454.4" r="0.45"/><circle cx="664.5" cy="452.0" r="0.45"/><circle cx="665.3" cy="449.8" r="0.45"/><circle cx="666.1" cy="447.8" r="0.45"/><circle cx="666.9" cy="446.0" r="0.45"/><circle cx="667.7" cy="444.2" r="0.45"/><circle cx="668.5" cy="442.6" r="0.45"/><circle cx="669.3" cy="440.9" r="0.45"/><circle cx="670.1" cy="439.3" r="0.45"/><circle cx="670.9" cy="437.9" r="0.45"/><circle cx="671.7" cy="436.6" r="0.45"/><circle cx="672.5" cy="435.3" r="0.45"/><circle cx="673.3" cy="434.1" r="0.45"/><circle cx="674.1" cy="432.8" r="0.45"/><circle cx="674.9" cy="431.7" r="0.45"/><circle cx="675.7" cy="430.6" r="0.45"/><circle cx="676.5" cy="429.6" r="0.45"/></g></g><g clip-path="url(#clipD)"><path d="M449.00 509.60 L449.82 509.60 L450.78 509.61 L451.86 509.63 L453.05 509.64 L454.36 509.66 L455.76 509.69 L457.25 509.72 L458.82 509.75 L460.45 509.78 L462.15 509.81 L463.89 509.84 L465.68 509.87 L467.50 509.90 L469.34 509.93 L471.19 509.95 L473.04 509.97 L474.89 509.99 L476.72 510.00 L478.53 510.01 L480.30 510.01 L482.02 510.01 L483.69 510.00 L485.30 509.98 L486.84 509.96 L488.29 509.92 L489.66 509.88 L490.92 509.83 L492.07 509.76 L493.10 509.69 L494.00 509.60 L494.79 509.51 L495.50 509.42 L496.13 509.33 L496.69 509.24 L497.18 509.15 L497.60 509.05 L497.96 508.96 L498.27 508.86 L498.52 508.75 L498.72 508.64 L498.88 508.53 L499.00 508.41 L499.08 508.28 L499.13 508.14 L499.16 507.99 L499.16 507.83 L499.14 507.66 L499.10 507.47 L499.05 507.28 L499.00 507.07 L498.94 506.84 L498.89 506.60 L498.84 506.34 L498.80 506.07 L498.77 505.77 L498.77 505.46 L498.78 505.13 L498.82 504.77 L498.89 504.40 L499.00 504.00 L499.12 503.57 L499.24 503.11 L499.36 502.62 L499.47 502.10 L499.57 501.55 L499.68 500.98 L499.78 500.38 L499.87 499.76 L499.97 499.13 L500.06 498.47 L500.15 497.81 L500.23 497.12 L500.32 496.43 L500.40 495.73 L500.47 495.02 L500.55 494.31 L500.63 493.60 L500.70 492.88 L500.77 492.17 L500.84 491.46 L500.91 490.75 L500.98 490.06 L501.04 489.37 L501.11 488.69 L501.18 488.03 L501.24 487.39 L501.31 486.76 L501.37 486.15 L501.44 485.56 L501.50 485.00 L501.56 484.46 L501.62 483.92 L501.68 483.39 L501.74 482.88 L501.79 482.37 L501.84 481.87 L501.89 481.38 L501.94 480.89 L501.99 480.41 L502.03 479.94 L502.07 479.47 L502.12 479.01 L502.16 478.55 L502.20 478.10 L502.24 477.65 L502.28 477.20 L502.32 476.76 L502.36 476.32 L502.40 475.88 L502.44 475.44 L502.48 475.00 L502.52 474.56 L502.56 474.12 L502.61 473.68 L502.65 473.24 L502.70 472.80 L502.74 472.35 L502.79 471.91 L502.85 471.45 L502.90 471.00 L502.95 470.54 L503.01 470.07 L503.06 469.60 L503.11 469.12 L503.17 468.63 L503.22 468.14 L503.27 467.65 L503.32 467.16 L503.37 466.66 L503.43 466.17 L503.48 465.67 L503.53 465.18 L503.59 464.69 L503.64 464.20 L503.70 463.72 L503.76 463.24 L503.82 462.77 L503.88 462.30 L503.94 461.85 L504.01 461.40 L504.07 460.96 L504.14 460.53 L504.22 460.12 L504.29 459.71 L504.37 459.32 L504.45 458.95 L504.53 458.58 L504.62 458.24 L504.71 457.91 L504.80 457.60 L504.90 457.30 L505.00 457.01 L505.10 456.74 L505.21 456.47 L505.32 456.20 L505.44 455.95 L505.56 455.71 L505.68 455.48 L505.80 455.25 L505.93 455.04 L506.05 454.84 L506.18 454.64 L506.31 454.46 L506.45 454.28 L506.58 454.12 L506.72 453.96 L506.85 453.82 L506.99 453.69 L507.13 453.56 L507.26 453.45 L507.40 453.35 L507.54 453.25 L507.67 453.17 L507.81 453.10 L507.94 453.04 L508.08 452.99 L508.21 452.95 L508.34 452.92 L508.47 452.91 L508.60 452.90 L508.73 452.91 L508.85 452.93 L508.98 452.98 L509.11 453.03 L509.23 453.11 L509.36 453.19 L509.49 453.29 L509.61 453.40 L509.74 453.53 L509.87 453.66 L509.99 453.81 L510.12 453.96 L510.25 454.13 L510.37 454.30 L510.50 454.48 L510.63 454.67 L510.75 454.86 L510.88 455.06 L511.01 455.26 L511.13 455.47 L511.26 455.68 L511.39 455.89 L511.51 456.11 L511.64 456.32 L511.77 456.54 L511.89 456.76 L512.02 456.97 L512.15 457.18 L512.27 457.39 L512.40 457.60 L512.53 457.81 L512.65 458.03 L512.78 458.26 L512.91 458.49 L513.03 458.74 L513.16 458.99 L513.29 459.24 L513.41 459.50 L513.54 459.77 L513.67 460.04 L513.79 460.31 L513.92 460.59 L514.05 460.87 L514.17 461.15 L514.30 461.43 L514.43 461.70 L514.55 461.98 L514.68 462.26 L514.81 462.53 L514.93 462.80 L515.06 463.07 L515.19 463.33 L515.31 463.59 L515.44 463.84 L515.57 464.09 L515.69 464.33 L515.82 464.56 L515.95 464.78 L516.07 465.00 L516.20 465.20 L516.33 465.39 L516.45 465.57 L516.58 465.74 L516.71 465.90 L516.83 466.05 L516.96 466.19 L517.09 466.33 L517.21 466.46 L517.34 466.58 L517.47 466.70 L517.59 466.81 L517.72 466.93 L517.85 467.04 L517.97 467.15 L518.10 467.26 L518.23 467.37 L518.35 467.48 L518.48 467.59 L518.61 467.71 L518.73 467.83 L518.86 467.96 L518.99 468.10 L519.11 468.24 L519.24 468.39 L519.37 468.54 L519.49 468.71 L519.62 468.89 L519.75 469.08 L519.87 469.28 L520.00 469.50 L520.13 469.73 L520.25 469.96 L520.38 470.21 L520.51 470.46 L520.63 470.71 L520.76 470.98 L520.89 471.25 L521.01 471.52 L521.14 471.80 L521.27 472.09 L521.39 472.39 L521.52 472.68 L521.65 472.99 L521.77 473.29 L521.90 473.61 L522.03 473.92 L522.15 474.24 L522.28 474.56 L522.41 474.89 L522.53 475.22 L522.66 475.55 L522.79 475.88 L522.91 476.22 L523.04 476.56 L523.17 476.89 L523.29 477.23 L523.42 477.58 L523.55 477.92 L523.67 478.26 L523.80 478.60 L523.93 478.94 L524.05 479.29 L524.17 479.65 L524.29 480.00 L524.41 480.37 L524.53 480.73 L524.65 481.10 L524.76 481.48 L524.88 481.85 L525.00 482.23 L525.11 482.61 L525.23 482.99 L525.35 483.38 L525.46 483.77 L525.58 484.16 L525.70 484.55 L525.82 484.94 L525.94 485.33 L526.07 485.72 L526.19 486.11 L526.32 486.51 L526.45 486.90 L526.58 487.29 L526.72 487.68 L526.86 488.07 L527.00 488.46 L527.14 488.85 L527.29 489.24 L527.44 489.62 L527.60 490.00 L527.76 490.38 L527.92 490.78 L528.09 491.17 L528.26 491.58 L528.44 491.99 L528.62 492.40 L528.80 492.82 L528.98 493.24 L529.17 493.66 L529.36 494.08 L529.55 494.50 L529.74 494.92 L529.94 495.34 L530.13 495.76 L530.33 496.18 L530.53 496.58 L530.73 496.99 L530.93 497.39 L531.13 497.78 L531.33 498.16 L531.53 498.54 L531.73 498.90 L531.93 499.26 L532.13 499.61 L532.33 499.94 L532.53 500.26 L532.72 500.57 L532.92 500.86 L533.11 501.14 L533.30 501.40 L533.49 501.65 L533.67 501.89 L533.86 502.11 L534.03 502.33 L534.21 502.54 L534.39 502.73 L534.56 502.92 L534.73 503.10 L534.91 503.27 L535.08 503.43 L535.25 503.59 L535.42 503.73 L535.59 503.87 L535.77 504.00 L535.94 504.12 L536.12 504.23 L536.30 504.34 L536.48 504.44 L536.67 504.53 L536.86 504.62 L537.05 504.70 L537.24 504.78 L537.44 504.85 L537.65 504.91 L537.86 504.97 L538.07 505.03 L538.30 505.08 L538.52 505.12 L538.76 505.16 L539.00 505.20 L539.25 505.23 L539.50 505.26 L539.75 505.27 L540.01 505.28 L540.27 505.28 L540.54 505.28 L540.81 505.27 L541.09 505.25 L541.36 505.23 L541.64 505.20 L541.93 505.16 L542.22 505.12 L542.51 505.07 L542.81 505.02 L543.11 504.96 L543.41 504.90 L543.72 504.83 L544.03 504.75 L544.34 504.67 L544.66 504.59 L544.98 504.50 L545.30 504.41 L545.63 504.31 L545.96 504.20 L546.29 504.10 L546.62 503.98 L546.96 503.87 L547.31 503.75 L547.65 503.63 L548.00 503.50 L548.35 503.37 L548.70 503.22 L549.05 503.07 L549.41 502.90 L549.76 502.73 L550.12 502.54 L550.48 502.36 L550.84 502.16 L551.20 501.96 L551.57 501.75 L551.94 501.54 L552.31 501.32 L552.69 501.10 L553.07 500.88 L553.46 500.65 L553.85 500.42 L554.24 500.20 L554.65 499.97 L555.05 499.74 L555.47 499.52 L555.89 499.30 L556.31 499.08 L556.75 498.86 L557.19 498.65 L557.64 498.44 L558.09 498.24 L558.56 498.04 L559.03 497.85 L559.51 497.67 L560.00 497.50 L560.50 497.33 L561.03 497.15 L561.56 496.97 L562.12 496.79 L562.68 496.61 L563.26 496.42 L563.85 496.23 L564.45 496.04 L565.06 495.86 L565.68 495.67 L566.30 495.49 L566.93 495.31 L567.56 495.13 L568.20 494.96 L568.83 494.79 L569.47 494.63 L570.10 494.47 L570.74 494.32 L571.36 494.18 L571.99 494.05 L572.61 493.93 L573.22 493.82 L573.82 493.72 L574.41 493.63 L575.00 493.56 L575.57 493.50 L576.12 493.45 L576.66 493.42 L577.19 493.40 L577.70 493.40 L578.19 493.42 L578.67 493.45 L579.14 493.49 L579.59 493.55 L580.03 493.62 L580.46 493.70 L580.88 493.80 L581.30 493.90 L581.70 494.02 L582.10 494.15 L582.49 494.29 L582.88 494.43 L583.26 494.59 L583.64 494.75 L584.02 494.92 L584.39 495.10 L584.77 495.28 L585.14 495.47 L585.52 495.66 L585.90 495.86 L586.28 496.07 L586.67 496.27 L587.06 496.48 L587.45 496.70 L587.86 496.91 L588.27 497.13 L588.68 497.35 L589.11 497.56 L589.55 497.78 L590.00 498.00 L590.45 498.23 L590.90 498.47 L591.35 498.72 L591.79 498.99 L592.23 499.27 L592.67 499.56 L593.11 499.86 L593.55 500.17 L593.99 500.49 L594.43 500.81 L594.88 501.13 L595.33 501.46 L595.78 501.79 L596.24 502.12 L596.71 502.45 L597.18 502.78 L597.66 503.10 L598.15 503.42 L598.65 503.73 L599.16 504.04 L599.68 504.33 L600.21 504.62 L600.76 504.90 L601.32 505.16 L601.89 505.41 L602.48 505.64 L603.08 505.86 L603.70 506.06 L604.34 506.24 L605.00 506.40 L605.67 506.54 L606.34 506.67 L607.01 506.79 L607.69 506.89 L608.37 506.98 L609.06 507.06 L609.75 507.13 L610.45 507.19 L611.17 507.24 L611.89 507.27 L612.62 507.30 L613.37 507.33 L614.13 507.34 L614.90 507.35 L615.69 507.35 L616.49 507.35 L617.31 507.34 L618.15 507.32 L619.01 507.30 L619.89 507.28 L620.79 507.26 L621.71 507.23 L622.66 507.20 L623.62 507.17 L624.62 507.14 L625.64 507.11 L626.69 507.08 L627.76 507.05 L628.87 507.02 L630.00 507.00 L631.19 506.97 L632.47 506.94 L633.82 506.90 L635.24 506.85 L636.72 506.80 L638.26 506.74 L639.84 506.68 L641.47 506.61 L643.13 506.54 L644.81 506.47 L646.52 506.39 L648.25 506.32 L649.98 506.23 L651.71 506.15 L653.44 506.07 L655.15 505.98 L656.84 505.90 L658.51 505.82 L660.15 505.73 L661.74 505.65 L663.29 505.57 L664.78 505.49 L666.22 505.42 L667.58 505.35 L668.88 505.28 L670.09 505.21 L671.22 505.15 L672.25 505.10 L673.18 505.04 L674.00 505.00 L674.72 504.96 L675.36 504.92 L675.91 504.89 L676.39 504.85 L676.79 504.82 L677.12 504.80 L677.39 504.77 L677.60 504.75 L677.75 504.72 L677.85 504.70 L677.91 504.69 L677.92 504.67 L677.90 504.65 L677.84 504.64 L677.75 504.62 L677.64 504.61 L677.51 504.60 L677.36 504.59 L677.20 504.58 L677.04 504.57 L676.87 504.57 L676.71 504.56 L676.55 504.55 L676.40 504.54 L676.27 504.54 L676.16 504.53 L676.07 504.52 L676.01 504.52 L675.99 504.51 L676.00 504.50" stroke="#a86ee8" stroke-width="1.00" fill="none" stroke-linecap="round" stroke-linejoin="round"/><g fill="#a86ee8"><circle cx="449.0" cy="509.6" r="2.45"/><circle cx="449.8" cy="509.6" r="2.45"/><circle cx="450.6" cy="509.6" r="2.45"/><circle cx="451.4" cy="509.6" r="2.45"/><circle cx="452.2" cy="509.6" r="2.45"/><circle cx="453.0" cy="509.6" r="2.45"/><circle cx="453.8" cy="509.7" r="2.45"/><circle cx="454.6" cy="509.7" r="2.45"/><circle cx="455.4" cy="509.7" r="2.45"/><circle cx="456.2" cy="509.7" r="2.45"/><circle cx="457.0" cy="509.7" r="2.45"/><circle cx="457.8" cy="509.7" r="2.45"/><circle cx="458.6" cy="509.7" r="2.45"/><circle cx="459.4" cy="509.8" r="2.45"/><circle cx="460.2" cy="509.8" r="2.45"/><circle cx="461.0" cy="509.8" r="2.45"/><circle cx="461.8" cy="509.8" r="2.45"/><circle cx="462.6" cy="509.8" r="2.45"/><circle cx="463.4" cy="509.8" r="2.45"/><circle cx="464.2" cy="509.8" r="2.45"/><circle cx="465.0" cy="509.9" r="2.45"/><circle cx="465.8" cy="509.9" r="2.45"/><circle cx="466.6" cy="509.9" r="2.45"/><circle cx="467.4" cy="509.9" r="2.45"/><circle cx="468.2" cy="509.9" r="2.45"/><circle cx="469.0" cy="509.9" r="2.45"/><circle cx="469.8" cy="509.9" r="2.45"/><circle cx="470.6" cy="509.9" r="2.45"/><circle cx="471.4" cy="510.0" r="2.45"/><circle cx="472.2" cy="510.0" r="2.45"/><circle cx="473.0" cy="510.0" r="2.45"/><circle cx="473.8" cy="510.0" r="2.45"/><circle cx="474.6" cy="510.0" r="2.45"/><circle cx="475.4" cy="510.0" r="2.45"/><circle cx="476.2" cy="510.0" r="2.45"/><circle cx="477.0" cy="510.0" r="2.45"/><circle cx="477.8" cy="510.0" r="2.45"/><circle cx="478.6" cy="510.0" r="2.45"/><circle cx="479.4" cy="510.0" r="2.45"/><circle cx="480.2" cy="510.0" r="2.45"/><circle cx="481.0" cy="510.0" r="2.45"/><circle cx="481.8" cy="510.0" r="2.45"/><circle cx="482.6" cy="510.0" r="2.45"/><circle cx="483.4" cy="510.0" r="2.45"/><circle cx="484.2" cy="510.0" r="2.45"/><circle cx="485.0" cy="510.0" r="2.45"/><circle cx="485.8" cy="510.0" r="2.45"/><circle cx="486.6" cy="510.0" r="2.45"/><circle cx="487.4" cy="509.9" r="2.45"/><circle cx="488.2" cy="509.9" r="2.45"/><circle cx="489.0" cy="509.9" r="2.45"/><circle cx="489.8" cy="509.9" r="2.45"/><circle cx="490.6" cy="509.8" r="2.45"/><circle cx="491.4" cy="509.8" r="2.45"/><circle cx="492.2" cy="509.8" r="2.45"/><circle cx="493.0" cy="509.7" r="2.45"/><circle cx="493.8" cy="509.6" r="2.45"/><circle cx="494.6" cy="509.5" r="2.45"/><circle cx="495.4" cy="509.4" r="2.45"/><circle cx="496.2" cy="509.3" r="2.45"/><circle cx="497.0" cy="509.2" r="2.45"/><circle cx="497.8" cy="509.0" r="2.45"/><circle cx="498.6" cy="508.7" r="2.45"/><circle cx="499.4" cy="502.4" r="2.45"/><circle cx="500.2" cy="497.4" r="2.45"/><circle cx="501.0" cy="489.8" r="2.45"/><circle cx="501.8" cy="482.3" r="2.45"/><circle cx="502.6" cy="473.7" r="2.45"/><circle cx="503.4" cy="466.4" r="2.45"/><circle cx="504.2" cy="460.2" r="2.45"/><circle cx="505.0" cy="457.0" r="2.45"/><circle cx="505.8" cy="455.3" r="2.45"/><circle cx="506.6" cy="454.1" r="2.45"/><circle cx="507.4" cy="453.3" r="2.45"/><circle cx="508.2" cy="453.0" r="2.45"/><circle cx="509.0" cy="453.0" r="2.45"/><circle cx="509.8" cy="453.6" r="2.45"/><circle cx="510.6" cy="454.6" r="2.45"/><circle cx="511.4" cy="455.9" r="2.45"/><circle cx="512.2" cy="457.3" r="2.45"/><circle cx="513.0" cy="458.7" r="2.45"/><circle cx="513.8" cy="460.3" r="2.45"/><circle cx="514.6" cy="462.1" r="2.45"/><circle cx="515.4" cy="463.8" r="2.45"/><circle cx="516.2" cy="465.2" r="2.45"/><circle cx="517.0" cy="466.2" r="2.45"/><circle cx="517.8" cy="467.0" r="2.45"/><circle cx="518.6" cy="467.7" r="2.45"/><circle cx="519.4" cy="468.6" r="2.45"/><circle cx="520.2" cy="469.9" r="2.45"/><circle cx="521.0" cy="471.5" r="2.45"/><circle cx="521.8" cy="473.4" r="2.45"/><circle cx="522.6" cy="475.4" r="2.45"/><circle cx="523.4" cy="477.5" r="2.45"/><circle cx="524.2" cy="479.7" r="2.45"/><circle cx="525.0" cy="482.2" r="2.45"/><circle cx="525.8" cy="484.9" r="2.45"/><circle cx="526.6" cy="487.3" r="2.45"/><circle cx="527.4" cy="489.5" r="2.45"/><circle cx="528.2" cy="491.4" r="2.45"/><circle cx="529.0" cy="493.3" r="2.45"/><circle cx="529.8" cy="495.0" r="2.45"/><circle cx="530.6" cy="496.7" r="2.45"/><circle cx="531.4" cy="498.3" r="2.45"/><circle cx="532.2" cy="499.7" r="2.45"/><circle cx="533.0" cy="501.0" r="2.45"/><circle cx="533.8" cy="502.0" r="2.45"/><circle cx="534.6" cy="503.0" r="2.45"/><circle cx="535.4" cy="503.7" r="2.45"/><circle cx="536.2" cy="504.3" r="2.45"/><circle cx="537.0" cy="504.7" r="2.45"/><circle cx="537.8" cy="505.0" r="2.45"/><circle cx="538.6" cy="505.1" r="2.45"/><circle cx="539.4" cy="505.2" r="2.45"/><circle cx="540.2" cy="505.3" r="2.45"/><circle cx="541.0" cy="505.3" r="2.45"/><circle cx="541.8" cy="505.2" r="2.45"/><circle cx="542.6" cy="505.1" r="2.45"/><circle cx="543.4" cy="504.9" r="2.45"/><circle cx="544.2" cy="504.7" r="2.45"/><circle cx="545.0" cy="504.5" r="2.45"/><circle cx="545.8" cy="504.3" r="2.45"/><circle cx="546.6" cy="504.0" r="2.45"/><circle cx="547.4" cy="503.7" r="2.45"/><circle cx="548.2" cy="503.4" r="2.45"/><circle cx="549.0" cy="503.1" r="2.45"/><circle cx="549.8" cy="502.7" r="2.45"/><circle cx="550.6" cy="502.3" r="2.45"/><circle cx="551.4" cy="501.8" r="2.45"/><circle cx="552.2" cy="501.4" r="2.45"/><circle cx="553.0" cy="500.9" r="2.45"/><circle cx="553.8" cy="500.5" r="2.45"/><circle cx="554.6" cy="500.0" r="2.45"/><circle cx="555.4" cy="499.6" r="2.45"/><circle cx="556.2" cy="499.1" r="2.45"/><circle cx="557.0" cy="498.7" r="2.45"/><circle cx="557.8" cy="498.4" r="2.45"/><circle cx="558.6" cy="498.0" r="2.45"/><circle cx="559.4" cy="497.7" r="2.45"/><circle cx="560.2" cy="497.4" r="2.45"/><circle cx="561.0" cy="497.2" r="2.45"/><circle cx="561.8" cy="496.9" r="2.45"/><circle cx="562.6" cy="496.6" r="2.45"/><circle cx="563.4" cy="496.4" r="2.45"/><circle cx="564.2" cy="496.1" r="2.45"/><circle cx="565.0" cy="495.9" r="2.45"/><circle cx="565.8" cy="495.6" r="2.45"/><circle cx="566.6" cy="495.4" r="2.45"/><circle cx="567.4" cy="495.2" r="2.45"/><circle cx="568.2" cy="495.0" r="2.45"/><circle cx="569.0" cy="494.7" r="2.45"/><circle cx="569.8" cy="494.5" r="2.45"/><circle cx="570.6" cy="494.4" r="2.45"/><circle cx="571.4" cy="494.2" r="2.45"/><circle cx="572.2" cy="494.0" r="2.45"/><circle cx="573.0" cy="493.9" r="2.45"/><circle cx="573.8" cy="493.7" r="2.45"/><circle cx="574.6" cy="493.6" r="2.45"/><circle cx="575.4" cy="493.5" r="2.45"/><circle cx="576.2" cy="493.4" r="2.45"/><circle cx="577.0" cy="493.4" r="2.45"/><circle cx="577.8" cy="493.4" r="2.45"/><circle cx="578.6" cy="493.4" r="2.45"/><circle cx="579.4" cy="493.5" r="2.45"/><circle cx="580.2" cy="493.7" r="2.45"/><circle cx="581.0" cy="493.8" r="2.45"/><circle cx="581.8" cy="494.1" r="2.45"/><circle cx="582.6" cy="494.3" r="2.45"/><circle cx="583.4" cy="494.6" r="2.45"/><circle cx="584.2" cy="495.0" r="2.45"/><circle cx="585.0" cy="495.4" r="2.45"/><circle cx="585.8" cy="495.8" r="2.45"/><circle cx="586.6" cy="496.2" r="2.45"/><circle cx="587.4" cy="496.7" r="2.45"/><circle cx="588.2" cy="497.1" r="2.45"/><circle cx="589.0" cy="497.5" r="2.45"/><circle cx="589.8" cy="497.9" r="2.45"/><circle cx="590.6" cy="498.3" r="2.45"/><circle cx="591.4" cy="498.8" r="2.45"/><circle cx="592.2" cy="499.3" r="2.45"/><circle cx="593.0" cy="499.8" r="2.45"/><circle cx="593.8" cy="500.4" r="2.45"/><circle cx="594.6" cy="500.9" r="2.45"/><circle cx="595.4" cy="501.5" r="2.45"/><circle cx="596.2" cy="502.1" r="2.45"/><circle cx="597.0" cy="502.7" r="2.45"/><circle cx="597.8" cy="503.2" r="2.45"/><circle cx="598.6" cy="503.7" r="2.45"/><circle cx="599.4" cy="504.2" r="2.45"/><circle cx="600.2" cy="504.6" r="2.45"/><circle cx="601.0" cy="505.0" r="2.45"/><circle cx="601.8" cy="505.4" r="2.45"/><circle cx="602.6" cy="505.7" r="2.45"/><circle cx="603.4" cy="506.0" r="2.45"/><circle cx="604.2" cy="506.2" r="2.45"/><circle cx="605.0" cy="506.4" r="2.45"/><circle cx="605.8" cy="506.6" r="2.45"/><circle cx="606.6" cy="506.7" r="2.45"/><circle cx="607.4" cy="506.8" r="2.45"/><circle cx="608.2" cy="507.0" r="2.45"/><circle cx="609.0" cy="507.1" r="2.45"/><circle cx="609.8" cy="507.1" r="2.45"/><circle cx="610.6" cy="507.2" r="2.45"/><circle cx="611.4" cy="507.2" r="2.45"/><circle cx="612.2" cy="507.3" r="2.45"/><circle cx="613.0" cy="507.3" r="2.45"/><circle cx="613.8" cy="507.3" r="2.45"/><circle cx="614.6" cy="507.3" r="2.45"/><circle cx="615.4" cy="507.3" r="2.45"/><circle cx="616.2" cy="507.3" r="2.45"/><circle cx="617.0" cy="507.3" r="2.45"/><circle cx="617.8" cy="507.3" r="2.45"/><circle cx="618.6" cy="507.3" r="2.45"/><circle cx="619.4" cy="507.3" r="2.45"/><circle cx="620.2" cy="507.3" r="2.45"/><circle cx="621.0" cy="507.3" r="2.45"/><circle cx="621.8" cy="507.2" r="2.45"/><circle cx="622.6" cy="507.2" r="2.45"/><circle cx="623.4" cy="507.2" r="2.45"/><circle cx="624.2" cy="507.2" r="2.45"/><circle cx="625.0" cy="507.1" r="2.45"/><circle cx="625.8" cy="507.1" r="2.45"/><circle cx="626.6" cy="507.1" r="2.45"/><circle cx="627.4" cy="507.1" r="2.45"/><circle cx="628.2" cy="507.0" r="2.45"/><circle cx="629.0" cy="507.0" r="2.45"/><circle cx="629.8" cy="507.0" r="2.45"/><circle cx="630.6" cy="507.0" r="2.45"/><circle cx="631.4" cy="507.0" r="2.45"/><circle cx="632.2" cy="506.9" r="2.45"/><circle cx="633.0" cy="506.9" r="2.45"/><circle cx="633.8" cy="506.9" r="2.45"/><circle cx="634.6" cy="506.9" r="2.45"/><circle cx="635.4" cy="506.8" r="2.45"/><circle cx="636.2" cy="506.8" r="2.45"/><circle cx="637.0" cy="506.8" r="2.45"/><circle cx="637.8" cy="506.8" r="2.45"/><circle cx="638.6" cy="506.7" r="2.45"/><circle cx="639.4" cy="506.7" r="2.45"/><circle cx="640.2" cy="506.7" r="2.45"/><circle cx="641.0" cy="506.6" r="2.45"/><circle cx="641.8" cy="506.6" r="2.45"/><circle cx="642.6" cy="506.6" r="2.45"/><circle cx="643.4" cy="506.5" r="2.45"/><circle cx="644.2" cy="506.5" r="2.45"/><circle cx="645.0" cy="506.5" r="2.45"/><circle cx="645.8" cy="506.4" r="2.45"/><circle cx="646.6" cy="506.4" r="2.45"/><circle cx="647.4" cy="506.4" r="2.45"/><circle cx="648.2" cy="506.3" r="2.45"/><circle cx="649.0" cy="506.3" r="2.45"/><circle cx="649.8" cy="506.2" r="2.45"/><circle cx="650.6" cy="506.2" r="2.45"/><circle cx="651.4" cy="506.2" r="2.45"/><circle cx="652.2" cy="506.1" r="2.45"/><circle cx="653.0" cy="506.1" r="2.45"/><circle cx="653.8" cy="506.1" r="2.45"/><circle cx="654.6" cy="506.0" r="2.45"/><circle cx="655.4" cy="506.0" r="2.45"/><circle cx="656.2" cy="505.9" r="2.45"/><circle cx="657.0" cy="505.9" r="2.45"/><circle cx="657.8" cy="505.9" r="2.45"/><circle cx="658.6" cy="505.8" r="2.45"/><circle cx="659.4" cy="505.8" r="2.45"/><circle cx="660.2" cy="505.7" r="2.45"/><circle cx="661.0" cy="505.7" r="2.45"/><circle cx="661.8" cy="505.6" r="2.45"/><circle cx="662.6" cy="505.6" r="2.45"/><circle cx="663.4" cy="505.6" r="2.45"/><circle cx="664.2" cy="505.5" r="2.45"/><circle cx="665.0" cy="505.5" r="2.45"/><circle cx="665.8" cy="505.4" r="2.45"/><circle cx="666.6" cy="505.4" r="2.45"/><circle cx="667.4" cy="505.4" r="2.45"/><circle cx="668.2" cy="505.3" r="2.45"/><circle cx="669.0" cy="505.3" r="2.45"/><circle cx="669.8" cy="505.2" r="2.45"/><circle cx="670.6" cy="505.2" r="2.45"/><circle cx="671.4" cy="505.1" r="2.45"/><circle cx="672.2" cy="505.1" r="2.45"/><circle cx="673.0" cy="505.1" r="2.45"/><circle cx="673.8" cy="505.0" r="2.45"/><circle cx="674.6" cy="505.0" r="2.45"/><circle cx="675.4" cy="504.9" r="2.45"/><circle cx="676.2" cy="504.9" r="2.45"/><circle cx="677.0" cy="504.8" r="2.45"/><circle cx="677.8" cy="504.7" r="2.45"/></g><g fill="#eee2fb"><circle cx="449.0" cy="509.6" r="0.45"/><circle cx="449.8" cy="509.6" r="0.45"/><circle cx="450.6" cy="509.6" r="0.45"/><circle cx="451.4" cy="509.6" r="0.45"/><circle cx="452.2" cy="509.6" r="0.45"/><circle cx="453.0" cy="509.6" r="0.45"/><circle cx="453.8" cy="509.7" r="0.45"/><circle cx="454.6" cy="509.7" r="0.45"/><circle cx="455.4" cy="509.7" r="0.45"/><circle cx="456.2" cy="509.7" r="0.45"/><circle cx="457.0" cy="509.7" r="0.45"/><circle cx="457.8" cy="509.7" r="0.45"/><circle cx="458.6" cy="509.7" r="0.45"/><circle cx="459.4" cy="509.8" r="0.45"/><circle cx="460.2" cy="509.8" r="0.45"/><circle cx="461.0" cy="509.8" r="0.45"/><circle cx="461.8" cy="509.8" r="0.45"/><circle cx="462.6" cy="509.8" r="0.45"/><circle cx="463.4" cy="509.8" r="0.45"/><circle cx="464.2" cy="509.8" r="0.45"/><circle cx="465.0" cy="509.9" r="0.45"/><circle cx="465.8" cy="509.9" r="0.45"/><circle cx="466.6" cy="509.9" r="0.45"/><circle cx="467.4" cy="509.9" r="0.45"/><circle cx="468.2" cy="509.9" r="0.45"/><circle cx="469.0" cy="509.9" r="0.45"/><circle cx="469.8" cy="509.9" r="0.45"/><circle cx="470.6" cy="509.9" r="0.45"/><circle cx="471.4" cy="510.0" r="0.45"/><circle cx="472.2" cy="510.0" r="0.45"/><circle cx="473.0" cy="510.0" r="0.45"/><circle cx="473.8" cy="510.0" r="0.45"/><circle cx="474.6" cy="510.0" r="0.45"/><circle cx="475.4" cy="510.0" r="0.45"/><circle cx="476.2" cy="510.0" r="0.45"/><circle cx="477.0" cy="510.0" r="0.45"/><circle cx="477.8" cy="510.0" r="0.45"/><circle cx="478.6" cy="510.0" r="0.45"/><circle cx="479.4" cy="510.0" r="0.45"/><circle cx="480.2" cy="510.0" r="0.45"/><circle cx="481.0" cy="510.0" r="0.45"/><circle cx="481.8" cy="510.0" r="0.45"/><circle cx="482.6" cy="510.0" r="0.45"/><circle cx="483.4" cy="510.0" r="0.45"/><circle cx="484.2" cy="510.0" r="0.45"/><circle cx="485.0" cy="510.0" r="0.45"/><circle cx="485.8" cy="510.0" r="0.45"/><circle cx="486.6" cy="510.0" r="0.45"/><circle cx="487.4" cy="509.9" r="0.45"/><circle cx="488.2" cy="509.9" r="0.45"/><circle cx="489.0" cy="509.9" r="0.45"/><circle cx="489.8" cy="509.9" r="0.45"/><circle cx="490.6" cy="509.8" r="0.45"/><circle cx="491.4" cy="509.8" r="0.45"/><circle cx="492.2" cy="509.8" r="0.45"/><circle cx="493.0" cy="509.7" r="0.45"/><circle cx="493.8" cy="509.6" r="0.45"/><circle cx="494.6" cy="509.5" r="0.45"/><circle cx="495.4" cy="509.4" r="0.45"/><circle cx="496.2" cy="509.3" r="0.45"/><circle cx="497.0" cy="509.2" r="0.45"/><circle cx="497.8" cy="509.0" r="0.45"/><circle cx="498.6" cy="508.7" r="0.45"/><circle cx="499.4" cy="502.4" r="0.45"/><circle cx="500.2" cy="497.4" r="0.45"/><circle cx="501.0" cy="489.8" r="0.45"/><circle cx="501.8" cy="482.3" r="0.45"/><circle cx="502.6" cy="473.7" r="0.45"/><circle cx="503.4" cy="466.4" r="0.45"/><circle cx="504.2" cy="460.2" r="0.45"/><circle cx="505.0" cy="457.0" r="0.45"/><circle cx="505.8" cy="455.3" r="0.45"/><circle cx="506.6" cy="454.1" r="0.45"/><circle cx="507.4" cy="453.3" r="0.45"/><circle cx="508.2" cy="453.0" r="0.45"/><circle cx="509.0" cy="453.0" r="0.45"/><circle cx="509.8" cy="453.6" r="0.45"/><circle cx="510.6" cy="454.6" r="0.45"/><circle cx="511.4" cy="455.9" r="0.45"/><circle cx="512.2" cy="457.3" r="0.45"/><circle cx="513.0" cy="458.7" r="0.45"/><circle cx="513.8" cy="460.3" r="0.45"/><circle cx="514.6" cy="462.1" r="0.45"/><circle cx="515.4" cy="463.8" r="0.45"/><circle cx="516.2" cy="465.2" r="0.45"/><circle cx="517.0" cy="466.2" r="0.45"/><circle cx="517.8" cy="467.0" r="0.45"/><circle cx="518.6" cy="467.7" r="0.45"/><circle cx="519.4" cy="468.6" r="0.45"/><circle cx="520.2" cy="469.9" r="0.45"/><circle cx="521.0" cy="471.5" r="0.45"/><circle cx="521.8" cy="473.4" r="0.45"/><circle cx="522.6" cy="475.4" r="0.45"/><circle cx="523.4" cy="477.5" r="0.45"/><circle cx="524.2" cy="479.7" r="0.45"/><circle cx="525.0" cy="482.2" r="0.45"/><circle cx="525.8" cy="484.9" r="0.45"/><circle cx="526.6" cy="487.3" r="0.45"/><circle cx="527.4" cy="489.5" r="0.45"/><circle cx="528.2" cy="491.4" r="0.45"/><circle cx="529.0" cy="493.3" r="0.45"/><circle cx="529.8" cy="495.0" r="0.45"/><circle cx="530.6" cy="496.7" r="0.45"/><circle cx="531.4" cy="498.3" r="0.45"/><circle cx="532.2" cy="499.7" r="0.45"/><circle cx="533.0" cy="501.0" r="0.45"/><circle cx="533.8" cy="502.0" r="0.45"/><circle cx="534.6" cy="503.0" r="0.45"/><circle cx="535.4" cy="503.7" r="0.45"/><circle cx="536.2" cy="504.3" r="0.45"/><circle cx="537.0" cy="504.7" r="0.45"/><circle cx="537.8" cy="505.0" r="0.45"/><circle cx="538.6" cy="505.1" r="0.45"/><circle cx="539.4" cy="505.2" r="0.45"/><circle cx="540.2" cy="505.3" r="0.45"/><circle cx="541.0" cy="505.3" r="0.45"/><circle cx="541.8" cy="505.2" r="0.45"/><circle cx="542.6" cy="505.1" r="0.45"/><circle cx="543.4" cy="504.9" r="0.45"/><circle cx="544.2" cy="504.7" r="0.45"/><circle cx="545.0" cy="504.5" r="0.45"/><circle cx="545.8" cy="504.3" r="0.45"/><circle cx="546.6" cy="504.0" r="0.45"/><circle cx="547.4" cy="503.7" r="0.45"/><circle cx="548.2" cy="503.4" r="0.45"/><circle cx="549.0" cy="503.1" r="0.45"/><circle cx="549.8" cy="502.7" r="0.45"/><circle cx="550.6" cy="502.3" r="0.45"/><circle cx="551.4" cy="501.8" r="0.45"/><circle cx="552.2" cy="501.4" r="0.45"/><circle cx="553.0" cy="500.9" r="0.45"/><circle cx="553.8" cy="500.5" r="0.45"/><circle cx="554.6" cy="500.0" r="0.45"/><circle cx="555.4" cy="499.6" r="0.45"/><circle cx="556.2" cy="499.1" r="0.45"/><circle cx="557.0" cy="498.7" r="0.45"/><circle cx="557.8" cy="498.4" r="0.45"/><circle cx="558.6" cy="498.0" r="0.45"/><circle cx="559.4" cy="497.7" r="0.45"/><circle cx="560.2" cy="497.4" r="0.45"/><circle cx="561.0" cy="497.2" r="0.45"/><circle cx="561.8" cy="496.9" r="0.45"/><circle cx="562.6" cy="496.6" r="0.45"/><circle cx="563.4" cy="496.4" r="0.45"/><circle cx="564.2" cy="496.1" r="0.45"/><circle cx="565.0" cy="495.9" r="0.45"/><circle cx="565.8" cy="495.6" r="0.45"/><circle cx="566.6" cy="495.4" r="0.45"/><circle cx="567.4" cy="495.2" r="0.45"/><circle cx="568.2" cy="495.0" r="0.45"/><circle cx="569.0" cy="494.7" r="0.45"/><circle cx="569.8" cy="494.5" r="0.45"/><circle cx="570.6" cy="494.4" r="0.45"/><circle cx="571.4" cy="494.2" r="0.45"/><circle cx="572.2" cy="494.0" r="0.45"/><circle cx="573.0" cy="493.9" r="0.45"/><circle cx="573.8" cy="493.7" r="0.45"/><circle cx="574.6" cy="493.6" r="0.45"/><circle cx="575.4" cy="493.5" r="0.45"/><circle cx="576.2" cy="493.4" r="0.45"/><circle cx="577.0" cy="493.4" r="0.45"/><circle cx="577.8" cy="493.4" r="0.45"/><circle cx="578.6" cy="493.4" r="0.45"/><circle cx="579.4" cy="493.5" r="0.45"/><circle cx="580.2" cy="493.7" r="0.45"/><circle cx="581.0" cy="493.8" r="0.45"/><circle cx="581.8" cy="494.1" r="0.45"/><circle cx="582.6" cy="494.3" r="0.45"/><circle cx="583.4" cy="494.6" r="0.45"/><circle cx="584.2" cy="495.0" r="0.45"/><circle cx="585.0" cy="495.4" r="0.45"/><circle cx="585.8" cy="495.8" r="0.45"/><circle cx="586.6" cy="496.2" r="0.45"/><circle cx="587.4" cy="496.7" r="0.45"/><circle cx="588.2" cy="497.1" r="0.45"/><circle cx="589.0" cy="497.5" r="0.45"/><circle cx="589.8" cy="497.9" r="0.45"/><circle cx="590.6" cy="498.3" r="0.45"/><circle cx="591.4" cy="498.8" r="0.45"/><circle cx="592.2" cy="499.3" r="0.45"/><circle cx="593.0" cy="499.8" r="0.45"/><circle cx="593.8" cy="500.4" r="0.45"/><circle cx="594.6" cy="500.9" r="0.45"/><circle cx="595.4" cy="501.5" r="0.45"/><circle cx="596.2" cy="502.1" r="0.45"/><circle cx="597.0" cy="502.7" r="0.45"/><circle cx="597.8" cy="503.2" r="0.45"/><circle cx="598.6" cy="503.7" r="0.45"/><circle cx="599.4" cy="504.2" r="0.45"/><circle cx="600.2" cy="504.6" r="0.45"/><circle cx="601.0" cy="505.0" r="0.45"/><circle cx="601.8" cy="505.4" r="0.45"/><circle cx="602.6" cy="505.7" r="0.45"/><circle cx="603.4" cy="506.0" r="0.45"/><circle cx="604.2" cy="506.2" r="0.45"/><circle cx="605.0" cy="506.4" r="0.45"/><circle cx="605.8" cy="506.6" r="0.45"/><circle cx="606.6" cy="506.7" r="0.45"/><circle cx="607.4" cy="506.8" r="0.45"/><circle cx="608.2" cy="507.0" r="0.45"/><circle cx="609.0" cy="507.1" r="0.45"/><circle cx="609.8" cy="507.1" r="0.45"/><circle cx="610.6" cy="507.2" r="0.45"/><circle cx="611.4" cy="507.2" r="0.45"/><circle cx="612.2" cy="507.3" r="0.45"/><circle cx="613.0" cy="507.3" r="0.45"/><circle cx="613.8" cy="507.3" r="0.45"/><circle cx="614.6" cy="507.3" r="0.45"/><circle cx="615.4" cy="507.3" r="0.45"/><circle cx="616.2" cy="507.3" r="0.45"/><circle cx="617.0" cy="507.3" r="0.45"/><circle cx="617.8" cy="507.3" r="0.45"/><circle cx="618.6" cy="507.3" r="0.45"/><circle cx="619.4" cy="507.3" r="0.45"/><circle cx="620.2" cy="507.3" r="0.45"/><circle cx="621.0" cy="507.3" r="0.45"/><circle cx="621.8" cy="507.2" r="0.45"/><circle cx="622.6" cy="507.2" r="0.45"/><circle cx="623.4" cy="507.2" r="0.45"/><circle cx="624.2" cy="507.2" r="0.45"/><circle cx="625.0" cy="507.1" r="0.45"/><circle cx="625.8" cy="507.1" r="0.45"/><circle cx="626.6" cy="507.1" r="0.45"/><circle cx="627.4" cy="507.1" r="0.45"/><circle cx="628.2" cy="507.0" r="0.45"/><circle cx="629.0" cy="507.0" r="0.45"/><circle cx="629.8" cy="507.0" r="0.45"/><circle cx="630.6" cy="507.0" r="0.45"/><circle cx="631.4" cy="507.0" r="0.45"/><circle cx="632.2" cy="506.9" r="0.45"/><circle cx="633.0" cy="506.9" r="0.45"/><circle cx="633.8" cy="506.9" r="0.45"/><circle cx="634.6" cy="506.9" r="0.45"/><circle cx="635.4" cy="506.8" r="0.45"/><circle cx="636.2" cy="506.8" r="0.45"/><circle cx="637.0" cy="506.8" r="0.45"/><circle cx="637.8" cy="506.8" r="0.45"/><circle cx="638.6" cy="506.7" r="0.45"/><circle cx="639.4" cy="506.7" r="0.45"/><circle cx="640.2" cy="506.7" r="0.45"/><circle cx="641.0" cy="506.6" r="0.45"/><circle cx="641.8" cy="506.6" r="0.45"/><circle cx="642.6" cy="506.6" r="0.45"/><circle cx="643.4" cy="506.5" r="0.45"/><circle cx="644.2" cy="506.5" r="0.45"/><circle cx="645.0" cy="506.5" r="0.45"/><circle cx="645.8" cy="506.4" r="0.45"/><circle cx="646.6" cy="506.4" r="0.45"/><circle cx="647.4" cy="506.4" r="0.45"/><circle cx="648.2" cy="506.3" r="0.45"/><circle cx="649.0" cy="506.3" r="0.45"/><circle cx="649.8" cy="506.2" r="0.45"/><circle cx="650.6" cy="506.2" r="0.45"/><circle cx="651.4" cy="506.2" r="0.45"/><circle cx="652.2" cy="506.1" r="0.45"/><circle cx="653.0" cy="506.1" r="0.45"/><circle cx="653.8" cy="506.1" r="0.45"/><circle cx="654.6" cy="506.0" r="0.45"/><circle cx="655.4" cy="506.0" r="0.45"/><circle cx="656.2" cy="505.9" r="0.45"/><circle cx="657.0" cy="505.9" r="0.45"/><circle cx="657.8" cy="505.9" r="0.45"/><circle cx="658.6" cy="505.8" r="0.45"/><circle cx="659.4" cy="505.8" r="0.45"/><circle cx="660.2" cy="505.7" r="0.45"/><circle cx="661.0" cy="505.7" r="0.45"/><circle cx="661.8" cy="505.6" r="0.45"/><circle cx="662.6" cy="505.6" r="0.45"/><circle cx="663.4" cy="505.6" r="0.45"/><circle cx="664.2" cy="505.5" r="0.45"/><circle cx="665.0" cy="505.5" r="0.45"/><circle cx="665.8" cy="505.4" r="0.45"/><circle cx="666.6" cy="505.4" r="0.45"/><circle cx="667.4" cy="505.4" r="0.45"/><circle cx="668.2" cy="505.3" r="0.45"/><circle cx="669.0" cy="505.3" r="0.45"/><circle cx="669.8" cy="505.2" r="0.45"/><circle cx="670.6" cy="505.2" r="0.45"/><circle cx="671.4" cy="505.1" r="0.45"/><circle cx="672.2" cy="505.1" r="0.45"/><circle cx="673.0" cy="505.1" r="0.45"/><circle cx="673.8" cy="505.0" r="0.45"/><circle cx="674.6" cy="505.0" r="0.45"/><circle cx="675.4" cy="504.9" r="0.45"/><circle cx="676.2" cy="504.9" r="0.45"/><circle cx="677.0" cy="504.8" r="0.45"/><circle cx="677.8" cy="504.7" r="0.45"/></g></g><g clip-path="url(#clipD)"><path d="M496.50 509.70 L496.62 509.68 L496.76 509.66 L496.91 509.64 L497.07 509.62 L497.24 509.60 L497.42 509.58 L497.61 509.57 L497.82 509.55 L498.03 509.53 L498.24 509.50 L498.47 509.48 L498.70 509.46 L498.95 509.43 L499.19 509.40 L499.44 509.37 L499.70 509.33 L499.96 509.30 L500.23 509.26 L500.50 509.21 L500.77 509.16 L501.04 509.11 L501.31 509.05 L501.59 508.99 L501.87 508.92 L502.14 508.85 L502.42 508.77 L502.69 508.69 L502.96 508.60 L503.23 508.50 L503.50 508.40 L503.77 508.29 L504.04 508.17 L504.32 508.04 L504.60 507.91 L504.89 507.77 L505.18 507.62 L505.47 507.46 L505.77 507.30 L506.07 507.14 L506.37 506.97 L506.68 506.79 L506.99 506.61 L507.29 506.43 L507.60 506.25 L507.91 506.06 L508.22 505.87 L508.53 505.68 L508.84 505.49 L509.15 505.30 L509.46 505.11 L509.77 504.92 L510.07 504.73 L510.37 504.54 L510.67 504.36 L510.97 504.17 L511.26 503.99 L511.55 503.81 L511.84 503.64 L512.12 503.47 L512.40 503.30 L512.67 503.14 L512.94 502.97 L513.21 502.81 L513.48 502.64 L513.74 502.48 L514.00 502.32 L514.26 502.15 L514.52 501.99 L514.78 501.83 L515.03 501.66 L515.28 501.50 L515.53 501.34 L515.78 501.18 L516.03 501.02 L516.28 500.86 L516.53 500.70 L516.78 500.54 L517.02 500.38 L517.27 500.23 L517.51 500.07 L517.76 499.92 L518.01 499.76 L518.25 499.61 L518.50 499.46 L518.75 499.32 L519.00 499.17 L519.25 499.02 L519.50 498.88 L519.75 498.74 L520.00 498.60 L520.25 498.46 L520.51 498.32 L520.76 498.18 L521.01 498.04 L521.27 497.90 L521.52 497.76 L521.77 497.62 L522.03 497.48 L522.28 497.34 L522.53 497.21 L522.79 497.07 L523.04 496.94 L523.29 496.80 L523.55 496.67 L523.80 496.54 L524.05 496.42 L524.31 496.29 L524.56 496.17 L524.81 496.05 L525.07 495.94 L525.32 495.82 L525.57 495.72 L525.83 495.61 L526.08 495.51 L526.33 495.41 L526.59 495.32 L526.84 495.23 L527.09 495.15 L527.35 495.07 L527.60 495.00 L527.85 494.93 L528.11 494.87 L528.36 494.81 L528.62 494.75 L528.88 494.70 L529.13 494.66 L529.39 494.61 L529.65 494.57 L529.91 494.54 L530.16 494.50 L530.42 494.47 L530.68 494.45 L530.94 494.42 L531.19 494.40 L531.45 494.39 L531.71 494.37 L531.96 494.36 L532.22 494.35 L532.47 494.35 L532.73 494.34 L532.98 494.34 L533.23 494.34 L533.48 494.34 L533.73 494.34 L533.98 494.35 L534.23 494.36 L534.47 494.37 L534.72 494.38 L534.96 494.39 L535.20 494.40 L535.44 494.42 L535.67 494.44 L535.89 494.46 L536.11 494.49 L536.33 494.52 L536.54 494.55 L536.75 494.59 L536.96 494.63 L537.17 494.67 L537.37 494.72 L537.57 494.77 L537.78 494.82 L537.98 494.87 L538.18 494.92 L538.39 494.97 L538.59 495.03 L538.80 495.09 L539.02 495.14 L539.23 495.20 L539.45 495.26 L539.68 495.32 L539.91 495.37 L540.14 495.43 L540.38 495.49 L540.63 495.54 L540.89 495.60 L541.15 495.65 L541.43 495.70 L541.71 495.75 L542.00 495.80 L542.30 495.85 L542.61 495.91 L542.92 495.97 L543.24 496.04 L543.57 496.11 L543.90 496.19 L544.24 496.26 L544.58 496.35 L544.93 496.43 L545.28 496.51 L545.64 496.59 L546.00 496.68 L546.37 496.76 L546.74 496.84 L547.11 496.91 L547.49 496.98 L547.87 497.05 L548.25 497.12 L548.64 497.17 L549.03 497.22 L549.42 497.27 L549.81 497.30 L550.21 497.33 L550.60 497.34 L551.00 497.35 L551.40 497.34 L551.80 497.33 L552.20 497.30 L552.60 497.26 L553.00 497.20 L553.40 497.13 L553.81 497.06 L554.22 496.98 L554.63 496.90 L555.05 496.80 L555.47 496.71 L555.90 496.60 L556.32 496.49 L556.75 496.37 L557.19 496.24 L557.62 496.11 L558.06 495.96 L558.49 495.82 L558.93 495.66 L559.38 495.49 L559.82 495.32 L560.26 495.14 L560.70 494.95 L561.15 494.75 L561.59 494.55 L562.04 494.33 L562.48 494.11 L562.92 493.88 L563.37 493.64 L563.81 493.39 L564.25 493.13 L564.69 492.86 L565.13 492.58 L565.57 492.30 L566.00 492.00 L566.43 491.69 L566.87 491.37 L567.30 491.05 L567.73 490.71 L568.17 490.36 L568.60 490.00 L569.03 489.63 L569.47 489.25 L569.90 488.86 L570.33 488.47 L570.77 488.06 L571.20 487.65 L571.63 487.23 L572.07 486.80 L572.50 486.36 L572.93 485.92 L573.37 485.47 L573.80 485.01 L574.23 484.55 L574.67 484.08 L575.10 483.60 L575.53 483.12 L575.97 482.63 L576.40 482.14 L576.83 481.65 L577.27 481.14 L577.70 480.64 L578.13 480.13 L578.57 479.62 L579.00 479.10 L579.43 478.57 L579.87 478.02 L580.31 477.46 L580.76 476.87 L581.20 476.28 L581.65 475.67 L582.10 475.04 L582.54 474.41 L582.99 473.77 L583.44 473.12 L583.89 472.46 L584.34 471.80 L584.79 471.14 L585.24 470.48 L585.69 469.81 L586.13 469.15 L586.58 468.49 L587.02 467.84 L587.45 467.19 L587.89 466.55 L588.32 465.92 L588.75 465.30 L589.17 464.69 L589.59 464.09 L590.01 463.51 L590.42 462.95 L590.82 462.41 L591.22 461.88 L591.61 461.38 L592.00 460.90 L592.38 460.44 L592.76 459.99 L593.12 459.54 L593.49 459.11 L593.85 458.69 L594.20 458.28 L594.55 457.89 L594.90 457.50 L595.24 457.12 L595.58 456.74 L595.91 456.38 L596.24 456.03 L596.57 455.69 L596.90 455.35 L597.23 455.02 L597.55 454.71 L597.87 454.40 L598.19 454.09 L598.51 453.80 L598.82 453.51 L599.14 453.23 L599.45 452.96 L599.77 452.69 L600.09 452.43 L600.40 452.18 L600.72 451.93 L601.04 451.69 L601.36 451.45 L601.68 451.22 L602.00 451.00 L602.32 450.78 L602.65 450.57 L602.97 450.37 L603.29 450.18 L603.61 449.99 L603.93 449.81 L604.25 449.64 L604.57 449.48 L604.89 449.32 L605.21 449.17 L605.52 449.03 L605.84 448.89 L606.16 448.77 L606.47 448.65 L606.79 448.53 L607.10 448.42 L607.41 448.32 L607.73 448.23 L608.04 448.14 L608.35 448.06 L608.66 447.99 L608.97 447.92 L609.27 447.86 L609.58 447.80 L609.89 447.76 L610.19 447.71 L610.50 447.68 L610.80 447.64 L611.10 447.62 L611.40 447.60 L611.70 447.59 L612.00 447.58 L612.29 447.59 L612.59 447.60 L612.88 447.63 L613.18 447.66 L613.47 447.69 L613.76 447.74 L614.05 447.79 L614.34 447.85 L614.62 447.91 L614.91 447.98 L615.20 448.06 L615.48 448.14 L615.77 448.23 L616.05 448.32 L616.34 448.42 L616.62 448.52 L616.90 448.63 L617.19 448.74 L617.47 448.85 L617.75 448.97 L618.03 449.09 L618.31 449.22 L618.59 449.34 L618.87 449.47 L619.16 449.60 L619.44 449.73 L619.72 449.87 L620.00 450.00 L620.28 450.13 L620.55 450.26 L620.81 450.38 L621.07 450.50 L621.32 450.61 L621.56 450.73 L621.80 450.84 L622.04 450.96 L622.28 451.07 L622.52 451.19 L622.75 451.32 L622.99 451.44 L623.23 451.58 L623.47 451.72 L623.71 451.86 L623.96 452.02 L624.21 452.18 L624.47 452.36 L624.73 452.55 L625.00 452.75 L625.28 452.97 L625.57 453.20 L625.87 453.44 L626.18 453.71 L626.50 453.99 L626.83 454.29 L627.18 454.61 L627.54 454.95 L627.91 455.31 L628.30 455.70 L628.71 456.11 L629.13 456.56 L629.56 457.03 L630.01 457.52 L630.48 458.04 L630.95 458.58 L631.44 459.14 L631.94 459.72 L632.44 460.32 L632.96 460.94 L633.48 461.56 L634.01 462.20 L634.55 462.86 L635.10 463.51 L635.64 464.18 L636.20 464.85 L636.75 465.53 L637.31 466.21 L637.87 466.89 L638.43 467.56 L638.99 468.24 L639.55 468.91 L640.11 469.57 L640.66 470.23 L641.22 470.87 L641.76 471.51 L642.31 472.13 L642.84 472.74 L643.38 473.33 L643.90 473.90 L644.42 474.46 L644.94 475.02 L645.47 475.58 L645.99 476.14 L646.52 476.70 L647.04 477.25 L647.57 477.80 L648.09 478.35 L648.62 478.89 L649.15 479.44 L649.68 479.98 L650.20 480.51 L650.73 481.05 L651.26 481.58 L651.78 482.11 L652.31 482.63 L652.83 483.15 L653.35 483.67 L653.88 484.18 L654.40 484.69 L654.92 485.19 L655.43 485.69 L655.95 486.18 L656.46 486.67 L656.98 487.16 L657.49 487.64 L657.99 488.11 L658.50 488.58 L659.00 489.04 L659.50 489.50 L660.00 489.96 L660.52 490.41 L661.04 490.87 L661.56 491.33 L662.10 491.79 L662.64 492.25 L663.18 492.70 L663.72 493.16 L664.27 493.61 L664.81 494.06 L665.35 494.50 L665.89 494.94 L666.43 495.37 L666.96 495.79 L667.49 496.21 L668.01 496.62 L668.51 497.03 L669.01 497.42 L669.50 497.80 L669.98 498.18 L670.44 498.54 L670.89 498.89 L671.32 499.23 L671.74 499.56 L672.13 499.87 L672.51 500.17 L672.87 500.45 L673.20 500.72 L673.51 500.97 L673.80 501.20 L674.06 501.42 L674.30 501.61 L674.52 501.79 L674.72 501.95 L674.89 502.09 L675.05 502.22 L675.19 502.34 L675.31 502.44 L675.42 502.52 L675.51 502.60 L675.59 502.66 L675.66 502.72 L675.71 502.76 L675.76 502.80 L675.79 502.83 L675.82 502.85 L675.84 502.87 L675.86 502.88 L675.87 502.89 L675.88 502.90 L675.88 502.90 L675.89 502.91 L675.89 502.91 L675.89 502.91 L675.90 502.92 L675.91 502.93 L675.92 502.94 L675.94 502.95 L675.97 502.97 L676.00 503.00" stroke="#505050" stroke-width="1.00" fill="none" stroke-linecap="round" stroke-linejoin="round"/><g fill="#505050"><circle cx="496.5" cy="509.7" r="2.40"/><circle cx="497.3" cy="509.6" r="2.40"/><circle cx="498.1" cy="509.5" r="2.40"/><circle cx="498.9" cy="509.4" r="2.40"/><circle cx="499.7" cy="509.3" r="2.40"/><circle cx="500.5" cy="509.2" r="2.40"/><circle cx="501.3" cy="509.1" r="2.40"/><circle cx="502.1" cy="508.9" r="2.40"/><circle cx="502.9" cy="508.6" r="2.40"/><circle cx="503.7" cy="508.3" r="2.40"/><circle cx="504.5" cy="508.0" r="2.40"/><circle cx="505.3" cy="507.6" r="2.40"/><circle cx="506.1" cy="507.1" r="2.40"/><circle cx="506.9" cy="506.7" r="2.40"/><circle cx="507.7" cy="506.2" r="2.40"/><circle cx="508.5" cy="505.7" r="2.40"/><circle cx="509.3" cy="505.2" r="2.40"/><circle cx="510.1" cy="504.7" r="2.40"/><circle cx="510.9" cy="504.2" r="2.40"/><circle cx="511.7" cy="503.7" r="2.40"/><circle cx="512.5" cy="503.2" r="2.40"/><circle cx="513.3" cy="502.8" r="2.40"/><circle cx="514.1" cy="502.3" r="2.40"/><circle cx="514.9" cy="501.7" r="2.40"/><circle cx="515.7" cy="501.2" r="2.40"/><circle cx="516.5" cy="500.7" r="2.40"/><circle cx="517.3" cy="500.2" r="2.40"/><circle cx="518.1" cy="499.7" r="2.40"/><circle cx="518.9" cy="499.2" r="2.40"/><circle cx="519.7" cy="498.8" r="2.40"/><circle cx="520.5" cy="498.3" r="2.40"/><circle cx="521.3" cy="497.9" r="2.40"/><circle cx="522.1" cy="497.4" r="2.40"/><circle cx="522.9" cy="497.0" r="2.40"/><circle cx="523.7" cy="496.6" r="2.40"/><circle cx="524.5" cy="496.2" r="2.40"/><circle cx="525.3" cy="495.8" r="2.40"/><circle cx="526.1" cy="495.5" r="2.40"/><circle cx="526.9" cy="495.2" r="2.40"/><circle cx="527.7" cy="495.0" r="2.40"/><circle cx="528.5" cy="494.8" r="2.40"/><circle cx="529.3" cy="494.6" r="2.40"/><circle cx="530.1" cy="494.5" r="2.40"/><circle cx="530.9" cy="494.4" r="2.40"/><circle cx="531.7" cy="494.4" r="2.40"/><circle cx="532.5" cy="494.3" r="2.40"/><circle cx="533.3" cy="494.3" r="2.40"/><circle cx="534.1" cy="494.4" r="2.40"/><circle cx="534.9" cy="494.4" r="2.40"/><circle cx="535.7" cy="494.4" r="2.40"/><circle cx="536.5" cy="494.5" r="2.40"/><circle cx="537.3" cy="494.7" r="2.40"/><circle cx="538.1" cy="494.9" r="2.40"/><circle cx="538.9" cy="495.1" r="2.40"/><circle cx="539.7" cy="495.3" r="2.40"/><circle cx="540.5" cy="495.5" r="2.40"/><circle cx="541.3" cy="495.7" r="2.40"/><circle cx="542.1" cy="495.8" r="2.40"/><circle cx="542.9" cy="496.0" r="2.40"/><circle cx="543.7" cy="496.1" r="2.40"/><circle cx="544.5" cy="496.3" r="2.40"/><circle cx="545.3" cy="496.5" r="2.40"/><circle cx="546.1" cy="496.7" r="2.40"/><circle cx="546.9" cy="496.9" r="2.40"/><circle cx="547.7" cy="497.0" r="2.40"/><circle cx="548.5" cy="497.2" r="2.40"/><circle cx="549.3" cy="497.3" r="2.40"/><circle cx="550.1" cy="497.3" r="2.40"/><circle cx="550.9" cy="497.3" r="2.40"/><circle cx="551.7" cy="497.3" r="2.40"/><circle cx="552.5" cy="497.3" r="2.40"/><circle cx="553.3" cy="497.2" r="2.40"/><circle cx="554.1" cy="497.0" r="2.40"/><circle cx="554.9" cy="496.8" r="2.40"/><circle cx="555.7" cy="496.6" r="2.40"/><circle cx="556.5" cy="496.4" r="2.40"/><circle cx="557.3" cy="496.2" r="2.40"/><circle cx="558.1" cy="495.9" r="2.40"/><circle cx="558.9" cy="495.7" r="2.40"/><circle cx="559.7" cy="495.4" r="2.40"/><circle cx="560.5" cy="495.0" r="2.40"/><circle cx="561.3" cy="494.7" r="2.40"/><circle cx="562.1" cy="494.3" r="2.40"/><circle cx="562.9" cy="493.9" r="2.40"/><circle cx="563.7" cy="493.5" r="2.40"/><circle cx="564.5" cy="493.0" r="2.40"/><circle cx="565.3" cy="492.5" r="2.40"/><circle cx="566.1" cy="491.9" r="2.40"/><circle cx="566.9" cy="491.3" r="2.40"/><circle cx="567.7" cy="490.7" r="2.40"/><circle cx="568.5" cy="490.1" r="2.40"/><circle cx="569.3" cy="489.4" r="2.40"/><circle cx="570.1" cy="488.7" r="2.40"/><circle cx="570.9" cy="487.9" r="2.40"/><circle cx="571.7" cy="487.2" r="2.40"/><circle cx="572.5" cy="486.4" r="2.40"/><circle cx="573.3" cy="485.5" r="2.40"/><circle cx="574.1" cy="484.7" r="2.40"/><circle cx="574.9" cy="483.8" r="2.40"/><circle cx="575.7" cy="482.9" r="2.40"/><circle cx="576.5" cy="482.0" r="2.40"/><circle cx="577.3" cy="481.1" r="2.40"/><circle cx="578.1" cy="480.2" r="2.40"/><circle cx="578.9" cy="479.2" r="2.40"/><circle cx="579.7" cy="478.2" r="2.40"/><circle cx="580.5" cy="477.2" r="2.40"/><circle cx="581.3" cy="476.1" r="2.40"/><circle cx="582.1" cy="475.0" r="2.40"/><circle cx="582.9" cy="473.9" r="2.40"/><circle cx="583.7" cy="472.7" r="2.40"/><circle cx="584.5" cy="471.6" r="2.40"/><circle cx="585.3" cy="470.4" r="2.40"/><circle cx="586.1" cy="469.2" r="2.40"/><circle cx="586.9" cy="468.0" r="2.40"/><circle cx="587.7" cy="466.8" r="2.40"/><circle cx="588.5" cy="465.7" r="2.40"/><circle cx="589.3" cy="464.5" r="2.40"/><circle cx="590.1" cy="463.4" r="2.40"/><circle cx="590.9" cy="462.3" r="2.40"/><circle cx="591.7" cy="461.3" r="2.40"/><circle cx="592.5" cy="460.3" r="2.40"/><circle cx="593.3" cy="459.3" r="2.40"/><circle cx="594.1" cy="458.4" r="2.40"/><circle cx="594.9" cy="457.5" r="2.40"/><circle cx="595.7" cy="456.6" r="2.40"/><circle cx="596.5" cy="455.8" r="2.40"/><circle cx="597.3" cy="455.0" r="2.40"/><circle cx="598.1" cy="454.2" r="2.40"/><circle cx="598.9" cy="453.4" r="2.40"/><circle cx="599.7" cy="452.8" r="2.40"/><circle cx="600.5" cy="452.1" r="2.40"/><circle cx="601.3" cy="451.5" r="2.40"/><circle cx="602.1" cy="450.9" r="2.40"/><circle cx="602.9" cy="450.4" r="2.40"/><circle cx="603.7" cy="449.9" r="2.40"/><circle cx="604.5" cy="449.5" r="2.40"/><circle cx="605.3" cy="449.1" r="2.40"/><circle cx="606.1" cy="448.8" r="2.40"/><circle cx="606.9" cy="448.5" r="2.40"/><circle cx="607.7" cy="448.2" r="2.40"/><circle cx="608.5" cy="448.0" r="2.40"/><circle cx="609.3" cy="447.9" r="2.40"/><circle cx="610.1" cy="447.7" r="2.40"/><circle cx="610.9" cy="447.6" r="2.40"/><circle cx="611.7" cy="447.6" r="2.40"/><circle cx="612.5" cy="447.6" r="2.40"/><circle cx="613.3" cy="447.7" r="2.40"/><circle cx="614.1" cy="447.8" r="2.40"/><circle cx="614.9" cy="448.0" r="2.40"/><circle cx="615.7" cy="448.2" r="2.40"/><circle cx="616.5" cy="448.5" r="2.40"/><circle cx="617.3" cy="448.8" r="2.40"/><circle cx="618.1" cy="449.1" r="2.40"/><circle cx="618.9" cy="449.5" r="2.40"/><circle cx="619.7" cy="449.9" r="2.40"/><circle cx="620.5" cy="450.2" r="2.40"/><circle cx="621.3" cy="450.6" r="2.40"/><circle cx="622.1" cy="451.0" r="2.40"/><circle cx="622.9" cy="451.4" r="2.40"/><circle cx="623.7" cy="451.9" r="2.40"/><circle cx="624.5" cy="452.4" r="2.40"/><circle cx="625.3" cy="453.0" r="2.40"/><circle cx="626.1" cy="453.6" r="2.40"/><circle cx="626.9" cy="454.4" r="2.40"/><circle cx="627.7" cy="455.1" r="2.40"/><circle cx="628.5" cy="455.9" r="2.40"/><circle cx="629.3" cy="456.7" r="2.40"/><circle cx="630.1" cy="457.6" r="2.40"/><circle cx="630.9" cy="458.5" r="2.40"/><circle cx="631.7" cy="459.4" r="2.40"/><circle cx="632.5" cy="460.4" r="2.40"/><circle cx="633.3" cy="461.3" r="2.40"/><circle cx="634.1" cy="462.3" r="2.40"/><circle cx="634.9" cy="463.3" r="2.40"/><circle cx="635.7" cy="464.2" r="2.40"/><circle cx="636.5" cy="465.2" r="2.40"/><circle cx="637.3" cy="466.2" r="2.40"/><circle cx="638.1" cy="467.2" r="2.40"/><circle cx="638.9" cy="468.1" r="2.40"/><circle cx="639.7" cy="469.1" r="2.40"/><circle cx="640.5" cy="470.0" r="2.40"/><circle cx="641.3" cy="471.0" r="2.40"/><circle cx="642.1" cy="471.9" r="2.40"/><circle cx="642.9" cy="472.8" r="2.40"/><circle cx="643.7" cy="473.7" r="2.40"/><circle cx="644.5" cy="474.5" r="2.40"/><circle cx="645.3" cy="475.4" r="2.40"/><circle cx="646.1" cy="476.3" r="2.40"/><circle cx="646.9" cy="477.1" r="2.40"/><circle cx="647.7" cy="477.9" r="2.40"/><circle cx="648.5" cy="478.8" r="2.40"/><circle cx="649.3" cy="479.6" r="2.40"/><circle cx="650.1" cy="480.4" r="2.40"/><circle cx="650.9" cy="481.2" r="2.40"/><circle cx="651.7" cy="482.0" r="2.40"/><circle cx="652.5" cy="482.8" r="2.40"/><circle cx="653.3" cy="483.6" r="2.40"/><circle cx="654.1" cy="484.4" r="2.40"/><circle cx="654.9" cy="485.2" r="2.40"/><circle cx="655.7" cy="485.9" r="2.40"/><circle cx="656.5" cy="486.7" r="2.40"/><circle cx="657.3" cy="487.5" r="2.40"/><circle cx="658.1" cy="488.2" r="2.40"/><circle cx="658.9" cy="488.9" r="2.40"/><circle cx="659.7" cy="489.7" r="2.40"/><circle cx="660.5" cy="490.4" r="2.40"/><circle cx="661.3" cy="491.1" r="2.40"/><circle cx="662.1" cy="491.8" r="2.40"/><circle cx="662.9" cy="492.5" r="2.40"/><circle cx="663.7" cy="493.1" r="2.40"/><circle cx="664.5" cy="493.8" r="2.40"/><circle cx="665.3" cy="494.5" r="2.40"/><circle cx="666.1" cy="495.1" r="2.40"/><circle cx="666.9" cy="495.7" r="2.40"/><circle cx="667.7" cy="496.4" r="2.40"/><circle cx="668.5" cy="497.0" r="2.40"/><circle cx="669.3" cy="497.6" r="2.40"/><circle cx="670.1" cy="498.3" r="2.40"/><circle cx="670.9" cy="498.9" r="2.40"/><circle cx="671.7" cy="499.5" r="2.40"/><circle cx="672.5" cy="500.2" r="2.40"/><circle cx="673.3" cy="500.8" r="2.40"/><circle cx="674.1" cy="501.4" r="2.40"/><circle cx="674.9" cy="502.1" r="2.40"/><circle cx="675.7" cy="502.8" r="2.40"/></g><g fill="#7c7c7c"><circle cx="496.5" cy="509.7" r="0.50"/><circle cx="497.3" cy="509.6" r="0.50"/><circle cx="498.1" cy="509.5" r="0.50"/><circle cx="498.9" cy="509.4" r="0.50"/><circle cx="499.7" cy="509.3" r="0.50"/><circle cx="500.5" cy="509.2" r="0.50"/><circle cx="501.3" cy="509.1" r="0.50"/><circle cx="502.1" cy="508.9" r="0.50"/><circle cx="502.9" cy="508.6" r="0.50"/><circle cx="503.7" cy="508.3" r="0.50"/><circle cx="504.5" cy="508.0" r="0.50"/><circle cx="505.3" cy="507.6" r="0.50"/><circle cx="506.1" cy="507.1" r="0.50"/><circle cx="506.9" cy="506.7" r="0.50"/><circle cx="507.7" cy="506.2" r="0.50"/><circle cx="508.5" cy="505.7" r="0.50"/><circle cx="509.3" cy="505.2" r="0.50"/><circle cx="510.1" cy="504.7" r="0.50"/><circle cx="510.9" cy="504.2" r="0.50"/><circle cx="511.7" cy="503.7" r="0.50"/><circle cx="512.5" cy="503.2" r="0.50"/><circle cx="513.3" cy="502.8" r="0.50"/><circle cx="514.1" cy="502.3" r="0.50"/><circle cx="514.9" cy="501.7" r="0.50"/><circle cx="515.7" cy="501.2" r="0.50"/><circle cx="516.5" cy="500.7" r="0.50"/><circle cx="517.3" cy="500.2" r="0.50"/><circle cx="518.1" cy="499.7" r="0.50"/><circle cx="518.9" cy="499.2" r="0.50"/><circle cx="519.7" cy="498.8" r="0.50"/><circle cx="520.5" cy="498.3" r="0.50"/><circle cx="521.3" cy="497.9" r="0.50"/><circle cx="522.1" cy="497.4" r="0.50"/><circle cx="522.9" cy="497.0" r="0.50"/><circle cx="523.7" cy="496.6" r="0.50"/><circle cx="524.5" cy="496.2" r="0.50"/><circle cx="525.3" cy="495.8" r="0.50"/><circle cx="526.1" cy="495.5" r="0.50"/><circle cx="526.9" cy="495.2" r="0.50"/><circle cx="527.7" cy="495.0" r="0.50"/><circle cx="528.5" cy="494.8" r="0.50"/><circle cx="529.3" cy="494.6" r="0.50"/><circle cx="530.1" cy="494.5" r="0.50"/><circle cx="530.9" cy="494.4" r="0.50"/><circle cx="531.7" cy="494.4" r="0.50"/><circle cx="532.5" cy="494.3" r="0.50"/><circle cx="533.3" cy="494.3" r="0.50"/><circle cx="534.1" cy="494.4" r="0.50"/><circle cx="534.9" cy="494.4" r="0.50"/><circle cx="535.7" cy="494.4" r="0.50"/><circle cx="536.5" cy="494.5" r="0.50"/><circle cx="537.3" cy="494.7" r="0.50"/><circle cx="538.1" cy="494.9" r="0.50"/><circle cx="538.9" cy="495.1" r="0.50"/><circle cx="539.7" cy="495.3" r="0.50"/><circle cx="540.5" cy="495.5" r="0.50"/><circle cx="541.3" cy="495.7" r="0.50"/><circle cx="542.1" cy="495.8" r="0.50"/><circle cx="542.9" cy="496.0" r="0.50"/><circle cx="543.7" cy="496.1" r="0.50"/><circle cx="544.5" cy="496.3" r="0.50"/><circle cx="545.3" cy="496.5" r="0.50"/><circle cx="546.1" cy="496.7" r="0.50"/><circle cx="546.9" cy="496.9" r="0.50"/><circle cx="547.7" cy="497.0" r="0.50"/><circle cx="548.5" cy="497.2" r="0.50"/><circle cx="549.3" cy="497.3" r="0.50"/><circle cx="550.1" cy="497.3" r="0.50"/><circle cx="550.9" cy="497.3" r="0.50"/><circle cx="551.7" cy="497.3" r="0.50"/><circle cx="552.5" cy="497.3" r="0.50"/><circle cx="553.3" cy="497.2" r="0.50"/><circle cx="554.1" cy="497.0" r="0.50"/><circle cx="554.9" cy="496.8" r="0.50"/><circle cx="555.7" cy="496.6" r="0.50"/><circle cx="556.5" cy="496.4" r="0.50"/><circle cx="557.3" cy="496.2" r="0.50"/><circle cx="558.1" cy="495.9" r="0.50"/><circle cx="558.9" cy="495.7" r="0.50"/><circle cx="559.7" cy="495.4" r="0.50"/><circle cx="560.5" cy="495.0" r="0.50"/><circle cx="561.3" cy="494.7" r="0.50"/><circle cx="562.1" cy="494.3" r="0.50"/><circle cx="562.9" cy="493.9" r="0.50"/><circle cx="563.7" cy="493.5" r="0.50"/><circle cx="564.5" cy="493.0" r="0.50"/><circle cx="565.3" cy="492.5" r="0.50"/><circle cx="566.1" cy="491.9" r="0.50"/><circle cx="566.9" cy="491.3" r="0.50"/><circle cx="567.7" cy="490.7" r="0.50"/><circle cx="568.5" cy="490.1" r="0.50"/><circle cx="569.3" cy="489.4" r="0.50"/><circle cx="570.1" cy="488.7" r="0.50"/><circle cx="570.9" cy="487.9" r="0.50"/><circle cx="571.7" cy="487.2" r="0.50"/><circle cx="572.5" cy="486.4" r="0.50"/><circle cx="573.3" cy="485.5" r="0.50"/><circle cx="574.1" cy="484.7" r="0.50"/><circle cx="574.9" cy="483.8" r="0.50"/><circle cx="575.7" cy="482.9" r="0.50"/><circle cx="576.5" cy="482.0" r="0.50"/><circle cx="577.3" cy="481.1" r="0.50"/><circle cx="578.1" cy="480.2" r="0.50"/><circle cx="578.9" cy="479.2" r="0.50"/><circle cx="579.7" cy="478.2" r="0.50"/><circle cx="580.5" cy="477.2" r="0.50"/><circle cx="581.3" cy="476.1" r="0.50"/><circle cx="582.1" cy="475.0" r="0.50"/><circle cx="582.9" cy="473.9" r="0.50"/><circle cx="583.7" cy="472.7" r="0.50"/><circle cx="584.5" cy="471.6" r="0.50"/><circle cx="585.3" cy="470.4" r="0.50"/><circle cx="586.1" cy="469.2" r="0.50"/><circle cx="586.9" cy="468.0" r="0.50"/><circle cx="587.7" cy="466.8" r="0.50"/><circle cx="588.5" cy="465.7" r="0.50"/><circle cx="589.3" cy="464.5" r="0.50"/><circle cx="590.1" cy="463.4" r="0.50"/><circle cx="590.9" cy="462.3" r="0.50"/><circle cx="591.7" cy="461.3" r="0.50"/><circle cx="592.5" cy="460.3" r="0.50"/><circle cx="593.3" cy="459.3" r="0.50"/><circle cx="594.1" cy="458.4" r="0.50"/><circle cx="594.9" cy="457.5" r="0.50"/><circle cx="595.7" cy="456.6" r="0.50"/><circle cx="596.5" cy="455.8" r="0.50"/><circle cx="597.3" cy="455.0" r="0.50"/><circle cx="598.1" cy="454.2" r="0.50"/><circle cx="598.9" cy="453.4" r="0.50"/><circle cx="599.7" cy="452.8" r="0.50"/><circle cx="600.5" cy="452.1" r="0.50"/><circle cx="601.3" cy="451.5" r="0.50"/><circle cx="602.1" cy="450.9" r="0.50"/><circle cx="602.9" cy="450.4" r="0.50"/><circle cx="603.7" cy="449.9" r="0.50"/><circle cx="604.5" cy="449.5" r="0.50"/><circle cx="605.3" cy="449.1" r="0.50"/><circle cx="606.1" cy="448.8" r="0.50"/><circle cx="606.9" cy="448.5" r="0.50"/><circle cx="607.7" cy="448.2" r="0.50"/><circle cx="608.5" cy="448.0" r="0.50"/><circle cx="609.3" cy="447.9" r="0.50"/><circle cx="610.1" cy="447.7" r="0.50"/><circle cx="610.9" cy="447.6" r="0.50"/><circle cx="611.7" cy="447.6" r="0.50"/><circle cx="612.5" cy="447.6" r="0.50"/><circle cx="613.3" cy="447.7" r="0.50"/><circle cx="614.1" cy="447.8" r="0.50"/><circle cx="614.9" cy="448.0" r="0.50"/><circle cx="615.7" cy="448.2" r="0.50"/><circle cx="616.5" cy="448.5" r="0.50"/><circle cx="617.3" cy="448.8" r="0.50"/><circle cx="618.1" cy="449.1" r="0.50"/><circle cx="618.9" cy="449.5" r="0.50"/><circle cx="619.7" cy="449.9" r="0.50"/><circle cx="620.5" cy="450.2" r="0.50"/><circle cx="621.3" cy="450.6" r="0.50"/><circle cx="622.1" cy="451.0" r="0.50"/><circle cx="622.9" cy="451.4" r="0.50"/><circle cx="623.7" cy="451.9" r="0.50"/><circle cx="624.5" cy="452.4" r="0.50"/><circle cx="625.3" cy="453.0" r="0.50"/><circle cx="626.1" cy="453.6" r="0.50"/><circle cx="626.9" cy="454.4" r="0.50"/><circle cx="627.7" cy="455.1" r="0.50"/><circle cx="628.5" cy="455.9" r="0.50"/><circle cx="629.3" cy="456.7" r="0.50"/><circle cx="630.1" cy="457.6" r="0.50"/><circle cx="630.9" cy="458.5" r="0.50"/><circle cx="631.7" cy="459.4" r="0.50"/><circle cx="632.5" cy="460.4" r="0.50"/><circle cx="633.3" cy="461.3" r="0.50"/><circle cx="634.1" cy="462.3" r="0.50"/><circle cx="634.9" cy="463.3" r="0.50"/><circle cx="635.7" cy="464.2" r="0.50"/><circle cx="636.5" cy="465.2" r="0.50"/><circle cx="637.3" cy="466.2" r="0.50"/><circle cx="638.1" cy="467.2" r="0.50"/><circle cx="638.9" cy="468.1" r="0.50"/><circle cx="639.7" cy="469.1" r="0.50"/><circle cx="640.5" cy="470.0" r="0.50"/><circle cx="641.3" cy="471.0" r="0.50"/><circle cx="642.1" cy="471.9" r="0.50"/><circle cx="642.9" cy="472.8" r="0.50"/><circle cx="643.7" cy="473.7" r="0.50"/><circle cx="644.5" cy="474.5" r="0.50"/><circle cx="645.3" cy="475.4" r="0.50"/><circle cx="646.1" cy="476.3" r="0.50"/><circle cx="646.9" cy="477.1" r="0.50"/><circle cx="647.7" cy="477.9" r="0.50"/><circle cx="648.5" cy="478.8" r="0.50"/><circle cx="649.3" cy="479.6" r="0.50"/><circle cx="650.1" cy="480.4" r="0.50"/><circle cx="650.9" cy="481.2" r="0.50"/><circle cx="651.7" cy="482.0" r="0.50"/><circle cx="652.5" cy="482.8" r="0.50"/><circle cx="653.3" cy="483.6" r="0.50"/><circle cx="654.1" cy="484.4" r="0.50"/><circle cx="654.9" cy="485.2" r="0.50"/><circle cx="655.7" cy="485.9" r="0.50"/><circle cx="656.5" cy="486.7" r="0.50"/><circle cx="657.3" cy="487.5" r="0.50"/><circle cx="658.1" cy="488.2" r="0.50"/><circle cx="658.9" cy="488.9" r="0.50"/><circle cx="659.7" cy="489.7" r="0.50"/><circle cx="660.5" cy="490.4" r="0.50"/><circle cx="661.3" cy="491.1" r="0.50"/><circle cx="662.1" cy="491.8" r="0.50"/><circle cx="662.9" cy="492.5" r="0.50"/><circle cx="663.7" cy="493.1" r="0.50"/><circle cx="664.5" cy="493.8" r="0.50"/><circle cx="665.3" cy="494.5" r="0.50"/><circle cx="666.1" cy="495.1" r="0.50"/><circle cx="666.9" cy="495.7" r="0.50"/><circle cx="667.7" cy="496.4" r="0.50"/><circle cx="668.5" cy="497.0" r="0.50"/><circle cx="669.3" cy="497.6" r="0.50"/><circle cx="670.1" cy="498.3" r="0.50"/><circle cx="670.9" cy="498.9" r="0.50"/><circle cx="671.7" cy="499.5" r="0.50"/><circle cx="672.5" cy="500.2" r="0.50"/><circle cx="673.3" cy="500.8" r="0.50"/><circle cx="674.1" cy="501.4" r="0.50"/><circle cx="674.9" cy="502.1" r="0.50"/><circle cx="675.7" cy="502.8" r="0.50"/></g></g><g clip-path="url(#clipD)"><path d="M448.60 509.60 L449.38 509.60 L450.29 509.61 L451.32 509.61 L452.46 509.62 L453.70 509.64 L455.03 509.65 L456.45 509.66 L457.94 509.68 L459.50 509.70 L461.11 509.71 L462.77 509.73 L464.47 509.75 L466.20 509.76 L467.95 509.78 L469.71 509.79 L471.48 509.81 L473.23 509.82 L474.98 509.82 L476.69 509.83 L478.38 509.83 L480.02 509.83 L481.61 509.82 L483.14 509.81 L484.60 509.80 L485.98 509.78 L487.28 509.76 L488.47 509.73 L489.57 509.69 L490.55 509.65 L491.40 509.60 L492.15 509.55 L492.82 509.50 L493.41 509.44 L493.94 509.39 L494.40 509.33 L494.79 509.27 L495.13 509.21 L495.41 509.15 L495.64 509.08 L495.82 509.01 L495.96 508.94 L496.07 508.86 L496.14 508.78 L496.17 508.70 L496.19 508.61 L496.18 508.51 L496.15 508.41 L496.11 508.31 L496.06 508.20 L496.00 508.08 L495.94 507.95 L495.88 507.82 L495.83 507.69 L495.79 507.54 L495.77 507.39 L495.76 507.23 L495.78 507.06 L495.82 506.88 L495.89 506.70 L496.00 506.50 L496.12 506.30 L496.24 506.09 L496.36 505.87 L496.47 505.65 L496.58 505.43 L496.69 505.19 L496.79 504.95 L496.89 504.71 L496.99 504.45 L497.09 504.20 L497.18 503.93 L497.27 503.66 L497.36 503.38 L497.45 503.10 L497.54 502.81 L497.63 502.51 L497.72 502.20 L497.81 501.89 L497.90 501.57 L497.99 501.25 L498.08 500.92 L498.18 500.58 L498.27 500.23 L498.37 499.88 L498.47 499.52 L498.57 499.15 L498.67 498.77 L498.78 498.39 L498.89 498.00 L499.00 497.60 L499.12 497.19 L499.24 496.77 L499.36 496.33 L499.48 495.87 L499.61 495.41 L499.74 494.93 L499.87 494.45 L500.00 493.95 L500.14 493.45 L500.27 492.93 L500.41 492.41 L500.55 491.89 L500.69 491.36 L500.82 490.82 L500.96 490.28 L501.10 489.74 L501.24 489.20 L501.38 488.65 L501.51 488.11 L501.65 487.57 L501.78 487.03 L501.92 486.49 L502.05 485.95 L502.18 485.43 L502.30 484.90 L502.43 484.39 L502.55 483.88 L502.67 483.37 L502.79 482.88 L502.90 482.40 L503.01 481.92 L503.12 481.44 L503.22 480.95 L503.33 480.46 L503.43 479.97 L503.53 479.48 L503.63 478.99 L503.72 478.50 L503.82 478.01 L503.91 477.51 L504.00 477.03 L504.09 476.54 L504.18 476.06 L504.27 475.58 L504.36 475.11 L504.45 474.64 L504.54 474.18 L504.63 473.72 L504.71 473.27 L504.80 472.83 L504.89 472.40 L504.97 471.97 L505.06 471.56 L505.15 471.16 L505.24 470.77 L505.33 470.39 L505.42 470.02 L505.51 469.67 L505.61 469.33 L505.70 469.00 L505.80 468.68 L505.89 468.37 L505.99 468.07 L506.08 467.77 L506.18 467.48 L506.28 467.20 L506.37 466.92 L506.47 466.65 L506.57 466.39 L506.66 466.14 L506.76 465.90 L506.86 465.66 L506.96 465.44 L507.05 465.22 L507.15 465.01 L507.25 464.82 L507.34 464.63 L507.44 464.45 L507.54 464.29 L507.64 464.14 L507.73 464.00 L507.83 463.87 L507.93 463.75 L508.02 463.64 L508.12 463.55 L508.22 463.47 L508.31 463.41 L508.41 463.36 L508.50 463.32 L508.60 463.30 L508.69 463.29 L508.79 463.30 L508.88 463.31 L508.98 463.34 L509.07 463.38 L509.16 463.44 L509.26 463.50 L509.35 463.58 L509.44 463.67 L509.54 463.77 L509.63 463.88 L509.72 464.01 L509.81 464.14 L509.91 464.29 L510.00 464.45 L510.09 464.62 L510.19 464.80 L510.28 464.99 L510.37 465.19 L510.46 465.41 L510.56 465.63 L510.65 465.87 L510.74 466.11 L510.84 466.36 L510.93 466.63 L511.02 466.90 L511.12 467.19 L511.21 467.48 L511.31 467.79 L511.40 468.10 L511.50 468.43 L511.59 468.78 L511.69 469.14 L511.78 469.52 L511.88 469.92 L511.98 470.34 L512.07 470.77 L512.17 471.21 L512.27 471.66 L512.36 472.13 L512.46 472.61 L512.56 473.09 L512.66 473.59 L512.75 474.09 L512.85 474.60 L512.95 475.12 L513.04 475.64 L513.14 476.16 L513.24 476.69 L513.34 477.21 L513.43 477.74 L513.53 478.27 L513.63 478.80 L513.72 479.33 L513.82 479.85 L513.92 480.38 L514.01 480.89 L514.11 481.40 L514.20 481.90 L514.30 482.40 L514.39 482.90 L514.49 483.40 L514.58 483.92 L514.68 484.44 L514.77 484.97 L514.86 485.51 L514.96 486.05 L515.05 486.59 L515.14 487.14 L515.24 487.69 L515.33 488.24 L515.42 488.79 L515.51 489.34 L515.61 489.89 L515.70 490.43 L515.79 490.97 L515.89 491.51 L515.98 492.04 L516.07 492.56 L516.16 493.08 L516.26 493.58 L516.35 494.08 L516.44 494.57 L516.54 495.04 L516.63 495.51 L516.72 495.96 L516.82 496.39 L516.91 496.81 L517.01 497.21 L517.10 497.60 L517.20 497.97 L517.29 498.33 L517.39 498.67 L517.48 499.00 L517.58 499.33 L517.67 499.64 L517.77 499.94 L517.86 500.23 L517.96 500.51 L518.06 500.78 L518.15 501.04 L518.25 501.29 L518.34 501.54 L518.44 501.78 L518.54 502.01 L518.63 502.24 L518.73 502.46 L518.83 502.67 L518.93 502.88 L519.02 503.09 L519.12 503.29 L519.22 503.49 L519.31 503.68 L519.41 503.88 L519.51 504.07 L519.61 504.25 L519.71 504.44 L519.80 504.63 L519.90 504.81 L520.00 505.00 L520.10 505.18 L520.19 505.36 L520.28 505.54 L520.36 505.71 L520.45 505.88 L520.53 506.04 L520.61 506.20 L520.69 506.35 L520.77 506.50 L520.84 506.64 L520.92 506.79 L521.00 506.92 L521.08 507.06 L521.16 507.19 L521.24 507.31 L521.33 507.43 L521.42 507.55 L521.51 507.67 L521.60 507.78 L521.70 507.89 L521.80 507.99 L521.91 508.10 L522.02 508.19 L522.14 508.29 L522.27 508.38 L522.40 508.47 L522.54 508.56 L522.68 508.64 L522.84 508.72 L523.00 508.80 L523.10 508.87 L523.09 508.94 L522.96 509.01 L522.75 509.06 L522.45 509.12 L522.10 509.16 L521.69 509.21 L521.24 509.25 L520.77 509.29 L520.30 509.32 L519.82 509.35 L519.37 509.37 L518.94 509.40 L518.57 509.42 L518.25 509.44 L518.01 509.45 L517.85 509.47 L517.79 509.48 L517.85 509.49 L518.04 509.50 L518.37 509.51 L518.85 509.52 L519.51 509.53 L520.34 509.54 L521.38 509.55 L522.63 509.56 L524.10 509.57 L525.81 509.58 L527.77 509.59 L530.00 509.60 L532.58 509.61 L535.55 509.62 L538.89 509.64 L542.58 509.65 L546.57 509.66 L550.86 509.66 L555.39 509.67 L560.16 509.68 L565.12 509.68 L570.26 509.69 L575.54 509.69 L580.93 509.70 L586.40 509.70 L591.94 509.70 L597.50 509.70 L603.06 509.70 L608.60 509.70 L614.07 509.70 L619.46 509.69 L624.74 509.69 L629.88 509.68 L634.84 509.68 L639.61 509.67 L644.14 509.66 L648.43 509.66 L652.42 509.65 L656.11 509.64 L659.45 509.62 L662.42 509.61 L665.00 509.60 L667.23 509.59 L669.19 509.57 L670.90 509.55 L672.37 509.54 L673.62 509.52 L674.66 509.50 L675.49 509.48 L676.15 509.46 L676.63 509.43 L676.96 509.41 L677.15 509.39 L677.21 509.36 L677.15 509.34 L676.99 509.31 L676.75 509.28 L676.43 509.25 L676.06 509.22 L675.63 509.19 L675.18 509.16 L674.70 509.13 L674.23 509.10 L673.76 509.07 L673.31 509.04 L672.90 509.00 L672.55 508.97 L672.25 508.94 L672.04 508.90 L671.91 508.87 L671.90 508.83 L672.00 508.80 L672.16 508.76 L672.32 508.73 L672.48 508.68 L672.62 508.64 L672.77 508.60 L672.90 508.55 L673.04 508.50 L673.17 508.46 L673.29 508.41 L673.41 508.36 L673.52 508.30 L673.63 508.25 L673.74 508.20 L673.84 508.15 L673.94 508.10 L674.03 508.05 L674.12 508.00 L674.21 507.95 L674.29 507.90 L674.37 507.86 L674.45 507.81 L674.52 507.77 L674.59 507.72 L674.66 507.68 L674.72 507.65 L674.78 507.61 L674.84 507.58 L674.90 507.55 L674.95 507.52 L675.00 507.50" stroke="#3b7be8" stroke-width="1.00" fill="none" stroke-linecap="round" stroke-linejoin="round"/><g fill="#3b7be8"><circle cx="448.6" cy="509.6" r="2.45"/><circle cx="449.4" cy="509.6" r="2.45"/><circle cx="450.2" cy="509.6" r="2.45"/><circle cx="451.0" cy="509.6" r="2.45"/><circle cx="451.8" cy="509.6" r="2.45"/><circle cx="452.6" cy="509.6" r="2.45"/><circle cx="453.4" cy="509.6" r="2.45"/><circle cx="454.2" cy="509.6" r="2.45"/><circle cx="455.0" cy="509.6" r="2.45"/><circle cx="455.8" cy="509.7" r="2.45"/><circle cx="456.6" cy="509.7" r="2.45"/><circle cx="457.4" cy="509.7" r="2.45"/><circle cx="458.2" cy="509.7" r="2.45"/><circle cx="459.0" cy="509.7" r="2.45"/><circle cx="459.8" cy="509.7" r="2.45"/><circle cx="460.6" cy="509.7" r="2.45"/><circle cx="461.4" cy="509.7" r="2.45"/><circle cx="462.2" cy="509.7" r="2.45"/><circle cx="463.0" cy="509.7" r="2.45"/><circle cx="463.8" cy="509.7" r="2.45"/><circle cx="464.6" cy="509.7" r="2.45"/><circle cx="465.4" cy="509.8" r="2.45"/><circle cx="466.2" cy="509.8" r="2.45"/><circle cx="467.0" cy="509.8" r="2.45"/><circle cx="467.8" cy="509.8" r="2.45"/><circle cx="468.6" cy="509.8" r="2.45"/><circle cx="469.4" cy="509.8" r="2.45"/><circle cx="470.2" cy="509.8" r="2.45"/><circle cx="471.0" cy="509.8" r="2.45"/><circle cx="471.8" cy="509.8" r="2.45"/><circle cx="472.6" cy="509.8" r="2.45"/><circle cx="473.4" cy="509.8" r="2.45"/><circle cx="474.2" cy="509.8" r="2.45"/><circle cx="475.0" cy="509.8" r="2.45"/><circle cx="475.8" cy="509.8" r="2.45"/><circle cx="476.6" cy="509.8" r="2.45"/><circle cx="477.4" cy="509.8" r="2.45"/><circle cx="478.2" cy="509.8" r="2.45"/><circle cx="479.0" cy="509.8" r="2.45"/><circle cx="479.8" cy="509.8" r="2.45"/><circle cx="480.6" cy="509.8" r="2.45"/><circle cx="481.4" cy="509.8" r="2.45"/><circle cx="482.2" cy="509.8" r="2.45"/><circle cx="483.0" cy="509.8" r="2.45"/><circle cx="483.8" cy="509.8" r="2.45"/><circle cx="484.6" cy="509.8" r="2.45"/><circle cx="485.4" cy="509.8" r="2.45"/><circle cx="486.2" cy="509.8" r="2.45"/><circle cx="487.0" cy="509.8" r="2.45"/><circle cx="487.8" cy="509.7" r="2.45"/><circle cx="488.6" cy="509.7" r="2.45"/><circle cx="489.4" cy="509.7" r="2.45"/><circle cx="490.2" cy="509.7" r="2.45"/><circle cx="491.0" cy="509.6" r="2.45"/><circle cx="491.8" cy="509.6" r="2.45"/><circle cx="492.6" cy="509.5" r="2.45"/><circle cx="493.4" cy="509.4" r="2.45"/><circle cx="494.2" cy="509.4" r="2.45"/><circle cx="495.0" cy="509.2" r="2.45"/><circle cx="495.8" cy="509.0" r="2.45"/><circle cx="496.6" cy="505.4" r="2.45"/><circle cx="497.4" cy="503.3" r="2.45"/><circle cx="498.2" cy="500.5" r="2.45"/><circle cx="499.0" cy="497.6" r="2.45"/><circle cx="499.8" cy="494.7" r="2.45"/><circle cx="500.6" cy="491.7" r="2.45"/><circle cx="501.4" cy="488.6" r="2.45"/><circle cx="502.2" cy="485.3" r="2.45"/><circle cx="503.0" cy="482.0" r="2.45"/><circle cx="503.8" cy="478.1" r="2.45"/><circle cx="504.6" cy="473.9" r="2.45"/><circle cx="505.4" cy="470.1" r="2.45"/><circle cx="506.2" cy="467.4" r="2.45"/><circle cx="507.0" cy="465.3" r="2.45"/><circle cx="507.8" cy="463.9" r="2.45"/><circle cx="508.6" cy="463.3" r="2.45"/><circle cx="509.4" cy="463.6" r="2.45"/><circle cx="510.2" cy="464.8" r="2.45"/><circle cx="511.0" cy="466.8" r="2.45"/><circle cx="511.8" cy="469.6" r="2.45"/><circle cx="512.6" cy="473.3" r="2.45"/><circle cx="513.4" cy="477.6" r="2.45"/><circle cx="514.2" cy="481.9" r="2.45"/><circle cx="515.0" cy="486.3" r="2.45"/><circle cx="515.8" cy="491.0" r="2.45"/><circle cx="516.6" cy="495.4" r="2.45"/><circle cx="517.4" cy="498.7" r="2.45"/><circle cx="518.2" cy="501.2" r="2.45"/><circle cx="519.0" cy="503.0" r="2.45"/><circle cx="519.8" cy="504.6" r="2.45"/><circle cx="520.6" cy="506.2" r="2.45"/><circle cx="521.4" cy="507.5" r="2.45"/><circle cx="522.2" cy="508.3" r="2.45"/><circle cx="523.0" cy="508.8" r="2.45"/><circle cx="523.8" cy="509.6" r="2.45"/><circle cx="524.6" cy="509.6" r="2.45"/><circle cx="525.4" cy="509.6" r="2.45"/><circle cx="526.2" cy="509.6" r="2.45"/><circle cx="527.0" cy="509.6" r="2.45"/><circle cx="527.8" cy="509.6" r="2.45"/><circle cx="528.6" cy="509.6" r="2.45"/><circle cx="529.4" cy="509.6" r="2.45"/><circle cx="530.2" cy="509.6" r="2.45"/><circle cx="531.0" cy="509.6" r="2.45"/><circle cx="531.8" cy="509.6" r="2.45"/><circle cx="532.6" cy="509.6" r="2.45"/><circle cx="533.4" cy="509.6" r="2.45"/><circle cx="534.2" cy="509.6" r="2.45"/><circle cx="535.0" cy="509.6" r="2.45"/><circle cx="535.8" cy="509.6" r="2.45"/><circle cx="536.6" cy="509.6" r="2.45"/><circle cx="537.4" cy="509.6" r="2.45"/><circle cx="538.2" cy="509.6" r="2.45"/><circle cx="539.0" cy="509.6" r="2.45"/><circle cx="539.8" cy="509.6" r="2.45"/><circle cx="540.6" cy="509.6" r="2.45"/><circle cx="541.4" cy="509.6" r="2.45"/><circle cx="542.2" cy="509.6" r="2.45"/><circle cx="543.0" cy="509.6" r="2.45"/><circle cx="543.8" cy="509.6" r="2.45"/><circle cx="544.6" cy="509.7" r="2.45"/><circle cx="545.4" cy="509.7" r="2.45"/><circle cx="546.2" cy="509.7" r="2.45"/><circle cx="547.0" cy="509.7" r="2.45"/><circle cx="547.8" cy="509.7" r="2.45"/><circle cx="548.6" cy="509.7" r="2.45"/><circle cx="549.4" cy="509.7" r="2.45"/><circle cx="550.2" cy="509.7" r="2.45"/><circle cx="551.0" cy="509.7" r="2.45"/><circle cx="551.8" cy="509.7" r="2.45"/><circle cx="552.6" cy="509.7" r="2.45"/><circle cx="553.4" cy="509.7" r="2.45"/><circle cx="554.2" cy="509.7" r="2.45"/><circle cx="555.0" cy="509.7" r="2.45"/><circle cx="555.8" cy="509.7" r="2.45"/><circle cx="556.6" cy="509.7" r="2.45"/><circle cx="557.4" cy="509.7" r="2.45"/><circle cx="558.2" cy="509.7" r="2.45"/><circle cx="559.0" cy="509.7" r="2.45"/><circle cx="559.8" cy="509.7" r="2.45"/><circle cx="560.6" cy="509.7" r="2.45"/><circle cx="561.4" cy="509.7" r="2.45"/><circle cx="562.2" cy="509.7" r="2.45"/><circle cx="563.0" cy="509.7" r="2.45"/><circle cx="563.8" cy="509.7" r="2.45"/><circle cx="564.6" cy="509.7" r="2.45"/><circle cx="565.4" cy="509.7" r="2.45"/><circle cx="566.2" cy="509.7" r="2.45"/><circle cx="567.0" cy="509.7" r="2.45"/><circle cx="567.8" cy="509.7" r="2.45"/><circle cx="568.6" cy="509.7" r="2.45"/><circle cx="569.4" cy="509.7" r="2.45"/><circle cx="570.2" cy="509.7" r="2.45"/><circle cx="571.0" cy="509.7" r="2.45"/><circle cx="571.8" cy="509.7" r="2.45"/><circle cx="572.6" cy="509.7" r="2.45"/><circle cx="573.4" cy="509.7" r="2.45"/><circle cx="574.2" cy="509.7" r="2.45"/><circle cx="575.0" cy="509.7" r="2.45"/><circle cx="575.8" cy="509.7" r="2.45"/><circle cx="576.6" cy="509.7" r="2.45"/><circle cx="577.4" cy="509.7" r="2.45"/><circle cx="578.2" cy="509.7" r="2.45"/><circle cx="579.0" cy="509.7" r="2.45"/><circle cx="579.8" cy="509.7" r="2.45"/><circle cx="580.6" cy="509.7" r="2.45"/><circle cx="581.4" cy="509.7" r="2.45"/><circle cx="582.2" cy="509.7" r="2.45"/><circle cx="583.0" cy="509.7" r="2.45"/><circle cx="583.8" cy="509.7" r="2.45"/><circle cx="584.6" cy="509.7" r="2.45"/><circle cx="585.4" cy="509.7" r="2.45"/><circle cx="586.2" cy="509.7" r="2.45"/><circle cx="587.0" cy="509.7" r="2.45"/><circle cx="587.8" cy="509.7" r="2.45"/><circle cx="588.6" cy="509.7" r="2.45"/><circle cx="589.4" cy="509.7" r="2.45"/><circle cx="590.2" cy="509.7" r="2.45"/><circle cx="591.0" cy="509.7" r="2.45"/><circle cx="591.8" cy="509.7" r="2.45"/><circle cx="592.6" cy="509.7" r="2.45"/><circle cx="593.4" cy="509.7" r="2.45"/><circle cx="594.2" cy="509.7" r="2.45"/><circle cx="595.0" cy="509.7" r="2.45"/><circle cx="595.8" cy="509.7" r="2.45"/><circle cx="596.6" cy="509.7" r="2.45"/><circle cx="597.4" cy="509.7" r="2.45"/><circle cx="598.2" cy="509.7" r="2.45"/><circle cx="599.0" cy="509.7" r="2.45"/><circle cx="599.8" cy="509.7" r="2.45"/><circle cx="600.6" cy="509.7" r="2.45"/><circle cx="601.4" cy="509.7" r="2.45"/><circle cx="602.2" cy="509.7" r="2.45"/><circle cx="603.0" cy="509.7" r="2.45"/><circle cx="603.8" cy="509.7" r="2.45"/><circle cx="604.6" cy="509.7" r="2.45"/><circle cx="605.4" cy="509.7" r="2.45"/><circle cx="606.2" cy="509.7" r="2.45"/><circle cx="607.0" cy="509.7" r="2.45"/><circle cx="607.8" cy="509.7" r="2.45"/><circle cx="608.6" cy="509.7" r="2.45"/><circle cx="609.4" cy="509.7" r="2.45"/><circle cx="610.2" cy="509.7" r="2.45"/><circle cx="611.0" cy="509.7" r="2.45"/><circle cx="611.8" cy="509.7" r="2.45"/><circle cx="612.6" cy="509.7" r="2.45"/><circle cx="613.4" cy="509.7" r="2.45"/><circle cx="614.2" cy="509.7" r="2.45"/><circle cx="615.0" cy="509.7" r="2.45"/><circle cx="615.8" cy="509.7" r="2.45"/><circle cx="616.6" cy="509.7" r="2.45"/><circle cx="617.4" cy="509.7" r="2.45"/><circle cx="618.2" cy="509.7" r="2.45"/><circle cx="619.0" cy="509.7" r="2.45"/><circle cx="619.8" cy="509.7" r="2.45"/><circle cx="620.6" cy="509.7" r="2.45"/><circle cx="621.4" cy="509.7" r="2.45"/><circle cx="622.2" cy="509.7" r="2.45"/><circle cx="623.0" cy="509.7" r="2.45"/><circle cx="623.8" cy="509.7" r="2.45"/><circle cx="624.6" cy="509.7" r="2.45"/><circle cx="625.4" cy="509.7" r="2.45"/><circle cx="626.2" cy="509.7" r="2.45"/><circle cx="627.0" cy="509.7" r="2.45"/><circle cx="627.8" cy="509.7" r="2.45"/><circle cx="628.6" cy="509.7" r="2.45"/><circle cx="629.4" cy="509.7" r="2.45"/><circle cx="630.2" cy="509.7" r="2.45"/><circle cx="631.0" cy="509.7" r="2.45"/><circle cx="631.8" cy="509.7" r="2.45"/><circle cx="632.6" cy="509.7" r="2.45"/><circle cx="633.4" cy="509.7" r="2.45"/><circle cx="634.2" cy="509.7" r="2.45"/><circle cx="635.0" cy="509.7" r="2.45"/><circle cx="635.8" cy="509.7" r="2.45"/><circle cx="636.6" cy="509.7" r="2.45"/><circle cx="637.4" cy="509.7" r="2.45"/><circle cx="638.2" cy="509.7" r="2.45"/><circle cx="639.0" cy="509.7" r="2.45"/><circle cx="639.8" cy="509.7" r="2.45"/><circle cx="640.6" cy="509.7" r="2.45"/><circle cx="641.4" cy="509.7" r="2.45"/><circle cx="642.2" cy="509.7" r="2.45"/><circle cx="643.0" cy="509.7" r="2.45"/><circle cx="643.8" cy="509.7" r="2.45"/><circle cx="644.6" cy="509.7" r="2.45"/><circle cx="645.4" cy="509.7" r="2.45"/><circle cx="646.2" cy="509.7" r="2.45"/><circle cx="647.0" cy="509.7" r="2.45"/><circle cx="647.8" cy="509.7" r="2.45"/><circle cx="648.6" cy="509.7" r="2.45"/><circle cx="649.4" cy="509.7" r="2.45"/><circle cx="650.2" cy="509.7" r="2.45"/><circle cx="651.0" cy="509.6" r="2.45"/><circle cx="651.8" cy="509.6" r="2.45"/><circle cx="652.6" cy="509.6" r="2.45"/><circle cx="653.4" cy="509.6" r="2.45"/><circle cx="654.2" cy="509.6" r="2.45"/><circle cx="655.0" cy="509.6" r="2.45"/><circle cx="655.8" cy="509.6" r="2.45"/><circle cx="656.6" cy="509.6" r="2.45"/><circle cx="657.4" cy="509.6" r="2.45"/><circle cx="658.2" cy="509.6" r="2.45"/><circle cx="659.0" cy="509.6" r="2.45"/><circle cx="659.8" cy="509.6" r="2.45"/><circle cx="660.6" cy="509.6" r="2.45"/><circle cx="661.4" cy="509.6" r="2.45"/><circle cx="662.2" cy="509.6" r="2.45"/><circle cx="663.0" cy="509.6" r="2.45"/><circle cx="663.8" cy="509.6" r="2.45"/><circle cx="664.6" cy="509.6" r="2.45"/><circle cx="665.4" cy="509.6" r="2.45"/><circle cx="666.2" cy="509.6" r="2.45"/><circle cx="667.0" cy="509.6" r="2.45"/><circle cx="667.8" cy="509.6" r="2.45"/><circle cx="668.6" cy="509.6" r="2.45"/><circle cx="669.4" cy="509.6" r="2.45"/><circle cx="670.2" cy="509.6" r="2.45"/><circle cx="671.0" cy="509.6" r="2.45"/><circle cx="671.8" cy="509.5" r="2.45"/><circle cx="672.6" cy="509.5" r="2.45"/><circle cx="673.4" cy="509.5" r="2.45"/><circle cx="674.2" cy="509.5" r="2.45"/><circle cx="675.0" cy="509.5" r="2.45"/><circle cx="675.8" cy="509.5" r="2.45"/><circle cx="676.6" cy="509.4" r="2.45"/></g><g fill="#cfdffa"><circle cx="448.6" cy="509.6" r="0.45"/><circle cx="449.4" cy="509.6" r="0.45"/><circle cx="450.2" cy="509.6" r="0.45"/><circle cx="451.0" cy="509.6" r="0.45"/><circle cx="451.8" cy="509.6" r="0.45"/><circle cx="452.6" cy="509.6" r="0.45"/><circle cx="453.4" cy="509.6" r="0.45"/><circle cx="454.2" cy="509.6" r="0.45"/><circle cx="455.0" cy="509.6" r="0.45"/><circle cx="455.8" cy="509.7" r="0.45"/><circle cx="456.6" cy="509.7" r="0.45"/><circle cx="457.4" cy="509.7" r="0.45"/><circle cx="458.2" cy="509.7" r="0.45"/><circle cx="459.0" cy="509.7" r="0.45"/><circle cx="459.8" cy="509.7" r="0.45"/><circle cx="460.6" cy="509.7" r="0.45"/><circle cx="461.4" cy="509.7" r="0.45"/><circle cx="462.2" cy="509.7" r="0.45"/><circle cx="463.0" cy="509.7" r="0.45"/><circle cx="463.8" cy="509.7" r="0.45"/><circle cx="464.6" cy="509.7" r="0.45"/><circle cx="465.4" cy="509.8" r="0.45"/><circle cx="466.2" cy="509.8" r="0.45"/><circle cx="467.0" cy="509.8" r="0.45"/><circle cx="467.8" cy="509.8" r="0.45"/><circle cx="468.6" cy="509.8" r="0.45"/><circle cx="469.4" cy="509.8" r="0.45"/><circle cx="470.2" cy="509.8" r="0.45"/><circle cx="471.0" cy="509.8" r="0.45"/><circle cx="471.8" cy="509.8" r="0.45"/><circle cx="472.6" cy="509.8" r="0.45"/><circle cx="473.4" cy="509.8" r="0.45"/><circle cx="474.2" cy="509.8" r="0.45"/><circle cx="475.0" cy="509.8" r="0.45"/><circle cx="475.8" cy="509.8" r="0.45"/><circle cx="476.6" cy="509.8" r="0.45"/><circle cx="477.4" cy="509.8" r="0.45"/><circle cx="478.2" cy="509.8" r="0.45"/><circle cx="479.0" cy="509.8" r="0.45"/><circle cx="479.8" cy="509.8" r="0.45"/><circle cx="480.6" cy="509.8" r="0.45"/><circle cx="481.4" cy="509.8" r="0.45"/><circle cx="482.2" cy="509.8" r="0.45"/><circle cx="483.0" cy="509.8" r="0.45"/><circle cx="483.8" cy="509.8" r="0.45"/><circle cx="484.6" cy="509.8" r="0.45"/><circle cx="485.4" cy="509.8" r="0.45"/><circle cx="486.2" cy="509.8" r="0.45"/><circle cx="487.0" cy="509.8" r="0.45"/><circle cx="487.8" cy="509.7" r="0.45"/><circle cx="488.6" cy="509.7" r="0.45"/><circle cx="489.4" cy="509.7" r="0.45"/><circle cx="490.2" cy="509.7" r="0.45"/><circle cx="491.0" cy="509.6" r="0.45"/><circle cx="491.8" cy="509.6" r="0.45"/><circle cx="492.6" cy="509.5" r="0.45"/><circle cx="493.4" cy="509.4" r="0.45"/><circle cx="494.2" cy="509.4" r="0.45"/><circle cx="495.0" cy="509.2" r="0.45"/><circle cx="495.8" cy="509.0" r="0.45"/><circle cx="496.6" cy="505.4" r="0.45"/><circle cx="497.4" cy="503.3" r="0.45"/><circle cx="498.2" cy="500.5" r="0.45"/><circle cx="499.0" cy="497.6" r="0.45"/><circle cx="499.8" cy="494.7" r="0.45"/><circle cx="500.6" cy="491.7" r="0.45"/><circle cx="501.4" cy="488.6" r="0.45"/><circle cx="502.2" cy="485.3" r="0.45"/><circle cx="503.0" cy="482.0" r="0.45"/><circle cx="503.8" cy="478.1" r="0.45"/><circle cx="504.6" cy="473.9" r="0.45"/><circle cx="505.4" cy="470.1" r="0.45"/><circle cx="506.2" cy="467.4" r="0.45"/><circle cx="507.0" cy="465.3" r="0.45"/><circle cx="507.8" cy="463.9" r="0.45"/><circle cx="508.6" cy="463.3" r="0.45"/><circle cx="509.4" cy="463.6" r="0.45"/><circle cx="510.2" cy="464.8" r="0.45"/><circle cx="511.0" cy="466.8" r="0.45"/><circle cx="511.8" cy="469.6" r="0.45"/><circle cx="512.6" cy="473.3" r="0.45"/><circle cx="513.4" cy="477.6" r="0.45"/><circle cx="514.2" cy="481.9" r="0.45"/><circle cx="515.0" cy="486.3" r="0.45"/><circle cx="515.8" cy="491.0" r="0.45"/><circle cx="516.6" cy="495.4" r="0.45"/><circle cx="517.4" cy="498.7" r="0.45"/><circle cx="518.2" cy="501.2" r="0.45"/><circle cx="519.0" cy="503.0" r="0.45"/><circle cx="519.8" cy="504.6" r="0.45"/><circle cx="520.6" cy="506.2" r="0.45"/><circle cx="521.4" cy="507.5" r="0.45"/><circle cx="522.2" cy="508.3" r="0.45"/><circle cx="523.0" cy="508.8" r="0.45"/><circle cx="523.8" cy="509.6" r="0.45"/><circle cx="524.6" cy="509.6" r="0.45"/><circle cx="525.4" cy="509.6" r="0.45"/><circle cx="526.2" cy="509.6" r="0.45"/><circle cx="527.0" cy="509.6" r="0.45"/><circle cx="527.8" cy="509.6" r="0.45"/><circle cx="528.6" cy="509.6" r="0.45"/><circle cx="529.4" cy="509.6" r="0.45"/><circle cx="530.2" cy="509.6" r="0.45"/><circle cx="531.0" cy="509.6" r="0.45"/><circle cx="531.8" cy="509.6" r="0.45"/><circle cx="532.6" cy="509.6" r="0.45"/><circle cx="533.4" cy="509.6" r="0.45"/><circle cx="534.2" cy="509.6" r="0.45"/><circle cx="535.0" cy="509.6" r="0.45"/><circle cx="535.8" cy="509.6" r="0.45"/><circle cx="536.6" cy="509.6" r="0.45"/><circle cx="537.4" cy="509.6" r="0.45"/><circle cx="538.2" cy="509.6" r="0.45"/><circle cx="539.0" cy="509.6" r="0.45"/><circle cx="539.8" cy="509.6" r="0.45"/><circle cx="540.6" cy="509.6" r="0.45"/><circle cx="541.4" cy="509.6" r="0.45"/><circle cx="542.2" cy="509.6" r="0.45"/><circle cx="543.0" cy="509.6" r="0.45"/><circle cx="543.8" cy="509.6" r="0.45"/><circle cx="544.6" cy="509.7" r="0.45"/><circle cx="545.4" cy="509.7" r="0.45"/><circle cx="546.2" cy="509.7" r="0.45"/><circle cx="547.0" cy="509.7" r="0.45"/><circle cx="547.8" cy="509.7" r="0.45"/><circle cx="548.6" cy="509.7" r="0.45"/><circle cx="549.4" cy="509.7" r="0.45"/><circle cx="550.2" cy="509.7" r="0.45"/><circle cx="551.0" cy="509.7" r="0.45"/><circle cx="551.8" cy="509.7" r="0.45"/><circle cx="552.6" cy="509.7" r="0.45"/><circle cx="553.4" cy="509.7" r="0.45"/><circle cx="554.2" cy="509.7" r="0.45"/><circle cx="555.0" cy="509.7" r="0.45"/><circle cx="555.8" cy="509.7" r="0.45"/><circle cx="556.6" cy="509.7" r="0.45"/><circle cx="557.4" cy="509.7" r="0.45"/><circle cx="558.2" cy="509.7" r="0.45"/><circle cx="559.0" cy="509.7" r="0.45"/><circle cx="559.8" cy="509.7" r="0.45"/><circle cx="560.6" cy="509.7" r="0.45"/><circle cx="561.4" cy="509.7" r="0.45"/><circle cx="562.2" cy="509.7" r="0.45"/><circle cx="563.0" cy="509.7" r="0.45"/><circle cx="563.8" cy="509.7" r="0.45"/><circle cx="564.6" cy="509.7" r="0.45"/><circle cx="565.4" cy="509.7" r="0.45"/><circle cx="566.2" cy="509.7" r="0.45"/><circle cx="567.0" cy="509.7" r="0.45"/><circle cx="567.8" cy="509.7" r="0.45"/><circle cx="568.6" cy="509.7" r="0.45"/><circle cx="569.4" cy="509.7" r="0.45"/><circle cx="570.2" cy="509.7" r="0.45"/><circle cx="571.0" cy="509.7" r="0.45"/><circle cx="571.8" cy="509.7" r="0.45"/><circle cx="572.6" cy="509.7" r="0.45"/><circle cx="573.4" cy="509.7" r="0.45"/><circle cx="574.2" cy="509.7" r="0.45"/><circle cx="575.0" cy="509.7" r="0.45"/><circle cx="575.8" cy="509.7" r="0.45"/><circle cx="576.6" cy="509.7" r="0.45"/><circle cx="577.4" cy="509.7" r="0.45"/><circle cx="578.2" cy="509.7" r="0.45"/><circle cx="579.0" cy="509.7" r="0.45"/><circle cx="579.8" cy="509.7" r="0.45"/><circle cx="580.6" cy="509.7" r="0.45"/><circle cx="581.4" cy="509.7" r="0.45"/><circle cx="582.2" cy="509.7" r="0.45"/><circle cx="583.0" cy="509.7" r="0.45"/><circle cx="583.8" cy="509.7" r="0.45"/><circle cx="584.6" cy="509.7" r="0.45"/><circle cx="585.4" cy="509.7" r="0.45"/><circle cx="586.2" cy="509.7" r="0.45"/><circle cx="587.0" cy="509.7" r="0.45"/><circle cx="587.8" cy="509.7" r="0.45"/><circle cx="588.6" cy="509.7" r="0.45"/><circle cx="589.4" cy="509.7" r="0.45"/><circle cx="590.2" cy="509.7" r="0.45"/><circle cx="591.0" cy="509.7" r="0.45"/><circle cx="591.8" cy="509.7" r="0.45"/><circle cx="592.6" cy="509.7" r="0.45"/><circle cx="593.4" cy="509.7" r="0.45"/><circle cx="594.2" cy="509.7" r="0.45"/><circle cx="595.0" cy="509.7" r="0.45"/><circle cx="595.8" cy="509.7" r="0.45"/><circle cx="596.6" cy="509.7" r="0.45"/><circle cx="597.4" cy="509.7" r="0.45"/><circle cx="598.2" cy="509.7" r="0.45"/><circle cx="599.0" cy="509.7" r="0.45"/><circle cx="599.8" cy="509.7" r="0.45"/><circle cx="600.6" cy="509.7" r="0.45"/><circle cx="601.4" cy="509.7" r="0.45"/><circle cx="602.2" cy="509.7" r="0.45"/><circle cx="603.0" cy="509.7" r="0.45"/><circle cx="603.8" cy="509.7" r="0.45"/><circle cx="604.6" cy="509.7" r="0.45"/><circle cx="605.4" cy="509.7" r="0.45"/><circle cx="606.2" cy="509.7" r="0.45"/><circle cx="607.0" cy="509.7" r="0.45"/><circle cx="607.8" cy="509.7" r="0.45"/><circle cx="608.6" cy="509.7" r="0.45"/><circle cx="609.4" cy="509.7" r="0.45"/><circle cx="610.2" cy="509.7" r="0.45"/><circle cx="611.0" cy="509.7" r="0.45"/><circle cx="611.8" cy="509.7" r="0.45"/><circle cx="612.6" cy="509.7" r="0.45"/><circle cx="613.4" cy="509.7" r="0.45"/><circle cx="614.2" cy="509.7" r="0.45"/><circle cx="615.0" cy="509.7" r="0.45"/><circle cx="615.8" cy="509.7" r="0.45"/><circle cx="616.6" cy="509.7" r="0.45"/><circle cx="617.4" cy="509.7" r="0.45"/><circle cx="618.2" cy="509.7" r="0.45"/><circle cx="619.0" cy="509.7" r="0.45"/><circle cx="619.8" cy="509.7" r="0.45"/><circle cx="620.6" cy="509.7" r="0.45"/><circle cx="621.4" cy="509.7" r="0.45"/><circle cx="622.2" cy="509.7" r="0.45"/><circle cx="623.0" cy="509.7" r="0.45"/><circle cx="623.8" cy="509.7" r="0.45"/><circle cx="624.6" cy="509.7" r="0.45"/><circle cx="625.4" cy="509.7" r="0.45"/><circle cx="626.2" cy="509.7" r="0.45"/><circle cx="627.0" cy="509.7" r="0.45"/><circle cx="627.8" cy="509.7" r="0.45"/><circle cx="628.6" cy="509.7" r="0.45"/><circle cx="629.4" cy="509.7" r="0.45"/><circle cx="630.2" cy="509.7" r="0.45"/><circle cx="631.0" cy="509.7" r="0.45"/><circle cx="631.8" cy="509.7" r="0.45"/><circle cx="632.6" cy="509.7" r="0.45"/><circle cx="633.4" cy="509.7" r="0.45"/><circle cx="634.2" cy="509.7" r="0.45"/><circle cx="635.0" cy="509.7" r="0.45"/><circle cx="635.8" cy="509.7" r="0.45"/><circle cx="636.6" cy="509.7" r="0.45"/><circle cx="637.4" cy="509.7" r="0.45"/><circle cx="638.2" cy="509.7" r="0.45"/><circle cx="639.0" cy="509.7" r="0.45"/><circle cx="639.8" cy="509.7" r="0.45"/><circle cx="640.6" cy="509.7" r="0.45"/><circle cx="641.4" cy="509.7" r="0.45"/><circle cx="642.2" cy="509.7" r="0.45"/><circle cx="643.0" cy="509.7" r="0.45"/><circle cx="643.8" cy="509.7" r="0.45"/><circle cx="644.6" cy="509.7" r="0.45"/><circle cx="645.4" cy="509.7" r="0.45"/><circle cx="646.2" cy="509.7" r="0.45"/><circle cx="647.0" cy="509.7" r="0.45"/><circle cx="647.8" cy="509.7" r="0.45"/><circle cx="648.6" cy="509.7" r="0.45"/><circle cx="649.4" cy="509.7" r="0.45"/><circle cx="650.2" cy="509.7" r="0.45"/><circle cx="651.0" cy="509.6" r="0.45"/><circle cx="651.8" cy="509.6" r="0.45"/><circle cx="652.6" cy="509.6" r="0.45"/><circle cx="653.4" cy="509.6" r="0.45"/><circle cx="654.2" cy="509.6" r="0.45"/><circle cx="655.0" cy="509.6" r="0.45"/><circle cx="655.8" cy="509.6" r="0.45"/><circle cx="656.6" cy="509.6" r="0.45"/><circle cx="657.4" cy="509.6" r="0.45"/><circle cx="658.2" cy="509.6" r="0.45"/><circle cx="659.0" cy="509.6" r="0.45"/><circle cx="659.8" cy="509.6" r="0.45"/><circle cx="660.6" cy="509.6" r="0.45"/><circle cx="661.4" cy="509.6" r="0.45"/><circle cx="662.2" cy="509.6" r="0.45"/><circle cx="663.0" cy="509.6" r="0.45"/><circle cx="663.8" cy="509.6" r="0.45"/><circle cx="664.6" cy="509.6" r="0.45"/><circle cx="665.4" cy="509.6" r="0.45"/><circle cx="666.2" cy="509.6" r="0.45"/><circle cx="667.0" cy="509.6" r="0.45"/><circle cx="667.8" cy="509.6" r="0.45"/><circle cx="668.6" cy="509.6" r="0.45"/><circle cx="669.4" cy="509.6" r="0.45"/><circle cx="670.2" cy="509.6" r="0.45"/><circle cx="671.0" cy="509.6" r="0.45"/><circle cx="671.8" cy="509.5" r="0.45"/><circle cx="672.6" cy="509.5" r="0.45"/><circle cx="673.4" cy="509.5" r="0.45"/><circle cx="674.2" cy="509.5" r="0.45"/><circle cx="675.0" cy="509.5" r="0.45"/><circle cx="675.8" cy="509.5" r="0.45"/><circle cx="676.6" cy="509.4" r="0.45"/></g></g><rect x="405.5" y="324.2" width="268.8" height="216.0" fill="none" stroke="#000" stroke-width="1.7"/><path d="M82.1 521.45 V515.3 A5.5 5.5 0 0 1 87.6 509.8 H162.4 A5.5 5.5 0 0 1 167.9 515.3 V521.45 M82.1 521.45 V527.6 A5.5 5.5 0 0 0 87.6 533.1 H162.4 A5.5 5.5 0 0 0 167.9 527.6 V521.45" fill="none" stroke="#555" stroke-width="1.6" stroke-dasharray="6.9 6.8" stroke-dashoffset="6.41"/><path d="M167.9 517.7 V526 M82.1 513 V522.5" stroke="#555" stroke-width="1.6"/><path d="M167.2 509.7 L403.2 328.7" stroke="#555" stroke-width="1.6" stroke-dasharray="7.3 6.25" stroke-dashoffset="2.14" fill="none"/><path d="M168 530.4 L403.2 538.1" stroke="#555" stroke-width="1.6" stroke-dasharray="7 6.3" fill="none"/><path d="M394.9 329.4 L403.9 328.6 L400.4 337.2 M396.4 532.7 L404.2 538.1 L396.1 543.0" stroke="#555" stroke-width="1.6" fill="none" stroke-linejoin="miter"/></svg></body></html>
